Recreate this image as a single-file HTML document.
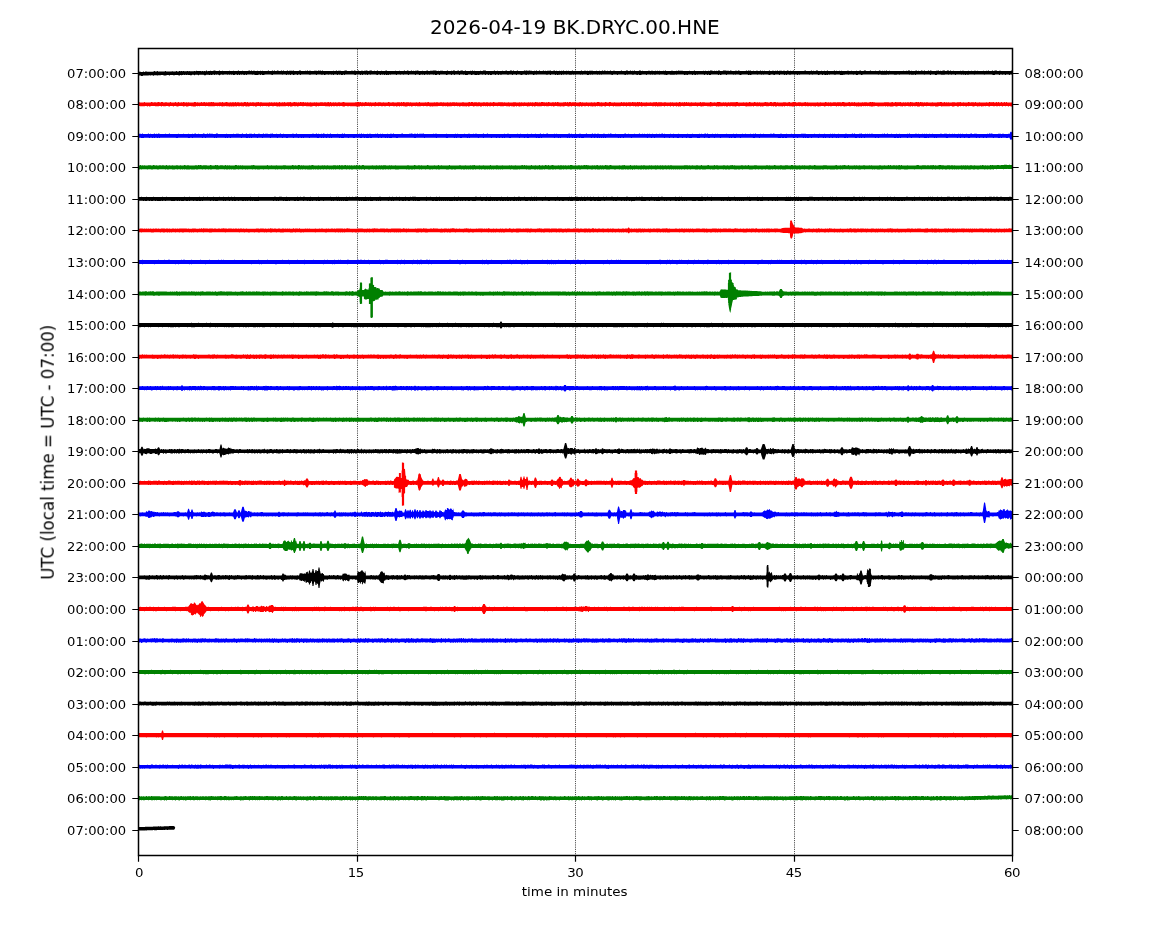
<!DOCTYPE html>
<html lang="en"><head><meta charset="utf-8"><title>2026-04-19 BK.DRYC.00.HNE</title>
<style>
html,body{margin:0;padding:0;background:#fff;}
svg{display:block;}
text{font-family:'DejaVu Sans','Liberation Sans',sans-serif;fill:#000;}
.g{will-change:transform;}
.t{font-size:13.33px;}
</style></head><body>
<svg width="1150" height="950" viewBox="0 0 1150 950">
<rect width="1150" height="950" fill="#fff"/>
<g stroke="#000" stroke-width="0.95" stroke-dasharray="0.7 1.14" fill="none">
<path d="M357.5 855.5V48.5"/>
<path d="M575.5 855.5V48.5"/>
<path d="M794.5 855.5V48.5"/>
</g>
<path fill="#000000" d="M138 72h.8l.2-.3h.5l.3-.1l.2 .2h.8l.2 .2h1.8l.2-.4h.8l.2 .4l.8-.1l.2-.3h1.8l.2 .2h3.8l.4-.1h1.8l.5-.1h.3l.2-.5h.8l.2 .3h.8l.2 .2l.5-.1h.3l.2-.4h.8l.2 .6l.5-.1h1.3l.4-.1h.6l.4 .1h1.6l.4-.1h1.6l.2-.4h.8l.2 .3h2.8l.4 .1h2.3l.7-.3h.6l.2 .2h2.8l.2-.3h.8l.2 .3h1.8l.2-.4h.8l.2 .3h.8l.2-.3h.8l.2 .2h.8l.4-.1h.6l.2 .2h.8l.4-.1h1.6l.2-.3h.8l.2 .4h.8l1-.2l.2 .2h.8l.4-.1h2.6l.2-.3h.8l.2 .3h.8l.2-.5h.8l.2 .4h2.8l.4-.1h.6l.2 .2h.8l.4-.1h.6l.4 .1h.6l.4-.1h.6l.4 .1h.6l.2-.6h.8l.2 .6h.8l.2-.2h.8l.4 .1h.6l.2-.3l.8-.1l.2 .3h.8l.4 .1h.6l.2-.3h.8l.2-.2h.8l.4 .1h.6l.2 .3h.8l.4 .1h1.6l.2-.5h.8l.2 .4h.8l.4 .1h.6l.2-.4h.8l.2 .2h.8l.4 .1h.6l.4 .1h1.3l.3-.1l.4 .1h1.6l.2-.4h.8l.2 .3h1.8l.4 .1h.6l.2-.3h.8l.2 .3h.8l.4-.1h.6l.4 .1h1.6l.2-.6h.8l.2 .4h.8l.4 .1h1.6l.2-.3h.8l.2 .3h.8l.4-.1h1.6l.4 .1h1.6l.2-.2h.8l.2-.2h.8l.2 .4h.8l.2-.4h.5l.3-.1l.2 .5h.8l.2-.2h.8l.4-.1h.6l.2 .3h1.8l.2-.3h.8l.2 .3h.8l.4-.1h.6l.2-.2h.8l.2 .2h.8l.4-.1h.6l.2 .2h4.8l.2-.5h.8l.2 .4h.8l.4 .1h1.6l.2-.5h.8l.2 .5h.8l.2-.6h.8l.2 .5h1.8l.2-.3h.8l.2 .2h.8l.4 .1h.6l.4 .1h.6l.2-.4h.8l.2 .4h.8l.2-.5h.8l.2 .5h1.8l.4-.1h.6l.2-.4h.8l.2 .5h.8l.2-.3h.8l.4 .1h1.6l.4 .1l.6-.1l.2-.4h.8l.2 .6h4.8l.2-.5h.8l.4 .1h.6l.2 .4h.8l.4-.1h2.6l.4-.1h.6l.2 .2h.8l.2-.5h.8l.2 .4h.8l.4-.1h1.6l.2 .2h1.8l.4-.1h.6l.2-.2h1.8l.4 .1h.6l.2 .2h.8l.2-.5h.8l.2 .2h.8l.4-.1h.6l.2 .3h.8l.2-.4h.8l.2 .5h5.8l.4-.1h.6l.4 .1h.6l.4-.1h.6l.4 .1h.6l.2-.2h.8l.2 .2h1.8l.2-.5h.8l.2 .4h.8l.2-.2h.8l.4 .1h1.6l.2 .2h.8l.4-.1h.6l.4 .1h.6l.2-.3h.8l.2-.2h.8l.4 .1h.6l.2 .4h3.8l.2-.2h.8l.4-.1h.6l.2 .3h.8l.2-.4h.8l.4 .1h.6l.2 .3h.8l.2-.3h.8l.4-.1h.6l.2 .4h.8l.4-.1h.6l.4-.1h1.6l.2 .2h.8l.2-.2h1.8l.2-.2h.8l.4 .1h.6l.2 .3h.8l.2-.2h.8l.2-.2h1.8l.2 .4h1.8l.2-.2h.8l.2 .2h.8l.4-.1h.6l.2-.4h.8l.2 .4h.8l.4 .1h.6l.4-.1h.6l.4-.1h.6l.2 .2h.8l.4-.1h.6l.4 .1h.6l.2-.2h.8l.2-.2h.8l.2 .3h.8l.4 .1h.6l.4-.1h.6l.4 .1h2.6l.4-.1h.6l.4 .1h.6l.2-.3h.8l.2 .2h.8l.4 .1h1.6l.2-.3h.8l.2 .3h3.8l.2-.5h.8l.2 .5h1.8l.2-.4h.8l.2 .2h.8l.2 .2h.8l.4-.1h.6l.2-.3h.8l.2 .3h.8l.4-.1h.6l.2 .2h.8l.2-.3h1.8l.4-.1h.6l.2 .2h.8l.2 .2h1.8l.4-.1h.6l.2-.2h.8l.2 .3h1.8l.4-.1h.6l.2-.2h.8l.2-.2h.8l.2 .5h1.8l.2-.3h.8l.4 .1h1.6l.2-.4h.8l.4 .1h.6l.4 .1h.6l.4 .1h.6l.2 .2h.8l.4-.1h.6l.2 .2h.8l.2-.3h1.8l.4 .1h.6l.4 .1h2.6l.4 .1h.6l.2-.4h.8l.2 .3h2.8l.4-.1h.6l.4 .1h.6l.2-.3h.8l.4-.1h.6l.2 .4h.8l.4 .1h.6l.2-.3h.8l.2-.3h.8l.2 .6h.8l.2-.2h.8l.2-.2h.8l.4-.1h.6l.2 .5h1.8l.2-.6h.8l.2 .6h1.8l.4-.1h1.6l.2-.2h.8l.2 .3h.8l.2-.5h.8l.2 .5h.8l.2-.3h.8l.2 .3h.8l.4-.1h.6l.4 .1h2.6l.2-.2h.8l.4 .1h.6l.4 .1h.6l.2-.6h.8l.2 .2h.8l.4-.1h.6l.2 .5h.8l.4-.1h.6l.4 .1h2.6l.4-.1h.6l.4 .1h1.6l.2-.4h.8l.2 .3h.8l.4 .1h.6l.2-.2h.8l.2 .2h.8l.4-.1h.6l.4 .1h.6l.4-.1h.6l.4-.1h.6l.4 .1h1.6l.2-.2h.8l.4-.1h.6l.2 .4h2.8l.2-.6h.8l.4 .1h.6l.2 .5h.8l.2-.6h.8l.2 .6h.8l.4-.1h1.6l.2-.4h.8l.2 .5h1.8l.4-.1h.6l.4 .1h1.6l.4-.1h.6l.2-.3h.8l.4 .1h.6l.4-.1h.6l.4 .1h.6l.4 .1h.6l.2-.2h.8l.2 .2h.8l.4-.1h.6l.2 .3h1.8l.2-.3h.8l.2 .3h.8l.2-.5h.8l.2 .4h.8l.4 .1h.6l.2-.5h.8l.2 .5h.8l.4-.1h.6l.4 .1h.6l.2-.6h.8l.2 .5h.8l.2-.2h.8l.2 .3h.8l.2-.3h.8l.4 .1h1.6l.2-.3h.8l.2 .4h1.8l.4-.1h.6l.2-.2h.8l.2 .4h.8l.2-.2h.8l.2 .2h.8l.4-.1h.6l.2-.2h.8l.2 .3h.8l.2-.3h.8l.2 .3h.8l.2-.5h.8l.2 .4h1.8l.4-.1h.6l.4 .1h.6l.2-.2h.8l.2 .3h.8l.4-.1h1.6l.2-.4h.8l.2 .5h.8l.4-.1h.6l.4-.1h.6l.4 .1h.6l.4 .1h.6l.4-.1h.6l.4 .1h1.6l.2-.4h.8l.2 .4h.8l.4-.1h.6l.2-.2h.8l.4 .1h.6l.4 .1h.6l.2-.2h.8l.2 .2h.8l.4-.1h.6l.4-.1h.6l.4 .1h1.6l.4 .1h2.6l.2-.2h.8l.2 .2h1.8l.2-.2h.8l.2 .2h.8l.4 .1h.6l.2-.4h.8l.2 .3h.8l.2-.3h.8l.4 .1h.6l.2 .2h.8l.4-.1h.6l.2 .2h.8l.4-.1h.6l.2-.3h.8l.2 .3h1.8l.4-.1h1.6l.4 .1h1.6l.4 .1h2.6l.4-.1h.6l.2-.5h.8l.2 .6h.8l.4-.1h2.6l.2-.4h.8l.4 .1h.6l.2 .3h.8l.4 .1h.6l.2-.4h.8l.2 .3h.8l.4-.1h.6l.2 .2h.8l.2-.4h.8l.2 .4h.8l.4-.1h.6l.4 .1h.6l.4-.1h.6l.2-.3h1.8l.2 .3h.8l.2-.2h.8l.2 .2h2.8l.4 .1h1.6l.2-.2h.8l.4-.1h.6l.2 .3h.8l.2-.3h1.8l.2 .2h.8l.4 .1h.6l.2-.2h.8l.2 .2h.8l.2-.2h.8l.4 .1h.6l.4-.1h.6l.2 .2h.8l.4-.1h1.6l.4-.1h.6l.2 .2h.8l.2-.6h.8l.2 .6h3.8l.4-.1h.6l.2-.2h.8l.4 .1h.6l.2 .2h2.8l.2-.3h.8l.2 .2h.8l.2-.4h.8l.2 .3h1.8l.4-.1h1.6l.2 .3h1.8l.4-.1h1.6l.4 .1h.6l.4-.1h.6l.4-.1h.6l.2 .2h3.8l.2-.6h.8l.2 .6h2.8l.4-.1h.6l.4 .1h.6l.4-.1h.6l.4 .1h1.6l.2-.3h.8l.2 .3h.8l.2-.2h.8l.4 .1h1.6l.2-.2h.8l.2 .3h.8l.2-.5h.8l.4 .1h.6l.2 .2h.8l.2 .2h.8l.2-.2h.8l.4 .1h.6l.2-.2h.8l.2 .3h.8l.2-.5h.8l.4 .1h.6l.2 .4h2.8l.2-.4h.8l.4-.1h.6l.4-.1h.6l.2 .4h2.8l.4 .1h.6l.2-.4h.8l.2 .3h.8l.2 .2h.8l.4-.1h.6l.4 .1h.6l.2-.2h1.8l.4 .1h.6l.2-.3h.8l.4 .1h.6l.2 .3h4.8l.4-.1h.6l.2-.4h.8l.2 .5h.8l.2-.5h.8l.2 .3h.8l.2-.2h.8l.2 .3h.8l.4 .1h.6l.2-.3h.8l.2 .3h1.8l.2-.3h.8l.4 .1h.6l.2 .2h1.8l.2-.5h.8l.2 .5h.8l.2-.2h.8l.2 .2h.8l.2-.3h.8l.2 .3h.8l.4-.1h.6l.4 .1h.6l.4-.1h.6l.2-.3h.8l.2 .4h1.8l.2-.3h.8l.4 .1h.6l.2 .2h.8l.2-.2h.8l.4 .1h.6l.2-.3h.8l.2 .4h.8l.2-.3h.8l.4 .1h.6l.4-.1h.6l.2 .2h.8l.4-.1h1.6l.4 .1h.6l.4 .1h.6l.2-.6h.8l.2 .4h.8l.2 .2h.8l.2-.3h.8l.2 .3h.8l.4-.1h.6l.2-.3h.8l.2 .3h.8l.4 .1h6.6l.4-.1h.6l.4 .1h.6l.2-.3h.8l.2-.2h.8l.2 .5h.8l.4-.1h1.6l.4 .1h1.6l.2-.4h.8l.2 .3h.8l.2-.2h.8l.2 .3h.8l.4-.1h.6l.2-.3h1.8l.2 .4h.8l.4-.1h1.6l.2-.2h.8l.2 .3h1.8l.2-.3h.8l.2 .2h1.8l.2-.5h.8l.2 .6h1.8l.4-.1h.6l.4 .1h1.6l.4-.1h.6l.2-.4h.8l.2 .4h.8l.4-.1h.6l.2 .2h.8l.4-.1h.6l.2-.2h.8l.2 .2h.8l.2-.2h.8l.2 .2h.8l.4 .1h.6l.4-.1h1.6l.4 .1h.6l.2-.2h.8l.4-.1h.6l.2 .3h.8l.4-.1h.6l.2-.2h.8l.2 .2h.8l.4 .1h.6l.4-.1h1.6l.4-.1h.6l.4 .1h.6l.4 .1h.6l.2-.3h.8l.2-.2h.8l.2 .5h2.8l.2-.4h.8l.4-.1h.6l.2 .5h2.8l.4-.1h.6l.2-.4h.8l.2 .5h1.8l.4-.1h1.6l.2-.2h.8l.2 .2h.8l.4 .1h1.6l.2-.6h.8l.2 .3h.8l.2 .3h.8l.2-.3h.8l.2 .3h.8l.2-.3h.8l.2 .3h.8l.2-.4h.8l.2 .4h.8l.4-.1h.6l.4-.1h.6l.4 .1h.6l.4 .1h5.6l.4-.1h.6l.4 .1h.6l.4-.1h.6l.4 .1h2.6l.2-.3h.8l.2 .3h.8l.4-.1h.6l.2-.2h.8l.2 .2h.8l.2-.3h.8l.4-.1h.6l.2 .5h.8l.2-.3h.8l.2 .3h1.8l.4-.1h.6l.4-.1h.6l.2-.3h.8l.2 .5h.8l.2-.2h.8l.4 .1h.6l.4 .1h.6l.2-.6h.8l.2 .4h.8l.2 .2h.8l.2-.5h.8l.2 .5h2.8l.2-.5h.8l.2 .5h.8l.2-.5h.8l.2 .3h.8l.2 .2h.8l.4-.1h2.6l.2-.2h.8l.4 .1h.6l.2-.4h.8l.2 .6h.8l.2-.3h.8l.2 .2h.8l.2-.2h.8l.4-.1h.6l.2-.2h.8l.2 .6h.8l.4-.1h.6l.2-.4h1.8l.2 .4h.8l.2-.4h.8l.2 .4h1.8l.2-.2h.8l.2 .2h3.8l.4 .1h1.6l.2-.3h.8l.2 .2h.8l.4-.1h.6l.4-.1h.6l.2 .3h3.8l.2-.3h.8l.2 .2h.8l.4 .1h.6l.2-.2h.8l.2 .2h1.8l.2-.2h.8l.4-.1h.6l.2 .3h.8l.2-.2h.8l.2 .2h.8l.4-.1h1.6l.4 .1h1.6l.2-.2h.8l.4 .1h.6l.4 .1h.6l.2-.2h.8l.2 .2h.8l.2-.6h.8l.2 .6h2.8l.2-.6h.8l.2 .6h.8l.2-.2h.8l.2-.4h.8l.4 .1h.6l.2 .5h.8l.4-.1h.6l.4-.1h1.6l.2 .2h3.8l.4-.1h.6l.4 .1h4.6l.2-.5h.8l.2 .4h.5v4h-.5l-.2-.4h-1.8l-.2 .4h-.8l-.2-.4h-.6l-.4 .1h-.6l-.4-.1h-.8l-.2 .5h-.8l-.2-.5h-.6l-.4 .1h-.6l-.4 .1h-.8l-.2-.2h-1.8l-.2 .5h-.8l-.2-.5h-3.8l-.2 .4h-.6l-.4 .1h-.8l-.2-.3h-.6l-.4-.1h-.6l-.4-.1h-2.6l-.4 .1h-.6l-.4-.1h-1.8l-.2 .3h-.8l-.2-.3h-6.6l-.4 .1h-.6l-.4-.1h-.8l-.2 .3h-.8l-.2-.3h-.6l-.4 .1h-1.6l-.4-.1h-1.8l-.2 .3h-.6l-.4-.1h-.8l-.2-.2h-.8l-.2 .4h-.8l-.2-.4h-.8l-.2 .2h-.8l-.2-.2h-.8l-.2 .3h-.8l-.2-.3h-.6l-.4 .1h-.6l-.4-.1h-2.8l-.2 .6h-.8l-.2-.6h-2.8l-.2 .3h-.8l-.2-.3h-1.8l-.2 .2h-.6l-.4-.1h-.6l-.4-.1h-1.8l-.2 .2h-1.6l-.4 .1h-.6l-.4-.1h-.8l-.2-.2h-3.8l-.2 .5h-.6l-.4-.1h-.8l-.2-.4h-1.6l-.4 .1h-.6l-.4-.1h-.8l-.2 .5h-.8l-.2-.5h-4.8l-.2 .3h-.8l-.2-.3h-2.6l-.4 .1h-1.6l-.4-.1h-1.6l-.4 .1h-.8l-.2 .4h-.8l-.2-.5h-.8l-.2 .2h-2.8l-.2-.2h-.8l-.2 .2h-.6l-.4-.1h-1.6l-.4-.1h-.6l-.4 .1h-.6l-.4-.1h-4.8l-.2 .3h-.8l-.2-.2h-.6l-.4-.1h-.8l-.2 .3h-.6l-.4-.1h-1.8l-.2-.2h-4.8l-.2 .2h-.8l-.2-.2h-.8l-.2 .2h-1.6l-.4 .1h-1.6l-.4-.1h-1.8l-.2-.2h-.6l-.4 .1h-.8l-.2 .2h-.8l-.2-.3h-.6l-.4 .1h-1.6l-.4-.1h-10.6l-.4 .1h-.6l-.4 .1h-.8l-.2 .2h-.8l-.2-.4h-.6l-.4 .1h-1.8l-.2 .3h-1.8l-.2-.4h-1.8l-.2 .2h-.8l-.2-.2h-3.8l-.2 .3h-.8l-.2-.3h-2.8l-.2 .2h-1.8l-.2 .3h-2.8l-.2-.5h-3.8l-.2 .3h-1.8l-.2-.3h-3.8l-.2 .3h-.8l-.2-.2h-.8l-.2 .3h-.6l-.4-.1h-.6l-.4 .1h-.8l-.2-.2h-.8l-.2-.2h-.8l-.2 .4h-.8l-.2-.4h-1.8l-.2 .3h-.6l-.4 .1h-.8l-.2-.4h-.6l-.4 .1h-.6l-.4-.1h-1.6l-.4 .1h-.8l-.2 .2h-.8l-.2-.3h-1.8l-.2 .3h-.8l-.2-.3h-7.6l-.4 .1h-.6l-.4 .1h-.8l-.2-.2h-.8l-.2 .5h-.8l-.2-.5h-1.8l-.2 .2h-.6l-.4-.1h-.6l-.4-.1h-1.8l-.2 .2h-.6l-.4 .1h-.8l-.2-.3h-1.8l-.2 .6h-.8l-.2-.5h-.8l-.2 .3h-.8l-.2-.4h-3.8l-.2 .4h-.8l-.2-.3h-.6l-.4-.1h-1.6l-.4 .1h-.8l-.2 .4h-.8l-.2-.2h-.8l-.2-.3h-1.8l-.2 .2h-.8l-.2 .4h-.8l-.2-.4h-.8l-.2-.2h-3.8l-.2 .2h-.6l-.4-.1h-.6l-.4 .1h-.8l-.2-.2h-2.8l-.2 .3h-.8l-.2-.3h-4.8l-.2 .2h-.8l-.2 .2h-.8l-.2-.2h-.8l-.2 .3h-.8l-.2-.5h-3.6l-.4 .1h-.6l-.4-.1h-.8l-.2 .3h-.8l-.2 .3h-.8l-.2-.4h-.8l-.2-.2h-.6l-.4 .1h-.6l-.4-.1h-.8l-.2 .3h-.8l-.2-.3h-.8l-.2 .2h-.8l-.2-.2h-1.6l-.4 .1h-.6l-.4-.1h-2.8l-.2 .5h-.8l-.2-.5h-1.6l-.4 .1h-.6l-.4-.1h-.8l-.2 .2h-.8l-.2 .4h-.8l-.2-.5h-.8l-.2 .4h-.8l-.2-.5h-5.6l-.4 .1h-.8l-.2 .3h-.6l-.4 .1h-.8l-.2-.5h-.8l-.2 .5h-.8l-.2-.5h-1.8l-.2 .6h-.8l-.2-.6h-2.6l-.4 .1h-.6l-.4-.1h-1.8l-.2 .3h-.8l-.2-.2h-.8l-.2 .3h-.8l-.2-.2h-.8l-.2-.2h-.8l-.2 .5h-.8l-.2-.5h-1.6l-.4 .1h-.6l-.4-.1h-.8l-.2 .6h-.8l-.2-.4h-1.8l-.2 .2h-.8l-.2-.4h-1.6l-.4 .1h-.6l-.4-.1h-2.6l-.4 .1h-.6l-.4 .1h-.8l-.2-.2h-.8l-.2 .3h-.6l-.4-.1h-2.6l-.4 .1h-.8l-.2-.3h-.6l-.4 .1h-.8l-.2 .2h-.8l-.2 .2h-.8l-.2-.2h-1.8l-.2-.3h-3.8l-.2 .2h-.8l-.2-.2h-2.8l-.2 .2h-1.8l-.2-.2h-.8l-.2 .3h-.8l-.2-.3h-.8l-.2 .2h-.8l-.2-.2h-2.8l-.2 .5h-.8l-.2-.4h-.6l-.4-.1h-1.6l-.4 .1h-.6l-.4 .1h-.8l-.2 .4h-.8l-.2-.2h-.8l-.2-.3h-.8l-.2 .5h-.8l-.2-.3h-.8l-.2-.3h-1.8l-.2 .2h-.6l-.4 .1h-.8l-.2-.3h-1.6l-.4 .1h-.6l-.4-.1h-.8l-.2 .3h-.8l-.2-.3h-.8l-.2 .6h-.8l-.2-.4h-.8l-.2-.2h-2.6l-.4 .1h-.6l-.4-.1h-1.8l-.2 .4h-.8l-.2-.4h-.6l-.4 .1h-.6l-.4-.1h-1.8l-.2 .4h-.8l-.2-.2h-.8l-.2-.2h-2.6l-.4 .1h-.6l-.4-.1h-.6l-.4 .1h-.6l-.4-.1h-.6l-.4 .1h-.6l-.4-.1h-.8l-.2 .2h-.8l-.2-.2h-.8l-.2 .2h-.6l-.4-.1h-.6l-.4 .1h-.6l-.4-.1h-.6l-.4-.1h-2.8l-.2 .2h-.8l-.2-.2h-.8l-.2 .3h-.8l-.2-.3h-.8l-.2 .4h-1.8l-.2-.3h-1.6l-.4-.1h-1.8l-.2 .2h-.8l-.2-.2h-.8l-.2 .2h-.8l-.2-.2h-1.6l-.4 .1h-1.6l-.4 .1h-.8l-.2-.2h-.8l-.2 .2h-.8l-.2-.2h-.8l-.2 .2h-.6l-.4 .1h-1.8l-.2-.3h-1.8l-.2 .2h-.6l-.4-.1h-.6l-.4-.1h-.8l-.2 .2h-.8l-.2-.2h-.8l-.2 .4h-.8l-.2-.3h-.8l-.2 .2h-.6l-.4-.1h-.8l-.2 .3h-.8l-.2-.5h-.8l-.2 .5h-.8l-.2-.4h-.6l-.4-.1h-.6l-.4 .1h-.6l-.4-.1h-.8l-.2 .4h-.8l-.2-.3h-.6l-.4-.1h-.8l-.2 .3h-1.8l-.2-.3h-4.6l-.4 .1h-.6l-.4-.1h-2.8l-.2 .2h-.8l-.2-.2h-.8l-.2 .2h-.8l-.2 .4h-.8l-.2-.5h-1.6l-.4-.1h-1.8l-.2 .3h-.8l-.2-.3h-.8l-.2 .5h-.8l-.2-.3h-.8l-.2-.2h-1.8l-.2 .2h-.8l-.2 .3h-.8l-.2-.3h-.6l-.4-.1h-.6l-.4-.1h-1.8l-.2 .5h-.8l-.2-.5h-.6l-.4 .1h-.6l-.4-.1h-.8l-.2 .4h-.8l-.2-.4h-1.6l-.4 .1h-.6l-.4 .1h-1.6l-.4-.1h-.6l-.4-.1h-.6l-.4 .1h-.6l-.4-.1h-1.8l-.2 .2h-1.6l-.4-.1h-.8l-.2 .3h-.8l-.2-.4h-1.8l-.2 .4h-.8l-.2-.4h-2.8l-.2 .4h-.8l-.2 .2h-.8l-.2-.6h-.8l-.2 .5h-.8l-.2-.4h-1.8l-.2 .5h-.8l-.2-.6h-1.8l-.2 .2h-.8l-.2-.2h-1.8l-.2 .3h-.6l-.4 .1h-.8l-.2-.2h-.8l-.2 .3h-.6l-.4-.1h-.8l-.2-.2h-.8l-.2-.2h-.8l-.2 .2h-.8l-.2 .3h-.8l-.2-.5h-2.8l-.2 .5h-.6l-.4-.1h-1.8l-.2-.4h-.8l-.2 .2h-.8l-.2-.2h-2.8l-.2 .5h-.8l-.2-.5h-.6l-.4 .1h-.6l-.4-.1h-1.8l-.2 .4h-.8l-.2-.3h-.6l-.4-.1h-.8l-.2 .6h-.8l-.2-.5h-.6l-.4-.1h-1.8l-.2 .3h-.6l-.4 .1h-.8l-.2-.3h-.6l-.4-.1h-1.6l-.4 .1h-.6l-.4-.1h-1.8l-.2 .4h-.8l-.2-.4h-1.8l-.2 .4h-.6l-.4 .1h-.8l-.2-.5h-.8l-.2 .3h-.8l-.2-.3h-.6l-.4 .1h-1.8l-.2 .2h-.8l-.2-.3h-.8l-.2 .3h-.8l-.2-.3h-1.8l-.2 .5h-.8l-.2-.5h-.8l-.2 .3h-.8l-.2-.3h-.8l-.2 .2h-.8l-.2 .2h-.8l-.2-.3h-.6l-.4-.1h-1.8l-.2 .5h-.8l-.2-.4h-1.6l-.4-.1h-2.6l-.4 .1h-.8l-.2 .3h-.8l-.2-.4h-2.6l-.4 .1h-.6l-.4 .1h-.6l-.4-.1h-1.8l-.2 .2h-.8l-.2-.3h-2.8l-.2 .5h-.8l-.2-.4h-1.6l-.4-.1h-2.8l-.2 .2h-.8l-.2-.2h-.8l-.2 .4h-.6l-.4-.1h-.6l-.4 .1h-.8l-.2-.3h-.8l-.2 .3h-.8l-.2-.4h-.8l-.2 .3h-.8l-.2-.3h-.8l-.2 .6h-.8l-.2-.5h-.6l-.4-.1h-.8l-.2 .4h-.8l-.2-.2h-.6l-.4-.1h-.6l-.4-.1h-.6l-.4 .1h-.6l-.4-.1h-1.8l-.2 .2h-.8l-.2-.2h-1.8l-.2 .4h-.8l-.2-.4h-.8l-.2 .3h-.8l-.2-.3h-.6l-.4 .1h-.8l-.2 .3h-.8l-.2-.4h-.8l-.2 .5h-.8l-.2-.5h-1.6l-.4 .1h-.6l-.4-.1h-.8l-.2 .5h-.8l-.2-.2h-.8l-.2-.2h-.6l-.4-.1h-2.6l-.4 .1h-.6l-.4-.1h-.6l-.4 .1h-.6l-.4-.1h-.6l-.4 .1h-.8l-.2 .5h-.8l-.2-.6h-.8l-.2 .5h-1.8l-.2-.5h-.8l-.2 .2h-.8l-.2-.2h-.8l-.2 .5h-.8l-.2-.5h-2.8l-.2 .4h-.8l-.2-.3h-.6l-.4 .1h-.6l-.4-.1h-.6l-.4-.1h-.8l-.2 .3h-.8l-.2-.3h-1.8l-.2 .2h-.8l-.2 .4h-.8l-.2-.6h-.8l-.2 .2h-.6l-.4 .1h-.8l-.2-.2h-.6l-.4-.1h-.6l-.4 .1h-.6l-.4-.1h-.8l-.2 .4h-.8l-.2-.4h-.6l-.4 .1h-1.6l-.4-.1h-.6l-.4 .1h-.8l-.2 .2h-1.8l-.2-.3h-1.6l-.4 .1h-1.6l-.4-.1h-3.8l-.2 .5h-.8l-.2-.5h-1.8l-.2 .6h-.8l-.2-.6h-1.8l-.2 .2h-.8l-.2 .2h-.8l-.2-.3h-.6l-.4-.1h-.8l-.2 .4h-.8l-.2-.4h-.8l-.2 .2h-.8l-.2-.2h-.8l-.2 .4h-.8l-.2-.3h-.6l-.4-.1h-1.8l-.2 .2h-.8l-.2-.2h-.6l-.4 .1h-2.6l-.4-.1h-4.8l-.2 .5h-.8l-.2-.2h-.8l-.2-.3h-2.6l-.4 .1h-.6l-.4-.1h-.6l-.4 .1h-.6l-.4 .1h-.8l-.2 .2h-1.8l-.2-.4h-.8l-.2 .6h-.8l-.2-.6h-.8l-.2 .3h-.8l-.2 .2h-.6l-.4 .1h-1.8l-.2-.4h-.8l-.2-.2h-.8l-.2 .2h-.8l-.2-.2h-1.6l-.4 .1h-2.8l-.2 .3h-.8l-.2-.4h-.8l-.2 .5h-.8l-.2-.3h-.6l-.4-.1h-.8l-.2 .2h-.8l-.2-.2h-.8l-.2 .3h-.8l-.2-.3h-.8l-.2 .3h-.8l-.2-.3h-1.8l-.2 .5h-.6l-.4-.1h-.8l-.2-.4h-.6l-.4 .1h-.6l-.4-.1h-.6l-.4 .1h-.6l-.4-.1h-.6l-.4 .1h-.6l-.4-.1h-2.8l-.2 .2h-.6l-.4-.1h-.6l-.4-.1h-.6l-.4 .1h-.8l-.2 .5h-.8l-.2-.5h-.6l-.4-.1h-.8l-.2 .2h-.8l-.2-.2h-.8l-.2 .4h-.8l-.2-.4h-.8l-.2 .2h-.6l-.4 .1h-.6l-.4-.1h-.8l-.2 .2h-.8l-.2-.3h-2.8l-.2 .5h-1.8l-.2-.5h-.6l-.4 .1h-1.6l-.4-.1h-.6l-.4 .1h-.8l-.2 .5h-.8l-.2-.6h-1.6l-.4 .1h-.8l-.2 .4h-.8l-.2-.4h-1.8l-.2 .4h-1.8l-.2-.3h-.6l-.4 .1h-.8l-.2-.2h-.6l-.4 .1h-.6l-.4-.1h-.6l-.4 .1h-.6l-.4-.1h-.6l-.4 .1h-.8l-.2 .3h-.8l-.2-.3h-.8l-.2 .5h-.8l-.2-.2h-.3l-.5 .1l-.2-.4h-1.6l-.4 .1h-.8l-.2 .2h-.6l-.4 .1h-.8l-.2-.2h-.6l-.4-.1h-1.8l-.2 .4h-.8l-.2-.4h-.6l-.4 .1h-.6l-.4 .1h-.8l-.2 .2h-.8l-.2 .2h-.8l-.2-.4h-.6l-.4-.1h-1.8l-.2 .2h-.6l-.4-.1h-.6l-.4 .1h-.8l-.2 .2h-.8l-.2-.3h-1.8l-1 .1l-.2 .4h-.8l-.2-.4h-1.8l-.2 .2h-.8l-.2-.2h-.8l-.5 .1h-3l-.5 .1l-.2-.1l-1 .2h-.8l-.2 .3h-.8l-.2 .2h-.8l-.2-.5h-1.8l-.2 .2h-.8z"/>
<path fill="#ff0000" d="M138 102.1h.8l.4 .1h.6l.2 .2h3.8l.2-.3h.8l.2 .3h5.8l.2-.3h.8l.2 .2h.8l.4 .1h.6l.2-.2h1.8l.2 .2h.8l.2-.2h.8l.4-.1h.6l.2 .2h.8l.4 .1h.6l.2-.3h1.8l.2 .3h1.8l.2-.2h.8l.4 .1h.6l.4 .1h2.6l.2-.3h.8l.2 .3h3.8l.2-.4h.8l.2 .4h1.8l.2-.3h.8l.2 .3h1.8l.2-.2h.8l.2 .2h.8l.2-.3h.8l.4 .1h.6l.2 .2h.8l.4-.1h.6l.4 .1h.6l.4-.1h.6l.4 .1h4.6l.2-.3h1.8l.2 .3h.8l.4-.1h.6l.4 .1h2.6l.2-.3h.8l.2 .3h.8l.4-.1h.6l.2-.2h.8l.2 .3h.8l.2-.2h.8l.2 .2h.8l.4-.1h.6l.4-.1h1.6l.4-.1h.6l.2 .2h.8l.2-.3h.8l.2 .4h4.8l.4-.1h.6l.4-.1h.6l.2 .2h.8l.2-.3h.8l.2 .3h1.8l.2-.2h.8l.4-.1h.6l.2 .2h.8l.4 .1h1.6l.2-.2h.8l.2 .2h.8l.2-.2h1.8l.2 .2h.8l.2-.3h.8l.2 .3h.8l.4-.1h1.6l.4 .1h1.6l.4-.1h.6l.4 .1h1.6l.2-.4h.8l.4 .1h.6l.2 .3h.8l.2-.3h.8l.2 .3h1.8l.2-.2h.8l.2 .2h.8l.4-.1h.6l.4-.1h.6l.2 .2h1.8l.2-.2h.8l.4 .1h.6l.2-.2h.8l.2 .3h.8l.2-.2h1.8l.2 .2h6.8l.2-.2h.8l.2 .2h.8l.4-.1h.6l.4 .1h1.6l.4-.1h.6l.4 .1h.6l.4-.1h.6l.4 .1h1.6l.2-.3h.8l.2 .3h1.8l.4-.1h.6l.4 .1h.6l.2-.3h.8l.2 .3h1.8l.2-.2h1.8l.4 .1h.6l.2-.2h.8l.2 .3h1.8l.4-.1h.6l.2-.2h.8l.2 .2h1.8l.4 .1h.6l.4-.1h.6l.4 .1h.6l.2-.3h.8l.4 .1h.6l.4 .1h.6l.2-.2h.8l.2 .3h.8l.2-.2h.8l.2 .2h.8l.4-.1h.6l.4 .1h1.6l.2-.2h.8l.2 .2h2.8l.2-.2h.8l.2 .2h.8l.2-.2h.8l.2 .2h2.8l.4-.1h.6l.4-.1h1.6l.2 .2h.8l.4-.1h1.6l.4 .1h.6l.2-.2h.8l.4-.1h.6l.2 .3h.8l.2-.3h.8l.2 .3h1.8l.2-.2h.8l.2 .2h.8l.4-.1h.6l.4 .1h1.6l.4-.1h1.6l.4 .1h1.6l.2-.2h.8l.4-.1h.6l.4 .1h.6l.2 .2h9.8l.4-.1h1.6l.2-.2h1.8l.2 .2h.8l.2-.2h.8l.2 .3h.8l.2-.2h.8l.2 .2h1.8l.2-.4h.8l.2 .3h.8l.4 .1h.6l.2-.2h.8l.2 .2h.8l.2-.2h.8l.2 .2h3.8l.2-.3h.8l.2 .3h1.8l.4-.1h1.6l.4-.1h.6l.2 .2h1.8l.2-.2h.8l.2 .2h3.8l.2-.3h.8l.2 .2h.8l.4 .1h1.6l.4-.1h1.6l.4 .1h2.6l.2-.2h.8l.4 .1h.6l.4-.1h.6l.2 .2h.8l.2-.3h.8l.2 .3h.8l.2-.3h.8l.2 .2h.8l.4 .1h.6l.2-.2h.8l.4 .1h1.6l.4 .1h.6l.4-.1h.6l.4 .1h4.6l.2-.2h.8l.2 .2h1.8l.2-.4h.8l.2 .4h4.8l.2-.2h.8l.2 .2h.8l.2-.2h.8l.2-.2h.8l.2 .4h4.8l.2-.2h.8l.2 .2h.8l.2-.2h.8l.4 .1h.6l.4 .1h1.6l.4-.1h1.6l.4 .1h.6l.2-.2h.8l.2 .2h2.8l.4-.1h.6l.4 .1h1.6l.2-.2h.8l.2 .2h.8l.4-.1h2.6l.4 .1h.6l.4-.1h.6l.4 .1h4.6l.4-.1h1.6l.4 .1h3.6l.4-.1h.6l.2-.2h.8l.2 .3h.8l.2-.3h.8l.4-.1h.6l.2 .4h.8l.4-.1h.6l.4-.1h.6l.4 .1h.6l.4 .1h.6l.4-.1h.6l.4-.1h.6l.2 .2h2.8l.2-.2h1.8l.2 .2h.8l.4-.1h1.6l.4 .1h1.6l.4-.1h.6l.4 .1h1.6l.2-.3h.8l.2 .2h.8l.4 .1h2.6l.2-.2h.8l.4 .1h.6l.4-.1h.6l.4 .1h1.6l.4 .1h.6l.4-.1h.6l.4 .1h2.6l.4-.1h.6l.4 .1h3.6l.2-.2h.8l.4 .1h1.6l.4 .1h2.6l.2-.2h.8l.2 .2h.8l.4-.1h.6l.4 .1h1.6l.4-.1h.6l.4 .1h2.6l.4-.1h.6l.4 .1h.6l.4-.1h.6l.4 .1h.6l.4-.1h.6l.4 .1h1.6l.2-.3h.8l.2 .2h1.8l.4 .1h.6l.2-.2h.8l.2 .2h.8l.2-.4h.8l.4 .1h.6l.2 .2h.8l.4-.1h.6l.2 .2h.8l.4-.1h.6l.4 .1h.6l.2-.4h.8l.2 .2h.8l.2 .2h1.8l.4-.1h.6l.4-.1h.6l.2 .2h.8l.2-.3h.8l.2 .3h.8l.2-.4h.8l.2 .3h.8l.4 .1h3.6l.4-.1h.6l.4-.1h.6l.4-.1h.6l.2 .3h.8l.2-.3h.8l.2 .3h.8l.2-.3h1.8l.2 .3h.8l.2-.2h.8l.4 .1h1.6l.4-.1h.6l.2 .2h2.8l.2-.2h.8l.4-.1h.6l.2 .3h.8l.2-.2h.8l.2 .2h2.8l.4-.1h.6l.4 .1h3.6l.2-.2h.8l.2 .2h1.8l.4-.1h.6l.4 .1h1.6l.2-.3h.8l.4-.1h.6l.2 .2h.8l.2 .2h.8l.2-.2h.8l.2 .2h2.8l.2-.3h.8l.4 .1h.6l.2 .2h1.8l.2-.3h.8l.4-.1h.6l.2 .4h2.8l.4-.1h.6l.4 .1h5.6l.2-.3h.8l.2 .3h.8l.4-.1h.6l.4-.1h.6l.2 .2h.8l.4-.1h.6l.4 .1h.6l.4-.1h2.6l.4 .1h.6l.2-.3h.8l.4 .1h.6l.4 .1h1.6l.4 .1h.6l.2-.3h.8l.2 .2h.8l.2-.2h.8l.2 .3h.8l.2-.4h.8l.2 .4h3.8l.2-.2h.8l.2 .2h2.8l.2-.2h.8l.2 .2h1.8l.2-.2h.8l.4 .1h1.6l.2-.3h.8l.2 .4h.8l.4-.1h3.6l.4 .1h1.6l.2-.2h.8l.4 .1h.6l.4 .1h3.6l.4-.1h.6l.4 .1h.6l.2-.2h.8l.2 .2h2.8l.2-.2h.8l.2 .2h1.8l.2-.3h.8l.2 .2h.8l.4 .1h.6l.2-.2h.8l.2 .2h.8l.2-.3h.8l.2 .3h.8l.2-.4h.8l.2 .4h.8l.4-.1h.6l.4 .1h1.6l.4-.1h.6l.4 .1h2.6l.4-.1h.6l.4 .1h3.6l.2-.3h.8l.2 .3h.8l.4-.1h1.6l.4-.1h.6l.2 .2h4.8l.2-.3h.8l.2 .2h.8l.4 .1h1.6l.2-.2h.8l.2 .2h1.8l.2-.4h.8l.4 .1h1.6l.4 .1h.6l.2 .2h1.8l.4-.1h.6l.4 .1h.6l.4-.1h.6l.4 .1h1.6l.4-.1h.6l.4 .1h.6l.4-.1h.6l.4-.1h1.6l.4 .1h.6l.4-.1h.6l.4 .1h.6l.2-.2h1.8l.2 .3h4.8l.2-.2h.8l.2 .2h1.8l.2-.2h.8l.2 .2h1.8l.2-.3h.8l.4 .1h.6l.2 .2h2.8l.2-.4h.8l.2 .2h.8l.2 .2h.8l.4-.1h.6l.4 .1h.6l.4-.1h.6l.4 .1h3.6l.2-.2h.8l.4-.1h.6l.2 .2h1.8l.4 .1h1.6l.2-.3h.8l.4-.1h.6l.2 .4h.8l.2-.2h.8l.4-.1h.6l.4-.1h.6l.2 .4h.8l.4-.1h.6l.4 .1h4.6l.2-.2h.8l.4 .1h.6l.4-.1h.6l.2 .2h1.8l.4-.1h.6l.2-.2h.8l.2 .3h1.8l.4-.1h.6l.2-.2h.8l.4 .1h.6l.4-.1h.6l.2 .3h1.8l.2-.2h2.8l.2 .2h2.8l.2-.2h.8l.4-.1h.6l.2 .3h.8l.2-.2h.8l.2 .2h8.8l.2-.2h.8l.2 .2h1.8l.4-.1h.6l.4 .1h3.6l.2-.3h.8l.4 .1h.6l.2 .2h.8l.2-.2h.8l.2 .2h.8l.4-.1h.6l.4 .1h1.6l.4-.1h.6l.4-.1h1.6l.2 .2h.8l.2-.2h.8l.4 .1h1.6l.4-.1h.6l.2 .2h.8l.2-.3h1.8l.4 .1h.6l.2 .2h2.8l.2-.2h.8l.4-.1h.6l.2 .3h.8l.4-.1h1.6l.4 .1h.6l.2-.3h.8l.2 .3h2.8l.2-.2h.8l.2 .2h2.8l.4-.1h.6l.4 .1h.6l.2-.2h.8l.4 .1h1.6l.4 .1h1.6l.2-.2h.8l.4-.1h.6l.2 .2h.8l.2-.2h.8l.2 .2h1.8l.4 .1h8.6l.4-.1h.6l.4-.1h.6l.4 .1h2.6l.4 .1h1.6l.2-.2h.8l.4-.1h.6l.2 .3h1.8l.2-.3h.8l.4 .1h.6l.4 .1h.6l.4-.1h.6l.4 .1h.6l.2-.2h.8l.2 .3h1.8l.4-.1h.6l.4 .1h.6l.4-.1h.6l.4 .1h.6l.4-.1h.6l.4-.1h.6l.2 .2h.8l.2-.4h.8l.2 .3h.8l.4-.1h.6l.2 .2h1.8l.4-.1h.6l.2-.2h.8l.2 .2h.8l.2-.2h.8l.2 .3h.8l.2-.3h.8l.4 .1h.6l.4 .1h.6l.4 .1h.6l.4-.1h.6l.4 .1h.6l.4-.1h1.6l.4 .1h3.6l.2-.2h.8l.2 .2h3.8l.4-.1h.6l.4-.1h1.6l.4-.1h1.6l.2 .3h1.8l.2-.3h.8l.2 .3h.8l.4-.1h.6l.4 .1h.6l.2-.2h.8l.2 .2h2.8l.2-.2h.8l.4 .1h1.6l.4 .1h1.6l.2-.2h1.8l.4 .1h.6l.2-.3h.8l.2 .4h1.8l.4-.1h.6l.4 .1h3.6l.2-.3h.8l.4 .1h.6l.2 .2h.8l.2-.2h2.8l.2 .2h.8l.2-.3h.8l.2 .3h2.8l.4-.1h.6l.4 .1h5.6l.4-.1h.6l.4 .1h1.6l.2-.3h.8l.2 .2h.8l.4-.1h1.6l.4-.1h.6l.2 .3h1.8l.2-.3h.8l.2 .3h.8l.2-.3h.8l.2 .3h1.8l.2-.3h.8l.2 .3h1.8l.2-.3h.8l.2 .3h.8l.2-.3h.8l.2 .3h4.8l.2-.3h.5v4.4h-.3l-.4-.1h-.8l-.2-.2h-.6l-.4-.1h-.8l-.2 .3h-.8l-.2-.3h-1.6l-.4 .1h-.6l-.4-.1h-1.8l-.2 .4h-.8l-.2-.4h-1.6l-.4 .1h-.6l-.4-.1h-.6l-.4 .1h-1.6l-.4-.1h-.8l-.2 .2h-.6l-.4-.1h-.6l-.4-.1h-2.8l-.2 .3h-.8l-.2-.2h-.6l-.4-.1h-1.8l-.2 .2h-.8l-.2-.2h-.6l-.4 .1h-1.8l-.2 .2h-.8l-.2-.3h-.6l-.4 .1h-1.8l-.2 .3h-.8l-.2-.4h-1.8l-.2 .2h-.6l-.4 .1h-.8l-.2-.2h-.6l-.4-.1h-2.8l-.2 .2h-.8l-.2-.2h-.8l-.2 .3h-.6l-.4-.1h-.8l-.2-.2h-.8l-.2 .2h-.8l-.2-.2h-1.6l-.4 .1h-.6l-.4-.1h-.8l-.2 .4h-.6l-.4-.1h-.8l-.2-.3h-1.8l-.2 .2h-.6l-.4 .1h-1.8l-.2-.3h-1.8l-.2 .2h-.6l-.4-.1h-1.6l-.4 .1h-2.6l-.4-.1h-1.8l-.2 .2h-.8l-.2-.3h-1.8l-.2 .2h-.6l-.4 .1h-2.8l-.2-.3h-.8l-.2 .2h-1.6l-.4-.1h-1.6l-.4-.1h-2.8l-.2 .2h-.8l-.2-.2h-1.8l-.2 .3h-.8l-.2-.2h-1.6l-.4-.1h-.8l-.2 .4h-2.8l-.2-.4h-.8l-.2 .2h-.6l-.4-.1h-.6l-.4-.1h-.8l-.2 .3h-.8l-.2-.3h-.8l-.2 .3h-.8l-.2-.2h-1.6l-.4-.1h-1.6l-.4 .1h-1.6l-.4-.1h-.8l-.2 .3h-.6l-.4-.1h-.6l-.4-.1h-.6l-.4-.1h-1.6l-.4 .1h-.8l-.2 .3h-.8l-.2-.2h-.8l-.2-.2h-.6l-.4 .1h-.8l-.2 .3h-1.6l-.4-.1h-.6l-.4-.1h-1.6l-.4 .1h-.8l-.2-.3h-.8l-.2 .3h-.8l-.2-.3h-.6l-.4 .1h-.6l-.4 .1h-.6l-.4-.1h-1.6l-.4 .1h-.6l-.4 .1h-.6l-.4-.1h-.8l-.2-.2h-1.8l-.2 .2h-.6l-.4-.1h-.8l-.2 .2h-1.8l-.2-.2h-1.6l-.4-.1h-.8l-.2 .2h-.8l-.2-.2h-.8l-.2 .2h-.8l-.2-.2h-.6l-.4 .1h-.6l-.4-.1h-.8l-.2 .4h-.8l-.2-.2h-.6l-.4-.1h-.8l-.2 .2h-.6l-.4-.1h-.8l-.2 .2h-.8l-.2-.4h-.6l-.4 .1h-.6l-.4-.1h-2.8l-.2 .2h-1.8l-.2-.2h-1.6l-.4 .1h-1.8l-.2 .3h-.8l-.2-.2h-.8l-.2-.2h-.8l-.2 .2h-1.8l-.2-.2h-.8l-.2 .2h-.8l-.2-.2h-.8l-.2 .3h-.8l-.2-.3h-3.8l-.2 .2h-.6l-.4-.1h-.6l-.4-.1h-.6l-.4 .1h-.6l-.4-.1h-1.6l-.4 .1h-.8l-.2 .2h-.8l-.2-.3h-2.8l-.2 .2h-.6l-.4-.1h-.8l-.2 .3h-.8l-.2-.3h-.6l-.4-.1h-.8l-.2 .4h-.8l-.2-.3h-1.6l-.4-.1h-.6l-.4 .1h-.6l-.4 .1h-.8l-.2-.2h-.6l-.4 .1h-.6l-.4 .1h-.8l-.2-.2h-.6l-.4 .1h-.6l-.4-.1h-1.8l-.2 .2h-1.8l-.2-.2h-.8l-.2 .2h-.8l-.2-.2h-1.6l-.4 .1h-.6l-.4-.1h-1.8l-.2 .3h-1.8l-.2-.2h-2.6l-.4-.1h-.6l-.4 .1h-.6l-.4-.1h-1.8l-.2 .3h-.8l-.2-.3h-.8l-.2 .3h-.6l-.4-.1h-.6l-.4-.1h-1.6l-.4 .1h-.8l-.2-.2h-.8l-.2 .3h-.6l-.4 .1h-.8l-.2-.4h-.8l-.2 .3h-.8l-.2-.3h-.6l-.4 .1h-.6l-.4-.1h-1.6l-.4 .1h-2.6l-.4-.1h-1.6l-.4 .1h-.8l-.2 .2h-.8l-.2-.2h-.8l-.2 .3h-.8l-.2-.4h-.8l-.2 .2h-.6l-.4-.1h-1.6l-.4-.1h-1.8l-.2 .3h-.8l-.2-.3h-.6l-.4 .1h-1.6l-.4 .1h-.6l-.4-.1h-1.8l-.2 .3h-.8l-.2-.3h-.6l-.4-.1h-4.6l-.4 .1h-1.6l-.4-.1h-.8l-.2 .2h-.6l-.4 .1h-.8l-.2-.2h-2.6l-.4-.1h-.8l-.2 .2h-1.8l-.2-.2h-.8l-.2 .3h-.6l-.4 .1h-.8l-.2-.4h-.6l-.4 .1h-.6l-.4-.1h-.8l-.2 .2h-.6l-.4-.1h-.6l-.4 .1h-1.6l-.4 .1h-.6l-.4-.1h-.6l-.4 .1h-.8l-.2-.3h-2.8l-.2 .2h-.6l-.4-.1h-.8l-.2 .2h-.8l-.2-.2h-.6l-.4 .1h-1.8l-.2-.2h-2.6l-.4 .1h-.6l-.4 .1h-.8l-.2 .2h-.8l-.2-.3h-.6l-.4-.1h-1.8l-.2 .4h-.8l-.2-.4h-4.6l-.4 .1h-2.6l-.4-.1h-3.8l-.2 .2h-1.8l-.2-.2h-1.8l-.2 .3h-.6l-.4-.1h-.8l-.2 .2h-.8l-.2-.4h-.8l-.2 .3h-.8l-.2-.3h-1.8l-.2 .3h-.8l-.2-.3h-1.8l-.2 .3h-.8l-.2-.3h-1.8l-.2 .2h-.8l-.2-.2h-1.8l-.2 .3h-.8l-.2-.3h-1.6l-.4 .1h-3.8l-.2 .2h-.8l-.2-.3h-.8l-.2 .3h-.8l-.2-.3h-.6l-.4 .1h-1.6l-.4-.1h-4.6l-.4 .1h-.6l-.4 .1h-.6l-.4-.1h-.6l-.4-.1h-.6l-.4 .1h-.8l-.2 .2h-.8l-.2-.3h-1.8l-.2 .3h-.8l-.2-.2h-.6l-.4 .1h-.8l-.2 .2h-.8l-.2-.4h-.6l-.4 .1h-.6l-.4-.1h-1.6l-.4 .1h-1.6l-.4-.1h-1.8l-.2 .3h-.8l-.2-.3h-1.6l-.4 .1h-.6l-.4-.1h-1.6l-.4 .1h-1.6l-.4 .1h-.6l-.4-.1h-.6l-.4 .1h-1.8l-.2-.2h-.8l-.2 .3h-.8l-.2-.3h-2.8l-.2 .3h-.8l-.2-.3h-2.8l-.2 .3h-.8l-.2-.2h-.6l-.4-.1h-.6l-.4 .1h-.8l-.2 .2h-.6l-.4-.1h-1.8l-.2-.2h-.8l-.2 .2h-.8l-.2-.2h-.8l-.2 .4h-.8l-.2-.3h-1.8l-.2 .2h-.8l-.2-.2h-1.6l-.4-.1h-.8l-.2 .3h-.8l-.2-.3h-1.6l-.4 .1h-1.6l-.4-.1h-.8l-.2 .2h-.6l-.4 .1h-.8l-.2-.3h-.8l-.2 .4h-.8l-.2-.2h-1.8l-.2-.2h-1.6l-.4 .1h-.6l-.4-.1h-1.8l-.2 .4h-.8l-.2-.4h-.6l-.4 .1h-.8l-.2 .3h-.8l-.2-.3h-.6l-.4-.1h-1.6l-.4 .1h-.8l-.2 .2h-.8l-.2-.2h-1.8l-.2 .3h-.8l-.2-.3h-1.6l-.4 .1h-.8l-.2-.2h-1.8l-.2 .2h-.6l-.4 .1h-.8l-.2-.3h-.8l-.2 .2h-.8l-.2-.2h-1.8l-.2 .2h-.6l-.4-.1h-1.6l-.4-.1h-.6l-.4 .1h-.6l-.4-.1h-1.8l-.2 .2h-.6l-.4-.1h-3.6l-.4-.1h-.6l-.4 .1h-.8l-.2 .3h-.8l-.2-.4h-.8l-.2 .3h-.8l-.2-.3h-1.8l-.2 .2h-.6l-.4-.1h-.8l-.2 .3h-.8l-.2-.4h-2.6l-.4 .1h-.6l-.4-.1h-.6l-.4 .1h-1.8l-.2 .3h-.8l-.2-.3h-.6l-.4-.1h-.8l-.2 .3h-.8l-.2-.3h-.8l-.2 .3h-1.6l-.4-.1h-1.8l-.2-.2h-.8l-.2 .4h-.8l-.2-.3h-2.6l-.4-.1h-1.6l-.4 .1h-.6l-.4 .1h-1.6l-.4-.1h-.6l-.4-.1h-1.6l-.4 .1h-.6l-.4-.1h-2.8l-.2 .3h-.8l-.2-.3h-1.6l-.4 .1h-1.6l-.4-.1h-.8l-.2 .3h-.8l-.2-.3h-.6l-.4 .1h-.6l-.4-.1h-.6l-.4 .1h-.6l-.4-.1h-.8l-.2 .3h-1.8l-.2-.3h-.8l-.2 .2h-.6l-.4-.1h-.6l-.4 .1h-.8l-.2-.2h-.6l-.4 .1h-.8l-.2 .2h-.8l-.2-.3h-2.6l-.4 .1h-.8l-.2 .3h-.8l-.2-.4h-.8l-.2 .4h-.8l-.2-.2h-1.6l-.4-.1h-.6l-.4 .1h-.8l-.2-.2h-.6l-.4 .1h-.8l-.2 .3h-.8l-.2-.4h-.6l-.4 .1h-.6l-.4-.1h-1.6l-.4 .1h-.6l-.4-.1h-1.8l-.2 .2h-.6l-.4-.1h-2.8l-.2 .2h-.8l-.2-.3h-.8l-.2 .2h-.8l-.2-.2h-.6l-.4 .1h-.6l-.4 .1h-.8l-.2-.2h-3.6l-.4 .1h-4.8l-.2 .2h-.6l-.4-.1h-.8l-.2 .2h-.8l-.2-.3h-.6l-.4-.1h-.8l-.2 .2h-.6l-.4-.1h-.6l-.4-.1h-1.6l-.4 .1h-.6l-.4-.1h-1.8l-.2 .2h-.6l-.4-.1h-1.6l-.4 .1h-.8l-.2-.2h-.8l-.2 .2h-.8l-.2-.2h-1.6l-.4 .1h-.8l-.2 .3h-.8l-.2-.4h-.6l-.4 .1h-.6l-.4-.1h-.6l-.4 .1h-.8l-.2 .2h-1.8l-.2-.2h-1.6l-.4-.1h-.8l-.2 .2h-.8l-.2-.2h-.8l-.2 .3h-.8l-.2-.3h-.8l-.2 .2h-.6l-.4 .1h-.8l-.2-.3h-.8l-.2 .2h-1.8l-.2-.2h-2.8l-.2 .3h-.8l-.2-.3h-2.6l-.4 .1h-1.6l-.4-.1h-.6l-.4 .1h-1.6l-.4-.1h-1.6l-.4 .1h-.6l-.4-.1h-1.6l-.4 .1h-.6l-.4 .1h-.8l-.2-.2h-1.8l-.2 .3h-.8l-.2-.3h-.6l-.4 .1h-.6l-.4-.1h-3.6l-.4 .1h-.6l-.4-.1h-.8l-.2 .2h-.6l-.4-.1h-.6l-.4-.1h-.8l-.2 .3h-.6l-.4 .1h-1.6l-.4-.1h-.8l-.2-.2h-3.6l-.4 .1h-1.8l-.2-.2h-.6l-.4 .1h-1.6l-.4-.1h-1.8l-.2 .4h-1.8l-.2-.3h-.6l-.4-.1h-1.6l-.4 .1h-.6l-.4-.1h-.6l-.4 .1h-1.6l-.4-.1h-.8l-.2 .2h-.6l-.4-.1h-.6l-.4-.1h-.8l-.2 .3h-.8l-.2-.3h-.8l-.2 .4h-.8l-.2-.3h-.6l-.4 .1h-.6l-.4-.1h-1.6l-.4-.1h-5.6l-.4 .1h-.6l-.4-.1h-.8l-.2 .4h-.8l-.2-.3h-.6l-.4-.1h-1.8l-.2 .2h-.8l-.2 .2h-.6l-.4-.1h-.6l-.4-.1h-.6l-.4-.1h-2.6l-.4-.1h-1.8l-.2 .2h-.6l-.4-.1h-.6l-.4-.1h-2.6l-.4 .1h-.8l-.2 .2h-.8l-.2-.3h-.6l-.4 .1h-.6l-.4 .1h-.8l-.2-.2h-.6l-.4 .1h-.8l-.2 .3h-.6l-.4-.1h-.8l-.2-.3h-.8l-.2 .3h-.8l-.2-.3h-1.8l-.2 .2h-.6l-.4-.1h-4.8l-.2 .2h-.8l-.2-.2h-.8l-.2 .2h-.8l-.2-.2h-.6l-.4-.1h-1.6l-.4 .1h-1.6l-.4-.1h-1.6l-.4 .1h-.8l-.2 .2h-.8l-.2-.3h-.8l-.2 .2h-.8l-.2-.2h-2.6l-.4 .1h-.6l-.4-.1h-.8l-.2 .3h-.8l-.2-.3h-2.8l-.2 .4h-.6l-.4-.1h-.8l-.2-.3h-.6l-.4 .1h-.6l-.4-.1h-2.6l-.4 .1h-.8l-.2 .2h-.8l-.2-.2h-.8l-.2 .2h-.8l-.2-.2h-.6l-.4-.1h-.8l-.2 .4h-.8l-.2-.2h-1.8l-.2-.2h-.6l-.4 .1h-1.6l-.4-.1h-.8l-.2 .3h-.6l-.4-.1h-.6l-.4-.1h-.8l-.2 .2h-.8l-.2-.2h-.8l-.2 .3h-.8l-.2-.2h-.6l-.4 .1h-.8l-.2-.2h-1.6l-.4 .1h-.8l-.2-.2h-.6l-.4 .1h-1.8l-.2 .2h-.8l-.2-.2h-.6l-.4-.1h-.6l-.4 .1h-.6l-.4-.1h-.8l-.2 .2h-.8l-.2-.2h-1.8l-.2 .2h-.6l-.4-.1h-1.6l-.4 .1h-1.6l-.4-.1h-1.6l-.4-.1h-1.8l-.2 .2h-.8l-.2-.2h-4.6l-.4 .1h-.6l-.4-.1h-.6l-.4 .1h-.6l-.4-.1h-.8l-.2 .3h-.6l-.4 .1h-.6l-.4-.1h-.8l-.2-.2h-1.6l-.4-.1h-1.8l-.2 .2h-.8l-.2 .2h-.6l-.4-.1h-.8l-.2-.3h-.6l-.4 .1h-.8l-.2 .3h-.8l-.2-.4h-3.6l-.4 .1h-.8l-.2 .2h-.8l-.2-.2h-.6l-.4-.1h-1.8l-.2 .3h-.8l-.2-.3h-2.8l-.2 .3h-.8l-.2-.2h-.6l-.4-.1h-1.8l-.2 .2h-.6l-.4-.1h-.6l-.4 .1h-.8l-.2-.2h-.8l-.2 .4h-.8l-.2-.4h-1.6l-.4 .1h-3.6l-.4-.1h-3.6l-.4 .1h-.8l-.2 .3h-.8l-.2-.4h-.8l-.2 .4h-.8l-.2-.4h-1.6l-.4 .1h-2.6l-.4 .1h-.6l-.4-.1h-.6l-.4-.1h-1.8z"/>
<path fill="#0000ff" d="M138 133.9h.8l.4-.1h.6l.4-.1h.6l.2 .3h.8l.2-.4h.8l.2 .4h.8l.4-.1h.6l.4 .1h2.6l.2-.4h.8l.2 .4h.8l.2-.3h.8l.2 .3h2.8l.2-.4h.8l.2 .4h.8l.2-.3h.8l.2 .3h.8l.2-.4h.8l.2 .2h.8l.2 .2h.8l.4-.1h.6l.4 .1h.6l.4-.1h.6l.4 .1h.6l.2-.2h.8l.4 .1h.6l.4 .1h1.6l.2-.4h.8l.2 .4h2.8l.4-.1h2.6l.4 .1h1.6l.2-.2h.8l.2 .2h1.8l.4-.1h.6l.4 .1h.6l.2-.2h.8l.2 .2h1.8l.4-.1h.6l.4 .1h.6l.2-.3h.8l.2 .2h2.8l.2-.2h.8l.2 .3h.8l.2-.3h.8l.4-.1h.6l.2 .4h1.8l.2-.2h.8l.2 .2h2.8l.4-.1h.6l.2-.3h.8l.4 .1h.6l.2 .2h1.8l.2-.3h.8l.2 .3h.8l.2-.3h.8l.2 .2h2.8l.2 .2h2.8l.2-.4h1.8l.2 .3h.8l.4 .1h1.6l.4-.1h1.6l.4 .1h1.6l.4-.1h.6l.4-.1h.6l.2 .2h2.8l.4-.1h2.6l.2-.2h.8l.2 .2h.8l.4 .1h.6l.2-.2h.8l.4-.1h1.6l.2 .3h1.8l.4-.1h.6l.2-.3h.8l.2 .3h1.8l.4 .1h.6l.2-.4h.8l.2 .4h.8l.4-.1h.6l.4-.1h2.6l.4 .1h.6l.4 .1h.6l.2-.4h.8l.2 .3h.8l.4 .1h1.6l.2-.2h.8l.4-.1h.6l.2 .2h2.8l.2-.3h.8l.2 .3h.8l.4-.1h.6l.4-.1h.6l.4 .1h.6l.4 .1h.6l.4 .1h.6l.2-.2h.8l.4-.1h.6l.4-.1h.6l.2 .4h1.8l.4-.1h.6l.2-.2h.8l.2 .3h.8l.4-.1h.6l.4 .1h.6l.2-.4h.8l.2 .3h.8l.4 .1h.6l.2-.2h.8l.2 .2h.8l.4-.1h.6l.4 .1h3.6l.4-.1h.6l.4 .1h.6l.2-.2h.8l.4-.1h.6l.2 .2h.8l.4 .1h.6l.2-.4h.8l.2 .4h.8l.4-.1h6.6l.4 .1h.6l.4-.1h1.6l.4 .1h.6l.4-.1h2.6l.4-.1h1.6l.4 .1h.6l.4 .1h.6l.2-.4h.8l.2 .4h.8l.2-.2h.8l.4 .1h1.6l.2-.2h.8l.2 .2h.8l.2-.3h.8l.4 .1h.6l.2 .3h.8l.4-.1h.6l.4-.1h.6l.2 .2h.8l.4-.1h.6l.2-.3h.8l.2 .4h2.8l.4-.1h.6l.4 .1h.6l.4-.1h.6l.2-.2h.8l.2 .2h1.8l.4 .1h1.6l.2-.4h.8l.2 .3h.8l.2-.3h.8l.2 .4h.8l.4-.1h1.6l.4 .1h1.6l.4-.1h.6l.4 .1h3.6l.4-.1h.6l.4 .1h1.6l.4-.1h.6l.4-.1h.6l.2 .2h.8l.2-.4h.8l.2 .3h.8l.2-.2h.8l.2 .3h2.8l.2-.3h.8l.2 .2h.8l.2-.2h.8l.4 .1h.6l.2 .2h.8l.4-.1h.6l.4 .1h.6l.4-.1h.6l.4-.1h.6l.2 .2h.8l.2-.4h.8l.2 .3h1.8l.4-.1h.6l.2 .2h.8l.2-.2h.8l.4 .1h1.6l.4 .1h1.6l.2-.3h.8l.2 .2h1.8l.4-.1h.6l.4-.1h.6l.2 .3h.8l.2-.4h.8l.2 .4h.8l.4-.1h.6l.4 .1h1.6l.4-.1h2.6l.4-.1h.6l.2-.2h.8l.2 .4h1.8l.4-.1h1.6l.4 .1h.6l.4-.1h.6l.4-.1h.6l.4-.1h.6l.4-.1h.6l.4 .1h.6l.2 .2h.8l.2-.2h.8l.4 .1h.6l.2 .2h.8l.2-.4h.8l.2 .4h.8l.2-.2h1.8l.4-.1h.6l.4 .1h.6l.2-.2h.8l.2 .4h2.8l.4-.1h1.6l.4 .1h1.6l.4-.1h1.6l.4-.1h.6l.4 .1h.6l.2-.2h.8l.4 .1h.6l.4 .1h1.6l.4 .1h1.6l.4-.1h1.6l.4 .1h.6l.4-.1h.6l.4 .1h.6l.2-.3h.8l.2 .2h.8l.4 .1h3.6l.4-.1h.6l.4 .1h1.6l.2-.2h.8l.4 .1h.6l.4-.1h.6l.4 .1h1.6l.4 .1h.6l.4-.1h2.6l.2-.2h.8l.2 .3h1.8l.4-.1h.6l.4-.1h.6l.4-.1h.6l.2 .2h2.8l.2-.2h.8l.2 .3h.8l.2-.2h1.8l.4 .1h.6l.4 .1h.6l.4-.1h.6l.4 .1h.6l.4-.1h1.6l.2-.3h.8l.2 .4h1.8l.4-.1h.6l.2-.3h.8l.2 .4h.8l.4-.1h.6l.4 .1h.6l.4-.1h.6l.4 .1h.6l.4-.1h2.6l.4 .1h5.6l.4-.1h1.6l.2-.2h.8l.2 .2h1.8l.4-.1h.6l.4-.1h.6l.2 .2h.8l.4 .1h.6l.4-.1h.6l.4 .1h.6l.4-.1h.6l.4 .1h.6l.4-.1h.6l.4 .1h.6l.2-.3h.8l.2 .3h.8l.4-.1h.6l.4-.1h.6l.2 .2h.8l.4-.1h.6l.4 .1h3.6l.2-.2h.8l.2 .2h2.8l.2-.2h.8l.4 .1h2.6l.4-.1h.6l.4 .1h1.6l.4 .1h.6l.4-.1h.6l.2-.3h.8l.2 .3h1.8l.2-.2h.8l.2 .3h1.8l.2-.2h.8l.2-.2h.8l.2 .4h2.8l.4-.1h.6l.4 .1h.6l.4-.1h.6l.4-.1h.6l.2 .2h.8l.2-.3h.8l.2 .3h.8l.4-.1h3.6l.4 .1h.6l.4-.1h.6l.4 .1h.6l.4-.1h.6l.4 .1h1.6l.2-.2h.8l.2-.2h.8l.2 .4h.8l.2-.3h.8l.2 .2h.8l.4 .1h1.6l.2-.3h.8l.2 .3h1.8l.4-.1h.6l.4-.1h.6l.4-.1h.6l.2 .2h.8l.4 .1h2.6l.4-.1h.6l.2-.3h.8l.2 .4h.8l.4-.1h1.6l.4 .1h.6l.4-.1h.6l.2-.3h.8l.2 .4h.8l.2-.2h.8l.4-.1h.6l.2 .3h.8l.2-.3h.8l.4 .1h.6l.4 .1h.6l.4 .1h2.6l.2-.3h.8l.4 .1h.6l.2 .2h.8l.4-.1h.6l.4 .1h.6l.2-.2h.8l.4 .1h.6l.2-.3h.8l.2 .2h.8l.2 .2h.8l.4-.1h1.6l.2-.2h.8l.2 .2h.8l.4 .1h3.6l.4-.1h.6l.4 .1h.6l.4-.1h.6l.2-.2h.8l.4-.1h.6l.2 .4h.8l.4-.1h.6l.4-.1h.6l.2 .2h.8l.4-.1h.6l.4 .1h.6l.4-.1h.6l.4 .1h.6l.2-.3h.8l.2 .3h.8l.4-.1h1.6l.4 .1h.6l.2-.4h.8l.2 .4h1.8l.2-.2h.8l.4 .1h.6l.4-.1h.6l.2 .2h1.8l.2-.2h.8l.4 .1h.6l.2-.2h.8l.2 .3h1.8l.2-.3h.8l.2 .2h.8l.4 .1h1.6l.2-.2h.8l.2 .2h.8l.4-.1h.6l.2-.2h.8l.2 .2h.8l.4-.1h.6l.2-.2h.8l.2 .4h.8l.2-.3h.8l.2 .2h.8l.4 .1h3.6l.2-.2h.8l.4 .1h.6l.4 .1h.6l.2-.3h.8l.2 .2h1.8l.4 .1h.6l.4-.1h.6l.2-.2h.8l.2 .2h4.8l.4 .1h2.6l.2-.3h.8l.2 .3h1.8l.4-.1h1.6l.2-.2h.8l.2 .3h2.8l.4-.1h.6l.4 .1h.6l.4-.1h.6l.4-.1h.6l.2 .2h.8l.2-.2h.8l.2 .2h.8l.4-.1h.6l.2-.2h.8l.4-.1h.6l.2 .3h.8l.2-.3h.8l.2 .4h1.8l.4-.1h1.6l.2-.2h.8l.2 .2h.8l.4 .1h.6l.2-.2h.8l.2 .2h.8l.2-.3h.8l.2 .3h3.8l.4-.1h.6l.4 .1h1.6l.4-.1h.6l.4-.1h.6l.2 .2h.8l.4-.1h.6l.4 .1h1.6l.4-.1h.6l.4 .1h.6l.2-.3h.8l.2 .3h.8l.4-.1h.6l.4-.1h.6l.4 .1h1.6l.4 .1h2.6l.2-.3h.8l.2 .3h1.8l.2-.2h.8l.4 .1h1.6l.4 .1h1.6l.2-.2h.8l.2 .2h1.8l.2-.2h.8l.2 .2h.8l.2-.4h.8l.2 .4h.8l.4-.1h2.6l.4-.1h.6l.2 .2h.8l.4-.1h.6l.4-.1h.6l.2 .2h.8l.4-.1h4.6l.4-.1h.6l.4-.1h.6l.2 .2h.8l.2-.3h.8l.2 .2h.8l.2 .2h4.8l.2-.2h1.8l.4 .1h2.6l.4 .1h.6l.2-.3h.8l.2 .3h1.8l.4-.1h.6l.4 .1h.6l.2-.3h.8l.2 .2h1.8l.4 .1h1.6l.4-.1h.6l.4 .1h1.6l.4-.1h.6l.4 .1h.6l.2-.3h.8l.4 .1h1.6l.4-.1h.6l.4 .1h.6l.2 .2h.8l.4-.1h.6l.4 .1h5.6l.2-.2h.8l.2 .2h1.8l.4-.1h.6l.4 .1h.6l.2-.2h.8l.2 .2h.8l.4-.1h.6l.4 .1h.6l.4-.1h.6l.2-.2h.8l.2 .3h.8l.4-.1h1.6l.4 .1h1.6l.2-.3h.8l.2 .3h.8l.2-.2h.8l.4 .1h.6l.2-.2h.8l.2 .3h.8l.4-.1h1.6l.4-.1h.6l.2 .2h.8l.4-.1h2.6l.4 .1h.6l.4-.1h.6l.4-.1h1.6l.2 .2h.8l.4-.1h.6l.4 .1h.6l.4-.1h1.6l.2-.3h.8l.2 .4h.8l.2-.4h.8l.2 .4h3.8l.2-.3h1.8l.4-.1h.6l.2 .3h.8l.4 .1h.6l.4-.1h.6l.2-.2h.8l.2 .3h.8l.2-.3h.8l.2 .3h.8l.2-.2h.8l.4 .1h.6l.2-.2h1.8l.2 .3h.8l.4-.1h.6l.4 .1h.6l.4-.1h.6l.4 .1h.6l.4-.1h1.6l.4 .1h.6l.4-.1h.6l.2-.2h.8l.2 .3h.8l.2-.4h.8l.2 .3h.8l.4 .1h.6l.2-.4h.8l.2 .3h2.8l.2-.2h.8l.2 .3h3.8l.2-.3h.8l.2 .2h1.8l.2-.2h.8l.2 .2h.8l.4 .1h.6l.4-.1h1.6l.4 .1h1.6l.4-.1h.6l.4-.1h.6l.2 .2h.8l.2-.4h.8l.2 .4h2.8l.4-.1h1.6l.4-.1h.6l.4-.1h.6l.2 .3h.8l.2-.2h.8l.2 .2h.8l.4-.1h.6l.4 .1h.6l.2-.3h.8l.2 .2h.8l.4-.1h.6l.2 .2h.8l.2-.2h.8l.2 .2h.8l.4-.1h.6l.4-.1h.6l.2 .2h.8l.4-.1h.6l.2-.2h.8l.2 .3h.8l.4-.1h.6l.4 .1h1.6l.4-.1h2.6l.2-.2h.8l.4 .1h.6l.2 .2h.8l.4-.1h.6l.4-.1h.6l.4-.1h.6l.4 .1h.6l.4 .1h.6l.4 .1h.6l.2-.3h.8l.2 .3h.8l.4-.1h.6l.2-.2h.8l.2 .3h.8l.2-.3h.8l.2 .3h1.8l.4-.1h.6l.4-.1h.6l.4 .1h.6l.2-.2h.8l.2 .2h.8l.2-.2h.8l.2 .3h2.8l.2-.2h.8l.4 .1h1.6l.4 .1h.6l.2-.2h.8l.2-.2h.8l.2 .4h1.8l.2-.3h2.8l.2 .3h.8l.4-.1h.6l.4 .1h.6l.4-.1h1.6l.4 .1h.6l.4-.1h1.6l.4 .1h1.6l.2-.2h.8l.2 .2h.8l.2-.4h.8l.4 .1h.6l.4-.1h.6l.2 .2h.8l.2 .2h4.8l.2-.3h1.8l.4 .1h.6l.2 .2h.8l.2-.3h1.8l.2 .3h2.8l.4-.1h.6l.2-.2h.8l.2 .3l.5-.1l.7-1.7l.3-.4h1l.3 .4l.4 1.1l.3 .4v4.4l-.3 .2l-.2 .6l-.5 .9h-1l-.5-.9l-.5-1.2h-1.5l-.2 .3h-1.8l-.2-.2h-.6l-.4-.1h-1.6l-.4 .1h-.6l-.4 .1h-.8l-.2-.2h-.8l-.2 .3h-1.8l-.2-.3h-2.6l-.4 .1h-.8l-.2 .2h-.8l-.2-.3h-.6l-.4 .1h-.6l-.4-.1h-3.8l-.2 .2h-.6l-.4-.1h-.6l-.4-.1h-.8l-.2 .3h-.8l-.2-.3h-2.8l-.2 .4h-.8l-.2-.4h-1.8l-.2 .2h-.8l-.2-.2h-.6l-.4 .1h-.6l-.4-.1h-1.6l-.4 .1h-1.6l-.4 .1h-1.6l-.4-.1h-.6l-.4-.1h-1.8l-.2 .3h-.8l-.2-.3h-1.6l-.4 .1h-.8l-.2 .2h-.8l-.2-.2h-.6l-.4-.1h-.8l-.2 .2h-.8l-.2-.2h-4.6l-.4 .1h-1.6l-.4-.1h-.6l-.4 .1h-.6l-.4 .1h-.6l-.4 .1h-.8l-.2-.3h-8.8l-.2 .2h-.8l-.2-.2h-.8l-.2 .3h-.8l-.2-.3h-1.6l-.4 .1h-.6l-.4-.1h-1.8l-.2 .2h-.8l-.2-.2h-.8l-.2 .3h-2.8l-.2-.3h-3.8l-.2 .2h-.8l-.2-.2h-.6l-.4 .1h-.6l-.4-.1h-2.6l-.4 .1h-.6l-.4-.1h-.8l-.2 .2h-.8l-.2-.2h-2.8l-.2 .2h-.8l-.2-.2h-.6l-.4 .1h-1.6l-.4-.1h-.6l-.4 .1h-.6l-.4-.1h-.8l-.2 .2h-.6l-.4-.1h-.6l-.4 .1h-1.8l-.2-.2h-.8l-.2 .2h-1.6l-.4-.1h-.6l-.4-.1h-4.6l-.4 .1h-.6l-.4-.1h-7.8l-.2 .2h-.8l-.2-.2h-1.8l-.2 .2h-.8l-.2-.2h-1.6l-.4 .1h-.6l-.4-.1h-6.8l-.2 .2h-.8l-.2-.2h-1.8l-.2 .4h-.8l-.2-.4h-.8l-.2 .2h-.6l-.4-.1h-1.8l-.2 .2h-.6l-.4-.1h-.8l-.2-.2h-1.6l-.4 .1h-.6l-.4-.1h-3.8l-.2 .2h-.8l-.2-.2h-.8l-.2 .3h-.6l-.4-.1h-.6l-.4-.1h-.6l-.4-.1h-1.6l-.4 .1h-.6l-.4-.1h-.8l-.2 .2h-.8l-.2-.2h-.8l-.2 .3h-.8l-.2-.3h-2.8l-.2 .2h-.8l-.2-.2h-.6l-.4 .1h-.6l-.4 .1h-.8l-.2-.2h-.6l-.4 .1h-.6l-.4-.1h-.8l-.2 .2h-.6l-.4-.1h-.8l-.2 .2h-.8l-.2-.2h-.6l-.4-.1h-2.8l-.2 .3h-.8l-.2-.3h-3.6l-.4 .1h-.6l-.4-.1h-.8l-.2 .2h-.6l-.4-.1h-.6l-.4-.1h-.8l-.2 .2h-.6l-.4 .1h-.8l-.2-.3h-.8l-.2 .2h-.8l-.2-.2h-.8l-.2 .4h-.8l-.2-.4h-1.6l-.4 .1h-.6l-.4-.1h-.6l-.4 .1h-.6l-.4 .1h-.8l-.2-.2h-1.8l-.2 .2h-1.8l-.2-.2h-.6l-.4 .1h-.6l-.4-.1h-3.8l-.2 .2h-.6l-.4 .1h-.8l-.2-.3h-.8l-.2 .2h-1.8l-.2-.2h-.8l-.2 .3h-.6l-.4-.1h-.6l-.4 .1h-.8l-.2-.3h-1.6l-.4 .1h-2.6l-.4-.1h-.6l-.4 .1h-.6l-.4-.1h-1.6l-.4 .1h-.6l-.4-.1h-4.6l-.4 .1h-.6l-.4-.1h-.6l-.4 .1h-.8l-.2 .2h-.8l-.2-.3h-3.8l-.2 .3h-.6l-.4-.1h-.8l-.2-.2h-.6l-.4 .1h-.6l-.4-.1h-2.6l-.4 .1h-.6l-.4-.1h-.6l-.4 .1h-1.6l-.4-.1h-1.6l-.4 .1h-.6l-.4 .1h-.8l-.2-.2h-.6l-.4 .1h-1.6l-.4-.1h-.8l-.2 .3h-1.8l-.2-.3h-1.8l-.2 .4h-.8l-.2-.4h-.8l-.2 .4h-.8l-.2-.3h-.6l-.4-.1h-1.6l-.4 .1h-.6l-.4-.1h-2.6l-.4 .1h-.6l-.4 .1h-.8l-.2-.2h-4.8l-.2 .3h-.8l-.2-.3h-2.6l-.4 .1h-.8l-.2 .2h-.6l-.4-.1h-.8l-.2-.2h-1.6l-.4 .1h-.8l-.2 .2h-.8l-.2-.3h-3.8l-.2 .3h-.6l-.4-.1h-1.6l-.4-.1h-.6l-.4-.1h-3.8l-.2 .2h-.6l-.4 .1h-1.8l-.2-.2h-.6l-.4-.1h-.8l-.2 .2h-.8l-.2-.2h-1.6l-.4 .1h-.8l-.2 .2h-.8l-.2-.3h-2.8l-.2 .2h-.8l-.2 .2h-.8l-.2-.3h-.6l-.4-.1h-1.8l-.2 .3h-.8l-.2-.3h-2.8l-.2 .3h-.8l-.2-.2h-.6l-.4-.1h-2.8l-.2 .3h-.8l-.2-.2h-.6l-.4-.1h-1.6l-.4 .1h-.6l-.4-.1h-.6l-.4 .1h-.6l-.4-.1h-.6l-.4 .1h-.6l-.4-.1h-.8l-.2 .2h-.6l-.4-.1h-1.6l-.4 .1h-.8l-.2-.2h-2.8l-.2 .3h-.8l-.2-.3h-3.6l-.4 .1h-.6l-.4-.1h-.6l-.4 .1h-.6l-.4-.1h-7.8l-.2 .3h-.8l-.2-.3h-.6l-.4 .1h-.6l-.4-.1h-2.6l-.4 .1h-.6l-.4-.1h-.8l-.2 .3h-.8l-.2-.2h-.6l-.4-.1h-.8l-.2 .3h-.8l-.2-.3h-.8l-.2 .3h-.8l-.2-.3h-1.6l-.4 .1h-1.6l-.4-.1h-1.6l-.4 .1h-1.6l-.4-.1h-.6l-.4 .1h-.6l-.4-.1h-1.8l-.2 .3h-.8l-.2-.3h-.8l-.2 .3h-.8l-.2-.3h-.8l-.2 .2h-.8l-.2-.2h-.8l-.2 .3h-.8l-.2-.3h-.8l-.2 .2h-.8l-.2-.2h-1.8l-.2 .2h-.8l-.2-.2h-1.8l-.2 .3h-.8l-.2-.3h-.6l-.4 .1h-.6l-.4-.1h-2.6l-.4 .1h-.6l-.4-.1h-.8l-.2 .2h-2.8l-.2-.2h-.8l-.2 .3h-.8l-.2-.2h-1.6l-.4 .1h-.6l-.4 .1h-1.8l-.2-.3h-.8l-.2 .3h-.8l-.2-.3h-1.8l-.2 .2h-.8l-.2-.2h-.8l-.2 .3h-.8l-.2-.3h-.6l-.4 .1h-.6l-.4-.1h-.6l-.4 .1h-.6l-.4-.1h-.6l-.4 .1h-.8l-.2 .2h-.8l-.2-.3h-.8l-.2 .3h-.8l-.2-.3h-2.8l-.2 .3h-.8l-.2-.2h-.6l-.4-.1h-1.6l-.4 .1h-2.6l-.4-.1h-3.6l-.4 .1h-1.6l-.4 .1h-.8l-.2-.2h-.8l-.2 .2h-1.8l-.2-.2h-.8l-.2 .3h-.8l-.2-.3h-.6l-.4 .1h-.6l-.4-.1h-.6l-.4 .1h-.6l-.4-.1h-1.6l-.4 .1h-.6l-.4 .1h-.6l-.4 .1h-.8l-.2-.2h-.6l-.4-.1h-.8l-.2 .3h-.8l-.2-.3h-3.8l-.2 .2h-.6l-.4-.1h-2.6l-.4-.1h-2.6l-.4 .1h-.6l-.4-.1h-.8l-.2 .3h-1.8l-.2-.3h-3.8l-.2 .2h-.8l-.2-.2h-.8l-.2 .3h-.8l-.2-.3h-1.8l-.2 .2h-.8l-.2-.2h-1.8l-.2 .2h-.8l-.2-.2h-3.8l-.2 .3h-.8l-.2-.3h-6.8l-.2 .3h-.8l-.2-.2h-.6l-.4-.1h-2.8l-.2 .3h-.8l-.2-.3h-1.6l-.4 .1h-.6l-.4-.1h-2.6l-.4 .1h-.6l-.4-.1h-.8l-.2 .2h-.8l-.2-.2h-.8l-.2 .3h-.8l-.2-.3h-.6l-.4 .1h-.6l-.4-.1h-2.8l-.2 .2h-.6l-.4 .1h-.8l-.2-.3h-2.8l-.2 .4h-.8l-.2-.4h-.8l-.2 .2h-.8l-.2-.2h-5.8l-.2 .2h-.8l-.2 .2h-.8l-.2-.4h-1.6l-.4 .1h-.6l-.4-.1h-3.6l-.4 .1h-.6l-.4-.1h-.8l-.2 .3h-.8l-.2-.3h-5.6l-.4 .1h-.6l-.4-.1h-3.8l-.2 .2h-.6l-.4-.1h-1.6l-.4-.1h-1.6l-.4 .1h-.6l-.4-.1h-2.8l-.2 .2h-1.8l-.2-.2h-11.6l-.4 .1h-1.6l-.4-.1h-1.8l-.2 .2h-1.8l-.2-.2h-.6l-.4 .1h-.6l-.4-.1h-1.8l-.2 .2h-2.6l-.4-.1h-.6l-.4 .1h-.8l-.2-.2h-.8l-.2 .2h-.8l-.2-.2h-2.8l-.2 .2h-.8l-.2-.2h-1.8l-.2 .2h-.6l-.4-.1h-2.6l-.4-.1h-.6l-.4 .1h-.6l-.4-.1h-.8l-.2 .3h-1.8l-.2-.3h-.8l-.2 .2h-2.8l-.2-.2h-.8l-.2 .3h-.8l-.2-.2h-.6l-.4-.1h-.8l-.2 .2h-.6l-.4 .1h-.8l-.2-.3h-4.8l-.2 .2h-.6l-.4 .1h-.8l-.2-.2h-.6l-.4-.1h-.6l-.4 .1h-.6l-.4-.1h-.8l-.2 .2h-.8l-.2-.2h-.6l-.4 .1h-.6l-.4-.1h-1.8l-.2 .2h-1.6l-.4 .1h-.8l-.2-.3h-.8l-.2 .2h-.6l-.4-.1h-.6l-.4-.1h-.6l-.4 .1h-.6l-.4-.1h-.6l-.4 .1h-.6l-.4-.1h-1.8l-.2 .3h-.8l-.2-.3h-.8l-.2 .2h-.6l-.4-.1h-.6l-.4-.1h-.8l-.2 .2h-.8l-.2-.2h-.6l-.4 .1h-.8l-.2 .2h-.8l-.2-.3h-.8l-.2 .2h-.8l-.2-.2h-1.8l-.2 .3h-.6l-.4-.1h-.8l-.2-.2h-1.6l-.4 .1h-.6l-.4-.1h-1.6l-.4 .1h-.6l-.4-.1h-.8l-.2 .2h-.8l-.2-.2h-.6l-.4 .1h-.6l-.4-.1h-2.8l-.2 .3h-.8l-.2-.3h-.8l-.2 .3h-.8l-.2-.2h-.6l-.4-.1h-.8l-.2 .3h-.8l-.2-.3h-2.6l-.4 .1h-.6l-.4 .1h-.8l-.2-.2h-.6l-.4 .1h-.6l-.4-.1h-2.8l-.2 .2h-1.6l-.4-.1h-.6l-.4-.1h-1.8l-.2 .2h-.8l-.2-.2h-.6l-.4 .1h-.6l-.4-.1h-1.8l-.2 .3h-.8l-.2-.3h-.6l-.4 .1h-.6l-.4-.1h-3.8l-.2 .3h-.8l-.2-.3h-5.6l-.4 .1h-.6l-.4 .1h-.8l-.2-.2h-.6l-.4 .1h-.6l-.4-.1h-.6l-.4 .1h-.8l-.2 .2h-.8l-.2-.3h-4.8l-.2 .3h-.8l-.2-.3h-.8l-.2 .2h-.8l-.2-.2h-.8l-.2 .3h-.6l-.4-.1h-.8l-.2-.2h-3.8l-.2 .2h-.8l-.2-.2h-2.6l-.4 .1h-1.6l-.4-.1h-4.8l-.2 .3h-.8l-.2-.3h-1.8l-.2 .2h-.8l-.2-.2h-.8l-.2 .2h-.8l-.2-.2h-7.8l-.2 .3h-.8l-.2-.2h-.6l-.4 .1h-.8l-.2-.2h-3.6l-.4 .1h-.6l-.4-.1h-2.8l-.2 .3h-.8l-.2-.3h-1.8l-.2 .3h-.8l-.2-.3h-1.6l-.4 .1h-.6l-.4-.1h-5.8l-.2 .3h-.8l-.2-.2h-.6l-.4-.1h-.8l-.2 .2h-1.8l-.2-.2h-.6l-.4 .1h-.6l-.4-.1h-7.8l-.2 .3h-1.8l-.2-.3h-8.6l-.4 .1h-.6l-.4-.1h-1.6l-.4 .1h-1.6l-.4-.1h-1.8l-.2 .2h-.8l-.2-.2h-.8l-.2 .2h-.8l-.2-.2h-1.8l-.2 .3h-.8l-.2-.2h-.6l-.4 .1h-.8l-.2-.2h-1.8l-.2 .2h-.8l-.2-.2h-4.8l-.2 .2h-2.6l-.4-.1h-.6l-.4-.1h-.6l-.4 .1h-.8z"/>
<path fill="#008000" d="M138 165.2h.8l.2 .3h.8l.2-.4h.8l.2 .3h.8l.2-.2h.8l.2 .2h.8l.4-.1h.6l.2 .2h1.8l.4-.1h.6l.2-.2h1.8l.4 .1h.6l.4 .1h.6l.4 .1h.6l.2-.4h.8l.2 .2h.8l.4 .1h.6l.2-.2h.8l.2 .3h.8l.4-.1h.6l.4-.1h1.6l.2 .2h.8l.2-.2h.8l.4-.1h.6l.2 .2h.8l.4 .1h.6l.2-.4h.8l.2 .4h1.8l.2-.3h.8l.2 .2h1.8l.4-.1h.6l.4 .1h.6l.4 .1h1.6l.2-.3h1.8l.2 .3h.8l.4-.1h.6l.4-.1h.6l.4 .1h.6l.4 .1h.6l.4-.1h.6l.2-.3h.8l.2 .2h.8l.2 .2h.8l.2-.3h.8l.4 .1h.6l.4 .1h.6l.4 .1h1.6l.4-.1h2.6l.2-.2h.8l.4 .1h.6l.4 .1h.6l.2-.3h.8l.2 .2h.8l.2-.2h.8l.4 .1h.6l.2 .2h.8l.4-.1h2.6l.4-.1h.6l.2 .2h1.8l.4 .1h.6l.2-.4h.8l.4 .1h.6l.2 .2h1.8l.4 .1h.6l.2-.4h.8l.2 .2h.8l.2-.2h.8l.2 .3h1.8l.4-.1h.6l.4-.1h1.6l.2 .2h1.8l.2-.3h.8l.2 .3h.8l.4-.1h.6l.4 .1h.6l.2-.2h.8l.2 .3h2.8l.4-.1h1.6l.2-.3h1.8l.2 .4h.8l.2-.3h.8l.2 .2h.8l.2-.2h.8l.2 .2h.8l.4-.1h.6l.2 .2h.8l.4-.1h1.6l.4 .1h.6l.4-.1h3.6l.4-.1h.6l.4-.1h.6l.4-.1h.6l.2 .2h.8l.2 .2h.8l.4-.1h1.6l.4 .1h.6l.4-.1h.6l.4 .1h.6l.4-.1h.6l.4 .1h.6l.4-.1h1.6l.4 .1h1.6l.2-.4h.8l.2 .3h.8l.4 .1h.6l.4-.1h.6l.4-.1h.6l.2 .2h.8l.4-.1h.6l.4 .1h.6l.4-.1h.6l.2-.2h.8l.2 .3h2.8l.4-.1h.6l.4 .1h.6l.4-.1h.6l.2-.2h.8l.4 .1h1.6l.2 .2h.8l.4-.1h.6l.4 .1h.6l.4-.1h.6l.4 .1h1.6l.2-.4h.8l.4 .1h.6l.2 .3h.8l.2-.3h.8l.2 .3h.8l.4-.1h.6l.2-.3h1.8l.2 .3h.8l.4-.1h.6l.4 .1h.6l.2-.2h.8l.2 .2h.8l.4 .1h1.6l.4-.1h1.6l.2-.2h.8l.2 .3h.8l.2-.2h.8l.2-.2h.8l.2 .2h.8l.2 .2h2.8l.4-.1h.6l.4-.1h.6l.2 .2h.8l.4-.1h.6l.4 .1h.6l.2-.2h.8l.2 .2h.8l.2-.2h.8l.4 .1h.6l.4 .1h.6l.2-.2h.8l.4 .1h2.6l.4 .1h.6l.4-.1h.6l.4-.1h.6l.4-.1h1.6l.2 .2h.8l.2-.2h.8l.2 .3h.8l.2-.4h.8l.2 .4h.8l.2-.3h.8l.4 .1h.6l.4 .1h.6l.4-.1h.6l.2-.2h.8l.2 .4h.8l.2-.2h.8l.2 .2h.8l.2-.2h.8l.2 .2h.8l.2-.2h.8l.2 .2h.8l.4-.1h.6l.2-.2h.8l.2 .2h.8l.2-.3h.8l.2 .3h.8l.4 .1h.6l.2-.4h.8l.2 .4h.8l.4-.1h.6l.2-.3h1.8l.2 .3h.8l.4 .1h.6l.4-.1h3.6l.4 .1h1.6l.2-.2h.8l.2 .2h.8l.4-.1h1.6l.4-.1h.6l.4 .1h1.6l.4-.1h.6l.4 .1h.6l.2-.2h.8l.2 .2h.8l.2-.2h1.8l.4 .1h.6l.4 .1h1.6l.4 .1h.6l.2-.2h.8l.4 .1h.6l.2-.2h.8l.2 .3h1.8l.4-.1h.6l.4-.1h.6l.2 .2h1.8l.4-.1h1.6l.4 .1h5.6l.4-.1h.6l.4-.1h1.6l.4 .1h1.6l.4 .1h2.6l.2-.4h.8l.4 .1h.6l.2 .2h1.8l.4-.1h.6l.4-.1h.6l.2 .3h.8l.2-.2h.8l.4 .1h.6l.4 .1h.6l.4-.1h.6l.4 .1h.6l.4-.1h.6l.2-.3h.8l.2 .2h.8l.2 .2h4.8l.2-.2h.8l.4 .1h2.6l.2-.3h.8l.2 .3h.8l.4 .1h.6l.2-.2h.8l.4 .1h5.6l.4 .1h.6l.2-.4h.8l.2 .4h.8l.4-.1h1.6l.4 .1h1.6l.4-.1h3.6l.4-.1h1.6l.2 .2h1.8l.4-.1h1.6l.2-.2h.8l.2 .3h.8l.4-.1h1.6l.4 .1h.6l.2-.3h.8l.2 .3h.8l.2-.2h.8l.4-.1h.6l.4-.1h.6l.2 .4h2.8l.4-.1h.6l.2-.2h.8l.2 .2h.8l.4 .1h1.6l.2-.2h.8l.4 .1h.6l.4 .1h.6l.4-.1h.6l.4 .1h.6l.4-.1h.6l.4 .1h.6l.2-.4h.8l.2 .3h1.8l.4 .1h.6l.4-.1h1.6l.4-.1h.6l.4-.1h.6l.2 .3h1.8l.4-.1h1.6l.2-.2h.8l.2 .2h4.8l.4 .1h.6l.2-.2h.8l.2 .2h.8l.2-.3h.8l.2 .3h1.8l.4-.1h.6l.2-.2h.8l.2 .2h2.8l.4 .1h.6l.4-.1h.6l.2-.2h.8l.4-.1h.6l.2 .4h.8l.2-.4h.8l.2 .4h.8l.2-.2h.8l.2 .2h.8l.4-.1h2.6l.2-.3h.8l.2 .3h.8l.4 .1h1.6l.2-.2h.8l.2 .2h2.8l.2-.4h.8l.2 .3h.8l.4 .1h.6l.2-.2h.8l.4 .1h1.6l.2-.3h.8l.2 .2h.8l.4 .1h.6l.2-.3h.8l.2 .3h1.8l.2-.2h.8l.4-.1h.6l.2 .2h.8l.4 .1h1.6l.4 .1h1.6l.2-.2h.8l.4 .1h.6l.2-.2h.8l.4 .1h.6l.4 .1h.6l.2-.2h.8l.2 .2h.8l.4-.1h.6l.4 .1h1.6l.4-.1h.6l.2 .2h.8l.2-.4h1.8l.4 .1h.6l.2 .2h3.8l.4 .1h.6l.2-.2h.8l.4-.1h.6l.2 .2h.8l.2-.2h.8l.2 .2h.8l.2-.2h.8l.4-.1h.6l.2 .2h.8l.2-.2h.8l.2 .2h1.8l.4 .1h.6l.4 .1h1.6l.2-.3h.8l.2 .3h.8l.2-.2h.8l.2 .2h.8l.2-.2h.8l.2-.2h.8l.2 .3h.8l.4 .1h.6l.2-.2h.8l.4 .1h.6l.2-.2h.8l.2 .3h1.8l.2-.4h.8l.4 .1h1.6l.2 .2h.8l.4-.1h.6l.2-.2h.8l.2 .2h.8l.2 .2h4.8l.4-.1h1.6l.2-.2h.8l.2 .2h.8l.4 .1h.6l.2-.3h1.8l.4-.1h.6l.2 .4h.8l.4-.1h2.6l.4 .1h.6l.2-.4h.8l.2 .3h.8l.4 .1h.6l.4-.1h.6l.4-.1h.6l.2 .2h.8l.2-.2h.8l.2 .2h.8l.4-.1h1.6l.4 .1h.6l.2-.3h.8l.2 .2h.8l.4-.1h.6l.4-.1h.6l.2 .2h.8l.4 .1h.6l.4-.1h.6l.4 .1h.6l.2-.3h.8l.2 .3h.8l.2-.2h.8l.2 .2h2.8l.2-.3h.8l.2 .2h.8l.4-.1h.6l.2 .2h.8l.4-.1h.6l.2-.2h.8l.2 .2h.8l.4-.1h.6l.4 .1h.6l.4 .1h.6l.2-.3h.8l.2 .3h1.8l.2-.2h.8l.2 .2h.8l.2-.2h1.8l.4 .1h2.6l.4 .1h1.6l.4-.1h.6l.4 .1h1.6l.4-.1h2.6l.4 .1h.6l.2-.2h3.8l.2 .2h.8l.2-.3h.8l.2 .2h.8l.4 .1h.6l.2-.2h.8l.4 .1h2.6l.4-.1h1.6l.4 .1h.6l.4 .1h1.6l.2-.4h.8l.2 .3h1.8l.4 .1h.6l.4-.1h1.6l.4-.1h.6l.2-.2h.8l.2 .3h1.8l.4 .1h.6l.4-.1h1.6l.2-.3h.8l.2 .3h.8l.4-.1h1.6l.2 .2h1.8l.4-.1h.6l.4 .1h1.6l.2-.2h1.8l.2 .2h1.8l.2-.3h.8l.2 .2h1.8l.4-.1h1.6l.2-.2h.8l.2 .4h.8l.2-.2h.8l.4 .1h.6l.4 .1h.6l.4-.1h.6l.4 .1h2.6l.2-.2h1.8l.2 .2h.8l.4-.1h.6l.4-.1h.6l.4 .1h1.6l.2-.3h.8l.2 .3h2.8l.4 .1h.6l.4-.1h.6l.4-.1h1.6l.4-.1h.6l.2 .2h1.8l.4 .1h4.6l.4-.1h1.6l.4-.1h1.6l.4 .1h.6l.4-.1h.6l.4 .1h3.6l.2-.3h.8l.4 .1h.6l.2 .3h.8l.4-.1h.6l.4 .1h.6l.4-.1h.6l.2-.2h.8l.4 .1h.6l.2 .2h.8l.4-.1h.6l.4 .1h.6l.2-.2h2.8l.4 .1h1.6l.4 .1h.6l.2-.4h1.8l.2 .4h.8l.4-.1h.6l.4-.1h.6l.2 .2h2.8l.2-.2h.8l.2 .2h.8l.4-.1h.6l.4-.1h.6l.2 .2h.8l.2-.2h.8l.4 .1h3.6l.2-.2h.8l.4 .1h.6l.4 .1h.6l.4 .1h.6l.4-.1h.6l.2-.3h.8l.4 .1h.6l.2 .3h.8l.4-.1h2.6l.4 .1h1.6l.4-.1h.6l.4-.1h3.6l.2 .2h1.8l.4-.1h.6l.4 .1h.6l.4-.1h2.6l.4 .1h.6l.2-.3h.8l.4-.1h.6l.2 .3h.8l.4 .1h.6l.4-.1h.6l.2-.2h.8l.2 .2h.8l.4-.1h1.6l.2-.2h.8l.2 .2h.8l.2 .2h.8l.4-.1h.6l.2-.3h.8l.2 .4h4.8l.2-.2h.8l.4 .1h.6l.4-.1h.6l.4 .1h1.6l.4-.1h.6l.2 .2h.8l.4-.1h1.6l.4-.1h1.6l.4 .1h1.6l.4 .1h.6l.4-.1h.6l.2-.2h.8l.2 .2h.8l.4-.1h.6l.4 .1h2.6l.4 .1h2.6l.4-.1h.6l.4-.1h1.6l.2 .2h.8l.4-.1h.6l.4 .1h.6l.2-.2h.8l.4 .1h.6l.4 .1h1.6l.2-.4h.8l.2 .3h.8l.2-.3h.8l.2 .3h.8l.4 .1h.6l.2-.2h.8l.4-.1h.6l.2 .3h.8l.2-.3h.8l.2 .2h.8l.2-.2h.8l.4-.1h.6l.2 .3h.8l.2-.3h.8l.2 .4h.8l.4-.1h1.6l.4 .1h.6l.4-.1h.6l.4-.1h.6l.2 .2h.8l.4-.1h1.6l.4 .1h.6l.4-.1h.6l.4 .1h.6l.4-.1h1.6l.4-.1h.6l.2-.2h1.8l.2 .3h.8l.4 .1h1.6l.2-.2h2.8l.4-.1h.6l.2 .2h.8l.2-.2h.8l.4 .1h.6l.4 .1h.6l.2-.2h.8l.4 .1h1.6l.2-.2h.8l.2 .3h.8l.4-.1h.6l.4 .1h1.6l.2-.2h.8l.4-.1h1.6l.2 .2h.8l.4-.1h1.6l.2 .2h.8l.4 .1h1.6l.2-.2h2.8l.4 .1h.6l.4-.1h1.6l.4 .1h.6l.4-.1h.6l.2 .2h.8l.4-.1h2.6l.4 .1h1.6l.2-.2h.8l.2 .2h.8l.2-.2h.8l.2 .2h.8l.2-.2h.8l.4 .1h.6l.2-.2h.8l.2 .3h1.8l.2-.2h1.8l.4 .1h1.6l.4-.1h.6l.4 .1h3.6l.4 .1h.6l.2-.3h.8l.2 .3h.8l.2-.4h.8l.4 .1h.6l.2 .2h.8l.2-.2h.8l.2 .2h1l.5-.1l1 .1h1.3l.2-.3h.8l.2 .2h.8l.2-.2h.8l.2 .2h.8l.4-.1h.6l.4 .1h.6l.4-.1h.6l.2-.3h.8l.4 .1h.6l.2 .2h1.8l.4-.1h.6l.4-.1h.6l.4 .1h.6l.2-.3h1.8l.4-.1h.6l.2 .3h1.8l.2-.2h.8l.4 .1h.6l.4 .1h1.3v3.9h-.3l-.4 .1h-.6l-.4-.1h-1l-.6 .1l-.4-.1h-.6l-.4-.1l-.3 .1h-3.5l-.2 .3h-.8l-.2-.2h-2.6l-.4 .1h-.6l-.4-.1h-.6l-.4 .1h-.8l-.2 .2h-.8l-.2-.2h-1.8l-.2 .3h-.8l-.2-.2h-.6l-.4 .1h-.6l-.4 .1h-.8l-.2-.2h-1.8l-.2 .3h-.8l-.2-.3h-1l-1 .2h-.6l-.4-.1h-4.6l-.4 .1h-.8l-.2 .2h-.8l-.2-.3h-1.6l-.4 .1h-.6l-.4 .1h-.8l-.2-.2h-1.8l-.2 .3h-.8l-.2-.2h-.8l-.2 .2h-.8l-.2-.3h-.8l-.2 .3h-.8l-.2-.2h-.8l-.2 .2h-.8l-.2-.3h-.8l-.2 .2h-.6l-.4-.1h-.6l-.4-.1h-1.8l-.2 .2h-.8l-.2-.2h-.8l-.2 .2h-.8l-.2-.2h-.6l-.4 .1h-.6l-.4-.1h-.8l-.2 .3h-.8l-.2-.3h-1.6l-.4 .1h-.6l-.4-.1h-1.8l-.2 .2h-.6l-.4-.1h-.6l-.4-.1h-1.6l-.4 .1h-.6l-.4-.1h-1.6l-.4 .1h-.6l-.4-.1h-2.8l-.2 .3h-.8l-.2-.3h-1.8l-.2 .2h-.8l-.2-.2h-9.8l-.2 .3h-.8l-.2-.3h-5.8l-.2 .3h-.8l-.2-.3h-5.8l-.2 .2h-.6l-.4-.1h-.8l-.2 .2h-1.8l-.2-.3h-2.6l-.4 .1h-.8l-.2 .2h-.6l-.4-.1h-.8l-.2-.2h-.6l-.4 .1h-.6l-.4-.1h-12.6l-.4 .1h-.8l-.2 .2h-.8l-.2-.3h-.8l-.2 .2h-.6l-.4-.1h-.8l-.2 .2h-.8l-.2-.3h-1.8l-.2 .2h-.8l-.2-.2h-.6l-.4 .1h-.6l-.4-.1h-6.6l-.4 .1h-.6l-.4-.1h-2.8l-.2 .3h-.8l-.2-.2h-1.6l-.4-.1h-1.8l-.2 .2h-.8l-.2-.2h-1.6l-.4 .1h-.6l-.4-.1h-1.8l-.2 .3h-.8l-.2-.3h-5.8l-.2 .3h-.8l-.2-.3h-.6l-.4 .1h-.6l-.4-.1h-1.6l-.4 .1h-1.6l-.4-.1h-.6l-.4 .1h-.6l-.4 .1h-1.6l-.4 .1h-.6l-.4-.1h-.8l-.2-.2h-1.6l-.4 .1h-.6l-.4-.1h-2.6l-.4 .1h-1.6l-.4-.1h-.6l-.4 .1h-.8l-.2 .2h-.8l-.2-.2h-.8l-.2 .2h-.8l-.2-.2h-.6l-.4 .1h-1.8l-.2-.2h-.6l-.4 .1h-.6l-.4-.1h-1.8l-.2 .3h-1.8l-.2-.3h-2.8l-.2 .3h-.8l-.2-.3h-2.6l-.4 .1h-.6l-.4 .1h-.8l-.2-.2h-.6l-.4 .1h-1.6l-.4-.1h-.6l-.4 .1h-.6l-.4-.1h-.8l-.2 .3h-.8l-.2-.3h-.6l-.4 .1h-.6l-.4-.1h-3.6l-.4 .1h-.6l-.4 .1h-1.6l-.4-.1h-.6l-.4-.1h-.6l-.4 .1h-.6l-.4-.1h-.8l-.2 .2h-.8l-.2-.2h-1.8l-.2 .2h-.8l-.2-.2h-1.6l-.4 .1h-.6l-.4-.1h-.8l-.2 .2h-.6l-.4-.1h-1.6l-.4-.1h-1.6l-.4 .1h-.6l-.4-.1h-1.8l-.2 .2h-.6l-.4-.1h-.6l-.4-.1h-1.6l-.4 .1h-.6l-.4-.1h-1.8l-.2 .2h-.8l-.2-.2h-1.8l-.2 .2h-.6l-.4-.1h-.6l-.4 .1h-1.8l-.2-.2h-5.6l-.4 .1h-.6l-.4-.1h-1.6l-.4 .1h-1.6l-.4-.1h-.6l-.4 .1h-.6l-.4 .1h-.6l-.4 .1h-.8l-.2-.3h-3.6l-.4 .1h-1.6l-.4-.1h-.6l-.4 .1h-.8l-.2 .2h-.8l-.2-.3h-.8l-.2 .3h-.8l-.2-.3h-3.6l-.4 .1h-.6l-.4 .1h-.8l-.2-.2h-1.6l-.4 .1h-.6l-.4 .1h-.6l-.4-.1h-.6l-.4-.1h-.6l-.4 .1h-.6l-.4-.1h-3.8l-.2 .3h-.8l-.2-.2h-.8l-.2 .2h-.8l-.2-.2h-.6l-.4-.1h-.8l-.2 .2h-1.8l-.2-.2h-.6l-.4 .1h-1.8l-.2 .2h-.8l-.2-.3h-3.8l-.2 .2h-.8l-.2-.2h-1.8l-.2 .3h-.8l-.2-.3h-1.6l-.4 .1h-.6l-.4-.1h-1.6l-.4 .1h-.6l-.4-.1h-.8l-.2 .2h-.8l-.2-.2h-.8l-.2 .3h-.8l-.2-.3h-.8l-.2 .2h-.8l-.2-.2h-.6l-.4 .1h-.6l-.4-.1h-.6l-.4 .1h-.6l-.4-.1h-.8l-.2 .2h-.8l-.2-.2h-1.8l-.2 .3h-.8l-.2-.3h-1.8l-.2 .3h-.6l-.4-.1h-.8l-.2-.2h-.8l-.2 .2h-.8l-.2-.2h-2.8l-.2 .3h-1.8l-.2-.3h-2.8l-.2 .3h-.8l-.2-.3h-1.8l-.2 .2h-.8l-.2-.2h-.8l-.2 .2h-.6l-.4-.1h-.6l-.4-.1h-.6l-.4 .1h-.6l-.4-.1h-.8l-.2 .3h-.8l-.2-.2h-.6l-.4-.1h-.8l-.2 .2h-.8l-.2-.2h-2.6l-.4 .1h-.6l-.4-.1h-.8l-.2 .4h-.8l-.2-.4h-.8l-.2 .2h-.8l-.2-.2h-.6l-.4 .1h-.8l-.2 .2h-.8l-.2-.3h-.8l-.2 .3h-.8l-.2-.3h-.8l-.2 .3h-1.8l-.2-.2h-.6l-.4-.1h-.8l-.2 .2h-.8l-.2-.2h-2.8l-.2 .2h-.6l-.4-.1h-.6l-.4-.1h-3.6l-.4 .1h-.8l-.2 .2h-.8l-.2-.2h-1.6l-.4-.1h-1.8l-.2 .3h-.8l-.2-.3h-.6l-.4 .1h-.6l-.4-.1h-.6l-.4 .1h-2.6l-.4-.1h-.8l-.2 .3h-.8l-.2-.3h-1.8l-.2 .2h-.6l-.4 .1h-.8l-.2-.3h-2.6l-.4 .1h-.6l-.4-.1h-5.6l-.4 .1h-1.6l-.4-.1h-.8l-.2 .3h-.8l-.2-.3h-.8l-.2 .3h-.8l-.2-.3h-2.8l-.2 .2h-.6l-.4-.1h-.6l-.4-.1h-2.8l-.2 .2h-.8l-.2-.2h-1.6l-.4 .1h-.6l-.4-.1h-.8l-.2 .3h-1.8l-.2-.2h-.6l-.4-.1h-2.8l-.2 .3h-.8l-.2-.3h-.8l-.2 .3h-1.8l-.2-.3h-.8l-.2 .2h-.6l-.4-.1h-.6l-.4 .1h-.8l-.2-.2h-2.8l-.2 .3h-.8l-.2-.3h-.8l-.2 .2h-.6l-.4 .1h-1.6l-.4-.1h-.8l-.2-.2h-.6l-.4 .1h-.6l-.4-.1h-.6l-.4 .1h-1.6l-.4-.1h-2.6l-.4 .1h-2.6l-.4-.1h-.6l-.4 .1h-.6l-.4-.1h-5.8l-.2 .3h-.8l-.2-.3h-.8l-.2 .2h-.6l-.4 .1h-.8l-.2-.2h-2.6l-.4-.1h-1.6l-.4 .1h-.6l-.4-.1h-6.6l-.4 .1h-.6l-.4-.1h-.8l-.2 .3h-.8l-.2-.3h-.8l-.2 .3h-.8l-.2-.3h-.6l-.4 .1h-.6l-.4-.1h-1.8l-.2 .2h-.8l-.2-.2h-.6l-.4 .1h-.6l-.4-.1h-.6l-.4 .1h-.6l-.4-.1h-.8l-.2 .3h-.8l-.2-.3h-.8l-.2 .3h-.8l-.2-.2h-.6l-.4-.1h-1.6l-.4 .1h-.6l-.4-.1h-.6l-.4 .1h-.6l-.4-.1h-2.6l-.4 .1h-.6l-.4-.1h-.6l-.4 .1h-.6l-.4 .1h-.8l-.2-.2h-.8l-.2 .3h-.8l-.2-.3h-.6l-.4 .1h-.6l-.4-.1h-.6l-.4 .1h-.6l-.4-.1h-.6l-.4 .1h-1.6l-.4-.1h-.8l-.2 .2h-.8l-.2-.2h-4.6l-.4 .1h-.8l-.2 .2h-.8l-.2-.3h-.8l-.2 .3h-.6l-.4-.1h-.8l-.2-.2h-1.8l-.2 .3h-1.8l-.2-.2h-.6l-.4-.1h-5.8l-.2 .3h-.8l-.2-.2h-.6l-.4-.1h-.8l-.2 .2h-.8l-.2-.2h-2.8l-.2 .3h-.8l-.2-.3h-.6l-.4 .1h-1.6l-.4-.1h-2.6l-.4 .1h-.6l-.4-.1h-2.6l-.4 .1h-.6l-.4-.1h-.6l-.4 .1h-.6l-.4-.1h-3.8l-.2 .3h-.8l-.2-.3h-.6l-.4 .1h-.8l-.2 .2h-.8l-.2-.3h-.8l-.2 .3h-.6l-.4-.1h-.8l-.2-.2h-.6l-.4 .1h-.6l-.4-.1h-6.8l-.2 .2h-.6l-.4-.1h-.6l-.4 .1h-.6l-.4-.1h-.6l-.4-.1h-3.6l-.4 .1h-.6l-.4-.1h-.8l-.2 .3h-.8l-.2-.3h-1.8l-.2 .2h-.8l-.2-.2h-.6l-.4 .1h-1.6l-.4-.1h-.6l-.4 .1h-.6l-.4-.1h-.8l-.2 .3h-.8l-.2-.3h-.8l-.2 .3h-.8l-.2-.2h-.6l-.4-.1h-.8l-.2 .2h-.8l-.2-.2h-2.6l-.4 .1h-1.6l-.4-.1h-2.8l-.2 .4h-.8l-.2-.4h-1.8l-.2 .2h-.8l-.2-.2h-.8l-.2 .3h-.8l-.2-.3h-1.8l-.2 .3h-.8l-.2-.3h-2.6l-.4 .1h-1.6l-.4-.1h-.6l-.4 .1h-.6l-.4-.1h-1.6l-.4 .1h-.6l-.4-.1h-2.8l-.2 .2h-.6l-.4 .1h-.8l-.2-.3h-.6l-.4 .1h-.6l-.4-.1h-2.6l-.4 .1h-.6l-.4-.1h-.8l-.2 .2h-.8l-.2-.2h-.8l-.2 .2h-.8l-.2-.2h-.8l-.2 .2h-.8l-.2-.2h-1.8l-.2 .3h-.8l-.2-.3h-1.8l-.2 .2h-.8l-.2-.2h-1.6l-.4 .1h-.6l-.4-.1h-.6l-.4 .1h-1.6l-.4-.1h-.8l-.2 .2h-.8l-.2-.2h-.8l-.2 .2h-.8l-.2-.2h-.6l-.4 .1h-.6l-.4 .1h-1.6l-.4-.1h-1.6l-.4-.1h-.8l-.2 .2h-.8l-.2-.2h-1.8l-.2 .3h-.8l-.2-.3h-.6l-.4 .1h-.6l-.4-.1h-.8l-.2 .4h-.8l-.2-.4h-3.6l-.4 .1h-.6l-.4-.1h-1.8l-.2 .3h-.8l-.2-.3h-.8l-.2 .2h-.8l-.2-.2h-2.8l-.2 .2h-.8l-.2-.2h-1.8l-.2 .3h-.8l-.2-.3h-2.6l-.4 .1h-.6l-.4-.1h-.6l-.4 .1h-.6l-.4-.1h-5.6l-.4 .1h-.6l-.4-.1h-3.6l-.4 .1h-.6l-.4-.1h-2.8l-.2 .3h-1.8l-.2-.2h-.6l-.4-.1h-.8l-.2 .3h-.8l-.2-.3h-1.8l-.2 .3h-.8l-.2-.3h-3.8l-.2 .3h-.8l-.2-.3h-.6l-.4 .1h-.6l-.4-.1h-1.8l-.2 .3h-.8l-.2-.3h-2.6l-.4 .1h-.6l-.4-.1h-1.8l-.2 .2h-.6l-.4 .1h-.8l-.2-.2h-.6l-.4-.1h-.8l-.2 .3h-.8l-.2-.3h-.8l-.2 .2h-.8l-.2-.2h-.6l-.4 .1h-1.6l-.4-.1h-.8l-.2 .2h-.8l-.2-.2h-4.6l-.4 .1h-1.8l-.2 .2h-.8l-.2-.3h-3.8l-.2 .2h-.6l-.4-.1h-.6l-.4-.1h-.6l-.4 .1h-.6l-.4-.1h-1.8l-.2 .2h-.8l-.2-.2h-1.8l-.2 .3h-.8l-.2-.3h-3.6l-.4 .1h-.6l-.4 .1h-.8l-.2-.2h-.6l-.4 .1h-2.8l-.2 .2h-.8l-.2-.3h-.6l-.4 .1h-.8l-.2 .2h-2.8l-.2-.3h-.6l-.4 .1h-.6l-.4-.1h-.6l-.4 .1h-.6l-.4-.1h-.6l-.4 .1h-.6l-.4-.1h-1.8l-.2 .2h-.8l-.2-.2h-1.6l-.4 .1h-2.6l-.4-.1h-2.8l-.2 .2h-.6l-.4-.1h-.6l-.4-.1h-.6l-.4 .1h-.6l-.4-.1h-5.8l-.2 .3h-1.8l-.2-.3h-3.6l-.4 .1h-.8l-.2 .2h-.8l-.2-.3h-2.8l-.2 .2h-.8l-.2-.2h-4.8l-.2 .3h-.8l-.2-.3h-.6l-.4 .1h-1.8z"/>
<path fill="#000000" d="M138 197h.8l.4-.1h1.6l.2-.2h.8l.2 .3h.8l.4-.1h.6l.2 .2h.8l.4-.1h.6l.2-.3h.8l.2 .3h3.8l.4 .1h.6l.4-.1h.6l.2-.3h.8l.2 .2h1.8l.4 .1h1.6l.4-.1h.6l.4 .1h2.6l.2-.3h.8l.2 .2h1.8l.2 .2h.8l.2-.3h.8l.2 .2h2.8l.4-.1h.6l.2 .2h1.8l.4-.1h1.6l.4-.1h.6l.2 .2h1.8l.4-.1h.6l.4 .1h.6l.2-.2h.8l.4 .1h2.6l.2-.3h.8l.2 .3h2.8l.4-.1h.6l.2-.2h.8l.2 .4h1.8l.4-.1h1.6l.4-.1h2.6l.4 .1h1.6l.2-.3h.8l.2 .4h2.8l.2-.3h.8l.2 .2h.8l.4-.1h1.6l.4-.1h.6l.2 .2h1.8l.4 .1h.6l.4-.1h1.6l.2-.3h.8l.2 .2h.8l.4 .1h3.6l.2-.3h.8l.2 .3h2.8l.2-.3h.8l.2 .3h.8l.4-.1h.6l.2 .2h.8l.4-.1h.6l.2-.3h.8l.2 .2h.8l.2 .2h.8l.2-.4h.8l.2 .3h1.8l.2-.3h.8l.2 .3h2.8l.4-.1h.6l.4 .1h.6l.4 .1h.6l.4-.1h.6l.4 .1h2.6l.4-.1h2.6l.4-.1h.6l.4 .1h.6l.2-.2h.8l.2 .3h.8l.4-.1h5.6l.2-.3h.8l.2 .3h1.8l.4-.1h.6l.2 .2h.8l.2-.2h.8l.4 .1h1.6l.4-.1h.6l.2 .2h1.8l.4-.1h4.6l.2-.3h1.8l.2 .2h.8l.4 .1h1.6l.2-.2h1.8l.4-.1h.6l.2 .3h2.8l.4-.1h.6l.2-.2h.8l.2 .3h1.8l.4-.1h.6l.4 .1h2.6l.4 .1h.6l.4-.1h1.6l.4 .1h.6l.2-.4h.8l.2 .2h.8l.4 .1h.6l.2-.3h.8l.2 .4h.8l.4-.1h.6l.2-.2h.8l.4-.1h.6l.2 .2h.8l.4 .1h1.6l.4 .1h1.6l.2-.3h.8l.2 .3h2.8l.2-.2h.8l.4 .1h2.6l.2-.3h.8l.2 .3h.8l.4 .1h.6l.2-.2h.8l.2 .2h.8l.4-.1h1.6l.4 .1h.6l.2-.2h1.8l.4 .1h.6l.4 .1h.6l.2-.4h.8l.2 .3h4.8l.2-.3h.8l.2 .4h.8l.2-.3h.8l.2 .2h.8l.4 .1h1.6l.2-.2h.8l.4 .1h2.6l.2-.3h.8l.2 .2h1.8l.2-.2h.8l.2 .3h1.8l.2-.2h.8l.2 .2h1.8l.2-.2h.8l.4-.1h.6l.4 .1h.6l.4 .1h.6l.4 .1h.6l.4-.1h.6l.4 .1h2.6l.4-.1h.6l.2-.2h.8l.2 .2h.8l.4 .1h.6l.4-.1h.6l.4 .1h.6l.2-.2h.8l.2 .2h2.8l.4 .1h.6l.4-.1h2.6l.4-.1h.6l.2-.2h.8l.4 .1h.6l.2 .2h1.8l.4 .1h.6l.4-.1h.6l.4 .1h1.6l.2-.2h.8l.2 .2h.8l.2-.3h.8l.4 .1h.6l.4 .1h.6l.2-.3h.8l.2 .4h.8l.4-.1h1.6l.2-.3h.8l.2 .4h.8l.4-.1h.6l.2-.3h.8l.2 .4h.8l.2-.2h1.8l.4 .1h1.6l.2-.3h.8l.2 .3h2.8l.4 .1h.6l.2-.3h.8l.2 .3h.8l.2-.4h1.8l.4 .1h1.6l.2 .2h2.8l.4-.1h.6l.2 .2h.8l.2-.2h.8l.4 .1h3.6l.2-.2h.8l.4 .1h.6l.2 .2h.8l.2-.2h.8l.2-.2h.8l.2 .2h1.8l.4 .1h.6l.4-.1h.6l.4 .1h.6l.2-.3h.8l.2 .2h.8l.4 .1h.6l.2-.2h.8l.4 .1h.6l.4 .1h1.6l.4 .1h.6l.2-.2h.8l.2 .2h.8l.4-.1h.6l.4-.1h.6l.4 .1h1.6l.4 .1h1.6l.4-.1h.6l.4 .1h.6l.2-.4h.8l.2 .4h.8l.4-.1h1.6l.2-.2h.8l.4 .1h.6l.2 .2h2.8l.2-.2h1.8l.4 .1h3.6l.4 .1h.6l.2-.2h2.8l.4 .1h1.6l.2-.3h1.8l.2 .2h1.8l.4 .1h.6l.2-.2h.8l.4 .1h.6l.4 .1h.6l.4-.1h.6l.2 .2h.8l.4-.1h.6l.2-.2h.8l.2 .2h2.8l.2-.3h.8l.2 .3h.8l.4-.1h.6l.4 .1h1.6l.4 .1h.6l.4-.1h4.6l.2-.2h.8l.2 .3h.8l.4-.1h1.6l.4 .1h.6l.4-.1h.6l.2-.2h.8l.2 .2h.8l.4-.1h.6l.4 .1h2.6l.4 .1h.6l.2-.3h.8l.2 .2h2.8l.2-.3h1.8l.2 .3h1.8l.4-.1h.6l.2 .2h.8l.2-.3h.8l.2 .3h1.8l.4-.1h1.6l.4 .1h.6l.4-.1h.6l.2-.3h.8l.2 .2h.8l.2 .2h.8l.2-.3h.8l.2 .2h.8l.2-.3h.8l.2 .3h1.8l.4-.1h.6l.4 .1h2.6l.4-.1h.6l.4 .1h.6l.2-.2h.8l.4 .1h2.6l.4 .1h.6l.4-.1h.6l.4 .1h.6l.4 .1h.6l.4-.1h1.6l.4 .1h.6l.4-.1h.6l.2-.3h.8l.2 .4h.8l.4-.1h.6l.4 .1h.6l.4-.1h2.6l.4 .1h.6l.2-.2h.8l.4 .1h1.6l.4-.1h.6l.4-.1h.6l.2 .2h.8l.2-.3h.8l.2 .3h3.8l.2-.2h.8l.4-.1h.6l.2 .3h2.8l.2-.2h.8l.2 .2h1.8l.2-.2h.8l.2 .2h1.8l.2-.2h.8l.4 .1h.6l.2 .2h.8l.2-.4h.8l.2 .3h1.8l.2-.2h.8l.2 .2h.8l.4-.1h1.6l.4 .1h.6l.2-.3h.8l.2 .3h.8l.4 .1h.6l.4-.1h.6l.4 .1h.6l.2-.4h.8l.2 .2h.8l.4 .1h.6l.2-.2h.8l.4 .1h1.6l.4 .1h.6l.4 .1h.6l.2-.3h1.8l.2 .2h3.8l.2-.3h.8l.2 .3h.8l.4-.1h.6l.4 .1h.6l.4 .1h2.6l.4-.1h1.6l.2-.3h.8l.4 .1h.6l.4 .1h.6l.4 .1h1.6l.4-.1h.6l.4 .1h.6l.4-.1h1.6l.2 .2h.8l.2-.3h.8l.2 .3h.8l.4-.1h.6l.2-.3h.8l.2 .2h.8l.4-.1h.6l.4-.1h.6l.2 .3h.8l.4-.1h.6l.4 .1h.6l.4 .1h2.6l.4-.1h.6l.4-.1h.6l.4-.1h.6l.2 .2h.8l.4-.1h.6l.4 .1h1.6l.4-.1h.6l.4 .1h.6l.2-.3h.8l.2 .3h1.8l.2-.2h1.8l.2 .3h.8l.4-.1h1.6l.4 .1h.6l.4-.1h.6l.4-.1h1.6l.2 .2h.8l.4-.1h1.6l.4-.1h.6l.2 .2h.8l.2-.4h.8l.2 .4h.8l.4-.1h.6l.4-.1h.6l.2-.2h.8l.2 .3h.8l.2-.2h.8l.2 .2h4.8l.4-.1h.6l.4 .1h3.6l.4 .1h.6l.4-.1h1.6l.4-.1h.6l.4 .1h.6l.4-.1h.6l.4 .1h2.6l.2-.2h.8l.4-.1h.6l.2 .2h.8l.4 .1h.6l.4-.1h.6l.4 .1h.6l.2-.3h.8l.2 .4h.8l.2-.2h.8l.4 .1h.6l.2-.2h.8l.2 .2h.8l.4 .1h.6l.2-.2h.8l.4 .1h1.6l.4 .1h.6l.4-.1h2.6l.4 .1h1.6l.2-.2h.8l.4 .1h.6l.4-.1h.6l.4 .1h1.6l.2-.2h.8l.2 .2h.8l.4 .1h.6l.4-.1h2.6l.2-.3h.8l.2 .3h.8l.4 .1h.6l.2-.2h.8l.2 .2h.8l.4-.1h2.6l.4-.1h.6l.2 .2h.8l.2-.2h.8l.2 .2h.8l.4-.1h.6l.2-.3h.8l.2 .2h.8l.2-.2h.8l.2 .3h.8l.4 .1h.6l.4-.1h.6l.4-.1h.6l.2 .2h.8l.2-.2h.8l.4 .1h.6l.2-.3h.8l.2 .3h3.8l.2-.3h.8l.2 .3h.8l.4-.1h.6l.4 .1h.6l.4 .1h.6l.4-.1h5.6l.4 .1h1.6l.4-.1h1.6l.2-.3h.8l.2 .2h.8l.4 .1h.6l.4-.1h.6l.4 .1h.6l.4 .1h.6l.2-.2h2.8l.4-.1h.6l.4 .1h.6l.4-.1h.6l.2 .3h.8l.2-.4h.8l.2 .3h4.8l.2-.2h.8l.2 .2h.8l.2-.3h.8l.2 .3h2.8l.4 .1h.6l.4-.1h4.6l.4-.1h.6l.4-.1h1.6l.4-.1h1.6l.2 .2h.8l.4 .1h1.6l.4 .1h.6l.4-.1h2.6l.4-.1h.6l.2 .2h.8l.2-.3h.8l.2 .3h.8l.4-.1h1.6l.4 .1h.6l.4-.1h1.6l.4 .1h.6l.2-.3h.8l.2 .2h.8l.2-.3h.8l.2 .3h1.8l.4 .1h.6l.2-.3h.8l.2 .3h.8l.2-.2h.8l.4 .1h1.6l.4 .1h.6l.4-.1h.6l.4 .1h.6l.2-.2h1.8l.2 .2h.8l.4-.1h1.6l.4-.1h.6l.4 .1h2.6l.2-.3h.8l.4 .1h.6l.2 .2h.8l.4-.1h.6l.4 .1h1.6l.2-.2h.8l.2 .3h.8l.2-.2h.8l.2-.2h.8l.2 .4h.8l.2-.3h.8l.4 .1h.6l.2 .2h.8l.4-.1h4.6l.4 .1h.6l.4-.1h1.6l.4-.1h3.6l.4-.1h.6l.2 .2h1.8l.4 .1h.6l.2-.2h.8l.4 .1h.6l.4 .1h.6l.4-.1h.6l.2-.3h.8l.2 .3h1.8l.2-.2h.8l.2 .2h.8l.4 .1h1.6l.2-.4h.8l.2 .4h.8l.2-.2h.8l.2 .2h.8l.4-.1h2.6l.4 .1h.6l.4-.1h.6l.4-.1h.6l.4 .1h.6l.4 .1h.6l.2-.3h1.8l.2 .2h1.8l.4 .1h1.6l.4-.1h.6l.4 .1h.6l.2-.4h.8l.2 .2h.8l.4 .1h1.6l.4 .1h.6l.2-.4h.8l.2 .3h.8l.4-.1h.6l.4 .1h1.6l.4-.1h.6l.4 .1h.6l.4 .1h.6l.4-.1h.6l.2-.2h.8l.2 .2h.8l.2-.3h.8l.2 .3h.8l.2-.2h.8l.2 .3h.8l.4-.1h2.6l.2-.2h.8l.2 .3h.8l.4-.1h1.6l.2-.3h.8l.2 .2h.8l.4 .1h.6l.4 .1h1.6l.4-.1h.6l.2-.3h.8l.4 .1h1.6l.2 .2h2.8l.2-.2h.8l.2 .3h.8l.4-.1h1.6l.4 .1h.6l.2-.4h.8l.2 .4h.8l.2-.4h.8l.2 .3h2.8l.4-.1h.6l.2-.2h.8l.2 .3h.8l.2-.2h1.8l.4-.1h.6l.2 .3h1.8l.4 .1h.6l.4-.1h1.6l.4 .1h.6l.2-.3h.8l.2 .2h.8l.4 .1h2.6l.2-.2h.8l.4 .1h2.6l.2-.3h.8l.2 .3h1.8l.4-.1h.6l.2-.2h.8l.4 .1h1.6l.2 .2h.8l.2-.3h.8l.4 .1h.6l.2 .2h.8l.2-.2h.8l.4-.1h.6l.2 .2h1.8l.4-.1h1.6l.4 .1h.6l.2 .2h.8l.4-.1h.6l.4 .1h.6l.4-.1h.6l.4 .1h.6l.4-.1h.6l.2-.3h1.8l.2 .4h.8l.2-.2h.5v3.9h-3.3l-.4 .1h-.6l-.4-.1h-2.6l-.4 .1h-.6l-.4-.1h-4.6l-.4 .1h-1.6l-.4-.1h-5.8l-.2 .3h-.8l-.2-.3h-3.6l-.4 .1h-.6l-.4-.1h-.6l-.4 .1h-.6l-.4-.1h-6.8l-.2 .2h-.8l-.2-.2h-.6l-.4 .1h-.6l-.4-.1h-.8l-.2 .3h-.8l-.2-.3h-2.8l-.2 .2h-.8l-.2-.2h-4.8l-.2 .3h-.8l-.2-.2h-.6l-.4 .1h-.6l-.4-.1h-.6l-.4-.1h-1.6l-.4 .1h-.6l-.4-.1h-2.8l-.2 .2h-.8l-.2-.2h-2.6l-.4 .1h-.6l-.4-.1h-.6l-.4 .1h-1.6l-.4 .1h-.8l-.2-.2h-.6l-.4 .1h-.6l-.4-.1h-1.8l-.2 .2h-.6l-.4-.1h-.6l-.4 .1h-.8l-.2-.2h-.6l-.4 .1h-.6l-.4-.1h-.8l-.2 .2h-.6l-.4-.1h-.6l-.4-.1h-2.6l-.4 .1h-.6l-.4-.1h-1.8l-.2 .3h-.8l-.2-.3h-.6l-.4 .1h-.6l-.4-.1h-6.6l-.4 .1h-.6l-.4-.1h-.8l-.2 .2h-.8l-.2-.2h-6.8l-.2 .3h-.8l-.2-.3h-.8l-.2 .2h-.6l-.4 .1h-.8l-.2-.3h-.6l-.4 .1h-.8l-.2 .2h-.6l-.4-.1h-.8l-.2-.2h-.8l-.2 .3h-.8l-.2-.3h-.8l-.2 .2h-.8l-.2-.2h-.8l-.2 .2h-.8l-.2-.2h-2.8l-.2 .3h-.8l-.2-.3h-.6l-.4 .1h-.6l-.4-.1h-1.8l-.2 .2h-.8l-.2-.2h-1.8l-.2 .2h-.8l-.2-.2h-4.8l-.2 .2h-.8l-.2-.2h-1.8l-.2 .2h-1.8l-.2-.2h-4.8l-.2 .3h-.8l-.2-.3h-.8l-.2 .2h-.6l-.4-.1h-.8l-.2 .2h-.8l-.2-.3h-1.6l-.4 .1h-1.6l-.4-.1h-1.8l-.2 .3h-.8l-.2-.2h-.8l-.2 .2h-.8l-.2-.3h-1.8l-.2 .3h-.8l-.2-.3h-.8l-.2 .3h-.8l-.2-.3h-6.8l-.2 .2h-.8l-.2-.2h-.6l-.4 .1h-.6l-.4-.1h-1.6l-.4 .1h-.6l-.4-.1h-3.8l-.2 .2h-.8l-.2-.2h-7.8l-.2 .3h-.8l-.2-.3h-2.8l-.2 .2h-.8l-.2-.2h-4.8l-.2 .3h-.8l-.2-.2h-.6l-.4-.1h-4.8l-.2 .3h-.8l-.2-.2h-.6l-.4-.1h-.8l-.2 .3h-1.8l-.2-.3h-.6l-.4 .1h-.6l-.4-.1h-1.8l-.2 .2h-.8l-.2-.2h-.8l-.2 .3h-.6l-.4-.1h-.6l-.4-.1h-1.6l-.4 .1h-1.8l-.2-.2h-6.8l-.2 .2h-.8l-.2-.2h-.6l-.4 .1h-.6l-.4-.1h-1.8l-.2 .2h-.8l-.2-.2h-2.8l-.2 .2h-.8l-.2-.2h-4.6l-.4 .1h-.6l-.4 .1h-.6l-.4-.1h-.6l-.4-.1h-.8l-.2 .2h-1.8l-.2-.2h-5.8l-.2 .3h-1.8l-.2-.3h-4.8l-.2 .3h-.8l-.2-.3h-.8l-.2 .3h-.8l-.2-.3h-.6l-.4 .1h-.6l-.4-.1h-.8l-.2 .3h-.8l-.2-.3h-.6l-.4 .1h-.6l-.4-.1h-3.6l-.4 .1h-.6l-.4 .1h-.8l-.2-.2h-.8l-.2 .2h-.8l-.2-.2h-2.8l-.2 .3h-.8l-.2-.3h-.6l-.4 .1h-.6l-.4-.1h-8.8l-.2 .2h-.8l-.2-.2h-4.8l-.2 .3h-.8l-.2-.3h-1.8l-.2 .2h-.6l-.4-.1h-2.8l-.2 .2h-.8l-.2-.3h-1.6l-.4 .1h-.8l-.2 .2h-.6l-.4-.1h-1.8l-.2-.2h-4.8l-.2 .3h-.8l-.2-.3h-.8l-.2 .3h-.8l-.2-.3h-.8l-.2 .2h-.8l-.2-.2h-1.6l-.4 .1h-.6l-.4 .1h-.8l-.2-.2h-.8l-.2 .3h-.6l-.4-.1h-.8l-.2-.2h-3.6l-.4 .1h-.6l-.4-.1h-2.6l-.4 .1h-.6l-.4-.1h-.8l-.2 .3h-.8l-.2-.3h-3.8l-.2 .3h-.8l-.2-.2h-.8l-.2 .2h-.6l-.4-.1h-.8l-.2-.2h-.8l-.2 .2h-.8l-.2-.2h-3.8l-.2 .2h-.8l-.2-.2h-2.8l-.2 .2h-.6l-.4-.1h-.8l-.2 .2h-.8l-.2-.2h-1.6l-.4-.1h-5.8l-.2 .2h-1.6l-.4 .1h-.6l-.4 .1h-.8l-.2-.4h-.6l-.4 .1h-.6l-.4-.1h-1.8l-.2 .2h-.8l-.2-.2h-.6l-.4 .1h-.6l-.4-.1h-1.6l-.4 .1h-.6l-.4-.1h-3.6l-.4 .1h-1.6l-.4-.1h-.8l-.2 .2h-.8l-.2-.2h-7.6l-.4 .1h-.6l-.4-.1h-2.6l-.4 .1h-3.6l-.4-.1h-.8l-.2 .3h-1.8l-.2-.3h-1.8l-.2 .3h-.6l-.4-.1h-.8l-.2-.2h-3.6l-.4 .1h-.6l-.4 .1h-.8l-.2-.2h-.6l-.4 .1h-.6l-.4-.1h-.6l-.4 .1h-.6l-.4-.1h-.8l-.2 .2h-1.6l-.4-.1h-.6l-.4-.1h-2.8l-.2 .2h-.6l-.4 .1h-1.8l-.2-.3h-.8l-.2 .2h-.8l-.2-.2h-3.6l-.4 .1h-.8l-.2 .2h-.8l-.2-.3h-1.8l-.2 .3h-.8l-.2-.3h-2.8l-.2 .3h-.8l-.2-.3h-4.8l-.2 .2h-.6l-.4 .1h-.8l-.2-.3h-4.6l-.4 .1h-.6l-.4-.1h-4.8l-.2 .2h-.8l-.2-.2h-.8l-.2 .3h-.8l-.2-.3h-.6l-.4 .1h-.6l-.4-.1h-.8l-.2 .3h-.8l-.2-.3h-1.8l-.2 .2h-1.6l-.4-.1h-.6l-.4-.1h-3.8l-.2 .2h-.8l-.2-.2h-.6l-.4 .1h-.6l-.4-.1h-.8l-.2 .3h-.8l-.2-.3h-.8l-.2 .2h-.6l-.4 .1h-.8l-.2-.3h-1.8l-.2 .3h-.8l-.2-.3h-.8l-.2 .3h-.8l-.2-.2h-.6l-.4-.1h-.6l-.4 .1h-.6l-.4-.1h-.6l-.4 .1h-.8l-.2 .2h-.8l-.2-.3h-.6l-.4 .1h-.6l-.4-.1h-1.8l-.2 .2h-1.8l-.2-.2h-.8l-.2 .2h-.8l-.2-.2h-.6l-.4 .1h-.6l-.4-.1h-.6l-.4 .1h-2.6l-.4-.1h-.6l-.4 .1h-1.6l-.4-.1h-1.8l-.2 .3h-.8l-.2-.2h-.6l-.4-.1h-4.8l-.2 .2h-1.6l-.4-.1h-.6l-.4 .1h-.8l-.2-.2h-1.6l-.4 .1h-.6l-.4 .1h-.8l-.2-.2h-1.6l-.4 .1h-.6l-.4-.1h-1.8l-.2 .3h-.8l-.2-.3h-.8l-.2 .3h-.8l-.2-.3h-1.6l-.4 .1h-1.6l-.4-.1h-.8l-.2 .3h-.8l-.2-.3h-.8l-.2 .3h-.8l-.2-.2h-1.6l-.4 .1h-.8l-.2-.2h-.8l-.2 .2h-.8l-.2-.2h-.8l-.2 .2h-.8l-.2-.2h-.8l-.2 .3h-.8l-.2-.3h-.8l-.2 .2h-.8l-.2-.2h-.6l-.4 .1h-.6l-.4-.1h-.8l-.2 .2h-.6l-.4 .1h-1.8l-.2-.3h-.6l-.4 .1h-1.6l-.4-.1h-4.8l-.2 .3h-.8l-.2-.3h-5.6l-.4 .1h-2.6l-.4-.1h-.8l-.2 .2h-.8l-.2-.2h-.8l-.2 .2h-.8l-.2-.2h-2.8l-.2 .3h-.8l-.2-.2h-.6l-.4-.1h-1.8l-.2 .3h-.8l-.2-.3h-.6l-.4 .1h-.8l-.2 .2h-.8l-.2-.3h-1.6l-.4 .1h-.6l-.4-.1h-4.8l-.2 .3h-.8l-.2-.3h-.6l-.4 .1h-.6l-.4-.1h-1.8l-.2 .3h-.8l-.2-.3h-6.8l-.2 .2h-.8l-.2-.2h-.8l-.2 .3h-.8l-.2-.3h-.6l-.4 .1h-.6l-.4-.1h-2.6l-.4 .1h-1.6l-.4 .1h-.8l-.2-.2h-.8l-.2 .3h-.8l-.2-.3h-.6l-.4 .1h-.8l-.2 .2h-.6l-.4-.1h-.6l-.4-.1h-.6l-.4-.1h-.6l-.4 .1h-.6l-.4-.1h-.8l-.2 .3h-.8l-.2-.3h-10.6l-.4 .1h-1.6l-.4 .1h-.8l-.2-.2h-.8l-.2 .2h-.8l-.2-.2h-.8l-.2 .3h-.8l-.2-.3h-.8l-.2 .3h-.8l-.2-.3h-.8l-.2 .2h-.8l-.2-.2h-2.8l-.2 .2h-.8l-.2-.2h-.6l-.4 .1h-.6l-.4-.1h-6.6l-.4 .1h-.6l-.4-.1h-2.8l-.2 .2h-.6l-.4-.1h-.6l-.4-.1h-.6l-.4 .1h-.6l-.4-.1h-2.8l-.2 .3h-.8l-.2-.3h-.6l-.4 .1h-1.6l-.4-.1h-.8l-.2 .3h-.8l-.2-.3h-2.6l-.4 .1h-.6l-.4-.1h-3.6l-.4 .1h-1.6l-.4-.1h-.8l-.2 .3h-.6l-.4-.1h-.8l-.2-.2h-3.8l-.2 .2h-.8l-.2-.2h-.6l-.4 .1h-1.8l-.2 .2h-.8l-.2-.3h-.8l-.2 .3h-.8l-.2-.3h-3.8l-.2 .2h-.8l-.2-.2h-.8l-.2 .2h-.8l-.2-.2h-1.6l-.4 .1h-.6l-.4-.1h-13.6l-.4 .1h-.6l-.4 .1h-1.6l-.4-.1h-1.6l-.4-.1h-.8l-.2 .2h-.8l-.2-.2h-.8l-.2 .3h-.8l-.2-.3h-1.8l-.2 .3h-.8l-.2-.3h-.6l-.4 .1h-.6l-.4-.1h-.6l-.4 .1h-.8l-.2 .2h-.8l-.2-.3h-2.6l-.4 .1h-.6l-.4-.1h-1.8l-.2 .3h-1.8l-.2-.3h-.6l-.4 .1h-.6l-.4-.1h-1.8l-.2 .3h-.8l-.2-.3h-2.8l-.2 .2h-.8l-.2-.2h-.6l-.4 .1h-.6l-.4-.1h-4.6l-.4 .1h-1.8l-.2 .2h-.8l-.2-.3h-.6l-.4 .1h-.6l-.4-.1h-1.8l-.2 .2h-.8l-.2-.2h-6.8l-.2 .2h-.8l-.2-.2h-.8l-.2 .2h-1.8l-.2-.2h-.8l-.2 .2h-.6l-.4 .1h-.8l-.2-.3h-1.6l-.4 .1h-.6l-.4-.1h-2.6l-.4 .1h-.6l-.4-.1h-.8l-.2 .2h-.6l-.4 .1h-.8l-.2-.3h-1.6l-.4 .1h-2.6l-.4-.1h-.6l-.4 .1h-.6l-.4-.1h-.8l-.2 .2h-.8l-.2-.2h-1.8l-.2 .2h-1.6l-.4-.1h-1.6l-.4-.1h-4.6l-.4 .1h-.6l-.4-.1h-1.8l-.2 .2h-.8l-.2-.2h-.8l-.2 .2h-.6l-.4-.1h-.8l-.2 .2h-.6l-.4-.1h-.8l-.2-.2h-.6l-.4 .1h-.6l-.4-.1h-1.6l-.4 .1h-.6l-.4 .1h-.8l-.2-.2h-.8l-.2 .3h-.8l-.2-.3h-1.8l-.2 .3h-.8l-.2-.2h-.6l-.4-.1h-.6l-.4 .1h-.6l-.4-.1h-3.8l-.2 .2h-.8z"/>
<path fill="#ff0000" d="M138 228.6h.8l.4 .1h.6l.2-.3h2.8l.2 .3h.8l.2-.3h.8l.2 .3h.8l.2-.2h.8l.2 .2h.8l.2-.3h.8l.2 .3h.8l.4-.1h.6l.4 .1h1.6l.4-.1h.6l.4 .1h.6l.4-.1h1.6l.4 .1h.6l.4-.1h.6l.4 .1h1.6l.4-.1h.6l.4-.1h.6l.4-.1h1.6l.2 .3h.8l.4-.1h1.6l.4 .1h.6l.2-.2h.8l.2 .2h1.8l.4-.1h1.6l.4 .1h.6l.2-.3h.8l.2 .3h.8l.4-.1h.6l.4 .1h.6l.2-.3h1.8l.4 .1h.6l.4-.1h.6l.4 .1h.6l.4 .1h.6l.4-.1h.6l.4-.1h.6l.2 .3h.8l.2-.2h.8l.2 .2h2.8l.4-.1h1.6l.2-.2h.8l.4 .1h.6l.2 .2h2.8l.4-.1h.6l.4 .1h.6l.2-.4h.8l.2 .4h.8l.2-.4h.8l.2 .2h1.8l.4 .1h.6l.2-.2h.8l.2 .3h.8l.2-.3h1.8l.2 .2h1.8l.4 .1h.6l.4-.1h1.6l.4 .1h1.6l.2-.3h.8l.4 .1h.6l.2 .2h.8l.4-.1h1.6l.2-.3h.8l.2 .3h.8l.4-.1h1.6l.2 .2h.8l.4-.1h.6l.2-.2h.8l.4 .1h.6l.4-.1h.6l.2 .3h.8l.2-.2h.8l.2 .2h.8l.2-.3h.8l.4 .1h.6l.2 .2h.8l.4-.1h.6l.4 .1h.6l.2-.3h.8l.2 .2h.8l.4 .1h.6l.4-.1h.6l.4 .1h1.6l.4-.1h.6l.4 .1h8.6l.2-.2h.8l.4-.1h.6l.4 .1h.6l.2 .2h.8l.2-.2h3.8l.2 .2h.8l.4-.1h.6l.4 .1h1.6l.4-.1h.6l.4 .1h.6l.2-.4h.8l.2 .3h.8l.4-.1h.6l.2 .2h.8l.4-.1h.6l.4-.1h.6l.2 .2h1.8l.4-.1h1.6l.4 .1h1.6l.4-.1h.6l.2-.2h.8l.2 .3h.8l.2-.3h.8l.2 .3h.8l.4-.1h.6l.4 .1h.6l.4-.1h.6l.4 .1h2.6l.2-.4h.8l.2 .4h.8l.2-.3h.8l.2 .2h.8l.2-.2h.8l.2 .3h.8l.2-.4h.8l.2 .4h4.8l.4-.1h.6l.4 .1h.6l.2-.3h.8l.2 .3h.8l.2-.3h.8l.2 .3h4.8l.2-.2h.8l.2 .2h2.8l.2-.2h.8l.2 .2h.8l.4-.1h.6l.2-.2h.8l.2 .3h2.8l.2-.3h.8l.2 .3h.8l.2-.3h.8l.2 .3h1.8l.2-.2h.8l.4 .1h.6l.4 .1h.6l.4-.1h.6l.4 .1h.6l.2-.3h.8l.2 .2h.8l.2-.2h.8l.2 .2h1.8l.2-.2h.8l.2 .2h.8l.4 .1h.6l.4-.1h.6l.4 .1h.6l.4-.1h.6l.2-.3h.8l.2 .3h.8l.4-.1h.6l.2 .2h6.8l.4-.1h.6l.4-.1h2.6l.4-.1h.6l.4 .1h.6l.2 .2h3.8l.2-.3h.8l.2 .3h.8l.2-.3h.8l.2 .3h1.8l.2-.2h1.8l.2-.2h.8l.2 .3h.8l.2-.2h.8l.2 .2h.8l.4 .1h1.6l.4-.1h.6l.2-.2h.8l.4 .1h.6l.4-.1h.6l.2 .2h.8l.4 .1h.6l.4-.1h.6l.2-.2h.8l.2 .3h2.8l.4-.1h.6l.4-.1h.6l.4-.1h.6l.2 .2h.8l.4-.1h2.6l.4 .1h.6l.2-.2h1.8l.2 .3h1.8l.2-.4h.8l.2 .3h.8l.4 .1h.6l.2-.3h.8l.2 .3h.8l.4-.1h.6l.4 .1h5.6l.4-.1h.6l.4 .1h.6l.2-.2h.8l.4-.1h1.6l.4 .1h1.6l.2 .2h.8l.2-.4h.8l.2 .3h2.8l.4 .1h2.6l.2-.3h.8l.2 .2h.8l.4 .1h.6l.2-.4h.8l.2 .3h.8l.4-.1h1.6l.4 .1h.6l.4 .1h2.6l.4-.1h.6l.4 .1h1.6l.2-.3h1.8l.4 .1h.6l.2 .2h.8l.2-.3h.8l.2 .3h.8l.2-.3h.8l.4 .1h.6l.2-.2h1.8l.2 .3h.8l.4 .1h.6l.2-.3h.8l.2 .3h1.8l.4-.1h.6l.4 .1h3.6l.2-.3h1.8l.4-.1h.6l.2 .2h1.8l.2 .2h.8l.2-.3h.8l.2 .3h4.8l.4-.1h.6l.4 .1h.6l.4-.1h3.6l.4-.1h.6l.2 .2h.8l.4-.1h.6l.4 .1h.6l.4-.1h.6l.4 .1h.6l.2-.4h.8l.4 .1h.6l.2 .3h2.8l.4-.1h.6l.4 .1h1.6l.4-.1h.6l.4 .1h2.6l.4-.1h.6l.4 .1h.6l.2-.3h.8l.2 .3h1.8l.4-.1h.6l.2-.2h.8l.2 .3h1.8l.2-.4h.8l.4 .1h.6l.2 .3h1.8l.2-.2h.8l.2 .2h1.8l.4-.1h2.6l.4-.1h.6l.4-.1h.6l.2 .3h1.8l.2-.3h.8l.2 .3h.8l.2-.3h.8l.2 .2h.8l.4-.1h.6l.4 .1h.6l.4 .1h.6l.2-.2h.8l.4 .1h.6l.4 .1h4.6l.2-.2h.8l.4-.1h.6l.4-.1h.6l.2 .3h1.8l.4 .1h1.6l.2-.2h.8l.4 .1h1.6l.4-.1h1.6l.4 .1h.6l.4 .1h.6l.4-.1h.6l.4-.1h1.6l.4-.1h.6l.2 .2h1.8l.4 .1h.6l.4-.1h1.6l.2-.2h1.8l.2 .3h2.8l.2-.2h.8l.2 .2h.8l.2-.2h.8l.4 .1h.6l.2-.2h.8l.2 .3h2.8l.4-.1h.6l.4-.1h.6l.4 .1h1.6l.2-.2h.8l.4 .1h.6l.2 .2h.8l.2-.3h.8l.4 .1h.6l.2 .2h1.8l.4-.1h2.6l.4 .1h.6l.2-.2h.8l.4-.1h.6l.2 .3h1.8l.2-.4h1.8l.2 .4h.8l.4-.1h.6l.4 .1h1.6l.4-.1h1.6l.4 .1h1.6l.2-.3h.8l.2 .2h.8l.4 .1h2.6l.2-.3h.8l.4 .1h.6l.2 .2h.8l.4-.1h.6l.4 .1h.6l.2-.3h1.8l.2 .3h3.8l.4-.1h.6l.4 .1h2.6l.4-.1h1.6l.4 .1h.6l.4-.1h2.3l.3-.1l.4-.9h.8l.2 .1l.3 .5l.5 .5h.8l.2-.3h.8l.2 .3h1.8l.4-.1h.6l.4 .1h.6l.4-.1h.6l.4 .1h.6l.4-.1h2.6l.4 .1h.6l.4-.1h.6l.4 .1h.6l.2-.2h.8l.2 .2h2.8l.4-.1h.6l.4 .1h.6l.4-.1h.6l.4 .1h1.6l.2-.3h1.8l.2 .3h.8l.2-.3h.8l.2 .2h.8l.4-.1h.6l.4-.1h.6l.2 .3h1.8l.2-.3h.8l.2 .2h.8l.2-.2h.8l.4 .1h.6l.2-.2h.8l.2 .3h.8l.4 .1h.6l.2-.3h.8l.2 .3h4.8l.4-.1h.6l.2-.2h.8l.2 .3h1.8l.4-.1h.6l.4 .1h.6l.4-.1h.6l.2-.2h.8l.2 .3h.8l.4-.1h.6l.4 .1h.6l.2-.2h.8l.2 .2h.8l.2-.2h.8l.2 .2h.8l.2-.3h.8l.2 .3h.8l.4-.1h.6l.4 .1h2.6l.2-.3h.8l.2 .2h.8l.4-.1h.6l.4-.1h.6l.2 .3h1.8l.2-.2h1.8l.4 .1h.6l.4 .1h.6l.4-.1h.6l.4 .1h4.6l.2-.2h2.8l.4 .1h.6l.2-.2h.8l.2 .3h.8l.4-.1h.6l.4 .1h.6l.2-.3h.8l.2 .3h1.8l.2-.2h3.8l.2 .2h.8l.4-.1h1.6l.2-.2h.8l.2 .3h2.8l.4-.1h.6l.2-.3h.8l.2 .3h.8l.4-.1h.6l.2 .2h1.8l.2-.3h.8l.2 .3h1.8l.2-.2h.8l.2 .2h1.8l.4-.1h.6l.4-.1h.6l.2 .2h.8l.4-.1h.6l.4 .1h.6l.4-.1h2.6l.4 .1h.6l.4-.1h.6l.2-.3h.8l.2 .4h4.8l.2-.3h.8l.2 .3h.8l.2-.3h.8l.2 .3h.8l.4-.1h2.6l.4-.1h.6l.2 .2h.8l.2-.2h.8l.2 .2h1.8l.2-.2h.8l.4 .1h.6l.2-.2h1.8l.2 .3h2.8l.4-.3l1.3-.5h.7l.6-.1l.2 .1l.5-.1h1.3l.4-.1h.6l.4 .1h.6l.4-.1h1.6h.1v-4.5h.1h.1v-2.5h.1l.6-.1h1l.2 .2h.1v1.1h.1l.3 .9l.5 1.3l1.2 1.9l.8 .9l.5 .5l.5 .1l.8 .1l.4-.1l.6 .1l.2-.1l.5 .1l1 .1h.5l.5 .1h1.3l.4 .2l1 .7h.6l.4-.1h.6l.4 .1h2.6l.4-.1h1.6l.4 .1h2.6l.4-.1h.6l.4 .1h1.6l.4-.1h.6l.4 .1h.6l.2-.4h.8l.2 .3h.8l.4 .1h.6l.4-.1h.6l.4 .1h2.6l.4-.1h.6l.4 .1h.6l.2-.3h.8l.2 .3h.8l.2-.4h.8l.4 .1h.6l.2 .2h.8l.4 .1h1.6l.2-.2h.8l.2 .2h4.8l.2-.3h.8l.2 .3h5.8l.2-.2h.8l.2 .2h.8l.2-.2h.8l.2-.2h.8l.4 .1h.6l.2 .3h.8l.2-.2h.8l.4 .1h.6l.2-.2h.8l.2 .3h.8l.4-.1h1.6l.4 .1h.6l.4-.1h.6l.4-.1h1.6l.4-.1h.6l.2 .3h.8l.2-.2h.8l.2 .2h.8l.2-.2h.8l.2 .2h2.8l.4-.1h1.6l.4-.1h.6l.2 .2h1.8l.2-.2h.8l.2 .2h.8l.2-.2h.8l.2 .2h.8l.4-.1h.6l.4 .1h.6l.2-.3h.8l.2 .3h3.8l.4-.1h1.6l.4-.1h.6l.2-.2h.8l.2 .2h1.8l.2 .2h3.8l.2-.2h.8l.2 .2h8.8l.2-.3h.8l.4 .1h1.6l.2 .2h.8l.2-.3h.8l.4 .1h.6l.2 .2h1.8l.2-.2h.8l.2 .2h.8l.4-.1h.6l.2-.2h2.8l.2 .3h3.8l.4-.1h.6l.4-.1h.6l.2-.2h.8l.2 .4h2.8l.2-.2h.8l.4 .1h.6l.4 .1h.6l.4-.1h1.6l.4-.1h.6l.2 .2h.8l.4-.1h.6l.4 .1h4.6l.4-.1h.6l.4-.1h.6l.4-.1h.6l.2 .3h.8l.2-.4h.8l.2 .4h.8l.2-.2h.8l.2 .2h.8l.2-.2h.8l.4 .1h.6l.4 .1h.6l.2-.3h.8l.2 .3h.8l.4-.1h.6l.4 .1h.6l.4-.1h.6l.4 .1h.6l.4-.1h.6l.4-.1h.6l.4 .1h.6l.4-.1h.6l.2 .2h.8l.4-.1h.6l.4 .1h.6l.2-.3h.8l.2 .3h.8l.2-.3h.8l.2 .3h.8l.2-.3h.8l.2 .3h.8l.4-.1h.6l.4 .1h.6l.2-.2h.8l.2 .2h1.8l.2-.3h.8l.2 .2h.8l.4-.1h1.6l.2 .2h1.8l.2-.2h1.8l.2 .2h.8l.2-.3h.8l.2 .3h.8l.2-.2h.8l.4 .1h.6l.4 .1h3.6l.4-.1h.6l.4 .1h1.6l.4-.1h.6l.4 .1h3.6l.2-.3h.8l.2 .3h.8l.4-.1h.6l.4 .1h.6l.4-.1h.6l.2-.3h.8l.2 .2h1.8l.2 .2h.5v3.5h-1.3l-.4 .1h-.6l-.4-.1h-3.6l-.4 .1h-.8l-.2 .2h-.8l-.2-.2h-.6l-.4-.1h-.8l-.2 .2h-.8l-.2-.2h-1.8l-.2 .3h-.8l-.2-.3h-1.8l-.2 .4h-.6l-.4-.1h-.8l-.2-.2h-1.6l-.4 .1h-.8l-.2-.2h-1.8l-.2 .3h-.8l-.2-.2h-1.6l-.4-.1h-1.8l-.2 .4h-.8l-.2-.4h-9.8l-.2 .2h-1.8l-.2-.2h-.8l-.2 .3h-.8l-.2-.2h-1.6l-.4-.1h-2.8l-.2 .3h-.8l-.2-.3h-2.6l-.4 .1h-.6l-.4-.1h-1.8l-.2 .3h-.8l-.2-.3h-.8l-.2 .2h-.8l-.2 .2h-.8l-.2-.2h-.8l-.2-.2h-2.6l-.4 .1h-.6l-.4 .1h-.8l-.2-.2h-.8l-.2 .2h-.8l-.2-.2h-2.8l-.2 .2h-.8l-.2-.2h-.8l-.2 .4h-.8l-.2-.3h-1.8l-.2 .2h-2.8l-.2-.3h-.8l-.2 .4h-.8l-.2-.3h-1.6l-.4-.1h-1.8l-.2 .2h-.8l-.2 .2h-.8l-.2-.2h-1.8l-.2-.2h-12.8l-.2 .3h-.8l-.2-.3h-1.6l-.4 .1h-.6l-.4-.1h-.8l-.2 .2h-.6l-.4-.1h-.6l-.4-.1h-.6l-.4 .1h-.8l-.2 .2h-.8l-.2-.2h-.8l-.2 .2h-.6l-.4-.1h-.8l-.2-.2h-1.8l-.2 .4h-.8l-.2-.4h-.6l-.4 .1h-.8l-.2 .3h-.8l-.2-.2h-.8l-.2-.2h-1.8l-.2 .2h-.8l-.2-.2h-1.6l-.4 .1h-.6l-.4 .1h-.6l-.4-.1h-.6l-.4-.1h-.6l-.4 .1h-.6l-.4-.1h-.6l-.4 .1h-.6l-.4-.1h-.8l-.2 .2h-.8l-.2-.2h-.8l-.2 .2h-.8l-.2-.2h-2.8l-.2 .3h-.8l-.2-.2h-.6l-.4-.1h-.6l-.4 .1h-1.6l-.4 .1h-.8l-.2-.2h-1.6l-.4 .1h-.6l-.4-.1h-.8l-.2 .2h-.8l-.2-.2h-.6l-.4 .1h-.6l-.4-.1h-1.8l-.2 .3h-.6l-.4-.1h-1.8l-.2-.2h-1.8l-.2 .2h-.8l-.2-.2h-1.8l-.2 .3h-.8l-.2-.3h-3.8l-.2 .2h-1.8l-.2-.2h-1.8l-.2 .3h-.8l-.2-.2h-.8l-.2 .2h-.8l-.2-.3h-.6l-.4 .1h-.6l-.4 .1h-.8l-.2-.2h-3.6l-.4 .1h-.8l-.2 .2h-.8l-.2-.3h-1.8l-.2 .3h-.6l-.4-.1h-.8l-.2-.2h-.6l-.4 .1h-1.6l-.4-.1h-.8l-.2 .3h-.8l-.2-.3h-.8l-.2 .3h-.6l-.4-.1h-.8l-.2-.2h-2.8l-.2 .2h-.8l-.2-.2h-2.6l-.4 .1h-.6l-.4-.1h-.6l-.4 .1h-.6l-.4 .1h-.6l-.4-.1h-.8l-.2 .2h-.6l-.4 .1l-.8 .6l-.5-.1l-1 .1l-.5 .1h-.8l-.4 .1h-.6l-1 .1l-.4-.1h-.8l-.2 .2h-.3l-1-.1l-1 .1l-.3 .2l-.4 2.1l-.8 2.7l-.2-.2h-.6l-.4 .1l-.6-1.3l-.4-4h-.3l-.5-.1l-.2 .1h-.6l-.4-.1h-1.6l-.4-.1h-.6l-.4 .1h-.6l-.4-.1h-.6l-1-.2l-.4-.1l-.8-.3h-1l-.2-.2h-.6l-.4 .1h-.6l-.4-.1h-.6l-.4 .1h-.8l-.2 .2h-.8l-.2-.3h-3.6l-.4 .1h-.8l-.2 .2h-.6l-.4-.1h-.8l-.2-.2h-.8l-.2 .4h-.8l-.2-.4h-.8l-.2 .3h-.8l-.2-.2h-.8l-.2 .3h-.8l-.2-.4h-1.8l-.2 .3h-.6l-.4-.1h-.6l-.4-.1h-1.8l-.2 .2h-.8l-.2-.3h-.6l-.4 .1h-1.6l-.4 .1h-.8l-.2-.2h-1.6l-.4 .1h-.6l-.4-.1h-.8l-.2 .3h-.6l-.4-.1h-1.8l-.2 .2h-.8l-.2-.4h-3.6l-.4 .1h-.6l-.4-.1h-3.8l-.2 .2h-.8l-.2-.2h-6.6l-.4 .1h-2.6l-.4-.1h-1.8l-.2 .2h-.8l-.2-.2h-.6l-.4 .1h-.8l-.2 .3h-.8l-.2-.4h-.8l-.2 .2h-.8l-.2-.2h-2.8l-.2 .3h-.6l-.4-.1h-.6l-.4-.1h-.6l-.4-.1h-.8l-.2 .2h-1.8l-.2-.2h-.8l-.2 .2h-.8l-.2-.2h-2.6l-.4 .1h-.6l-.4-.1h-.6l-.4 .1h-.6l-.4-.1h-1.6l-.4 .1h-.6l-.4-.1h-.8l-.2 .2h-.8l-.2-.2h-.6l-.4 .1h-.6l-.4-.1h-.8l-.2 .2h-.8l-.2-.2h-.6l-.4 .1h-2.6l-.4 .1h-1.8l-.2-.2h-.6l-.4 .1h-.6l-.4-.1h-.8l-.2 .2h-.6l-.4-.1h-2.6l-.4-.1h-.6l-.4 .1h-.6l-.4-.1h-1.6l-.4 .1h-1.6l-.4 .1h-2.8l-.2-.2h-.8l-.2 .3h-.8l-.2-.3h-.8l-.2 .2h-.8l-.2-.2h-1.8l-.2 .2h-.8l-.2-.2h-1.8l-.2 .3h-.8l-.2-.2h-.6l-.4-.1h-2.6l-.4 .1h-.6l-.4-.1h-.8l-.2 .2h-1.8l-.2-.2h-4.8l-.2 .2h-.8l-.2-.2h-.8l-.2 .2h-1.6l-.4-.1h-.8l-.2 .2h-.6l-.4 .1h-1.8l-.2-.4h-.6l-.4 .1h-.6l-.4-.1h-1.8l-.2 .2h-.8l-.2-.2h-1l-.6 1h-1l-.2-.3l-.2-.5l-.3-.2h-.5l-.2 .2h-.6l-.4-.1h-.6l-.4-.1h-.8l-.2 .2h-.8l-.2-.2h-.8l-.2 .2h-.8l-.2-.2h-.8l-.2 .3h-.8l-.2-.3h-1.6l-.4 .1h-.6l-.4 .1h-.8l-.2-.2h-1.8l-.2 .2h-.8l-.2-.2h-2.8l-.2 .2h-.6l-.4-.1h-1.6l-.4-.1h-1.8l-.2 .3h-.8l-.2-.3h-4.8l-.2 .2h-.8l-.2-.2h-2.8l-.2 .4h-.8l-.2-.4h-1.8l-.2 .3h-.6l-.4-.1h-.6l-.4-.1h-.8l-.2 .2h-.8l-.2-.2h-.6l-.4 .1h-1.8l-.2-.2h-1.6l-.4 .1h-1.6l-.4 .1h-1.8l-.2-.2h-1.8l-.2 .2h-.8l-.2-.2h-1.6l-.4 .1h-.6l-.4-.1h-4.8l-.2 .4h-.8l-.2-.4h-.6l-.4 .1h-.6l-.4 .1h-.6l-.4 .1h-.8l-.2-.2h-.6l-.4-.1h-.8l-.2 .2h-.8l-.2-.2h-1.8l-.2 .3h-.8l-.2-.2h-2.6l-.4-.1h-.8l-.2 .3h-.8l-.2-.2h-.6l-.4 .1h-.8l-.2-.2h-.6l-.4 .1h-.6l-.4-.1h-1.8l-.2 .3h-1.8l-.2-.3h-.8l-.2 .2h-.8l-.2-.2h-.6l-.4 .1h-1.6l-.4-.1h-.6l-.4 .1h-.6l-.4 .1h-.8l-.2-.2h-1.6l-.4 .1h-1.6l-.4 .1h-.6l-.4 .1h-.8l-.2-.2h-.8l-.2 .2h-.8l-.2-.2h-.6l-.4-.1h-.6l-.4 .1h-.6l-.4-.1h-4.8l-.2 .3h-.6l-.4-.1h-1.6l-.4-.1h-.6l-.4-.1h-1.8l-.2 .2h-1.6l-.4-.1h-.6l-.4-.1h-4.8l-.2 .2h-.8l-.2 .2h-.8l-.2-.3h-.6l-.4 .1h-.8l-.2-.2h-.8l-.2 .3h-.8l-.2-.3h-2.8l-.2 .3h-.8l-.2-.2h-.8l-.2 .3h-.8l-.2-.4h-.8l-.2 .2h-.8l-.2-.2h-1.8l-.2 .2h-.8l-.2-.2h-.6l-.4 .1h-.6l-.4-.1h-2.6l-.4 .1h-.8l-.2 .2h-.8l-.2-.3h-.6l-.4 .1h-2.6l-.4-.1h-1.6l-.4 .1h-.8l-.2 .3h-.8l-.2-.2h-.6l-.4-.1h-.6l-.4-.1h-.8l-.2 .3h-1.8l-.2-.3h-.6l-.4 .1h-.6l-.4-.1h-1.8l-.2 .2h-.8l-.2-.2h-3.6l-.4 .1h-2.6l-.4 .1h-.8l-.2-.2h-.6l-.4 .1h-.6l-.4-.1h-.6l-.4 .1h-.6l-.4 .1h-1.8l-.2-.2h-.8l-.2 .3h-.8l-.2-.2h-1.6l-.4 .1h-.8l-.2-.2h-.8l-.2 .3h-.6l-.4-.1h-1.8l-.2-.2h-.6l-.4 .1h-1.6l-.4-.1h-5.6l-.4 .1h-.6l-.4-.1h-1.8l-.2 .3h-.6l-.4-.1h-.6l-.4 .1h-.8l-.2-.3h-1.6l-.4 .1h-.6l-.4 .1h-.8l-.2-.2h-1.8l-.2 .3h-2.8l-.2-.3h-7.6l-.4 .1h-.6l-.4 .1h-.8l-.2-.2h-1.6l-.4 .1h-.6l-.4-.1h-1.8l-.2 .2h-.8l-.2-.2h-.8l-.2 .3h-.8l-.2-.3h-.8l-.2 .3h-.8l-.2-.3h-.8l-.2 .2h-.8l-.2-.2h-1.6l-.4 .1h-.8l-.2 .3h-.8l-.2-.3h-.6l-.4 .1h-.8l-.2-.2h-.6l-.4 .1h-.6l-.4-.1h-.8l-.2 .3h-.8l-.2-.3h-3.6l-.4 .1h-.6l-.4-.1h-4.8l-.2 .3h-.8l-.2-.2h-.6l-.4-.1h-1.8l-.2 .3h-.8l-.2-.3h-.6l-.4 .1h-.8l-.2 .2h-.8l-.2-.3h-.8l-.2 .3h-.8l-.2-.2h-.6l-.4-.1h-1.6l-.4 .1h-.6l-.4-.1h-.8l-.2 .3h-.8l-.2-.3h-.8l-.2 .4h-.6l-.4-.1h-.8l-.2-.2h-.6l-.4-.1h-.8l-.2 .4h-.8l-.2-.4h-1.6l-.4 .1h-.6l-.4-.1h-2.6l-.4 .1h-.6l-.4 .1h-.8l-.2-.2h-.8l-.2 .3h-.8l-.2-.3h-.8l-.2 .3h-.8l-.2-.2h-.8l-.2 .2h-.8l-.2-.3h-1.8l-.2 .2h-.8l-.2-.2h-.6l-.4 .1h-.6l-.4-.1h-.6l-.4 .1h-1.6l-.4-.1h-1.6l-.4 .1h-.8l-.2 .2h-.6l-.4 .1h-.8l-.2-.3h-.6l-.4-.1h-1.6l-.4 .1h-.6l-.4-.1h-.6l-.4 .1h-.6l-.4-.1h-2.8l-.2 .4h-.8l-.2-.4h-.6l-.4 .1h-.6l-.4-.1h-.6l-.4 .1h-.6l-.4-.1h-2.6l-.4 .1h-.6l-.4-.1h-.6l-.4 .1h-.6l-.4-.1h-.8l-.2 .3h-.8l-.2-.3h-.8l-.2 .3h-.6l-.4-.1h-.8l-.2-.2h-1.6l-.4 .1h-1.6l-.4 .1h-.8l-.2-.2h-1.8l-.2 .3h-.6l-.4-.1h-.6l-.4 .1h-.8l-.2-.3h-1.6l-.4 .1h-1.6l-.4-.1h-1.8l-.2 .3h-3.8l-.2-.2h-.6l-.4-.1h-1.8l-.2 .2h-.8l-.2-.2h-2.6l-.4 .1h-.6l-.4 .1h-1.6l-.4-.1h-2.6l-.4 .1h-.6l-.4-.1h-.8l-.2 .2h-.8l-.2-.3h-.6l-.4 .1h-2.8l-.2 .2h-1.8l-.2-.3h-2.8l-.2 .4h-.8l-.2-.4h-1.6l-.4 .1h-.6l-.4-.1h-.8l-.2 .3h-.6l-.4 .1h-.8l-.2-.4h-1.6l-.4 .1h-.8l-.2 .2h-.8l-.2-.3h-1.6l-.4 .1h-.6l-.4-.1h-.8l-.2 .3h-.8l-.2-.3h-3.6l-.4 .1h-.6l-.4-.1h-5.6l-.4 .1h-1.6l-.4 .1h-.8l-.2-.2h-2.6l-.4 .1h-.6l-.4-.1h-2.6l-.4 .1h-.6l-.4-.1h-3.6l-.4 .1h-.8l-.2 .2h-1.6l-.4 .1h-.8l-.2-.4h-1.6l-.4 .1h-.6l-.4-.1h-1.8l-.2 .2h-.8l-.2-.2h-4.8l-.2 .4h-.8l-.2-.3h-.6l-.4-.1h-1.8l-.2 .2h-.6l-.4-.1h-.6l-.4 .1h-.8l-.2-.2h-.8l-.2 .4h-.8l-.2-.4h-4.8l-.2 .2h-.6l-.4 .1h-.8l-.2-.3h-1.8l-.2 .2h-.8l-.2-.2h-.6l-.4 .1h-.6l-.4-.1h-.8l-.2 .2h-.6l-.4-.1h-1.6l-.4-.1h-.8l-.2 .3h-.8l-.2-.2h-.6l-.4 .1h-.6l-.4-.1h-.6l-.4 .1h-.8l-.2-.2h-1.8l-.2 .4h-.8l-.2-.2h-.8l-.2-.2h-.6l-.4 .1h-.6l-.4 .1h-.8l-.2-.2h-4.6l-.4 .1h-.8l-.2 .2h-.6l-.4-.1h-.8l-.2 .2h-.8l-.2-.4h-.6l-.4 .1h-.6l-.4-.1h-2.6l-.4 .1h-.6l-.4-.1h-2.8l-.2 .2h-.8l-.2-.2h-1.8l-.2 .3h-.8z"/>
<path fill="#0000ff" d="M138 260h1.8l.4-.1h1.6l.4-.1h.6l.4 .1h2.6l.4 .1h1.6l.4-.1h.6l.4 .1h5.6l.4-.1h.6l.4 .1h1.6l.2-.2h.8l.2 .2h2.8l.4-.1h.6l.4 .1h.6l.2-.2h.8l.2 .2h1.8l.4-.1h.6l.4-.1h1.6l.2 .2h.8l.4-.1h.6l.4 .1h.6l.4-.1h1.6l.4 .1h.6l.4-.1h.6l.4 .1h.6l.4-.1h.6l.4 .1h1.6l.2-.2h.8l.4 .1h.6l.4-.1h1.6l.4 .1h2.6l.4 .1h.6l.4-.1h1.6l.4-.1h.6l.2 .2h2.8l.4-.1h.6l.4 .1h2.6l.4-.1h.6l.4-.1h.6l.4 .1h.6l.4 .1h.6l.4-.1h.6l.4 .1h2.6l.4-.1h.6l.4 .1h.6l.2-.2h.8l.2 .2h.8l.4-.1h.6l.4 .1h4.6l.4-.1h.6l.4-.1h.6l.2 .2h1.8l.2-.2h.8l.4 .1h.6l.4-.1h.6l.2 .2h.8l.4-.1h2.6l.4 .1h5.6l.2-.2h.8l.2 .2h.8l.4-.1h1.6l.4 .1h2.6l.4-.1h.6l.4-.1h.6l.2 .2h.8l.4-.1h.6l.4 .1h10.6l.4-.1h.6l.4 .1h.6l.2-.3h.8l.2 .3h.8l.4-.1h.6l.4 .1h1.6l.4-.1h1.6l.4 .1h1.6l.2-.2h.8l.4 .1h.6l.4 .1h1.6l.4-.1h.6l.4 .1h1.6l.4-.1h1.6l.4 .1h2.6l.4-.1h.6l.4 .1h1.6l.2-.2h.8l.2 .2h.8l.4-.1h.6l.4 .1h.6l.4-.1h.6l.4 .1h.6l.2-.2h.8l.2 .2h.8l.4-.1h1.6l.4 .1h2.6l.4-.1h.6l.4 .1h.6l.2-.2h.8l.2 .2h2.8l.4-.1h.6l.4 .1h1.6l.2-.3h.8l.2 .2h1.8l.4 .1h1.6l.4-.1h.6l.4 .1h2.6l.2-.2h.8l.2 .2h.8l.4-.1h.6l.4 .1h.6l.4-.1h.6l.4 .1h3.6l.4-.1h1.6l.4-.1h.6l.2 .2h1.8l.2-.2h.8l.2 .2h1.8l.4-.1h.6l.4 .1h.6l.4-.1h.6l.4 .1h.6l.2-.2h.8l.2 .2h.8l.4-.1h.6l.4 .1h.6l.2-.2h.8l.2 .2h.8l.2-.2h.8l.4 .1h.6l.4 .1h2.6l.4-.1h.6l.4 .1h.6l.2-.2h1.8l.2 .2h1.8l.4-.1h1.6l.4 .1h.6l.4-.1h2.6l.4-.1h1.6l.2 .2h.8l.2-.2h1.8l.4 .1h.6l.4 .1h.6l.2-.2h.8l.4 .1h.6l.4 .1h1.6l.2-.2h.8l.2 .2h.8l.4-.1h.6l.4 .1h.6l.4-.1h1.6l.4 .1h4.6l.2-.2h.8l.4 .1h1.6l.4 .1h1.6l.4-.1h.6l.4-.1h2.6l.2 .2h.8l.4-.1h.6l.4 .1h.6l.4-.1h1.6l.4 .1h3.6l.2-.2h.8l.2 .2h1.8l.4-.1h.6l.4-.1h.6l.4 .1h.6l.4 .1h.6l.2-.2h.8l.4 .1h1.6l.4 .1h.6l.4-.1h2.6l.4 .1h.6l.4-.1h.6l.4-.1h.6l.2 .2h2.8l.2-.2h.8l.4 .1h.6l.4 .1h.6l.2-.2h1.8l.2 .2h2.8l.4-.1h.6l.4-.1h1.6l.2 .2h.8l.2-.2h.8l.2 .2h5.8l.4-.1h1.6l.4 .1h2.6l.4-.1h.6l.4 .1h1.6l.4-.1h2.6l.4 .1h1.6l.2-.2h1.8l.2 .2h5.8l.2-.2h.8l.2 .2h2.8l.4-.1h.6l.4-.1h.6l.2 .2h.8l.4-.1h.6l.4 .1h1.6l.4-.1h.6l.4 .1h3.6l.4-.1h3.6l.4 .1h.6l.4-.1h3.6l.4 .1h.6l.2-.2h.8l.2 .2h2.8l.2-.2h.8l.4 .1h.6l.4 .1h1.6l.4-.1h.6l.4-.1h.6l.2 .2h3.8l.4-.1h.6l.4 .1h1.6l.4-.1h3.6l.4 .1h.6l.4-.1h1.6l.4 .1h.6l.2-.2h.8l.4 .1h.6l.4-.1h1.6l.2 .2h1.8l.2-.2h.8l.2 .2h.8l.2-.2h1.8l.4 .1h1.6l.4 .1h.6l.2-.2h.8l.4 .1h.6l.4 .1h.6l.4-.1h.6l.4 .1h2.6l.2-.2h.8l.4 .1h.6l.4 .1h.6l.4-.1h1.6l.4 .1h1.6l.4-.1h.6l.4 .1h2.6l.4-.1h.6l.4 .1h1.6l.4-.1h.6l.4-.1h.6l.4 .1h.6l.4 .1h2.6l.2-.2h.8l.2 .2h.8l.4-.1h.6l.4 .1h.6l.2-.2h.8l.2 .2h2.8l.4-.1h.6l.4 .1h.6l.4-.1h.6l.4-.1h.6l.4 .1h.6l.4 .1h1.6l.4-.1h.6l.4 .1h1.6l.2-.2h.8l.4 .1h.6l.4 .1h5.6l.2-.2h.8l.2 .2h1.8l.4-.1h.6l.4-.1h1.6l.4 .1h2.6l.4 .1h.6l.4-.1h.6l.4-.1h.6l.2 .2h4.8l.4-.1h.6l.4 .1h1.6l.4-.1h.6l.4 .1h1.6l.4-.1h1.6l.4 .1h.6l.4-.1h.6l.4 .1h.6l.4-.1h.6l.4 .1h.6l.4-.1h1.6l.4 .1h1.6l.2-.2h.8l.4 .1h.6l.4 .1h1.6l.2-.2h.8l.4 .1h.6l.4 .1h.6l.4-.1h.6l.4 .1h.6l.2-.2h.8l.2 .2h.8l.2-.2h.8l.2 .2h.8l.2-.2h.8l.2 .2h2.8l.4-.1h.6l.4 .1h.6l.4-.1h2.6l.4 .1h5.6l.4-.1h.6l.4 .1h3.6l.4-.1h.6l.4 .1h3.6l.4-.1h3.6l.4 .1h3.6l.4-.1h2.6l.4 .1h1.6l.4-.1h.6l.4-.1h1.6l.2 .2h2.8l.4-.1h1.6l.4 .1h.6l.2-.2h.8l.2 .2h.8l.2-.2h.8l.4 .1h.6l.4 .1h.6l.2-.2h.8l.2 .2h3.8l.4-.1h.6l.4 .1h.6l.2-.2h.8l.2 .2h.8l.2-.2h.8l.4 .1h1.6l.4 .1h3.6l.2-.2h.8l.4 .1h1.6l.4 .1h1.6l.4-.1h.6l.4-.1h.6l.4 .1h.6l.4 .1h.6l.4-.1h.6l.4-.1h.6l.4 .1h3.6l.4 .1h.6l.4-.1h.6l.4 .1h1.6l.2-.2h1.8l.2 .2h.8l.4-.1h1.6l.4 .1h4.6l.4-.1h.6l.4-.1h.6l.2 .2h5.8l.4-.1h.6l.4 .1h.6l.4-.1h.6l.4-.1h.6l.2 .2h2.8l.4-.1h.6l.4 .1h.6l.2-.2h.8l.4 .1h.6l.4 .1h4.6l.4-.1h1.6l.4 .1h3.6l.4-.1h.6l.4 .1h.6l.4-.1h.6l.4 .1h.6l.4-.1h1.6l.4 .1h3.6l.4-.1h.6l.4 .1h2.6l.2-.2h1.8l.4 .1h.6l.4 .1h4.6l.4-.1h1.6l.4-.1h.6l.2 .2h1.8l.4-.1h.6l.4 .1h1.6l.2-.2h.8l.2 .2h.8l.2-.2h.8l.2 .2h.8l.2-.2h.8l.4 .1h.6l.4 .1h1.6l.4-.1h.6l.4 .1h1.6l.4-.1h.6l.4 .1h1.6l.2-.2h.8l.4 .1h1.6l.4 .1h.6l.2-.2h.8l.2 .2h2.8l.4-.1h1.6l.4-.1h.6l.2 .2h1.8l.2-.2h.8l.2 .2h5.8l.2-.2h.8l.2 .2h2.8l.4-.1h1.6l.4-.1h.6l.2 .2h.8l.4-.1h1.6l.4-.1h.6l.2 .2h1.8l.4-.1h.6l.4 .1h.6l.4-.1h3.6l.4 .1h3.6l.2-.2h.8l.2 .2h.8l.4-.1h.6l.4 .1h.6l.4-.1h.6l.4-.1h.6l.2 .2h2.8l.4-.1h2.6l.4 .1h.6l.4-.1h.6l.4-.1h.6l.2 .2h1.8l.4-.1h1.6l.4 .1h.6l.4-.1h1.6l.4-.1h.6l.2 .2h.8l.4-.1h.6l.4 .1h1.6l.4-.1h.6l.4 .1h.6l.4-.1h4.6l.4 .1h.6l.2-.2h.8l.2 .2h2.8l.4-.1h.6l.4 .1h.6l.2-.2h.8l.2 .2h3.8l.4-.1h.6l.4 .1h1.6l.4-.1h1.6l.4 .1h.6l.4-.1h1.6l.4 .1h1.6l.4-.1h2.6l.4-.1h.6l.2 .2h1.8l.4-.1h.6l.4 .1h5.6l.2-.2h1.8l.4 .1h1.6l.4 .1h1.6l.4-.1h1.6l.4 .1h2.6l.4-.1h.6l.4 .1h1.6l.4-.1h1.6l.4-.1h.6l.2 .2h1.8l.2-.2h.8l.2 .2h.8l.4-.1h.6l.4 .1h1.6l.2-.2h.8l.2 .2h2.8l.2-.2h.8l.2 .2h1.8l.2-.2h1.8l.2 .2h1.8l.2-.2h.8l.2 .2h3.8l.2-.2h1.8l.2 .2h.8l.4-.1h.6l.4 .1h1.6l.4-.1h.6l.4 .1h.6l.4-.1h.6l.4 .1h1.6l.4-.1h.6l.4 .1h2.6l.4-.1h.6l.4 .1h.6l.4-.1h.6l.4 .1h.6l.4-.1h.6l.4 .1h2.6l.4-.1h.6l.4 .1h1.6l.2-.2h.8l.2 .2h3.8l.2-.2h.8l.2 .2h2.8l.2-.2h.8l.2 .2h.8l.4-.1h.6l.4 .1h1.6l.4-.1h.6l.4 .1h2.6l.4-.1h.6l.4-.1h.6l.4 .1h.6l.4 .1h1.6l.4-.1h.6l.4 .1h1.6l.2-.2h.8l.2 .2h.8l.4-.1h.6l.4 .1h.6l.2-.2h.8l.2 .2h.8l.2-.2h.8l.4 .1h.6l.4-.1h.6l.4 .1h.6l.4 .1h1.6l.2-.2h.8l.2 .2h4.5v4.1h-1.3l-.4-.1h-.6l-.4 .1h-.6l-.4-.1h-1.6l-.4 .1h-.6l-.4-.1h-.6l-.4 .1h-.6l-.4-.1h-7.6l-.4 .1h-.6l-.4-.1h-4.6l-.4 .1h-.6l-.4-.1h-6.6l-.4 .1h-.6l-.4-.1h-4.8l-.2 .2h-.8l-.2-.2h-1.8l-.2 .2h-.8l-.2-.2h-.6l-.4 .1h-.6l-.4-.1h-.8l-.2 .2h-.6l-.4-.1h-.6l-.4-.1h-1.6l-.4 .1h-.6l-.4-.1h-.6l-.4 .1h-.6l-.4 .1h-.6l-.4-.1h-.6l-.4-.1h-.6l-.4 .1h-.6l-.4-.1h-6.6l-.4 .1h-1.6l-.4-.1h-9.6l-.4 .1h-.6l-.4-.1h-.8l-.2 .2h-.8l-.2-.2h-1.8l-.2 .2h-.8l-.2-.2h-3.6l-.4 .1h-.6l-.4 .1h-.8l-.2-.2h-4.6l-.4 .1h-.6l-.4-.1h-.6l-.4 .1h-.6l-.4-.1h-1.8l-.2 .2h-.6l-.4-.1h-.6l-.4-.1h-2.6l-.4 .1h-.6l-.4-.1h-10.8l-.2 .2h-.6l-.4-.1h-.6l-.4-.1h-.6l-.4 .1h-.6l-.4-.1h-1.8l-.2 .2h-.8l-.2-.2h-7.6l-.4 .1h-.6l-.4 .1h-1.6l-.4-.1h-.6l-.4-.1h-.6l-.4 .1h-.6l-.4-.1h-2.6l-.4 .1h-.6l-.4-.1h-.6l-.4 .1h-1.6l-.4-.1h-2.8l-.2 .2h-.8l-.2-.2h-5.8l-.2 .2h-1.6l-.4-.1h-1.6l-.4 .1h-.8l-.2-.2h-1.8l-.2 .2h-.8l-.2-.2h-1.6l-.4 .1h-.6l-.4 .1h-.8l-.2-.2h-1.6l-.4 .1h-.6l-.4-.1h-.6l-.4 .1h-.6l-.4 .1h-.6l-.4-.1h-1.6l-.4-.1h-3.6l-.4 .1h-.6l-.4-.1h-9.6l-.4 .1h-.6l-.4-.1h-2.8l-.2 .2h-.6l-.4-.1h-1.6l-.4-.1h-1.6l-.4 .1h-.6l-.4 .1h-.8l-.2-.2h-1.8l-.2 .2h-.8l-.2-.2h-4.6l-.4 .1h-.6l-.4 .1h-1.8l-.2-.2h-2.8l-.2 .2h-.8l-.2-.2h-.6l-.4 .1h-.6l-.4-.1h-4.6l-.4 .1h-.6l-.4-.1h-7.6l-.4 .1h-.6l-.4-.1h-1.6l-.4 .1h-.6l-.4-.1h-.6l-.4 .1h-1.6l-.4-.1h-2.6l-.4 .1h-.6l-.4-.1h-2.8l-.2 .2h-.8l-.2-.2h-.8l-.2 .2h-.8l-.2-.2h-2.6l-.4 .1h-1.6l-.4-.1h-3.8l-.2 .2h-1.6l-.4-.1h-.6l-.4-.1h-.6l-.4 .1h-.6l-.4-.1h-2.6l-.4 .1h-.6l-.4-.1h-.6l-.4 .1h-3.6l-.4 .1h-.8l-.2-.2h-10.6l-.4 .1h-1.6l-.4-.1h-.6l-.4 .1h-.6l-.4 .1h-.8l-.2-.2h-2.6l-.4 .1h-.6l-.4-.1h-1.8l-.2 .2h-.8l-.2-.2h-.8l-.2 .2h-.8l-.2-.2h-1.8l-.2 .2h-.8l-.2-.2h-.6l-.4 .1h-.6l-.4-.1h-2.6l-.4 .1h-1.6l-.4-.1h-.8l-.2 .2h-.8l-.2-.2h-2.8l-.2 .2h-.8l-.2-.2h-.6l-.4 .1h-1.6l-.4-.1h-5.8l-.2 .2h-.8l-.2-.2h-3.6l-.4 .1h-.6l-.4 .1h-.8l-.2-.2h-.6l-.4 .1h-.6l-.4-.1h-.6l-.4 .1h-.6l-.4-.1h-.6l-.4 .1h-.6l-.4-.1h-2.8l-.2 .2h-1.8l-.2-.2h-4.8l-.2 .2h-.6l-.4-.1h-2.6l-.4 .1h-.8l-.2-.2h-2.6l-.4 .1h-.6l-.4-.1h-.8l-.2 .2h-.6l-.4-.1h-.6l-.4-.1h-8.6l-.4 .1h-.6l-.4 .1h-.8l-.2-.2h-.8l-.2 .2h-.8l-.2-.2h-5.6l-.4 .1h-.6l-.4-.1h-1.6l-.4 .1h-.6l-.4-.1h-1.6l-.4 .1h-1.6l-.4-.1h-.6l-.4 .1h-.6l-.4-.1h-1.6l-.4 .1h-2.6l-.4-.1h-.6l-.4 .1h-.6l-.4-.1h-1.6l-.4 .1h-.6l-.4-.1h-3.6l-.4 .1h-.6l-.4-.1h-1.6l-.4 .1h-1.6l-.4-.1h-.8l-.2 .2h-.6l-.4-.1h-1.6l-.4-.1h-2.8l-.2 .2h-.8l-.2-.2h-4.6l-.4 .1h-.6l-.4-.1h-7.6l-.4 .1h-.6l-.4-.1h-1.8l-.2 .2h-.8l-.2-.2h-2.6l-.4 .1h-.6l-.4 .1h-.6l-.4-.1h-.6l-.4-.1h-5.6l-.4 .1h-.6l-.4-.1h-.8l-.2 .2h-.6l-.4-.1h-.6l-.4-.1h-10.6l-.4 .1h-.6l-.4-.1h-.8l-.2 .2h-.8l-.2-.2h-.8l-.2 .2h-.6l-.4-.1h-.6l-.4 .1h-.8l-.2-.2h-.8l-.2 .2h-.8l-.2-.2h-.8l-.2 .2h-.8l-.2-.2h-2.6l-.4 .1h-.6l-.4-.1h-.6l-.4 .1h-.6l-.4-.1h-.6l-.4 .1h-.6l-.4-.1h-5.6l-.4 .1h-.6l-.4-.1h-.6l-.4 .1h-.6l-.4-.1h-1.8l-.2 .2h-.8l-.2-.2h-1.8l-.2 .2h-.8l-.2-.2h-.8l-.2 .2h-1.6l-.4-.1h-.6l-.4-.1h-3.6l-.4 .1h-1.6l-.4-.1h-1.8l-.2 .2h-.6l-.4-.1h-2.6l-.4-.1h-.6l-.4 .1h-.6l-.4-.1h-.6l-.4 .1h-.6l-.4-.1h-1.8l-.2 .2h-.6l-.4-.1h-.6l-.4-.1h-.6l-.4 .1h-.6l-.4-.1h-2.6l-.4 .1h-.6l-.4-.1h-1.6l-.4 .1h-.6l-.4-.1h-.6l-.4 .1h-.6l-.4 .1h-1.8l-.2-.2h-1.8l-.2 .2h-.8l-.2-.2h-.8l-.2 .2h-.6l-.4-.1h-.6l-.4-.1h-1.6l-.4 .1h-.6l-.4-.1h-.6l-.4 .1h-.6l-.4-.1h-.6l-.4 .1h-1.6l-.4-.1h-2.6l-.4 .1h-2.6l-.4-.1h-.8l-.2 .2h-.8l-.2-.2h-1.6l-.4 .1h-.6l-.4-.1h-.8l-.2 .2h-1.8l-.2-.2h-8.6l-.4 .1h-.6l-.4-.1h-10.6l-.4 .1h-1.6l-.4-.1h-3.8l-.2 .2h-.6l-.4-.1h-.6l-.4-.1h-.8l-.2 .2h-.8l-.2-.2h-2.6l-.4 .1h-1.6l-.4-.1h-.8l-.2 .2h-.6l-.4-.1h-.6l-.4 .1h-.8l-.2-.2h-.8l-.2 .2h-.8l-.2-.2h-1.6l-.4 .1h-1.6l-.4 .1h-.6l-.4-.1h-.6l-.4-.1h-.6l-.4 .1h-.6l-.4-.1h-1.6l-.4 .1h-1.6l-.4 .1h-.8l-.2-.2h-2.8l-.2 .2h-.8l-.2-.2h-1.8l-.2 .2h-.8l-.2-.2h-1.6l-.4 .1h-.6l-.4-.1h-2.6l-.4 .1h-.6l-.4-.1h-.6l-.4 .1h-.6l-.4-.1h-.6l-.4 .1h-.6l-.4-.1h-1.8l-.2 .2h-.6l-.4-.1h-.6l-.4-.1h-.8l-.2 .2h-.6l-.4-.1h-2.6l-.4-.1h-6.8l-.2 .2h-.8l-.2-.2h-.6l-.4 .1h-.6l-.4-.1h-9.6l-.4 .1h-.6l-.4-.1h-7.8l-.2 .2h-.8l-.2-.2h-1.6l-.4 .1h-.6l-.4-.1h-2.6l-.4 .1h-.6l-.4-.1h-1.6l-.4 .1h-.6l-.4-.1h-1.8l-.2 .2h-.8l-.2-.2h-.8l-.2 .2h-.8l-.2-.2h-.6l-.4 .1h-.6l-.4-.1h-5.8l-.2 .2h-.8l-.2-.2h-1.6l-.4 .1h-2.6l-.4-.1h-1.6l-.4 .1h-1.6l-.4-.1h-1.6l-.4 .1h-.6l-.4-.1h-5.8l-.2 .2h-.8l-.2-.2h-.6l-.4 .1h-.6l-.4-.1h-1.6l-.4 .1h-.6l-.4-.1h-1.6l-.4 .1h-1.6l-.4-.1h-.6l-.4 .1h-.6l-.4-.1h-2.8l-.2 .2h-.8l-.2-.2h-2.6l-.4 .1h-.6l-.4-.1h-2.6l-.4 .1h-.6l-.4-.1h-.6l-.4 .1h-1.6l-.4-.1h-.8l-.2 .2h-1.8l-.2-.2h-.6l-.4 .1h-.6l-.4-.1h-4.6l-.4 .1h-.6l-.4-.1h-.6l-.4 .1h-.6l-.4-.1h-.6l-.4 .1h-.6l-.4-.1h-.8l-.2 .2h-.8l-.2-.2h-.8l-.2 .2h-.8l-.2-.2h-6.8l-.2 .2h-.8l-.2-.2h-.6l-.4 .1h-.6l-.4-.1h-4.6l-.4 .1h-.6l-.4-.1h-1.6l-.4 .1h-.6l-.4-.1h-2.6l-.4 .1h-.6l-.4-.1h-1.6l-.4 .1h-1.6l-.4-.1h-2.6l-.4 .1h-.6l-.4-.1h-1.6l-.4 .1h-1.6l-.4-.1h-.6l-.4 .1h-1.6l-.4-.1h-4.6l-.4 .1h-.6l-.4-.1h-3.6l-.4 .1h-.6l-.4-.1h-3.8l-.2 .2h-.8l-.2-.2h-.6l-.4 .1h-.6l-.4-.1h-6.6l-.4 .1h-.6l-.4-.1h-2.8l-.2 .2h-.8l-.2-.2h-.8l-.2 .2h-.8l-.2-.2h-.6l-.4 .1h-.6l-.4-.1h-1.6l-.4 .1h-.6l-.4-.1h-1.6l-.4 .1h-.6l-.4-.1h-1.8l-.2 .2h-.8l-.2-.2h-1.8l-.2 .2h-.8l-.2-.2h-4.6l-.4 .1h-.6l-.4-.1h-.6l-.4 .1h-.6l-.4-.1h-.6l-.4 .1h-.6l-.4-.1h-3.6l-.4 .1h-1.6l-.4-.1h-3.8l-.2 .2h-.6l-.4-.1h-3.6l-.4-.1h-6.8l-.2 .2h-.6l-.4-.1h-.6l-.4-.1h-2.8z"/>
<path fill="#008000" d="M138 291.7h.8l.4-.1h1.6l.4 .1h.6l.4-.1h.6l.4-.1h1.6l.2-.2h1.8l.2 .4h.8l.2-.3h1.8l.4-.1h.6l.2 .2h.8l.2-.2h1.8l.2 .4h1.8l.4-.1h.6l.2-.2h.8l.2 .2h1.8l.2-.2h.8l.2 .2h.8l.4-.1h.6l.4 .1h2.6l.4-.1h.6l.2 .2h2.8l.4-.1h.6l.4 .1h.6l.2-.3h.8l.2 .3h.8l.2-.3h.8l.2 .3h.8l.2-.4h.8l.4 .1h.6l.2 .3h.8l.4-.1h.6l.4 .1h.6l.4-.1h4.6l.4-.1h.6l.2 .2h.8l.2-.3h.8l.4 .1h.6l.2 .2h.8l.2-.4h.8l.2 .3h2.8l.4 .1h.6l.4-.1h.6l.4 .1h.6l.4-.1h.6l.4 .1h.6l.4-.1h1.6l.2-.3h.8l.2 .2h.8l.2 .2h1.8l.4-.1h2.6l.4-.1h.6l.4-.1h.6l.2 .3h.8l.4-.1h.6l.4 .1h1.6l.2-.4h.8l.2 .4h1.8l.4-.1h.6l.4-.1h.6l.2-.2h1.8l.4 .1h.6l.4 .1h.6l.4 .1h.6l.4 .1h.6l.2-.3h.8l.4 .1h2.6l.4-.1h.6l.2 .2h.8l.4 .1h2.6l.4-.1h.6l.4 .1h3.6l.4-.1h1.6l.2-.3h.8l.2 .2h.8l.2 .2h1.8l.2-.4h.8l.2 .4h.8l.4-.1h.6l.4-.1h.6l.4 .1h.6l.4 .1h.6l.4-.1h2.6l.4 .1h.6l.2-.4h.8l.2 .3h1.8l.4-.1h.6l.2 .2h1.8l.4-.1h.6l.2-.2h2.8l.2 .3h.8l.2-.3h.8l.2 .3h1.8l.2-.2h.8l.2 .2h.8l.2-.2h1.8l.4-.1h1.6l.4 .1h.6l.2 .2h4.8l.2-.4h.8l.4 .1h.6l.2 .3h.8l.4-.1h.6l.4-.1h.6l.2 .2h.8l.4-.1h.6l.2-.2h1.8l.2 .3h.8l.2-.2h.8l.4 .1h.6l.4 .1h1.6l.2-.3h.8l.2 .3h1.8l.2-.4h.8l.2 .3h.8l.2-.2h.8l.2 .3h1.8l.2-.3h.8l.2 .3h.8l.2-.4h.8l.2 .3h.8l.2-.2h.8l.2 .3h.8l.2-.2h1.8l.4 .1h.6l.2-.2h1.8l.2 .2h.8l.2-.3h.8l.2 .2h.8l.4-.1h.6l.2 .3h3.8l.4-.1h.6l.2-.3h.8l.2 .3h.8l.2-.3h.8l.2 .2h.8l.4 .1h.6l.4 .1h1.6l.2-.4h1.8l.4 .1h.6l.2 .3h.8l.2-.2h.8l.4 .1h.6l.4-.1h.6l.4 .1h.6l.4 .1h5.6l.4-.1h.6l.2-.3h.8l.2 .3h.8l.4 .1h.6l.2-.4h.8l.4 .1h1.6l.2-.5h.5l1 .6h.3l.2 .2h.8l.2-.2h.8l.2 .2h.2l.6-.5l1-.8l1.2-.7l.5-.3h.1v-1.7h.2h.1v-5.2h.1h1.8l.2 .2h.1v7.3h.1h1.8l.2-.2l.6-.7l.2-.2l.2-.4l.6 .3l1 .8l.4-.1h1.3h.1v-1.6h.2h.1v-4.5h.1l1.2-.2h.2v-5.5h.1h.3l.2-.5h1.8h.1v7.6h.1l.8 .3h.2h.1v1.9h.1l.6 .1l.2-.1l.5 .1l.5 .1l.2 .1h.2v1.3h.1l.5-.5l.2-.2l.6 .1l.4 .3l1.3 .2l.3 .4l.2 1h.5l.3 .1l.4-.1l1 .2l.6 .1l.4 1.3h.6l.2 .2h.8l.4-.1h.6l.4 .1h2.6l.4-.1h1.6l.4 .1h.6l.4-.1h.6l.4 .1h1.6l.2-.3h.8l.2 .2h.8l.4 .1h.6l.2-.2h.8l.2-.2h.8l.4 .1h.6l.2 .3h.8l.4-.1h.6l.4 .1h.6l.4-.1h.6l.4 .1h1.6l.2-.4h.8l.2 .3h.8l.4 .1h.6l.4-.1h1.6l.4 .1h.6l.2-.2h.8l.4 .1h.6l.4-.1h.6l.4-.1h1.6l.4-.1h.6l.2 .2h.8l.2-.2h1.8l.2 .4h1.8l.4-.1h1.6l.4 .1h1.6l.2-.2h.8l.4 .1h1.6l.4-.1h.6l.4 .1h.6l.4 .1h1.6l.2-.2h.8l.2 .2h.8l.2-.4h1.8l.2 .3h.8l.2-.3h.8l.2 .4h.8l.4-.1h.6l.2-.2h.8l.2 .3h.8l.4-.1h.6l.4 .1h1.6l.4-.1h1.6l.2-.2h.8l.2 .3h1.8l.4-.1h1.6l.4-.1h.6l.4-.1h.6l.4 .1h.6l.2 .2h1.8l.4-.1h.6l.4 .1h.6l.4-.1h2.6l.2-.2h.8l.2 .3h1.8l.2-.3h1.8l.2 .3h.8l.2-.2h.8l.4 .1h.6l.4 .1h1.6l.4-.1h1.6l.4 .1h11.6l.2-.3h.8l.4 .1h.6l.2 .2h1.8l.4-.1h.6l.4 .1h.6l.2-.2h.8l.2 .2h.8l.2-.4h.8l.2 .4h.8l.4-.1h.6l.4 .1h2.6l.2-.4h1.8l.2 .3h1.8l.4-.1h.6l.4 .1h.6l.2-.2h.8l.2 .3h.8l.2-.3h.8l.2 .3h.8l.4-.1h1.6l.4-.1h.6l.2 .2h1.8l.2-.3h.8l.2 .3h1.8l.4-.1h.6l.2-.3h.8l.2 .4h2.8l.2-.4h.8l.2 .4h.8l.2-.2h.8l.2 .2h.8l.4-.1h1.6l.4-.1h.6l.4 .1h.6l.4 .1h2.6l.4-.1h.6l.4 .1h1.6l.2-.3h.8l.2 .3h1.8l.4-.1h.6l.4 .1h.6l.2-.2h.8l.2 .2h.8l.2-.2h.8l.2 .2h1.8l.4-.1h2.6l.2-.2h.8l.4 .1h4.6l.4-.1h.6l.4 .1h.6l.2 .2h.8l.4-.1h.6l.4-.1h.6l.4 .1h1.6l.4 .1h1.6l.2-.3h.8l.2 .3h2.8l.2-.4h.8l.2 .4h.8l.2-.4h.8l.2 .4h1.8l.2-.4h.8l.2 .4h.8l.2-.4h.8l.2 .4h1.8l.2-.4h.8l.2 .4h.8l.2-.2h.8l.4-.1h.6l.2 .3h1.8l.2-.2h.8l.2 .2h2.8l.2-.3h.8l.2 .3h.8l.4-.1h1.6l.4 .1h.6l.4-.1h.6l.4-.1h.6l.2-.2h.8l.2 .3h.8l.4 .1h1.6l.4-.1h.6l.4 .1h1.6l.4-.1h.6l.4-.1h1.6l.4 .1h.6l.4 .1h.6l.4-.1h.6l.4 .1h.6l.2-.3h1.8l.2 .3h.8l.2-.4h.8l.2 .3h.8l.4-.1h1.6l.4 .1h.6l.4 .1h.6l.4-.1h.6l.2-.3h.8l.2 .2h.8l.4 .1h.6l.2-.3h.8l.4 .1h.6l.2 .2h.8l.2-.2h.8l.2 .3h1.8l.4-.1h.6l.4-.1h1.6l.2 .2h.8l.4-.1h.6l.4-.1h1.6l.2-.2h.8l.2 .4h.8l.2-.2h.8l.4 .1h.6l.4 .1h.6l.2-.4h.8l.2 .3h1.8l.2-.3h.8l.2 .3h2.8l.2-.2h.8l.2 .2h.8l.4 .1h1.6l.2-.3h.8l.4 .1h.6l.2 .2h.8l.2-.3h.8l.2 .2h1.8l.4-.1h.6l.4-.1h.6l.2 .3h1.8l.4-.1h.6l.4 .1h.6l.2-.2h.8l.4 .1h1.6l.4-.1h.6l.2 .2h1.8l.4-.1h.6l.4 .1h.6l.4-.1h.6l.4 .1h.6l.2-.4h.8l.4 .1h.6l.4 .1h.6l.4-.1h.6l.2 .3h.8l.4-.1h1.6l.4 .1h1.6l.2-.2h.8l.2 .2h.8l.2-.3h.8l.2 .2h1.8l.4 .1h.6l.2-.3h.8l.2 .3h3.8l.2-.2h.8l.2 .2h.8l.4-.1h.6l.4 .1h.6l.2-.3h.8l.2 .2h1.8l.2-.3h.8l.2 .2h.8l.2-.2h.8l.2 .2h.8l.2 .2h.8l.4-.1h.6l.4-.1h.6l.2 .2h.8l.4-.1h.6l.4 .1h.6l.4-.1h1.6l.4 .1h.6l.4-.1h.6l.4 .1h.6l.4-.1h.6l.4-1.2l.3-.7l.3-.3l.2 .1l1-.2l.5 .1h1l.3 .1l.2-.2l.5 .1h.3l.2 .2h1l.5 .1h.7l.6 .1h.1v-6.7h.1h.1v-3.4h.1h.6h.1v-7h.1h.8l.4-.1h.6l.2-.6h.1v7.6h.1l.6 .2h.1v2.4h.1l.8 .4l.2 .3l.5 .2h.1v1.9h.2h.1v1.6h.1l.8 .2l.2 .3l.8 .3h.1v1.8h.1l1.8 .3l.2 .7h1l.5 .1h1.3l.4 .1h3l.6 .1h.7l.5 .1h.5l.3 .1l.4-.1l1 .1l.6 .1l.4-.1h.6l.4 .1l.6 .1l.4-.1l.6 .1h1l.4 .1l.6 .1l.2-.2l.5 .1l1 .1h1.7l.6 .1h.4l.6 .1h2l.2 .2h1l.2 .2h2.6l.4-.1h.6l.4 .1h.6l.4-.1h.6l.4 .1h.6l.2-.2h.8l.4 .1h.6l.2-.2h.8l.4 .1h.6l.4 .1h.6l.2-.3h.8l.2 .4h.8l.2-.3l.8-.2l.4 .1l.6-.1l.2 .5l.8-.1l.2-.6l.2-.2l.8-1.5l.2-.4h1.6l.4 .9l.6 1l.2 .3l.5 .1l1.3 .2l.2 .2h1.8l.4 .1h2.6l.2-.3h.8l.2 .3h.8l.4-.1h1.6l.4 .1h.6l.2-.2h.8l.4 .1h1.6l.4-.1h.6l.2 .2h2.8l.2-.3h.8l.2 .3h.8l.2-.3h1.8l.2 .3h.8l.4-.1h.6l.4 .1h.6l.4-.1h.6l.4 .1h.6l.2-.3h.8l.2 .2h.8l.2-.2h.8l.2 .3h2.8l.4-.1h.6l.4 .1h1.6l.4-.1h1.6l.4-.1h.6l.4-.1h.6l.2 .3h.8l.4-.1h.6l.2-.2h.8l.2 .3h.8l.4-.1h1.6l.4-.1h1.6l.2 .2h1.8l.4-.1h.6l.2-.2h.8l.2 .3h.8l.4-.1h.6l.4 .1h.6l.2-.3h.8l.2 .3h2.8l.4-.1h1.6l.4 .1h.6l.4-.1h.6l.4 .1h2.6l.2-.3h1.8l.2 .3h2.8l.4-.1h.6l.4 .1h.6l.4-.1h1.6l.4 .1h1.6l.2-.4h.8l.2 .4h1.8l.2-.4h.8l.2 .2h.8l.4 .1h.6l.4 .1h.6l.2-.2h1.8l.4-.1h.6l.4-.1h.6l.2 .3h.8l.4-.1h.6l.4-.1h.6l.2 .3h.8l.4-.1h.6l.2-.2h.8l.4 .1h1.6l.4 .1h.6l.2-.2h.8l.2 .2h.8l.4 .1h.6l.4-.1h.6l.4-.1h.6l.2 .2h7.8l.4-.1h.6l.4-.1h.6l.4 .1h.6l.2-.2h.8l.2 .3h.8l.2-.3h.8l.2 .3h.8l.4-.1h.6l.4 .1h.6l.2-.2h2.8l.2 .2h1.8l.2-.2h.8l.4 .1h3.6l.2-.3h.8l.2 .4h.8l.4-.1h.6l.2-.2h.8l.2 .3h.8l.2-.2h1.8l.2 .2h1.8l.4-.1h.6l.2-.3h.8l.4 .1h1.6l.2 .3h.8l.2-.3h.8l.2 .2h2.8l.4-.1h.6l.2 .2h2.8l.2-.3h.8l.2 .2h.8l.2-.3h.8l.2 .4h.8l.4-.1h.6l.2-.3h.8l.2 .2h.8l.4-.1h1.6l.2 .2h.8l.4 .1h.6l.4-.1h1.6l.4 .1h2.6l.2-.2h.8l.2 .2h.8l.2-.2h.8l.2 .2h.8l.2-.2h.8l.4 .1h.6l.2-.3h.8l.2 .4h.8l.2-.2h.8l.4 .1h.6l.4 .1h2.6l.4-.1h.6l.2-.2h.8l.2 .3h2.8l.4-.1h.6l.4 .1h1.6l.2-.3h.8l.2 .2h.8l.4 .1h.6l.2-.2h.8l.2 .2h.8l.2-.2h1.8l.4 .1h.6l.4 .1h1.6l.2-.3h.8l.4 .1h.6l.2-.2h.8l.2 .4h1.8l.2-.2h.8l.4 .1h1.6l.4 .1h.6l.2-.4h.8l.2 .4h.8l.2-.2h.8l.4 .1h.6l.4-.1h1.6l.4 .1h1.6l.4 .1h.6l.2-.2h.8l.2 .2h9.8l.4-.1h1.3v3.9h-.3l-.4-.1h-.6l-.4 .1h-.6l-.4-.1h-6.6l-.4 .1h-.6l-.4-.1h-4.6l-.4 .1h-.6l-.4-.1h-1.8l-.2 .2h-.8l-.2-.2h-.6l-.4 .1h-1.6l-.4-.1h-1.8l-.2 .3h-.8l-.2-.3h-.6l-.4 .1h-1.8l-.2 .2h-.8l-.2-.3h-.6l-.4 .1h-.6l-.4-.1h-1.8l-.2 .2h-.8l-.2-.2h-2.8l-.2 .3h-.8l-.2-.3h-1.8l-.2 .3h-.8l-.2-.3h-.6l-.4 .1h-.6l-.4-.1h-.8l-.2 .3h-.8l-.2-.2h-.6l-.4-.1h-9.8l-.2 .4h-.8l-.2-.2h-.8l-.2-.2h-2.8l-.2 .2h-.6l-.4-.1h-.6l-.4-.1h-2.6l-.4 .1h-.6l-.4-.1h-.6l-.4 .1h-.8l-.2 .2h-.8l-.2-.3h-.6l-.4 .1h-.6l-.4-.1h-.6l-.4 .1h-.6l-.4-.1h-.8l-.2 .2h-.6l-.4-.1h-.6l-.4-.1h-2.8l-.2 .2h-.8l-.2-.2h-.8l-.2 .2h-.8l-.2-.2h-.6l-.4 .1h-1.6l-.4-.1h-1.8l-.2 .2h-.8l-.2-.2h-.8l-.2 .2h-.8l-.2-.2h-.8l-.2 .2h-.8l-.2-.2h-1.8l-.2 .3h-.8l-.2-.3h-1.6l-.4 .1h-.6l-.4-.1h-2.8l-.2 .2h-.8l-.2-.2h-1.8l-.2 .4h-.8l-.2-.2h-.8l-.2-.2h-1.6l-.4 .1h-.6l-.4-.1h-1.6l-.4 .1h-.6l-.4-.1h-4.6l-.4 .1h-.6l-.4-.1h-.8l-.2 .2h-.8l-.2-.2h-3.6l-.4 .1h-.6l-.4-.1h-.8l-.2 .3h-.8l-.2-.3h-.8l-.2 .2h-.6l-.4 .1h-.8l-.2-.2h-1.8l-.2 .2h-.8l-.2-.3h-1.8l-.2 .2h-.8l-.2-.2h-.6l-.4 .1h-.6l-.4-.1h-.8l-.2 .2h-.8l-.2-.2h-2.8l-.2 .3h-.8l-.2-.2h-.6l-.4 .1h-.8l-.2-.2h-.6l-.4 .1h-.6l-.4-.1h-4.8l-.2 .2h-.8l-.2-.2h-7.8l-.2 .2h-.6l-.4 .1h-.6l-.4-.1h-.6l-.4-.1h-.8l-.2 .2h-.8l-.2-.3h-.6l-.4 .1h-.6l-.4-.1h-3.8l-.2 .2h-.6l-.4-.1h-1.6l-.4-.1h-.6l-.4 .1h-.6l-.4-.1h-1.8l-.2 .2h-2.8l-.2-.2h-1.6l-.4 .1h-1.6l-.4-.1h-1.6l-.4 .1h-.8l-.2 .3h-.8l-.2-.4h-.6l-.4 .1h-.6l-.4-.1h-.8l-.2 .3h-.6l-.4 .1h-1.8l-.2-.4h-.6l-.4 .1h-2.6l-.4-.1h-1.6l-.4 .1h-.6l-.4-.1h-1.6l-.4 .1h-.6l-.4-.1h-4.6l-.4 .1h-.6l-.4-.1h-.6l-.4 .1h-.8l-.2 .3h-.8l-.2-.3h-.6l-.4 .1h-.8l-.2-.2h-.8l-.2 .3h-.6l-.4-.1h-.8l-.2-.2h-.8l-.2 .3h-.8l-.2-.2h-.6l-.4-.1l-.6 .1l-.4-.1h-.8l-.2 .2h-.8l-.5 .3h-.5l-.2 .2l-.6 1l-.4 .8h-1.6l-.4-.8l-.6-1l-.4-.3l-.8-.1l-.5-.3h-.5l-.2 .2h-.8l-.2-.2h-.8l-.2 .4h-.6l-.4-.1h-1.6l-.4-.1h-.8l-.2-.2h-.6l-.4 .1h-.6l-.4-.1h-.8l-.2 .2h-.8l-.2-.2h-1.6l-.4 .1h-.6l-.4 .1h-.8l-.2-.2h-.6l-.4 .3h-.6l-.4-.1l-.3 .1h-1l-1 .2h-2l-.5 .1l-.2-.1l-.6 .1l-.4 .1h-.6l-.4-.1l-1 .1l-.6 .1h-1.7l-.5 .1h-.8l-1 .2l-.4-.1l-.6 .1h-1.7l-.5 .1l-.5-.1l-.5 .1h-.5l-.5 .1h-.5l-1 .1l-1 .2l-1 .1l-1 .1l-1 .2h-.5h-.1v1.9h-.1l-.8 .1l-.2 .2l-.8 .1l-1 .1l-.2 .2l-.8 .1l-.2 .7l-.6 2.5l-.4 2.3l-.6 2.5h-.1v1.4h-.1l-.5 3.1l-.3 .1l-.2-.7l-.2-.3l-.3-.9l-.5-2.6l-.5-3.1h-.1v-2.2h-.2h-.1v-2.7h-.1h-.1v-2.4h-.1h-.6l-.4 .1h-.6l-.4-.1l-.3 .1h-.5l-.5 .1h-1.3l-.4 .1h-.6l-.4-.1l-1-.3l-.3-.3l-.5-1.4l-.2-.4h-.8l-.2-.2h-.6l-.4 .1h-.6l-.4-.1h-1.8l-.2 .3h-.8l-.2-.3h-1.6l-.4 .1h-.6l-.4-.1h-.6l-.4 .1h-.6l-.4-.1h-1.6l-.4 .1h-1.6l-.4-.1h-.8l-.2 .2h-1.8l-.2-.2h-1.6l-.4 .1h-.6l-.4-.1h-.6l-.4 .1h-.6l-.4 .1h-.8l-.2-.2h-4.6l-.4 .1h-.6l-.4 .1h-.8l-.2-.2h-.8l-.2 .2h-.8l-.2-.2h-.6l-.4 .1h-.6l-.4 .1h-.6l-.4-.1h-.6l-.4-.1h-5.6l-.4 .1h-1.8l-.2 .2h-.8l-.2-.3h-1.6l-.4 .1h-2.6l-.4-.1h-1.6l-.4 .1h-.6l-.4 .1h-1.6l-.4-.1h-.6l-.4-.1h-.8l-.2 .3h-.8l-.2-.3h-.8l-.2 .2h-.8l-.2-.2h-2.6l-.4 .1h-.6l-.4-.1h-.8l-.2 .2h-.6l-.4-.1h-.6l-.4 .1h-.8l-.2-.2h-.6l-.4 .1h-.8l-.2 .2h-.8l-.2-.3h-.6l-.4 .1h-.8l-.2 .2h-.8l-.2-.3h-2.8l-.2 .3h-.6l-.4-.1h-.6l-.4-.1h-.6l-.4-.1h-2.8l-.2 .3h-.8l-.2-.2h-.8l-.2 .2h-.8l-.2-.3h-1.6l-.4 .1h-.6l-.4-.1h-.6l-.4 .1h-.6l-.4-.1h-.6l-.4 .1h-.8l-.2 .2h-.8l-.2-.3h-1.8l-.2 .4h-.8l-.2-.4h-.8l-.2 .2h-.8l-.2-.2h-.8l-.2 .2h-.8l-.2-.2h-1.8l-.2 .4h-.8l-.2-.3h-.6l-.4 .1h-.6l-.4 .1h-.8l-.2-.3h-.6l-.4 .1h-.6l-.4-.1h-.6l-.4 .1h-.6l-.4-.1h-.6l-.4 .1h-1.6l-.4 .1h-.8l-.2-.2h-.6l-.4 .1h-.6l-.4-.1h-2.8l-.2 .2h-.8l-.2-.2h-.8l-.2 .3h-.8l-.2-.3h-.6l-.4 .1h-.6l-.4-.1h-1.8l-.2 .2h-.8l-.2-.2h-2.6l-.4 .1h-.6l-.4-.1h-3.6l-.4 .1h-1.6l-.4-.1h-.8l-.2 .2h-.8l-.2-.2h-1.8l-.2 .3h-.8l-.2-.3h-.8l-.2 .2h-.8l-.2-.2h-1.8l-.2 .2h-1.6l-.4 .1h-.8l-.2-.3h-.6l-.4 .1h-.8l-.2 .3h-.8l-.2-.4h-1.6l-.4 .1h-1.6l-.4 .1h-.8l-.2-.2h-1.8l-.2 .3h-.8l-.2-.3h-1.6l-.4 .1h-.6l-.4-.1h-5.8l-.2 .2h-.8l-.2-.2h-.8l-.2 .2h-.8l-.2-.2h-.8l-.2 .2h-.8l-.2-.2h-.6l-.4 .1h-1.6l-.4-.1h-1.6l-.4 .1h-.6l-.4-.1h-1.8l-.2 .3h-.8l-.2-.3h-.8l-.2 .2h-.8l-.2-.2h-1.8l-.2 .3h-.8l-.2-.3h-.8l-.2 .2h-.8l-.2-.2h-2.6l-.4 .1h-.8l-.2 .2h-.8l-.2-.3h-4.6l-.4 .1h-.8l-.2 .2h-.6l-.4-.1h-.8l-.2-.2h-.8l-.2 .3h-.8l-.2-.3h-.6l-.4 .1h-.6l-.4-.1h-.6l-.4 .1h-.6l-.4-.1h-.6l-.4 .1h-.6l-.4-.1h-.6l-.4 .1h-.8l-.2 .2h-.6l-.4-.1h-.6l-.4 .1h-.8l-.2-.3h-3.6l-.4 .1h-2.6l-.4-.1h-.8l-.2 .3h-.8l-.2-.2h-.6l-.4 .1h-.6l-.4-.1h-.6l-.4-.1h-2.6l-.4 .1h-.6l-.4-.1h-1.8l-.2 .3h-1.8l-.2-.3h-.8l-.2 .3h-.8l-.2-.3h-2.8l-.2 .3h-.8l-.2-.3h-3.8l-.2 .2h-1.8l-.2-.2h-1.6l-.4 .1h-.6l-.4-.1h-2.8l-.2 .3h-.8l-.2-.3h-.8l-.2 .2h-.6l-.4 .1h-.8l-.2-.3h-.8l-.2 .3h-.8l-.2-.3h-.6l-.4 .1h-.6l-.4 .1h-.8l-.2-.2h-6.6l-.4 .1h-.6l-.4-.1h-1.8l-.2 .2h-.8l-.2-.2h-.8l-.2 .2h-.8l-.2-.2h-.8l-.2 .2h-.8l-.2-.2h-.8l-.2 .2h-.8l-.2-.2h-2.8l-.2 .2h-.6l-.4-.1h-1.6l-.4-.1h-.8l-.2 .2h-.6l-.4-.1h-.6l-.4-.1h-3.8l-.2 .2h-.8l-.2-.2h-.8l-.2 .2h-.8l-.2-.2h-1.8l-.2 .2h-.8l-.2-.2h-.6l-.4 .1h-1.6l-.4-.1h-.8l-.2 .2h-.6l-.4-.1h-.6l-.4-.1h-1.6l-.4 .1h-.6l-.4 .1h-.8l-.2-.2h-.8l-.2 .3h-.8l-.2-.2h-.6l-.4-.1h-2.6l-.4 .1h-1.6l-.4-.1h-.6l-.4 .1h-3.6l-.4-.1h-.8l-.2 .2h-1.8l-.2-.2h-2.8l-.2 .3h-.8l-.2-.2h-1.6l-.4 .1h-.8l-.2-.2h-1.6l-.4 .1h-.6l-.4 1.1h-.6l-.4 .1h-.6l-1.2 .2l-.2 .7l-.3 .4h-.5l-.2 .2h-.2v1.3h-.1l-.5 .1l-.2-.2h-.8l-.2 .3h-.6l-1 .1h-.1v1.2h-.1l-.2-.2l-.8 .1l-.2 .3l-.8 .1h-.1v16.1h-.1h-.8l-.2 .5h-.8l-.2-.3h-.3h-.1v-13.5h-.2l-.7-.1l-.5-.1h-.1v-4.9h-.1l-.3-.1h-.5l-.2 .2l-.8 .1l-.2 .2h-.3l-.5 .2l-.5-.1l-.5-.1l-1-.6h-.1v-1.9h-.1l-.3-.6l-.5 .1h-.8h-.1v7.5h-.1l-.2-.2h-.8l-.2 .2h-.8h-.1v-1.7h-.1h-.2v-5.2h-.1l-1.3-.5l-.4-.1l-.6-.3l-.4-.3l-.6-.4h-2.4l-.8 .5l-.2-.2l-.3 .1l-.5 .1l-.2-.2h-.3l-.5-.2l-.2 .1l-.3-.1l-.5-.1l-.2 .3h-.8l-.2-.3h-.6l-.4 .1h-.6l-.4-.1h-.8l-.2 .3h-.6l-.4-.1h-.6l-.4-.1h-1.6l-.4 .1h-.8l-.2-.2h-1.8l-.2 .3h-.6l-.4-.1h-.6l-.4-.1h-.6l-.4-.1h-1.8l-.2 .3h-.8l-.2-.3h-2.8l-.2 .2h-.6l-.4-.1h-.6l-.4-.1h-1.8l-.2 .2h-.8l-.2-.2h-.8l-.2 .2h-.8l-.2-.2h-.6l-.4 .1h-.6l-.4-.1h-3.8l-.2 .3h-1.6l-.4-.1h-.6l-.4-.1h-.6l-.4-.1h-.6l-.4 .1h-.6l-.4-.1h-.8l-.2 .2h-.8l-.2-.2h-1.6l-.4 .1h-.6l-.4-.1h-.6l-.4 .1h-.6l-.4-.1h-3.8l-.2 .4h-1.8l-.2-.4h-.8l-.2 .2h-.8l-.2-.2h-1.8l-.2 .3h-.8l-.2-.3h-.8l-.2 .2h-.8l-.2-.2h-2.6l-.4 .1h-2.6l-.4-.1h-1.8l-.2 .4h-.8l-.2-.4h-8.6l-.4 .1h-1.8l-.2 .2h-.8l-.2-.2h-1.6l-.4-.1h-.6l-.4 .1h-.6l-.4-.1h-1.8l-.2 .3h-.8l-.2-.3h-2.8l-.2 .2h-.6l-.4-.1h-.6l-.4-.1h-.8l-.2 .2h-.8l-.2-.2h-.6l-.4 .1h-.6l-.4-.1h-9.6l-.4 .1h-.6l-.4-.1h-4.8l-.2 .3h-.8l-.2-.3h-.6l-.4 .1h-.6l-.4-.1h-.6l-.4 .1h-.6l-.4-.1h-3.6l-.4 .1h-.8l-.2 .2h-.8l-.2-.2h-.6l-.4 .1h-.8l-.2-.2h-2.6l-.4 .1h-.6l-.4 .1h-1.8l-.2-.2h-.8l-.2 .3h-1.8l-.2-.3h-.6l-.4 .1h-.6l-.4-.1h-4.6l-.4 .1h-1.6l-.4-.1h-.6l-.4 .1h-.6l-.4-.1h-.6l-.4 .1h-2.8l-.2 .2h-.6l-.4-.1h-1.8l-.2-.2h-.8l-.2 .2h-.6l-.4 .1h-.8l-.2-.3h-6.6l-.4 .1h-.6l-.4-.1h-1.8l-.2 .2h-.6l-.4-.1h-1.6l-.4-.1h-.8l-.2 .2h-.6l-.4 .1h-.6l-.4-.1h-.8l-.2 .2h-.8l-.2-.4h-3.8l-.2 .2h-.8l-.2-.2h-.6l-.4 .1h-.6l-.4-.1h-.6l-.4 .1h-.6l-.4 .1h-1.6l-.4-.1h-.6l-.4 .1h-.6l-.4-.1h-1.6l-.4-.1h-.6l-.4 .1h-.8l-.2 .3h-1.8l-.2-.4h-.6l-.4 .1h-.6l-.4-.1h-.8l-.2 .3h-.6l-.4 .1h-.8l-.2-.2h-1.6l-.4-.1h-.6l-.4-.1h-1.6l-.4 .1h-1.8l-.2 .2h-.8l-.2-.3h-.6l-.4 .1h-.6l-.4-.1h-2.8l-.2 .2h-.8l-.2-.2h-.8z"/>
<path fill="#000000" d="M138 323h.8l.4-.1h.6l.2 .2h.8l.4-.1h.6l.4 .1h.6l.2-.2h.8l.2 .2h1.8l.4-.1h.6l.4 .1h1.6l.2-.2h.8l.2 .2h1.8l.4-.1h.6l.4-.1h.6l.2 .2h.8l.4-.1h.6l.4 .1h.6l.2-.2h.8l.4 .1h2.6l.4 .1h3.6l.2-.2h.8l.2 .2h.8l.2-.2h.8l.4 .1h2.6l.4 .1h.6l.2-.2h.8l.2 .2h1.8l.2-.2h.8l.4 .1h2.6l.4-.1h.6l.4 .1h1.6l.4 .1h1.6l.2-.2h.8l.4 .1h1.6l.4-.1h.6l.2 .2h1.8l.4-.1h.6l.2-.2h.8l.4 .1h.6l.4 .1h.6l.4 .1h.6l.4-.1h2.6l.2-.2h.8l.2 .2h2.8l.4 .1h.6l.4-.1h1.6l.4 .1h.6l.2-.3h.8l.2 .3h.8l.4-.1h.6l.4 .1h.6l.2-.3h.8l.2 .3h.8l.4-.1h.6l.4-.1h.6l.4 .1h1.6l.4 .1h2.6l.4-.1h1.6l.4 .1h.6l.4-.1h.6l.4 .1h.6l.2-.2h.8l.4 .1h.6l.4 .1h.6l.4-.1h1.6l.4 .1h2.6l.2-.2h2.8l.2 .2h.8l.2-.2h.8l.4 .1h3.6l.4 .1h2.6l.4-.1h.6l.4 .1h1.6l.2-.2h.8l.4 .1h1.6l.4 .1h1.6l.4-.1h.6l.4 .1h.6l.2-.2h.8l.2 .2h.8l.4-.1h.6l.4 .1h4.6l.2-.2h.8l.4 .1h.6l.4 .1h.6l.4-.1h.6l.4-.1h.6l.4 .1h2.6l.4 .1h3.6l.4-.1h1.6l.4 .1h.6l.4-.1h.6l.4 .1h.6l.2-.2h.8l.2 .2h1.8l.4-.1h.6l.4 .1h.6l.2-.2h.8l.2 .2h3.8l.4-.1h.6l.4-.1h.6l.4 .1h.6l.4-.1h.6l.4-.1h.6l.2 .2h.8l.4 .1h.6l.2-.2h.8l.2 .2h.8l.4-.1h.6l.4 .1h.6l.2-.2h.8l.4 .1h1.6l.4-.1h.6l.4 .1h2.6l.4-.1h.6l.2 .2h.8l.4-.1h.6l.4 .1h.6l.4-.1h4.6l.4 .1h1.6l.2-.2h.8l.2 .2h.8l.2-.2h.8l.2 .2h1.8l.4-.1h.6l.4 .1h.6l.4-.1h.6l.4 .1h.6l.2-.2h.8l.2 .2h2.8l.4-.1h.6l.4-.5h.8l.2 .1l.3 .3h.3l.2 .2h1.8l.4-.1h.6l.4 .1h1.6l.2-.2h.8l.4 .1h.6l.4 .1h1.6l.4-.1h.6l.4 .1h1.6l.4-.1h.6l.4 .1h1.6l.4-.1h.6l.4 .1h1.6l.4-.1h.6l.4 .1h.6l.4-.1h.6l.4-.1h2.6l.2 .2h5.8l.2-.2h.8l.4 .1h.6l.4 .1h3.6l.4-.1h1.6l.4 .1h.6l.4-.1h.6l.4 .1h.6l.4-.1h1.6l.4 .1h1.6l.4-.1h.6l.4-.1h.6l.2 .2h1.8l.4-.1h.6l.4 .1h.6l.4-.1h2.6l.4-.1h1.6l.2 .2h.8l.4-.1h1.6l.4 .1h1.6l.4-.1h.6l.4 .1h.6l.4-.1h1.6l.4 .1h.6l.4-.1h.6l.4 .1h1.6l.4-.1h.6l.4-.1h.6l.4 .1h.6l.4-.1h.6l.2 .2h1.8l.4-.1h.6l.4 .1h3.6l.4-.1h.6l.4 .1h.6l.4-.1h.6l.4 .1h.6l.4-.1h1.6l.4 .1h.6l.4-.1h.6l.4 .1h3.6l.2-.2h1.8l.2 .2h.8l.2-.2h.8l.4 .1h3.6l.4 .1h1.6l.2-.2h.8l.2 .2h1.8l.2-.3h.8l.2 .3h2.8l.2-.2h.8l.4 .1h.6l.4-.1h1.6l.4-.1h.6l.2 .3h1.8l.2-.2h1.8l.4 .1h.6l.4 .1h1.6l.2-.3h.8l.2 .2h1.8l.4 .1h2.6l.2-.2h1.8l.2 .2h1.8l.4-.1h1.6l.4-.1h.6l.4 .1h.6l.4 .1h.6l.4-.1h1.6l.4 .1h.6l.2-.2h.8l.2 .2h2.8l.4-.1h1.6l.4 .1h1.6l.4-.1h.6l.4-.1h1.6l.4 .1h.6l.4 .1h.6l.2-.2h1.8l.4 .1h.6l.4-.1h.6l.2 .2h.8l.4-.1h1.6l.2-.2h.8l.4 .1h.6l.4 .1h.6l.4-.1h.6l.4 .1h1.6l.4 .1h.3l.3-.2l.4-1l.3-.3h1l.3 .3l.4 1l.3 .2h3.3l.2-.2h.8l.4 .1h1.6l.4-.1h1.6l.2 .2h.8l.4-.1h.6l.4 .1h1.6l.4-.1h.6l.4 .1h.6l.2-.2h.8l.2 .2h1.8l.2-.2h.8l.2 .2h2.8l.4-.1h.6l.4-.1h.6l.4 .1h.6l.4 .1h.6l.2-.2h.8l.2 .2h2.8l.2-.2h.8l.4 .1h.6l.4 .1h1.6l.2-.2h.8l.4 .1h1.6l.4 .1h2.6l.4-.1h1.6l.4 .1h.6l.2-.2h.8l.4 .1h3.6l.4-.1h.6l.2 .2h.8l.4-.1h1.6l.2-.2h.8l.2 .2h.8l.4 .1h1.6l.2-.2h.8l.2 .2h.8l.4-.1h1.6l.4 .1h.6l.2-.2h.8l.2 .2h1.8l.4-.1h.6l.4 .1h.6l.2-.2h2.8l.4 .1h1.6l.4 .1h.6l.4-.1h1.6l.4 .1h1.6l.2-.2h.8l.4 .1h.6l.4 .1h2.6l.4-.1h.6l.4 .1h.6l.2-.2h.8l.2 .2h1.8l.4-.1h.6l.4 .1h1.6l.2-.2h.8l.2 .2h3.8l.4-.1h1.6l.4 .1h1.6l.2-.2h.8l.4 .1h.6l.4 .1h.6l.4-.1h.6l.4-.1h.6l.2 .2h.8l.4-.1h1.6l.4 .1h.6l.4-.1h.6l.4 .1h.6l.4-.1h1.6l.4 .1h.6l.4-.1h1.6l.4 .1h1.6l.4-.1h1.6l.4 .1h.6l.2-.2h.8l.2 .2h.8l.4-.1h.6l.4-.1h1.6l.4 .1h.6l.4 .1h2.6l.4-.1h.6l.4 .1h1.6l.2-.2h.8l.2 .2h.8l.4-.1h.6l.4-.1h.6l.2 .2h1.8l.2-.2h.8l.2 .2h.8l.2-.2h.8l.4 .1h.6l.4 .1h.6l.2-.2h.8l.2 .2h.8l.2-.2h.8l.4-.1h.6l.2 .2h1.8l.4 .1h5.6l.4-.1h1.6l.4 .1h1.6l.4-.1h.6l.2-.2h.8l.4 .1h.6l.4-.1h.6l.2 .3h.8l.2-.2h.8l.2 .2h4.8l.4-.1h.6l.4-.1h.6l.4 .1h1.6l.4 .1h.6l.4-.1h1.6l.4-.1h.6l.4 .1h.6l.4 .1h1.6l.4-.1h.6l.4 .1h.6l.2-.2h.8l.2 .2h.8l.4-.1h.6l.4 .1h1.6l.4-.1h.6l.4 .1h.6l.4-.1h2.6l.4 .1h.6l.4-.1h1.6l.4 .1h3.6l.4-.1h.6l.4 .1h.6l.4-.1h3.6l.4-.1h.6l.2 .2h.8l.4-.1h.6l.4 .1h.6l.2-.3h.8l.2 .3h1.8l.4-.1h.6l.4 .1h2.6l.4-.1h.6l.4 .1h.6l.4-.1h.6l.4 .1h.6l.2-.3h.8l.2 .3h1.8l.4-.1h.6l.4-.1h1.6l.4 .1h.6l.4-.1h.6l.4 .1h.6l.4 .1h.6l.4-.1h.6l.4 .1h.6l.4-.1h2.6l.4 .1h.6l.4-.1h.6l.4 .1h6.6l.4-.1h.6l.4 .1h1.6l.4-.1h1.6l.4-.1h.6l.4 .1h.6l.4 .1h1.6l.4-.1h.6l.4 .1h1.6l.2-.2h1.8l.2 .2h1.8l.4-.1h.6l.4 .1h.6l.4-.1h1.6l.4 .1h1.6l.4-.1h1.6l.4 .1h2.6l.2-.2h.8l.4 .1h1.6l.4 .1h1.6l.2-.2h1.8l.4 .1h.6l.4 .1h1.6l.4-.1h1.6l.4 .1h.6l.4-.1h.6l.4 .1h1.6l.2-.2h.8l.2 .2h1.8l.2-.3h.8l.2 .3h1.8l.4-.1h1.6l.4 .1h.6l.4-.1h.6l.4 .1h.6l.4-.1h.6l.4-.1h.6l.2 .2h.8l.4-.1h.6l.4-.1h.6l.4 .1h1.6l.4 .1h3.6l.4-.1h.6l.4 .1h3.6l.4-.1h1.6l.4 .1h1.6l.4-.1h1.6l.4 .1h4.6l.4-.1h.6l.4 .1h3.6l.2-.2h.8l.2 .2h2.8l.2-.2h1.8l.2 .2h2.8l.4-.1h.6l.4 .1h2.6l.2-.2h.8l.2 .2h2.8l.2-.3h.8l.2 .2h.8l.4 .1h2.6l.2-.2h.8l.2 .2h.8l.4-.1h.6l.4-.1h.6l.2 .2h2.8l.4-.1h.6l.4 .1h4.6l.2-.2h1.8l.2 .2h2.8l.2-.2h.8l.4 .1h1.6l.4 .1h3.6l.2-.2h2.8l.2 .2h.8l.4-.1h.6l.4 .1h4.6l.2-.2h1.8l.2 .2h2.8l.4-.1h.6l.2-.2h.8l.4 .1h.6l.2 .2h.8l.2-.2h.8l.2 .2h2.8l.4-.1h.6l.4 .1h.6l.4-.1h.6l.4 .1h.6l.4-.1h.6l.4 .1h.6l.2-.2h.8l.4 .1h.6l.4 .1h.6l.2-.3h.8l.2 .3h.8l.4-.1h.6l.4 .1h.6l.4-.1h.6l.4 .1h7.6l.2-.2h.8l.2 .2h.8l.4-.1h2.6l.4-.1h1.6l.2 .2h1.8l.2-.3h.8l.2 .3h.8l.4-.1h.6l.4 .1h.6l.4-.1h2.6l.4 .1h.6l.4-.1h1.6l.4 .1h.6l.4-.1h.6l.4 .1h3.6l.4-.1h5.6l.4-.1h.6l.4 .1h2.6l.4 .1h.6l.2-.2h.8l.4 .1h.6l.4 .1h2.6l.2-.3h.8l.2 .3h1.8l.2-.2h.8l.2 .2h4.8l.2-.2h1.8l.2 .2h1.8l.2-.2h.8l.2 .2h1.8l.2-.2h.8l.4 .1h.6l.4 .1h.6l.4-.1h.6l.4 .1h.6l.4-.1h.6l.4 .1h1.6l.2-.2h.8l.2 .2h1.8l.2-.2h.8l.4 .1h1.6l.4 .1h.6l.4-.1h.6l.4 .1h3.6l.2-.2h.8l.4 .1h1.6l.4-.1h.6l.4 .1h.6l.4 .1h2.6l.2-.2h.8l.2 .2h.8l.2-.2h.8l.2 .2h.5v4h-3.3l-.4 .1h-.6l-.4-.1h-.8l-.2 .2h-.6l-.4-.1h-.6l-.4-.1h-1.6l-.4 .1h-.6l-.4-.1h-.8l-.2 .2h-.8l-.2-.2h-.6l-.4 .1h-.6l-.4-.1h-7.6l-.4 .1h-2.6l-.4-.1h-.6l-.4 .1h-.6l-.4-.1h-14.8l-.2 .2h-.8l-.2-.2h-.6l-.4 .1h-.6l-.4 .1h-.8l-.2-.2h-3.8l-.2 .2h-.8l-.2-.2h-1.8l-.2 .2h-.8l-.2-.2h-1.8l-.2 .2h-.8l-.2-.2h-.8l-.2 .2h-.8l-.2-.2h-3.8l-.2 .2h-.8l-.2-.2h-.8l-.2 .2h-.8l-.2-.2h-2.8l-.2 .2h-.8l-.2-.2h-8.8l-.2 .2h-.8l-.2-.2h-3.6l-.4 .1h-1.6l-.4-.1h-.6l-.4 .1h-.6l-.4-.1h-3.6l-.4 .1h-1.6l-.4 .1h-.6l-.4-.1h-.6l-.4-.1h-5.6l-.4 .1h-.6l-.4-.1h-.6l-.4 .1h-2.6l-.4-.1h-.6l-.4 .1h-1.6l-.4-.1h-1.6l-.4 .1h-.6l-.4 .1h-.6l-.4-.1h-.6l-.4-.1h-.6l-.4 .1h-.6l-.4-.1h-1.6l-.4 .1h-.6l-.4-.1h-1.6l-.4 .1h-1.6l-.4-.1h-2.6l-.4 .1h-.6l-.4 .1h-.8l-.2-.2h-2.8l-.2 .2h-.6l-.4-.1h-.6l-.4 .1h-.8l-.2-.2h-.8l-.2 .2h-.8l-.2-.2h-3.6l-.4 .1h-1.6l-.4-.1h-.8l-.2 .2h-.8l-.2-.2h-.6l-.4 .1h-.6l-.4-.1h-.6l-.4 .1h-.6l-.4 .1h-.8l-.2-.2h-.8l-.2 .2h-.8l-.2-.2h-.6l-.4 .1h-.6l-.4-.1h-3.6l-.4 .1h-.6l-.4-.1h-4.6l-.4 .1h-.6l-.4-.1h-5.6l-.4 .1h-1.6l-.4-.1h-1.8l-.2 .2h-.8l-.2-.2h-.8l-.2 .2h-.6l-.4-.1h-1.6l-.4-.1h-3.8l-.2 .2h-.6l-.4-.1h-.6l-.4-.1h-3.6l-.4 .1h-.6l-.4-.1h-.6l-.4 .1h-.6l-.4-.1h-6.6l-.4 .1h-.6l-.4-.1h-1.8l-.2 .2h-.8l-.2-.2h-1.8l-.2 .2h-.6l-.4-.1h-.6l-.4-.1h-10.6l-.4 .1h-.6l-.4-.1h-.8l-.2 .2h-.8l-.2-.2h-5.6l-.4 .1h-1.6l-.4-.1h-1.6l-.4 .1h-.6l-.4-.1h-2.6l-.4 .1h-.6l-.4-.1h-4.6l-.4 .1h-.6l-.4-.1h-2.6l-.4 .1h-.6l-.4-.1h-2.8l-.2 .2h-.8l-.2-.2h-4.6l-.4 .1h-.6l-.4 .1h-.8l-.2-.2h-.6l-.4 .1h-1.6l-.4-.1h-2.8l-.2 .2h-.8l-.2-.2h-2.6l-.4 .1h-.6l-.4-.1h-.6l-.4 .1h-1.6l-.4-.1h-.6l-.4 .1h-.6l-.4-.1h-2.8l-.2 .2h-.8l-.2-.2h-.6l-.4 .1h-.6l-.4-.1h-.6l-.4 .1h-1.6l-.4-.1h-1.8l-.2 .2h-.8l-.2-.2h-1.6l-.4 .1h-2.6l-.4-.1h-1.8l-.2 .2h-.8l-.2-.2h-4.6l-.4 .1h-.6l-.4-.1h-1.8l-.2 .2h-2.6l-.4-.1h-.6l-.4-.1h-.6l-.4 .1h-.6l-.4-.1h-2.6l-.4 .1h-.6l-.4-.1h-3.6l-.4 .1h-.6l-.4-.1h-1.6l-.4 .1h-1.6l-.4-.1h-2.8l-.2 .2h-.6l-.4-.1h-.6l-.4-.1h-1.6l-.4 .1h-.6l-.4 .1h-.8l-.2-.2h-7.6l-.4 .1h-.6l-.4-.1h-1.6l-.4 .1h-.6l-.4-.1h-1.6l-.4 .1h-.6l-.4-.1h-5.6l-.4 .1h-.6l-.4-.1h-5.8l-.2 .2h-.8l-.2-.2h-4.6l-.4 .1h-.6l-.4 .1h-.8l-.2-.2h-.6l-.4 .1h-.6l-.4-.1h-5.6l-.4 .1h-.6l-.4 .1h-.6l-.4-.1h-1.6l-.4-.1h-.8l-.2 .2h-.8l-.2-.2h-3.6l-.4 .1h-.6l-.4-.1h-2.6l-.4 .1h-2.6l-.4-.1h-.8l-.2 .2h-.8l-.2-.2h-.6l-.4 .1h-.6l-.4 .1h-2.6l-.4-.1h-.6l-.4-.1h-5.6l-.4 .1h-.6l-.4-.1h-2.6l-.4 .1h-.6l-.4-.1h-2.6l-.4 .1h-1.6l-.4-.1h-1.6l-.4 .1h-.6l-.4 .1h-.8l-.2-.2h-.8l-.2 .2h-.8l-.2-.2h-2.8l-.2 .2h-.6l-.4-.1h-.6l-.4-.1h-4.8l-.2 .2h-.8l-.2-.2h-1.8l-.2 .2h-.6l-.4-.1h-.6l-.4-.1h-1.6l-.4 .1h-1.6l-.4-.1h-1.6l-.4 .1h-.6l-.4-.1h-2.6l-.4 .1h-.6l-.4-.1h-1.8l-.2 .2h-.8l-.2-.2h-.6l-.4 .1h-1.6l-.4-.1h-.8l-.2 .2h-.6l-.4-.1h-.6l-.4-.1h-9.6l-.4 .1h-.6l-.4-.1h-.8l-.2 .2h-.8l-.2-.2h-3.8l-.2 .2h-.8l-.2-.2h-3.8l-.2 .2h-.6l-.4-.1h-.6l-.4-.1h-4.6l-.4 .1h-.6l-.4-.1h-10.8l-.2 .2h-.6l-.4-.1h-.6l-.4-.1h-1.6l-.4 .1h-2.6l-.4-.1h-.8l-.2 .2h-.8l-.2-.2h-.6l-.4 .1h-.6l-.4-.1h-1l-.6 .1l-.2 .5l-.5 .9h-1l-.3-.4l-.4-1l-.6-.1l-.4 .1h-2.6l-.4-.1h-2.6l-.4 .1h-.6l-.4-.1h-1.6l-.4 .1h-1.6l-.4-.1h-2.6l-.4 .1h-.6l-.4-.1h-4.8l-.2 .2h-.8l-.2-.2h-4.8l-.2 .2h-.6l-.4-.1h-.6l-.4-.1h-.6l-.4 .1h-1.6l-.4-.1h-.6l-.4 .1h-.6l-.4-.1h-3.6l-.4 .1h-.6l-.4 .1h-.8l-.2-.2h-.6l-.4 .1h-.6l-.4-.1h-4.6l-.4 .1h-.6l-.4-.1h-2.8l-.2 .2h-.8l-.2-.2h-4.8l-.2 .2h-.8l-.2-.2h-2.8l-.2 .2h-.8l-.2-.2h-.6l-.4 .1h-.6l-.4-.1h-2.8l-.2 .2h-.8l-.2-.2h-.6l-.4 .1h-2.6l-.4 .1h-.6l-.4-.1h-1.6l-.4-.1h-.6l-.4 .1h-.6l-.4-.1h-.6l-.4 .1h-.6l-.4-.1h-5.6l-.4 .1h-.6l-.4-.1h-1.6l-.4 .1h-.6l-.4 .1h-.8l-.2-.2h-2.8l-.2 .2h-1.6l-.4-.1h-.6l-.4-.1h-4.8l-.2 .2h-.6l-.4-.1h-.6l-.4-.1h-9.6l-.4 .1h-.6l-.4-.1h-2.6l-.4 .1h-.6l-.4-.1h-1.8l-.2 .2h-.6l-.4-.1h-.6l-.4-.1h-1.6l-.4 .1h-1.6l-.4-.1h-.8l-.2 .2h-.8l-.2-.2h-3.6l-.4 .1h-.6l-.4-.1h-2.6l-.4 .1h-1.6l-.4-.1h-.6l-.4 .1h-.6l-.4-.1h-1.6l-.4 .1h-.6l-.4 .1h-.6l-.4-.1h-.6l-.4 .1h-.6l-.4-.1h-.6l-.4-.1h-.8l-.2 .2h-.8l-.2-.2h-6.6l-.4 .1h-1.6l-.4-.1h-2.6l-.4 .1h-.6l-.4-.1h-3.8l-.2 .2h-.3l-.3 .3l-.2 .1h-.8l-.2-.4h-1l-.2-.2h-9.6l-.4 .1h-.6l-.4 .1h-1.8l-.2-.2h-2.6l-.4 .1h-1.6l-.4-.1h-1.8l-.2 .2h-.8l-.2-.2h-.8l-.2 .2h-.8l-.2-.2h-8.8l-.2 .2h-.8l-.2-.2h-3.8l-.2 .2h-.8l-.2-.2h-.6l-.4 .1h-.6l-.4-.1h-7.8l-.2 .2h-.8l-.2-.2h-1.6l-.4 .1h-.6l-.4-.1h-1.6l-.4 .1h-1.6l-.4-.1h-3.8l-.2 .2h-.8l-.2-.2h-4.6l-.4 .1h-2.6l-.4-.1h-1.6l-.4 .1h-.6l-.4-.1h-.6l-.4 .1h-.6l-.4-.1h-.6l-.4 .1h-2.6l-.4-.1h-3.6l-.4 .1h-.6l-.4-.1h-.6l-.4 .1h-1.6l-.4-.1h-.6l-.4 .1h-.6l-.4-.1h-2.6l-.4 .1h-.6l-.4-.1h-4.6l-.4 .1h-1.6l-.4 .1h-.8l-.2-.2h-.8l-.2 .2h-.6l-.4-.1h-.6l-.4-.1h-.8l-.2 .2h-.8l-.2-.2h-.8l-.2 .2h-.8l-.2-.2h-5.6l-.4 .1h-.6l-.4-.1h-.6l-.4 .1h-.6l-.4-.1h-3.8l-.2 .2h-.6l-.4-.1h-.6l-.4-.1h-5.8l-.2 .2h-.8l-.2-.2h-6.6l-.4 .1h-1.6l-.4 .1h-.6l-.4-.1h-.6l-.4-.1h-2.8l-.2 .2h-.8l-.2-.2h-6.6l-.4 .1h-1.6l-.4-.1h-1.6l-.4 .1h-.6l-.4-.1h-.6l-.4 .1h-3.6l-.4-.1h-.6l-.4 .1h-.6l-.4-.1h-4.6l-.4 .1h-.6l-.4-.1h-2.8l-.2 .2h-.8l-.2-.2h-6.6l-.4 .1h-.6l-.4-.1h-.6l-.4 .1h-.6l-.4-.1h-2.8l-.2 .2h-.8l-.2-.2h-2.8l-.2 .2h-.6l-.4-.1h-.6l-.4-.1h-.8z"/>
<path fill="#ff0000" d="M138 354.7h.8l.4 .1h1.6l.4-.1h.6l.2-.4h.8l.2 .4h.8l.4-.1h.6l.2 .2h.8l.2-.3h.8l.2 .3h4.8l.2-.2h.8l.4 .1h1.6l.4 .1h2.6l.4-.1h.6l.4 .1h1.6l.2-.4h.8l.2 .4h1.8l.2-.5h.8l.2 .2h.8l.2 .3h.8l.2-.4h.8l.2 .3h.8l.4 .1h.6l.2-.2h.8l.2 .2h.8l.2-.4h.8l.4-.1h.6l.2 .5h.8l.2-.3h.8l.2 .3h.8l.2-.4h.8l.2 .4h3.8l.2-.2h1.8l.2 .2h.8l.2-.2h.8l.2 .2h5.8l.4-.1h.6l.2-.4h.8l.4 .1h.6l.2 .2h.8l.4-.1h.6l.2 .3h1.8l.4-.1h.6l.4 .1h7.6l.2-.4h.8l.2 .2h.8l.2 .2h1.8l.2-.3h.8l.4 .1h.6l.2-.3h.8l.2 .5h.8l.4-.1h.6l.2-.2h.8l.2 .3h4.8l.4-.1h.6l.4 .1h.6l.2-.2h.8l.2 .2h4.8l.2-.5h1.8l.2 .2h.8l.2 .3h.8l.4-.1h.6l.2-.2h.8l.2 .3h1.8l.4-.1h1.6l.4 .1h1.6l.2-.5h.8l.2 .5h.8l.2-.3h.8l.2 .2h.8l.2-.4h.8l.2 .4h.8l.4 .1h.6l.2-.5h.8l.2 .4h1.8l.2-.2h.8l.2 .3h.8l.4-.1h.6l.2-.2h.8l.2 .3h1.8l.2-.2h.8l.4-.1h.6l.4 .1h.6l.4 .1h.6l.4 .1h.6l.2-.3h.8l.2-.2h.8l.4 .1h.6l.2 .3h.8l.4 .1h1.6l.2-.4h.8l.2 .2h.8l.2 .2h.8l.2-.5h.8l.2 .4h.8l.4-.1h.6l.2 .2h.8l.4-.1h.6l.2-.2h.8l.2 .3h1.8l.2-.4h.8l.2 .3h.8l.4-.1h1.6l.4 .1h.6l.4 .1h.6l.2-.2h.8l.2 .2h.8l.2-.2h.8l.2 .2h.8l.2-.2h1.8l.4-.1h.6l.2 .2h.8l.2-.2h.8l.2 .3h1.8l.2-.4h.8l.2 .4h6.8l.2-.4h.8l.2 .4h2.8l.4-.1h.6l.4 .1h.6l.4-.1h.6l.4 .1h.6l.2-.2h.8l.2 .2h1.8l.2-.3h.8l.2 .3h.8l.4-.1h.6l.4-.1h.6l.2 .2h.8l.2-.5h1.8l.2 .5h.8l.2-.5h.8l.4 .1h.6l.2 .4h.8l.2-.2h.8l.2 .2h1.8l.4-.1h.6l.4 .1h.6l.2-.3h.8l.2-.2h.8l.2 .5h.8l.2-.5h.8l.4 .1h.6l.2 .4h1.8l.4-.1h.6l.4 .1h1.6l.4-.1h.6l.4 .1h.6l.4-.1h.6l.4 .1h.6l.2-.5h.8l.2 .5h2.8l.4-.1h.6l.4 .1h.6l.2-.2h1.8l.2 .2h4.8l.4-.1h.6l.4 .1h.6l.2-.3h.8l.2 .2h.8l.4 .1h2.6l.4-.1h.6l.2-.3h.8l.2 .3h.8l.2-.3h.8l.2 .2h.8l.4 .1h.6l.2-.2h.8l.4 .1h.6l.2 .2h.8l.4-.1h.6l.4-.1h1.6l.2 .2h10.8l.2-.3h.8l.4-.1h.6l.2 .3h1.8l.4 .1h.6l.2-.5h.8l.4 .1h.6l.2 .3h.8l.4 .1h.6l.2-.3h.8l.2-.2h.8l.2 .4h.8l.4 .1h3.6l.4-.1h2.6l.4 .1h.6l.2-.2h.8l.2 .2h3.8l.4-.1h.6l.2-.2h.8l.2 .2h.8l.4 .1h1.6l.2-.2h.8l.2 .2h1.8l.2-.5h.8l.2 .4h.8l.4 .1h.6l.2-.4h.8l.2 .4h3.8l.4-.1h.6l.2-.3h.8l.2 .4h.8l.2-.4h.8l.2 .4h1.8l.4-.1h.6l.2-.2h.8l.4 .1h.6l.2 .2h2.8l.2-.4h.8l.2 .4h3.8l.2-.5h.8l.2 .5h.8l.2-.4h1.8l.2 .3h.8l.4-.1h.6l.2 .2h4.8l.2-.3h.8l.2 .3h1.8l.2-.3h.8l.2 .3h1.8l.2-.4h.8l.2 .3h.8l.4-.1h.6l.2-.2h.8l.2 .4h1.8l.2-.4h.8l.2 .4h.8l.4-.1h1.6l.4 .1h2.6l.4-.1h1.6l.4 .1h.6l.2-.3h.8l.2 .3h.8l.4-.1h.6l.4 .1h2.6l.4-.1h.6l.4 .1h.6l.2-.4h.8l.2 .4h.8l.4-.1h.6l.2-.4h.8l.2 .5h.8l.2-.4h.8l.4-.1h.6l.2 .5h.8l.4-.1h.6l.4 .1h1.6l.2-.3h1.8l.2 .3h.8l.4-.1h.6l.2-.4h.8l.2 .5h1.8l.4-.1h.6l.4 .1h1.6l.2-.2h.8l.2-.3h.8l.2 .5h2.8l.4-.1h.6l.2-.3h.8l.4-.1h.6l.2 .4h2.8l.4 .1h.6l.4-.1h.6l.4-.1h.6l.2 .2h.8l.4-.1h.6l.4 .1h.6l.2-.4h.8l.2 .4h.8l.4-.1h.6l.4 .1h.6l.2-.2h.8l.2 .2h1.8l.4-.1h.6l.4 .1h2.6l.4-.1h1.6l.2-.2h.8l.2 .2h.8l.2-.3h.8l.4 .1h.6l.2 .3h2.8l.2-.3h.8l.2 .3h1.8l.4-.1h.6l.4 .1h.6l.2-.4h.8l.2 .4h4.8l.4-.1h.6l.4 .1h6.6l.2-.2h.8l.2-.3h.8l.2 .5h.8l.2-.2h.8l.2 .2h4.8l.4-.1h.6l.4-.1h.6l.2-.2h1.8l.2 .4h.8l.2-.3h.8l.2 .2h.8l.4-.1h1.6l.2 .2h.8l.2-.4h.8l.2 .4h2.8l.4-.1h2.6l.2-.4h.8l.2 .4h.8l.4-.1h1.6l.4 .1h1.6l.2-.3h.8l.2 .4h.8l.2-.2h.8l.2 .2h.8l.4-.1h.6l.2-.4h.8l.2 .5h.8l.2-.3h.8l.2 .3h2.8l.2-.4h.8l.4-.1h.6l.2 .3h.8l.2 .2h.8l.2-.4h.8l.2 .4h.8l.4-.1h.6l.2-.3h.8l.2 .4h.8l.2-.2h.8l.2 .2h.8l.2-.3h.8l.2 .3h1.8l.4-.1h1.6l.4 .1h1.6l.2-.5h.8l.2 .5h.8l.2-.2h.8l.2 .2h.8l.2-.5h1.8l.2 .3h.8l.4 .1h.6l.4 .1h1.6l.4-.1h.6l.2-.2h.8l.4 .1h.6l.2 .2h3.8l.4-.1h.6l.4-.1h.6l.2 .2h.8l.2-.3h.8l.2 .3h.8l.4-.1h1.6l.2-.2h.8l.2-.2h.8l.2 .4h.8l.4 .1h.6l.2-.2h1.8l.2 .2h.8l.2-.4h.8l.2 .4h2.8l.4-.1h.6l.2-.4h.8l.2 .5h1.8l.2-.3h.8l.2-.2h.8l.2 .5h.8l.2-.2h.8l.4 .1h1.6l.4 .1h1.6l.2-.3h.8l.2 .3h.8l.2-.2h.8l.2 .2h.8l.4-.1h.6l.2-.4h.8l.2 .3h1.8l.2 .2h.8l.4-.1h.6l.4 .1h1.6l.2-.3h.8l.2 .2h.8l.4-.1h.6l.4 .1h1.6l.4-.1h.6l.2 .2h.8l.2-.3h.8l.2 .2h.8l.4 .1h.6l.2-.2h.8l.4-.1h.6l.2 .3h1.8l.4-.1h.6l.4 .1h.6l.2-.2h.8l.4-.1h.6l.2 .3h2.8l.2-.2h.8l.4 .1h1.6l.4-.1h.6l.2-.3h.8l.2 .4h.8l.4 .1h.6l.2-.2h.8l.2 .2h1.8l.2-.2h.8l.2 .2h.8l.2-.3h.8l.2 .3h4.8l.4-.1h.6l.4 .1h.6l.2-.2h.8l.2 .2h1.8l.2-.3h.8l.2 .3h.8l.2-.5h.8l.2 .4h.8l.4-.1h.6l.2-.3h.8l.2 .5h.8l.2-.2h.8l.2 .2h.8l.2-.2h.8l.2 .2h1.8l.2-.3h.8l.4 .1h.6l.2 .2h2.8l.2-.3h.8l.2 .3h2.8l.4-.1h.6l.4-.1h.6l.2-.2h.8l.4-.1h.6l.2 .5h4.8l.2-.3h.8l.2 .3h.8l.2-.2h.8l.2 .2h2.8l.4-.1h.6l.4 .1h.6l.2-.3h.8l.2 .3h.8l.2-.2h.8l.2 .2h.8l.2-.2h.8l.4 .1h.6l.2-.4h.8l.2 .4h.8l.4 .1h.6l.4-.1h.6l.4 .1h.6l.4-.1h.6l.4 .1h.6l.2-.5h.8l.2 .2h.8l.2 .3h1.8l.4-.1h1.6l.4 .1h.6l.2-.3h.8l.2 .3h.8l.4-.1h.6l.4 .1h.6l.2-.5h.8l.2 .3h.8l.2-.2h.8l.4 .1h.6l.2 .3h3.8l.2-.3h2.8l.2 .3h.8l.2-.5h.8l.2 .2h.8l.2 .3h1.8l.4-.1h.6l.4 .1h1.6l.2-.2h1.8l.2 .2h1.8l.2-.4h.8l.2 .4h1.8l.2-.2h.8l.2-.3h.8l.2 .4h.8l.4 .1h2.6l.2-.5h.8l.2 .5h.8l.2-.3h.8l.4-.1h.6l.2 .4h.8l.2-.2h.8l.4 .1h1.6l.4 .1h.6l.2-.2h1.8l.2 .2h4.8l.4-.1h2.6l.4 .1h.6l.4-.1h.6l.4 .1h3.6l.2-.2h.8l.2 .2h.8l.2-.2h.8l.4-.1h.6l.2 .3h3.8l.2-.4h1.8l.2 .2h.8l.4 .1h.6l.2-.3h.8l.2 .4h1.8l.2-.5h.8l.2 .3h.8l.2-.3h.8l.2 .3h.8l.2 .2h.8l.4-.1h.6l.4 .1h1.6l.2-.2h.8l.4-.1h2.6l.2 .3h1.8l.4-.1h.6l.4 .1h.6l.4-.1h.6l.4 .1h2.6l.4-.1h.6l.4 .1h2.6l.2-.3h.8l.2 .3h.8l.4-.1h1.6l.4 .1h1.6l.2-.3h.8l.4-.1h.6l.2 .4h.8l.2-.4h.8l.2 .4h.8l.4-.1h.6l.4 .1h.6l.4-.1h.6l.4-.1h.6l.2 .2h1.8l.2-.2h.8l.2 .2h1.8l.4-.1l.6-.5l.2-.4l.2-.2h1l.3 .1l.7 1l.6 .1l.2-.4h.8l.2 .4h2.8l.4-.5l.6-.6h1.4l.6 .6l.4 .1h.6l.4 .1h.6l.2-.2h.8l.2 .2h.8l.2 .3h.8l.4-.1h.6l.4 .1h.6l.4-.1h1.6l.4 .1h.6l.4-.1h.8l.8-.5l.2 .3l1-.4l.8-2.4l.2-.9l.5-.1h.5l.2 .3l.8 2.4l.2 .6l.6 .2l.4 .1l.6 .3l.4-.1h.6l.2-.2h.8l.2 .5h.8l.2-.5h.8l.2 .5h.8l.4-.1h.6l.2-.4h.8l.2 .5h2.8l.4-.1h.6l.2-.4h.8l.4 .1h.6l.2 .2h.8l.4 .1h.6l.2-.2h.8l.2 .3h.8l.4-.1h1.6l.4 .1h3.6l.4-.1h.6l.4 .1h2.6l.2-.5h.8l.2 .5h3.8l.2-.2h.8l.2 .2h2.8l.2-.3h.8l.2 .3h.8l.4-.1h.6l.4 .1h.6l.2-.4h.8l.2 .4h.8l.4-.1h.6l.4-.1h.6l.4-.1h.6l.4 .1h.6l.2 .2h.8l.2-.3h.8l.2 .2h.8l.2-.2h.8l.4-.1h.6l.2 .3h.8l.4 .1h.6l.2-.5h.8l.2 .5h.8l.4-.1h.6l.4 .1h1.6l.2-.3h.8l.2-.2h.8l.2 .5h4.8l.2-.4h.8l.2 .4h1.8l.4-.1h.6l.4 .1h.6l.2-.4h.8l.4 .1h.6l.4 .1h.6l.2 .2h.8l.4-.1h1.3v4h-.5l-.2 .2h-.8l-.2-.3h-.6l-.4-.1h-.6l-.4 .1h-.8l-.2-.2h-.8l-.2 .4h-.8l-.2-.2h-.8l-.2-.2h-.8l-.2 .3h-.8l-.2-.3h-2.6l-.4 .1h-.6l-.4-.1h-.8l-.2 .2h-.6l-.4-.1h-.6l-.4 .1h-.8l-.2 .2h-.8l-.2-.4h-.8l-.2 .2h-.6l-.4-.1h-.6l-.4-.1h-.8l-.2 .4h-.8l-.2-.3h-.6l-.4 .1h-.6l-.4-.1h-1.6l-.4-.1h-1.8l-.2 .3h-.8l-.2-.3h-.8l-.2 .3h-.8l-.2-.3h-1.8l-.2 .4h-.8l-.2-.3h-.6l-.4 .1h-.8l-.2 .2h-.8l-.2-.3h-.6l-.4-.1h-.8l-.2 .2h-.8l-.2-.2h-.8l-.2 .2h-1.6l-.4 .1h-.8l-.2-.3h-.8l-.2 .3h-.8l-.2-.2h-.6l-.4-.1h-.6l-.4 .1h-1.6l-.4-.1h-.8l-.2 .3h-.8l-.2 .2h-.8l-.2-.2h-.8l-.2-.2h-.6l-.4 .1h-.6l-.4-.1h-.6l-.4-.1h-.8l-.2 .3h-.8l-.2-.2h-.8l-.2 .3h-.8l-.2-.4h-.6l-.4 .1h-1.6l-.4-.1h-1.8l-.2 .4h-.8l-.2-.2h-.8l-.2-.2h-4.6l-.4 .1h-1.3l-.3 .2l-.4 .2l-.6 .3l-1 3.6l-.2 .3h-.5l-.5-.1l-.5-1.8l-.5-1.7l-.2-.4l-.8-.3l-.2 .1l-.3-.2l-.5-.2h-1l-.2 .5h-.8l-.2-.5h-.8l-.2 .3h-.8l-.2-.4h-1.6l-.4 .1h-.6l-.4 .1h-.8l-.2-.2h-.8l-.2 .4h-.8l-.2-.3h-.3l-.5 .1l-.5 .7l-.3 .2h-1.4l-.3-.2l-.5-.7l-.2 .1h-.8l-.2-.3h-2.8l-.2 .4h-.6l-.2 .2l-.5 .8h-1.3l-.2-.2l-.8-1.1l-.2-.1h-1l-.2 .3h-.8l-.2-.2h-.6l-.4 .1h-.8l-.2-.2h-.8l-.2 .4h-.8l-.2-.4h-.8l-.2 .2h-.8l-.2-.2h-.8l-.2 .2h-.8l-.2-.2h-1.8l-.2 .4h-.8l-.2-.4h-.8l-.2 .2h-.8l-.2-.2h-.8l-.2 .4h-.8l-.2-.4h-.8l-.2 .3h-.8l-.2 .2h-.8l-.2-.4h-.6l-.4-.1h-.8l-.2 .2h-.8l-.2-.2h-.6l-.4 .1h-.6l-.4-.1h-.8l-.2 .6h-.6l-.4-.1h-.8l-.2-.5h-1.6l-.4 .1h-1.6l-.4-.1h-6.8l-.2 .2h-.6l-.4-.1h-1.6l-.4-.1h-1.6l-.4 .1h-1.6l-.4 .1h-.6l-.4-.1h-.8l-.2 .4h-.8l-.2-.4h-.8l-.2 .2h-.8l-.2-.3h-1.8l-.2 .5h-.8l-.2-.5h-1.8l-.2 .4h-.8l-.2-.3h-.8l-.2 .2h-1.6l-.4 .1h-.8l-.2-.4h-1.8l-.2 .3h-.8l-.2 .2h-.8l-.2-.4h-.6l-.4-.1h-1.8l-.2 .3h-.6l-.4 .1h-.8l-.2-.4h-2.8l-.2 .4h-.8l-.2-.3h-.8l-.2 .3h-.6l-.4-.1h-1.8l-.2-.3h-1.8l-.2 .6h-.8l-.2-.2h-1.8l-.2-.4h-.8l-.2 .4h-.8l-.2-.4h-2.6l-.4 .1h-.6l-.4-.1h-.6l-.4 .1h-.8l-.2 .3h-.8l-.2-.4h-.8l-.2 .3h-1.8l-.2-.2h-.6l-.4 .1h-.6l-.4-.1h-.6l-.4-.1h-.6l-.4 .1h-.6l-.4-.1h-2.8l-.2 .4h-.6l-.4-.1h-.6l-.4 .1h-.8l-.2-.4h-.8l-.2 .3h-.8l-.2-.3h-1.6l-.4 .1h-.6l-.4-.1h-.6l-.4 .1h-.6l-.4-.1h-1.8l-.2 .5h-.8l-.2-.5h-1.6l-.4 .1h-.8l-.2 .5h-.8l-.2-.4h-1.8l-.2 .2h-.6l-.4-.1h-.6l-.4 .1h-.8l-.2-.4h-1.8l-.2 .2h-.6l-.4-.1h-.8l-.2 .2h-1.8l-.2 .2h-.8l-.2-.5h-.6l-.4 .1h-.6l-.4-.1h-2.6l-.4 .1h-1.8l-.2 .2h-.8l-.2-.3h-1.8l-.2 .3h-.8l-.2-.3h-.8l-.2 .2h-.6l-.4-.1h-.8l-.2 .4h-.8l-.2-.2h-.8l-.2-.3h-1.6l-.4 .1h-.6l-.4 .1h-1.8l-.2 .3h-.8l-.2-.5h-1.8l-.2 .5h-.8l-.2-.4h-.6l-.4 .1h-.8l-.2-.2h-.6l-.4 .1h-.6l-.4-.1h-.8l-.2 .5h-.8l-.2-.4h-.6l-.4-.1h-.6l-.4 .1h-.6l-.4 .1h-.8l-.2-.2h-.6l-.4 .1h-.6l-.4 .1h-.6l-.4 .1h-.8l-.2-.3h-.6l-.4 .1h-2.6l-.4-.1h-.8l-.2 .3h-1.8l-.2-.3h-.6l-.4 .1h-.6l-.4-.1h-.8l-.2 .4h-.8l-.2-.4h-.8l-.2 .3h-.8l-.2-.3h-1.6l-.4 .1h-1.6l-.4 .1h-.8l-.2 .2h-.6l-.4-.1h-.6l-.4-.1h-.6l-.4 .1h-.8l-.2 .3h-.6l-.4-.1h-.8l-.2-.5h-1.8l-.2 .5h-.8l-.2-.4h-1.8l-.2 .4h-.8l-.2-.3h-.6l-.4 .1h-.8l-.2-.2h-.8l-.2 .2h-.8l-.2-.3h-1.8l-.2 .4h-.8l-.2-.4h-3.8l-.2 .5h-.6l-.4-.1h-.8l-.2-.4h-.6l-.4 .1h-.8l-.2 .4h-.6l-.4-.1h-1.8l-.2-.3h-.6l-.4-.1h-.8l-.2 .2h-.8l-.2 .3h-.8l-.2-.5h-1.8l-.2 .3h-.8l-.2-.2h-.6l-.4 .1h-.6l-.4-.1h-1.8l-.2 .3h-.8l-.2-.3h-.6l-.4-.1h-3.8l-.2 .3h-.6l-.4-.1h-.6l-.4-.1h-.8l-.2 .2h-.6l-.4-.1h-.6l-.4-.1h-1.6l-.4 .1h-.8l-.2 .3h-.8l-.2-.4h-.6l-.4-.1h-2.8l-.2 .2h-.8l-.2-.2h-2.8l-.2 .5h-.6l-.4-.1h-.8l-.2-.2h-.6l-.4-.1h-2.6l-.4-.1h-.8l-.2 .2h-1.8l-.2 .4h-.8l-.2-.6h-.6l-.4 .1h-.6l-.4 .1h-1.8l-.2-.2h-.8l-.2 .2h-.6l-.4 .1h-.6l-.4-.1h-.8l-.2-.2h-1.6l-.4 .1h-.6l-.4 .1h-.8l-.2 .4h-.8l-.2-.2h-.8l-.2 .2h-.8l-.2-.6h-1.8l-.2 .4h-.6l-.4 .1h-.8l-.2-.5h-.8l-.2 .3h-.8l-.2-.3h-1.6l-.4 .1h-.8l-.2 .2h-.8l-.2-.2h-.6l-.4-.1h-.6l-.4 .1h-.6l-.4 .1h-.8l-.2-.2h-1.6l-.4 .1h-.6l-.4-.1h-1.8l-.2 .2h-.8l-.2-.2h-1.8l-.2 .3h-.6l-.4-.1h-.8l-.2 .4h-.8l-.2-.2h-.8l-.2-.3h-.6l-.4 .1h-.8l-.2-.2h-.8l-.2 .4h-.8l-.2-.4h-.8l-.2 .5h-.8l-.2-.5h-.8l-.2 .5h-.8l-.2-.4h-.6l-.4-.1h-1.8l-.2 .2h-.8l-.2 .2h-.8l-.2-.4h-1.8l-.2 .4h-.6l-.4-.1h-.6l-.4 .1h-.8l-.2-.3h-.8l-.2 .4h-.8l-.2-.5h-.8l-.2 .2h-.8l-.2 .2h-.8l-.2-.2h-.8l-.2-.2h-.8l-.2 .2h-.6l-.4 .1h-.6l-.4 .1h-.8l-.2-.4h-.8l-.2 .2h-.6l-.4-.1h-.6l-.4-.1h-.8l-.2 .3h-.8l-.2 .3h-.8l-.2-.5h-.8l-.2 .4h-.8l-.2-.2h-.6l-.4-.1h-2.6l-.4-.1h-.6l-.4-.1h-2.8l-.2 .5h-.8l-.2-.5h-.8l-.2 .2h-1.6l-.4-.1h-1.6l-.4-.1h-1.6l-.4 .1h-.6l-.4 .1h-.8l-.2-.2h-1.8l-.2 .2h-.8l-.2-.2h-.6l-.4 .1h-.8l-.2 .2h-.8l-.2-.3h-3.6l-.4 .1h-.6l-.4 .1h-.8l-.2-.2h-.8l-.2 .2h-.8l-.2 .2h-.8l-.2-.4h-.8l-.2 .3h-.8l-.2-.2h-.6l-.4-.1h-.8l-.2 .5h-.8l-.2-.4h-1.8l-.2 .3h-.8l-.2-.2h-.6l-.4-.1h-.6l-.4-.1h-1.8l-.2 .2h-.8l-.2 .2h-.8l-.2-.4h-.8l-.2 .5h-.8l-.2-.4h-.6l-.4-.1h-.8l-.2 .2h-.8l-.2-.2h-.8l-.2 .3h-1.8l-.2-.2h-.8l-.2 .5h-.8l-.2-.5h-.6l-.4-.1h-.8l-.2 .5h-.6l-.4-.1h-.6l-.4-.1h-.8l-.2-.2h-.6l-.4-.1h-2.8l-.2 .5h-.6l-.4-.1h-.8l-.2-.2h-1.8l-.2-.2h-.8l-.2 .2h-.8l-.2-.2h-1.8l-.2 .4h-.8l-.2-.4h-.8l-.2 .2h-.8l-.2-.2h-.8l-.2 .5h-.8l-.2-.5h-.8l-.2 .5h-1.8l-.2-.5h-2.8l-.2 .2h-.8l-.2 .3h-.8l-.2-.5h-3.6l-.4 .1h-.8l-.2 .3h-.6l-.4-.1h-.6l-.4-.1h-.6l-.4 .1h-.8l-.2-.2h-.8l-.2 .4h-.8l-.2-.5h-.8l-.2 .5h-.8l-.2-.3h-.8l-.2-.2h-.6l-.4 .1h-2.6l-.4-.1h-.8l-.2 .5h-.8l-.2-.3h-.6l-.4 .1h-.8l-.2-.3h-1.8l-.2 .6h-.8l-.2-.5h-.6l-.4-.1h-.6l-.4 .1h-.8l-.2 .3h-.8l-.2-.3h-.6l-.4-.1h-.6l-.4 .1h-.8l-.2 .4h-1.8l-.2-.5h-2.8l-.2 .2h-.8l-.2 .3h-.8l-.2-.5h-.8l-.2 .3h-.8l-.2-.3h-.6l-.4 .1h-.8l-.2 .3h-.8l-.2-.3h-.6l-.4-.1h-.8l-.2 .2h-1.6l-.4-.1h-.6l-.4-.1h-3.6l-.4 .1h-.6l-.4 .1h-.6l-.4 .1h-.6l-.4-.1h-.8l-.2-.2h-1.8l-.2 .4h-.8l-.2-.4h-.8l-.2 .3h-.8l-.2-.2h-.8l-.2 .2h-.8l-.2-.3h-.6l-.4 .1h-.6l-.4-.1h-4.6l-.4 .1h-1.8l-.2 .4h-.8l-.2-.2h-.8l-.2-.3h-.8l-.2 .4h-.8l-.2-.2h-.8l-.2-.2h-.8l-.2 .2h-.6l-.4-.1h-.8l-.2 .3h-.8l-.2-.3h-1.8l-.2 .2h-.8l-.2-.2h-.8l-.2 .2h-.8l-.2 .2h-.8l-.2-.4h-.6l-.4-.1h-.6l-.4 .1h-.8l-.2 .3h-.8l-.2-.4h-1.8l-.2 .4h-1.8l-.2-.4h-.8l-.2 .5h-.8l-.2-.5h-.8l-.2 .2h-.8l-.2 .3h-.8l-.2-.4h-.8l-.2 .4h-.8l-.2-.2h-.8l-.2-.3h-1.8l-.2 .2h-1.8l-.2-.2h-2.6l-.4 .1h-.6l-.4-.1h-.8l-.2 .2h-.6l-.4-.1h-.6l-.4-.1h-1.8l-.2 .5h-.8l-.2-.4h-.6l-.4-.1h-.8l-.2 .3h-.8l-.2-.3h-.8l-.2 .4h-.8l-.2-.4h-.6l-.4 .1h-.6l-.4-.1h-.8l-.2 .4h-1.8l-.2-.4h-.6l-.4 .1h-1.8l-.2 .4h-.8l-.2-.5h-.8l-.2 .2h-1.8l-.2-.2h-1.8l-.2 .5h-.8l-.2-.5h-.8l-.2 .5h-1.8l-.2-.4h-.6l-.4 .1h-.8l-.2-.2h-1.8l-.2 .4h-.6l-.4 .1h-.8l-.2-.5h-.6l-.4 .1h-.6l-.4-.1h-1.8l-.2 .4h-.8l-.2-.3h-.6l-.4-.1h-.8l-.2 .2h-.6l-.4 .1h-.8l-.2-.3h-1.6l-.4 .1h-1.8l-.2 .4h-.6l-.4-.1h-.6l-.4 .1h-.8l-.2-.5h-.8l-.2 .2h-.8l-.2-.2h-.6l-.4 .1h-.6l-.4-.1h-2.6l-.4 .1h-1.8l-.2 .2h-.8l-.2-.3h-.6l-.4 .1h-3.8l-.2 .4h-.8l-.2-.5h-1.8l-.2 .4h-.8l-.2 .2h-.8l-.2-.4h-.8l-.2-.2h-2.8l-.2 .4h-.8l-.2 .2h-.8l-.2-.6h-.6l-.4 .1h-.6l-.4-.1h-.8l-.2 .2h-.6l-.4-.1h-3.6l-.4-.1h-.8l-.2 .4h-.8l-.2-.4h-.8l-.2 .2h-1.6l-.4-.1h-.8l-.2 .2h-.8l-.2-.3h-.6l-.4 .1h-.6l-.4-.1h-.8l-.2 .3h-.8l-.2-.3h-.8l-.2 .5h-1.8l-.2-.5h-.8l-.2 .2h-.8l-.2-.2h-1.8l-.2 .5h-.8l-.2-.2h-.8l-.2-.3h-.8l-.2 .4h-.8l-.2-.4h-1.8l-.2 .5h-.8l-.2-.5h-1.8l-.2 .6h-.8l-.2-.6h-.8l-.2 .5h-.8l-.2-.2h-.8l-.2-.3h-1.8l-.2 .4h-.6l-.4 .1h-.8l-.2-.2h-1.8l-.2 .3h-.8l-.2-.5h-.6l-.4-.1h-2.8l-.2 .4h-.6l-.4-.1h-.8l-.2-.2h-1.8l-.2 .2h-1.6l-.4 .1h-.8l-.2-.3h-1.6l-.4-.1h-1.6l-.4 .1h-.6l-.4-.1h-.8l-.2 .4h-.8l-.2-.3h-.8l-.2 .2h-1.6l-.4-.1h-.6l-.4-.1h-1.6l-.4 .1h-.6l-.4-.1h-.6l-.4-.1h-1.6l-.4 .1h-.8l-.2 .2h-.8l-.2-.2h-.6l-.4-.1h-.8l-.2 .3h-.6l-.4 .1h-.8l-.2-.4h-.8l-.2 .4h-.8l-.2-.3h-2.6l-.4-.1h-.6l-.4 .1h-1.6l-.4-.1h-1.8l-.2 .2h-.6l-.4-.1h-1.8l-.2 .4h-.8l-.2-.3h-.8l-.2-.2h-.8l-.2 .5h-1.8l-.2-.5h-.6l-.4 .1h-1.8l-.2 .3h-.8l-.2-.4h-2.8l-.2 .3h-.8l-.2-.3h-.6l-.4 .1h-.6l-.4-.1h-.8l-.2 .4h-.8l-.2-.4h-1.8l-.2 .5h-.8l-.2-.4h-1.6l-.4-.1h-2.8l-.2 .3h-.6l-.4-.1h-.8l-.2-.2h-.6l-.4 .1h-.8l-.2 .3h-.8l-.2-.4h-.6l-.4 .1h-3.6l-.4-.1h-.6l-.4 .1h-.6l-.4-.1h-.8l-.2 .3h-.8l-.2-.3h-.8l-.2 .3h-.8l-.2 .2h-.8l-.2-.4h-1.8l-.2 .3h-.6l-.4-.1h-1.8l-.2-.3h-1.6l-.4 .1h-.6l-.4-.1h-1.6l-.4 .1h-2.6l-.4-.1h-1.8l-.2 .4h-.8l-.2-.4h-.8l-.2 .5h-.8l-.2-.3h-.8z"/>
<path fill="#0000ff" d="M138 386.2h.8l.4 .1h2.6l.2-.3h.8l.2 .2h1.8l.4 .1h1.6l.2-.2h.8l.2 .2h1.8l.2-.3h.8l.2 .2h.8l.4 .1h2.6l.2-.3h.8l.2 .2h.8l.4-.1h.6l.4 .1h.6l.4 .1h.6l.2-.2h.8l.4 .1h.6l.2-.4h.8l.2 .5h1.8l.4-.1h1.6l.4 .1h.6l.2-.2h.8l.2 .2h.8l.2-.3h.8l.2 .3h5.8l.2-.2h.8l.4 .1h.6l.4 .1h1.6l.2-.1l.5-.9h1l.5 .9l.5 .1h5.3l.2-.3h.8l.4 .1h.6l.4 .1h.6l.2-.2h.8l.4 .1h1.6l.2-.2h.8l.2 .3h1.8l.2-.3h.8l.2 .4h.8l.2-.5h.8l.4 .1h.6l.2 .3h.8l.4-.1h1.6l.2 .2h1.8l.4-.1h.6l.4 .1h3.6l.2-.4h.8l.4 .1h.6l.4 .1h.6l.2 .2h.8l.4-.1h.6l.4 .1h.6l.2-.3h2.8l.2 .3h1.8l.2-.4h.8l.2 .4h.8l.2-.2h.8l.2 .2h1.8l.4-.1h1.6l.2-.2h.8l.4 .1h.6l.4-.1h.6l.4 .1h.6l.2 .2h.8l.2-.3h.8l.2 .2h.8l.4 .1h3.6l.2-.4h.8l.2 .4h.8l.2-.2h.8l.4 .1h.6l.4 .1h1.6l.4-.1h.6l.2-.3h.8l.2 .3h.8l.4-.1h1.6l.2-.2h.8l.2 .4h.8l.2-.3h.8l.2 .3h.8l.4-.5l.6-.2l.2 .6l.5 .1h.3l.2-.3h.8l.2 .2h1.8l.4 .1h1.6l.2-.4h.8l.2 .2h.8l.2 .2l.2-.1l.3-.4h1l.3 .4l.2-.3h.8l.2 .2h.8l.2 .2h.8l.2-.2h1.8l.4 .1h1.6l.4 .1h1.6l.2-.2h.8l.2-.2h.8l.2 .3h1.8l.2-.3h.8l.2 .4h3.8l.4-.1h.6l.4 .1h.6l.2-.3h.8l.2 .3h.8l.2-.4h.8l.2 .4h8.8l.2-.3h.8l.4 .1h.6l.2 .2h1.8l.4-.1h1.6l.4 .1h2.6l.2-.3h.8l.4 .1h.6l.4 .1h.6l.2-.2h.8l.2 .2h.8l.2-.3h.8l.2 .4h1.8l.2-.3h.8l.2 .3h1.8l.2-.3h.8l.2 .3h5.8l.4-.1h.6l.2-.3h.8l.2 .4h4.8l.2-.3h1.8l.2 .3h.8l.2-.5h.8l.2 .3h.8l.4-.1h.6l.2-.2h.8l.4 .1h.6l.2 .4h.8l.4-.1h.6l.2-.3h.8l.2 .3h.8l.4-.1h1.6l.2 .2h.8l.2-.2h.8l.4 .1h.6l.4 .1h.6l.4-.1h.6l.2-.2h.8l.2 .2h.8l.4 .1h4.6l.2-.2h.8l.4 .1h1.6l.4 .1h2.6l.2-.4h.8l.2 .4h1.8l.2-.2h.8l.2 .2h.8l.2-.2h2.8l.2 .2h3.8l.4-.1h.6l.2-.3h.8l.2 .2h.8l.2 .2h.8l.4-.1h.6l.4 .1h.6l.2-.3h.8l.2 .3h1.8l.2-.5h.8l.2 .4h.8l.4 .1h.6l.2-.3h.8l.4 .1h.6l.2 .2h.8l.4-.3l.6-.1h.7l.3-.1l.2 .2h.8l.2-.5l.8 .3l.2 .3h.8l.2 .2h2.8l.2-.2h.8l.2-.2h.8l.2 .4h.8l.2-.2h.8l.4 .1h.6l.4 .1h.6l.2-.4h.8l.2 .2h.8l.2 .2h.8l.2-.3h.8l.2 .3h.8l.2-.2h.8l.2 .2h2l.2-.2l.3-.4h1l.3 .4l.2 .2h1.8l.2-.2h.8l.2 .2h2.8l.4-.1h.6l.4 .1h1.6l.2-.4h.8l.2 .4h2.8l.4-.1h.6l.2-.3h1.8l.2 .4h2.8l.4-.1h.6l.2-.2h.8l.4 .1h1.6l.2 .2h2.8l.4-.1h.6l.4 .1h.6l.2-.4h.8l.2 .4h5.8l.2-.2h.8l.4 .1h.6l.4 .1h4.6l.4-.1h.6l.4 .1h1.6l.2-.2h.8l.2 .2h3.8l.2-.3h.8l.4 .1h.6l.2 .2h.8l.2-.3h.8l.2 .3h.8l.4-.1h.6l.4 .1h1.6l.2-.3h.8l.2 .3h2.8l.4-.1h.6l.4 .1h.6l.4-.1h.6l.4 .1h2.6l.2-.4h.8l.2 .2h.8l.4 .1h.6l.2-.4h.8l.2 .3h.8l.2 .2h1.8l.2-.2h.8l.4-.1h.6l.4 .1h.6l.4-.1h.6l.2 .2h.8l.4 .1h.6l.4-.1h.6l.4-.1h1.6l.2 .2h1.8l.2-.4h.8l.2 .2h.8l.2 .2h1.8l.4-.1h1.6l.4 .1h.6l.2-.5h.8l.2 .5h.8l.4-.1h.6l.4 .1h2.6l.4-.1h.6l.2-.2h.8l.4-.1h.6l.2 .4h3.8l.2-.3h.8l.2 .3h1.8l.4-.1h.6l.4-.1h.6l.2-.2h.8l.2 .4h2.8l.2-.3h.8l.4 .1h.6l.2-.2h.8l.2 .4h.8l.4-.1h1.6l.4 .1h1.6l.4-.1h.6l.4 .1h.6l.2-.2h.8l.2 .2h1.8l.2-.4h1.8l.2 .4h1.8l.4-.1h.6l.2-.2h.8l.2 .3h.8l.2-.2h.8l.4 .1h1.6l.4 .1h.8l.2-.1l.3-.4h1l.3 .4l.4-.1h.6l.4 .1h1.6l.4-.1h.6l.4 .1h.6l.4 .1h1l.3-.1l.7-1.1l.6-.1h.7l.3 .1l.7 1.1l1-.1h.3l.2-.2h.8l.2 .2h.8l.2-.2h1.8l.4 .1h.6l.4-.1h.6l.2 .4h.8l.4-.1h.6l.4-.1h.6l.2-.2h.8l.2 .4h.8l.4-.1h.6l.4 .1h1.6l.4-.1h.6l.4 .1h.6l.4-.1h.6l.4 .1h1.6l.2-.3h.8l.2 .2h.8l.4 .1h2.6l.2-.3h.8l.2 .2h.8l.4 .1h.6l.4-.1h.6l.4 .1h1.6l.4-.1h.6l.2-.2h.8l.4-.1h1.6l.2 .4h1.8l.2-.2h.8l.4 .1h.6l.4 .1h5.6l.2-.3h.8l.4 .1h.6l.2 .2h.8l.2-.4h.8l.2 .4h.8l.2-.2h.8l.2 .2h.8l.2-.4h.8l.2 .2h1.8l.4-.1h.6l.4 .1h.6l.4-.1h.6l.2 .3h.8l.2-.2h.8l.4 .1h1.6l.2-.3h.8l.2 .4h.8l.4-.1h.6l.4 .1h1.6l.4-.1h.6l.4 .1h1.6l.2-.3h.8l.2 .3h.8l.2-.4h.8l.2 .4h.8l.2-.4h.8l.2 .4h1.8l.4-.1h.6l.4-.1h1.6l.2-.3h.8l.2 .5h1.8l.4-.1h.6l.4 .1h1.6l.4-.1h.6l.4-.1h.6l.2-.2h.8l.2 .4h.8l.4-.1h1.6l.4 .1h.6l.4-.1h.6l.4 .1h.6l.4-.1h.6l.4-.1h.6l.2 .2h.8l.2-.4h.8l.2 .4h4.8l.4-.1h1.6l.4-.1h.6l.4-.1l.3-.4h1l.5 .7h3.8l.4-.1h.6l.2-.3h.8l.2 .4h1.8l.4-.1h2.6l.4-.1h.6l.2 .2h5.8l.2-.3h.8l.2 .3h2.8l.4-.1h.6l.4 .1h.6l.4-.1h.6l.4 .1h3.6l.2-.4h.8l.4-.1h.6l.4 .1h.6l.2 .4h.8l.4-.1h.6l.4 .1h.6l.4-.1h.6l.4 .1h1.6l.2-.2h.8l.2 .2h1.8l.4-.1h.6l.4 .1h5.6l.2-.3h1.8l.2 .3h3.8l.2-.2h.8l.2 .2h.8l.4-.1h1.6l.4 .1h1.6l.4-.1h.6l.4 .1h.6l.2-.2h.8l.2 .2h2.8l.4-.1h.6l.4 .1h1.6l.2-.3h.8l.2 .3h3.8l.4-.1h.6l.4 .1h2.6l.4-.1h.6l.4 .1h1.6l.2-.2h.8l.2 .2h1.8l.4-.1h.6l.4-.1h.6l.4 .1h1.6l.4 .1h.6l.4-.1h.6l.4 .1h.6l.2-.4h.8l.2 .3h.8l.4 .1h.6l.2-.3h.8l.2 .3h.8l.4-.1h1.6l.4 .1h.6l.2-.2h1.8l.2-.3h.8l.2 .3h.8l.4 .1h.6l.4 .1h1.6l.2-.2h.8l.2-.2h.8l.4 .1h.6l.2 .3h4.8l.2-.3h.8l.2 .3h1.8l.2-.2h.8l.2-.2h.8l.2 .3h2.8l.2-.3h.8l.2 .3h2.8l.2-.3h.8l.4 .1h1.6l.2 .3h.8l.4-.1h.6l.4 .1h1.6l.2-.4h.8l.2 .2h.8l.2-.2h.8l.2 .4h4.8l.4-.1h.6l.4 .1h.6l.4-.1h.6l.2-.3h.8l.2 .4h3.8l.4-.1h.6l.4 .1h.6l.4-.1h.6l.4 .1h.6l.2-.3h1.8l.4 .1h1.6l.4-.1h.6l.2 .2h.8l.4 .1h.6l.2-.5h.8l.2 .5h3.8l.4-.1h.6l.4-.1h.6l.2 .2h.8l.2-.4h.8l.4 .1h.6l.2 .3h.8l.2-.2h1.8l.2 .2h.8l.2-.5h.8l.2 .5h.8l.4-.1h.6l.4 .1h1.6l.4-.1h1.6l.2-.2h1.8l.2 .3h2.8l.2-.3h.8l.2 .3h2.8l.2-.2h.8l.2 .2h.8l.4-.1h.6l.2-.3h.8l.2 .3h.8l.4 .1h1.6l.2-.2h.8l.2 .2h.8l.2-.4h1.8l.2 .4h.8l.2-.5h.8l.2 .4h.8l.4 .1h.6l.2-.2h1.8l.4 .1h.6l.2-.3h.8l.4 .1h.6l.2 .3h1.8l.4-.1h.6l.4 .1h5.6l.2-.4h.8l.2 .4h.8l.2-.3h.8l.2 .3h.8l.2-.3h.8l.2 .3h.8l.4-.1h1.6l.4-.1h.6l.2 .2h3l.2-.2l.6-.9h.7l.3 .1l.4 .9h1.6l.2-.4h.8l.2 .4h1.8l.2-.2h.8l.2 .3h.8l.2-.4h.8l.2 .3h.8l.4 .1h.6l.2-.5h.8l.4 .1h.6l.2 .4h.8l.4-.1h1.6l.4 .1h1.6l.2-.2h1.8l.2-.2h.8l.2 .3h.8l.4 .1h.6l.4-.1l.6-.7l.2-.5h1l.2 .1l.6 .9l.2 .3h.8l.4-.1h.6l.4 .1h.6l.2-.5h.8l.2 .3h2.8l.2 .2h1.8l.2-.2h.8l.2 .2h.8l.4-.1h2.6l.4 .1h.6l.2-.4h.8l.4-.1h.6l.2 .5h2.8l.4-.1h.6l.4 .1h.6l.2-.3h.8l.2 .3h.8l.2-.4h.8l.2 .3h.8l.4 .1h.6l.4-.1h.6l.4 .1h.6l.2-.4h.8l.2 .3h.8l.2-.2h.8l.2 .3h.8l.4-.1h.6l.4 .1h3.6l.2-.2h1.8l.2 .2h.8l.2-.2h.8l.2 .2h3.8l.4-.1h.6l.4 .1h1.6l.2-.3h.8l.2 .2h.8l.4 .1h.6l.4-.1h.6l.4 .1h1.6l.2-.2h.8l.2 .2h.8l.2-.5h.8l.2 .5h2.8l.2-.2h.8l.2 .2h6.8l.2-.2h.8l.4-.1h.6l.2 .2h.8l.4 .1h1.6l.4-.1h.6l.4 .1h1.6l.2-.2h.8l.2 .2h.5v3.8h-.5l-.2 .4h-.8l-.2-.5h-1.6l-.4 .1h-.6l-.4 .1h-.8l-.2-.2h-1.8l-.2 .3h-.8l-.2-.2h-.6l-.4 .1h-.8l-.2 .3h-.8l-.2-.5h-4.8l-.2 .3h-.8l-.2-.3h-2.6l-.4 .1h-.6l-.4-.1h-.6l-.4 .1h-.6l-.4-.1h-.8l-.2 .2h-.8l-.2 .2h-.8l-.2-.3h-1.6l-.4 .1h-.6l-.4-.1h-2.6l-.4-.1h-2.6l-.4 .1h-.6l-.4-.1h-3.6l-.4 .1h-.8l-.2 .3h-.8l-.2-.3h-1.8l-.2 .2h-.6l-.4 .1h-.8l-.2-.4h-2.8l-.2 .4h-.8l-.2-.4h-.6l-.4 .1h-.6l-.4-.1h-.8l-.2 .5h-.8l-.2-.3h-1.6l-.4-.1h-.6l-.4-.1h-.8l-.2 .2h-.8l-.2-.2h-.8l-.2 .2h-.8l-.2-.2h-1.6l-.4 .1h-.8l-.2 .2h-.8l-.2-.3h-2.8l-.2 .3h-.8l-.2-.2h-.6l-.4-.1h-2.8l-.2 .2h-.6l-.4-.1h-.6l-.4-.1h-1.8l-.2 .3h-1l-.6 .9l-.2 .2h-.5l-.5-.1l-.5-.8h-.5l-.2-.4h-.8l-.2 .3h-.8l-.2-.4h-1.6l-.4 .1h-.8l-.2 .3h-.8l-.2-.4h-1.8l-.2 .4h-.8l-.2-.3h-.6l-.4-.1h-3.8l-.2 .5h-.8l-.2-.5h-1.8l-.2 .4h-.8l-.2-.4h-1.6l-.4 .1h-.8l-.2 .2h-.6l-.2 .3l-.2 .5l-.3 .1h-.7l-.6-.9l-.2-.3l-.2 .1h-.6l-.4-.1h-1.8l-.2 .4h-.6l-.4-.1h-.6l-.4-.1h-.8l-.2-.2h-.8l-.2 .2h-.8l-.2 .3h-.8l-.2-.5h-.6l-.4 .1h-.6l-.4-.1h-2.8l-.2 .2h-.8l-.2 .2h-.8l-.2-.4h-.6l-.4 .1h-.6l-.4-.1h-.8l-.2 .3h-.6l-.4 .1h-.8l-.2-.4h-2.8l-.2 .3h-.8l-.2-.3h-.6l-.4 .1h-.6l-.4-.1h-2.6l-.4 .1h-1.8l-.2 .2h-.6l-.4 .1h-.6l-.4 .1h-.8l-.2-.5h-3.8l-.2 .3h-.6l-.4-.1h-.6l-.4 .1h-.8l-.2-.3h-.8l-.2 .2h-.8l-.2-.2h-2.8l-.2 .2h-.6l-.4 .1h-.8l-.2-.3h-2.8l-.2 .5h-.8l-.2-.5h-1.8l-.2 .4h-.8l-.2-.2h-3.8l-.2 .2h-.8l-.2-.2h-.8l-.2-.2h-.8l-.2 .2h-.8l-.2-.2h-.8l-.2 .3h-1.6l-.4-.1h-.6l-.4-.1h-.6l-.4-.1h-.8l-.2 .5h-.8l-.2-.5h-1.8l-.2 .5h-.8l-.2-.5h-3.8l-.2 .2h-.8l-.2-.2h-1.6l-.4 .1h-.6l-.4-.1h-.6l-.4 .1h-1.6l-.4 .1h-.8l-.2-.2h-1.8l-.2 .4h-.8l-.2-.4h-.6l-.4 .1h-3.8l-.2 .4h-.8l-.2-.3h-.8l-.2-.2h-2.8l-.2 .4h-.8l-.2-.3h-.6l-.4-.1h-.8l-.2 .4h-.8l-.2-.2h-.6l-.4-.1h-.6l-.4-.1h-1.8l-.2 .3h-.8l-.2-.3h-1.6l-.4 .1h-.6l-.4 .1h-.8l-.2-.2h-5.6l-.4 .1h-.8l-.2 .3h-.8l-.2-.3h-.8l-.2 .2h-.8l-.2-.2h-.6l-.4-.1h-.6l-.4 .1h-.6l-.4-.1h-1.6l-.4 .1h-.6l-.4-.1h-.6l-.4 .1h-.8l-.2 .4h-.8l-.2-.5h-.8l-.2 .3h-.8l-.2-.2h-.6l-.4-.1h-.8l-.2 .2h-.6l-.4-.1h-.6l-.4-.1h-4.6l-.4 .1h-.8l-.2 .4h-.8l-.2-.5h-1.8l-.2 .4h-.8l-.2-.3h-.6l-.4-.1h-.6l-.4 .1h-.6l-.4-.1h-4.6l-.4 .1h-.6l-.4-.1h-.8l-.2 .5h-.8l-.2-.4h-.6l-.4-.1h-.6l-.4 .1h-1.8l-.2 .2h-.8l-.2-.2h-.6l-.4-.1h-2.8l-.2 .2h-1.6l-.4-.1h-.8l-.2 .3h-.8l-.2-.4h-.6l-.4 .1h-.8l-.2 .3h-.8l-.2-.4h-1.8l-.2 .3h-.6l-.4-.1h-.8l-.2-.2h-.6l-.4 .1h-.8l-.2 .3h-.6l-.4 .1h-.8l-.2-.3h-.8l-.2-.2h-.8l-.2 .3h-.6l-.4-.1h-.8l-.2-.2h-3.8l-.2 .4h-.6l-.4 .1h-.8l-.2-.4h-.6l-.4-.1h-.6l-.4 .1h-.6l-.4 .1h-.8l-.2-.2h-2.6l-.4 .1h-.6l-.4-.1h-.8l-.2 .4h-.8l-.2-.3h-.8l-.2 .2h-.8l-.2-.2h-.6l-.4-.1h-.8l-.2 .2h-.8l-.2-.2h-1.8l-.2 .2h-.8l-.2-.2h-.8l-.2 .5h-.8l-.2-.5h-2.6l-.4 .1h-.6l-.4-.1h-2.6l-.4 .1h-.6l-.4-.1h-.6l-.4 .1h-1.8l-.2 .2h-.8l-.2-.3h-.6l-.4 .1h-.6l-.4-.1h-.8l-.2 .5h-.8l-.2-.3h-.8l-.2-.2h-.8l-.2 .2h-.6l-.4 .1l-.3 .5h-1l-.3-.5l-.2-.3l-.2 .1h-.6l-.4-.1h-1.8l-.2 .4h-.8l-.2-.4h-3.8l-.2 .3h-.8l-.2-.2h-1.6l-.4-.1h-1.6l-.4 .1h-1.6l-.4 .1h-.8l-.2-.2h-.8l-.2 .4h-.8l-.2-.4h-1.6l-.4 .1h-.8l-.2 .2h-.8l-.2-.3h-2.8l-.2 .4h-.8l-.2-.4h-.8l-.2 .4h-.6l-.4-.1h-.8l-.2-.3h-.6l-.4 .1h-.8l-.2 .3h-.8l-.2-.3h-.8l-.2 .3h-.8l-.2-.2h-.6l-.4 .1h-.6l-.4-.1h-1.8l-.2-.2h-.8l-.2 .4h-.8l-.2-.4h-.8l-.2 .2h-1.6l-.4-.1h-2.8l-.2 .2h-.6l-.4-.1h-.6l-.4-.1h-.6l-.4-.1h-2.6l-.4 .1h-.6l-.4-.1h-1.8l-.2 .5h-.8l-.2-.5h-.6l-.4 .1h-.8l-.2 .2h-.8l-.2-.3h-.8l-.2 .3h-.8l-.2-.3h-.6l-.4 .1h-3.8l-.2 .3h-.8l-.2-.2h-.6l-.4 .1h-.6l-.4 .1h-.8l-.2-.3h-.6l-.4-.1h-.8l-.2 .4h-.8l-.2-.4h-.8l-.2 .2h-.6l-.4-.1h-.6l-.4 .1h-.6l-.4-.1h-.6l-.4-.1h-2.6l-.4 .1h-.8l-.2 .2h-.6l-.4-.1h-1.6l-.4-.1h-2.6l-.4-.1h-1.8l-.2 .2h-.8l-.2-.2h-.6l-.4 .1h-.6l-.4-.1h-.8l-.2 .3h-.8l-.2-.3h-3.6l-.4 .1h-.6l-.4-.1h-.8l-.2 .3h-.8l-.2-.2h-.8l-.2 .4h-1.8l-.2-.5h-1.3l-1 .1l-.5 .8l-.5 .5h-1l-.3-.2l-.4-.7l-.3-.2h-1.3l-.4 .1h-.8l-.2-.3h-.6l-.4-.1h-.8l-.2 .2h-.8l-.2-.2h-.8l-.2 .2l-.3 .4h-1l-.3-.4l-.2-.2h-1l-.2 .3h-.8l-.2-.2h-2.6l-.4 .1h-.8l-.2-.2h-.6l-.4 .1h-.6l-.4-.1h-.8l-.2 .5h-.8l-.2-.2h-.8l-.2-.3h-.8l-.2 .2h-.8l-.2-.2h-1.8l-.2 .2h-.8l-.2-.2h-.8l-.2 .2h-2.8l-.2-.2h-.8l-.2 .2h-1.8l-.2 .2h-.8l-.2-.4h-2.8l-.2 .2h-.8l-.2-.2h-.8l-.2 .2h-.8l-.2 .2h-.8l-.2-.4h-1.6l-.4 .1h-.8l-.2 .3h-.8l-.2-.2h-.8l-.2-.2h-2.8l-.2 .3h-.6l-.4-.1h-.8l-.2 .3h-.6l-.4-.1h-.8l-.2-.2h-.8l-.2-.2h-2.8l-.2 .3h-.6l-.4-.1h-.8l-.2-.2h-4.8l-.2 .2h-.8l-.2-.2h-.8l-.2 .3h-.8l-.2-.3h-1.6l-.4 .1h-1.6l-.4-.1h-.6l-.4 .1h-.8l-.2 .3h-.8l-.2-.4h-1.6l-.4 .1h-.6l-.4-.1h-.8l-.2 .2h-.8l-.2-.2h-1.8l-.2 .5h-.8l-.2-.4h-2.6l-.4-.1h-.8l-.2 .2h-1.6l-.4 .1h-1.8l-.2 .2h-.8l-.2-.3h-.8l-.2-.2h-.6l-.4 .1h-.8l-.2 .3h-.8l-.2-.4h-.8l-.2 .4h-.8l-.2-.2h-.6l-.4-.1h-.6l-.4-.1h-.6l-.4 .1h-.8l-.2 .3h-.8l-.2-.2h-1.8l-.2-.2h-.6l-.4 .1h-.6l-.4-.1h-.6l-.4 .1h-.8l-.2 .2h-.8l-.2-.3h-1.8l-.2 .2h-.6l-.4 .1h-.8l-.2-.3h-2.6l-.4 .1h-.8l-.2 .2h-.8l-.2-.2h-.6l-.4-.1h-.6l-.4 .1h-.6l-.4-.1h-1.8l-.2 .2h-.6l-.4-.1h-2.8l-.2 .3h-.8l-.2-.3h-.6l-.4-.1h-1.8l-.2 .5h-.8l-.2-.5h-1.6l-.4 .1h-.6l-.4 .1h-1.6l-.4 .1h-.6l-.4 .1h-.8l-.2-.3h-.6l-.4-.1h-1.8l-.2 .2h-.8l-.2 .2h-.8l-.2-.3h-.6l-.4-.1h-.8l-.2 .3h-.6l-.4 .1h-.8l-.2-.3h-.6l-.4 .1l-.3 .5h-1l-.3-.5l-.2-.2h-.8l-.4 .1h-.8l-.2 .3h-.8l-.2-.3h-.6l-.4-.1h-.8l-.2 .2h-.8l-.2-.2h-.8l-.2 .4h-.8l-.2-.3h-1.6l-.4-.1h-.6l-.4 .1h-.8l-.2 .2h-.8l-.2-.2h-2.6l-.4 .1h-.8l-.2-.2l-.3 .2l-.5 .2l-.5-.1l-1 .3h-.5l-.2-.2h-.8l-.2 .3l-1.8-.7h-1.8l-.4 .1h-.6l-.4-.1h-.8l-.2 .4h-.8l-.2-.3h-.6l-.4-.1h-.8l-.2 .2h-.8l-.2-.2h-.8l-.2 .3h-.8l-.2-.2h-1.8l-.2 .2h-1.8l-.2-.3h-1.8l-.2 .5h-.6l-.4-.1h-.8l-.2-.4h-.6l-.4 .1h-.6l-.4-.1h-1.6l-.4 .1h-1.6l-.4-.1h-.8l-.2 .4h-.8l-.2-.3h-.8l-.2 .2h-1.8l-.2-.2h-.8l-.2 .2h-1.8l-.2-.2h-.6l-.4 .1h-.6l-.4-.1h-.8l-.2 .2h-.8l-.2-.3h-1.8l-.2 .3h-.8l-.2-.3h-.8l-.2 .4h-.8l-.2-.4h-1.6l-.4 .1h-3.6l-.4-.1h-.8l-.2 .2h-.8l-.2-.2h-.6l-.4 .1h-.8l-.2 .2h-.8l-.2-.3h-.8l-.2 .3h-.6l-.4-.1h-.8l-.2-.2h-.6l-.4 .1h-1.8l-.2 .2h-.8l-.2-.3h-3.8l-.2 .4h-.8l-.2-.4h-2.8l-.2 .4h-.6l-.4-.1h-.6l-.4 .1h-.8l-.2-.3h-.6l-.4-.1h-.8l-.2 .2h-.6l-.4-.1h-.6l-.4-.1h-.8l-.2 .3h-.8l-.2-.3h-2.8l-.2 .4h-.8l-.2-.4h-2.8l-.2 .3h-.8l-.2-.3h-1.8l-.2 .2h-.6l-.4-.1h-.6l-.4 .1h-.6l-.4-.1h-.6l-.4-.1h-.8l-.2 .2h-.6l-.4 .1h-.6l-.4-.1h-.8l-.2-.2h-1.8l-.2 .4h-1.8l-.2-.4h-.6l-.4 .1h-.6l-.4-.1h-.8l-.2 .3h-1.8l-.2-.3h-.6l-.4 .1h-.6l-.4-.1h-1.8l-.2 .4h-.8l-.2-.4h-2.6l-.4 .1h-.8l-.2 .4h-.8l-.2-.2h-.8l-.2-.3h-.6l-.4 .1h-.6l-.4 .1h-.6l-.4-.1h-.6l-.4-.1h-1.8l-.2 .2h-.8l-.2-.2h-1.8l-.2 .4h-.8l-.2-.2l-.3 .4h-1l-.3-.3l-.4 .1h-.8l-.2-.4h-.8l-.2 .2h-.6l-.4-.1h-1.6l-.4-.1h-1.8l-.2 .5h-.3l-1 .1l-.7-.5h-.6l-.4 .1h-1.6l-.4-.1h-.6l-.4-.1h-.8l-.2 .4h-.6l-.4-.1h-.6l-.4 .1h-.6l-.4-.1h-.8l-.2-.2h-2.6l-.4 .1h-.8l-.2-.2h-4.6l-.4 .1h-.6l-.4-.1h-2.6l-.4 .1h-.6l-.4-.1h-1.8l-.2 .5h-.8l-.2-.5h-.8l-.2 .2h-.8l-.2-.2h-.8l-.2 .3h-.8l-.2-.2h-.8l-.2 .3h-.8l-.2-.2h-.6l-.4-.1h-.6l-.4 .1h-.8l-.2-.2h-.8l-.2 .4h-1.8l-.2-.4h-1.8l-.2 .3h-.6l-.4-.1h-1.6l-.4-.1h-.6l-.4 .1h-.6l-.4-.1h-.6l-.4-.1h-.6l-.4 .1h-.8l-.2 .3h-.8l-.2-.4h-2.8l-.2 .2h-.6l-.4-.1h-.6l-.4 .1h-.6l-.4-.1h-.6l-.4 .1h-.8l-.2-.2h-.8l-.2 .3h-.8l-.2-.3h-.8l-.2 .4h-.8l-.2-.4h-2.8l-.2 .4h-.8l-.2-.4h-.8l-.2 .4h-.8l-.2-.4h-.8l-.2 .3h-.8l-.2-.3h-.6l-.4 .1h-.8l-.2 .3h-.8l-.2-.3h-.8l-.5 1h-1l-.5-1l-.2-.1h-.6l-.4 .1h-.6l-.4-.1h-.8l-.2 .2h-1.8l-.2-.2h-1.8l-.2 .4h-.8l-.2-.3h-.6l-.4-.1h-.6l-.4 .1h-.6l-.4-.1h-.8l-.2 .2h-.6l-.4-.1h-.6l-.4 .1h-.8l-.2-.2h-2.6l-.4 .1h-.6l-.4-.1h-.8l-.2 .2h-.8l-.2-.2h-2.8l-.2 .2h-.8l-.2-.2h-1.6l-.4 .1h-.6l-.4 .1h-.8l-.2 .3h-.8l-.2-.5h-1.6l-.4 .1h-.6l-.4-.1h-.8l-.2 .2h-.8l-.2-.2h-.8l-.2 .3h-.8l-.2-.2h-.6l-.4-.1h-1.6l-.4 .1h-.6l-.4-.1h-.6l-.4 .1h-.8z"/>
<path fill="#008000" d="M138 417.7h.8l.2-.2h.8l.2 .3h2.8l.2-.4h.8l.2 .4h2.8l.2-.4h.8l.2 .4h.8l.2-.2h.8l.4 .1h.6l.4 .1h2.6l.4-.1h.6l.4-.1h.6l.4 .1h.6l.4 .1h.6l.2-.2h.8l.4 .1h.6l.4 .1h2.6l.2-.4h.8l.2 .3h.8l.4 .1h3.6l.4-.1h1.6l.4 .1h4.6l.4-.1h.6l.4 .1h5.6l.2-.2h.8l.2 .2h2.8l.4-.1h.6l.4-.1h.6l.2 .2h.8l.4-.1h.6l.2-.2h.8l.4-.1h.6l.2 .3h.8l.2-.3h1.8l.2 .3h1.8l.2-.3h.8l.2 .3h.8l.4 .1h2.6l.4-.1h.6l.4 .1h1.6l.2-.2h.8l.2 .2h.8l.4-.1h.6l.4-.1h.6l.4 .1h.6l.4-.1h.6l.2 .2h.8l.4-.1h1.6l.4 .1h.6l.4-.1h.6l.4 .1h3.6l.4-.1h.6l.2-.2h.8l.2 .2h.8l.4 .1h.6l.2-.3h.8l.2 .2h.8l.4 .1h.6l.4-.1h.6l.4-.1h.6l.2 .2h.8l.2-.2h.8l.2 .2h.8l.2-.2h.8l.4-.1h.6l.2 .3h.8l.2-.2h.8l.2 .2h1.8l.2-.3h.8l.2 .3h.8l.2-.2h.8l.2 .2h.8l.4-.1h.6l.4-.1h.6l.4-.1h.6l.4-.1h.6l.2 .4h.8l.2-.2h.8l.2 .2h1.8l.2-.2h.8l.2 .2h.8l.2-.2h.8l.4-.1h.6l.2 .3h.8l.4-.1h.6l.4 .1h9.6l.2-.2h.8l.4 .1h.6l.4 .1h.6l.4-.1h.6l.4 .1h.6l.4-.1h.6l.2-.2h.8l.2 .3h.8l.2-.2h.8l.4 .1h1.6l.4 .1h2.6l.2-.3h.8l.2 .2h.8l.4-.1h.6l.4 .1h.6l.4-.1h.6l.2 .2h.8l.2-.2h.8l.2 .2h3.8l.2-.4h.8l.2 .2h.8l.4 .1h.6l.4 .1h5.6l.2-.4h.8l.4 .1h.6l.2 .3h1.8l.4-.1h.6l.4 .1h.6l.4-.1h1.6l.2-.2h1.8l.2 .3h1.8l.2-.2h.8l.4 .1h.6l.4 .1h1.6l.2-.2h.8l.2 .2h.8l.2-.3h.8l.2 .3h1.8l.4-.1h.6l.4-.1h.6l.4 .1h.6l.4 .1h.6l.2-.3h.8l.2 .2h.8l.4 .1h1.6l.2-.3h.8l.2 .2h.8l.4 .1h.6l.4-.1h.6l.4 .1h.6l.2-.3h.8l.2 .2h.8l.4 .1h1.6l.2-.4h.8l.2 .4h2.8l.2-.4h.8l.2 .4h1.8l.2-.2h.8l.2 .2h.8l.4-.1h.6l.2-.2h.8l.2 .3h.8l.2-.3h.8l.2 .3h.8l.4-.1h1.6l.4 .1h2.6l.2-.3h.8l.2 .3h.8l.4-.1h.6l.4 .1h8.6l.2-.3h.8l.4 .1h.6l.2 .2h.8l.4-.1h.6l.4 .1h.6l.2-.3h.8l.2 .2h1.8l.2-.2h.8l.4 .1h.6l.4 .1h.6l.4-.1h.6l.4 .1h.6l.2-.2h1.8l.2 .3h.8l.2-.2h1.8l.2 .2h1.8l.2-.2h.8l.4 .1h.6l.4 .1h1.6l.2-.3h.8l.4 .1h.6l.2 .2h.8l.2-.2h.8l.2-.2h1.8l.2 .4h3.8l.2-.3h.8l.2 .3h.8l.2-.2h.8l.2 .2h.8l.2-.3h.8l.2 .2h.8l.4 .1h2.6l.2-.2h1.8l.2 .2h.8l.4-.1h.6l.4-.1h.6l.2 .2h.8l.2-.3h.8l.2 .2h1.8l.2-.2h.8l.2 .3h.8l.2-.2h.8l.2 .2h.8l.4-.1h1.6l.4 .1h2.6l.2-.2h.8l.4 .1h.6l.4 .1h.6l.2-.4h2.8l.2 .4h.8l.2-.2h.8l.2 .2h1.8l.4-.1h.6l.4-.1h.6l.2 .2h.8l.4-.1h.6l.4 .1h1.6l.4-.1h.6l.2-.3h.8l.2 .3h.8l.4 .1h1.6l.4-.1h1.6l.4 .1h1.6l.2-.2h.8l.4 .1h1.6l.2-.2h.8l.4 .1h.6l.4 .1h.6l.4 .1h4.6l.2-.2h.8l.2 .2h.8l.4-.1h.6l.4 .1h.6l.2-.4h.8l.2 .4h1.8l.4-.1h.6l.2-.2h.8l.4-.1h.6l.2 .2h.8l.2 .2h1.8l.4-.1h.6l.4 .1h.6l.4-.1h1.6l.4 .1h.6l.2-.4h.8l.2 .3h.8l.4 .1h3.6l.2-.2h.8l.4 .1h.6l.4 .1h1.6l.4-.1h.6l.2-.2h1.8l.2 .3h.8l.4-.1h1.6l.2-.2h.8l.2 .3h2.8l.2-.4h.8l.2 .2h1.8l.4 .1h.6l.4 .1h3.6l.2-.2h.8l.2 .2l.5-.1l.5-.2l.5-.3l.3-.1l.2 .1l.5-.3l.3-.1l.2 .5l.8-.2l.2-.9l.8-.2l.2 .2h.8l.2 .5l.5 .1h.7l.6 .1l.2-.3l.2 .1l.3-.2l.5-1.9l.2-.9l.3-.7h1l.3 .7l.4 1.8l.6 1.9l.2 .3h.8l.4 .1h3.6l.4-.1h.6l.4 .1h2.6l.2-.4h.8l.2 .3h.8l.4-.1h.6l.2 .2h.8l.2-.2h1.8l.2-.2h.8l.2 .4h4.8l.2-.2h.8l.2 .2h.8l.2-.2h.8l.2 .2h1.8l.2-.2h.8l.2 .2h.8l.2-.2l1-.1l.8-.2l.4 .1l.6-1l.4-1.1l.3-.2h1l.3 .2l1 2.1l.2-.6h.8l.2 .5h1.8l.2-.4l.5 .1h.3l.2 .2h.8l.2 .3h.8l.4-.1l.6 .1l.2-.2l.8 .1l.2 .4h.8l.4-.1l.6 .1h.4l.6-.8l.4-1l.6-.1h.7l.3 .1l.4 1l.6 .8h1l.2-.2h.8l.4-.1h.6l.4 .1h.6l.2 .2h.8l.2-.2h.8l.4 .1h.6l.4 .1h2.6l.2-.4h.8l.2 .4h2.8l.2-.3h1.8l.2 .3h.8l.4-.1h.6l.2-.2h.8l.2 .3h2.8l.4-.1h.6l.4-.1h.6l.2 .2h1.8l.2-.3h.8l.2 .2h2.8l.4-.1h.6l.4 .1h.6l.4 .1h1.6l.4-.1h.6l.4 .1h.6l.4-.1h.6l.4-.1h.6l.4 .1h.6l.4-.1h.6l.2 .2h.8l.2-.1l.5-.7h1l.5 .7h.8l.4 .1h.6l.2-.2h1.8l.4 .1h.6l.4-.1h.6l.2 .2h1.8l.4-.1h.6l.4 .1h1.6l.2-.4h.8l.2 .3h.8l.4 .1h.6l.2-.2h.8l.2 .2h.8l.2-.3h.8l.2 .3h3.8l.2-.2h.8l.4 .1h.6l.4 .1h1.6l.2-.2h1.8l.2 .2h2.8l.4-.1h.6l.2-.2h.8l.2 .3h1.8l.2-.3h.8l.4 .1h1.6l.2 .2h1.8l.2-.3h.8l.2 .3h.8l.4-.1h.6l.4 .1h2.6l.4-.1l.6-.1l.2 .2h.8l.2-.4h.8l.4-.1h.6l.2-.2h.8l.2 .7h.8l.2-.2h.8l.2-.3h.8l.2 .4h.8l.4 .1h.6l.4-.1h.6l.4 .1h4.6l.4-.1h.6l.4 .1h1.6l.2-.2h.8l.4 .1h.6l.2-.3h.8l.2 .4h2.8l.2-.3h.8l.2 .3h1.8l.2-.3h.8l.2 .3h.8l.4-.1h.6l.2-.2h1.8l.2 .2h.8l.4 .1h.6l.2-.2h.8l.4 .1h.6l.4 .1h1.6l.2-.2h.8l.4 .1h.6l.4 .1h1.6l.2-.2h.8l.2 .2h.8l.4-.1h1.6l.4 .1h1.6l.4-.1h.6l.4 .1h3.6l.4-.1h1.6l.2-.2h.8l.4-.1h.6l.4 .1h.6l.2 .2h.8l.2-.2h.8l.2 .3h2.8l.2-.3h.8l.4 .1h.6l.4 .1h1.6l.4 .1h2.6l.2-.2h1.8l.2 .2h1.8l.2-.2h1.8l.2 .2h.8l.2-.2h.8l.4-.1h.6l.2 .3h2.8l.2-.3h.8l.2 .3h.8l.2-.2h.8l.7-.4h1l.3 .1l.4 .5h1.6l.2-.2h.8l.4-.1h.6l.2 .3h1.8l.2-.3h.8l.2 .2h.8l.4-.1h.6l.2 .2h.8l.2-.4h.8l.2 .3h1.8l.4 .1h8.6l.2-.3h.8l.2 .3l.5-.5h1l.3 .3l.4 .1h.6l.4 .1h3.6l.2-.2h.8l.4-.1h.6l.2 .2h.8l.4 .1h1.6l.4-.1h1.6l.4 .1h.6l.2-.2h.8l.2 .2h.8l.2-.4h.8l.2 .4h1.8l.2-.4h.8l.2 .3h.8l.4-.1h.6l.2 .2h.8l.4-.1h.6l.4 .1h.6l.2-.4h.8l.2 .2h.8l.2 .2h.8l.4-.1h.6l.4-.1h.6l.2 .2h.8l.2-.2h.8l.2 .2h1.8l.2-.4h.8l.2 .3h.8l.4-.1h.6l.2 .2h.8l.2-.2h.8l.2 .2h2.8l.2-.2h.8l.2 .2h.8l.2-.2h.8l.2 .2h.8l.4-.1h.6l.4 .1h.6l.2-.4h.8l.2 .4h.8l.4-.1h.6l.4 .1h.6l.4-.1h.6l.4 .1h.6l.4-.1h1.6l.4 .1h1.6l.4-.1h.6l.4 .1h.6l.4-.1h1.6l.4 .1h.6l.4-.1h.6l.4-.1h1.6l.2 .2h.8l.2-.3h.8l.2 .3h2.8l.4-.1h.6l.4 .1h.6l.2-.3h.8l.2 .2h.8l.2-.2h.8l.2 .3h1.8l.4-.1h2.6l.4 .1h1.6l.4-.1h1.6l.2-.2h.8l.2 .3h.8l.2-.3h1.8l.2 .2h.8l.4 .1h.6l.2-.3h.8l.2 .3h1.8l.2-.2h.8l.2 .2h1.8l.2-.4h.8l.2 .4h2.8l.4-.1h1.6l.4 .1h3.6l.2-.2h.8l.2 .2h2.8l.4-.1h.6l.4 .1h2.6l.2-.3h.8l.2 .3h1.8l.4-.1h.6l.2-.2h.8l.4 .1h.6l.2 .2h.8l.4-.1h.6l.4 .1h.6l.4-.1h.6l.4 .1h.6l.2-.2h.8l.2 .2h3.8l.4-.1h.6l.4-.1l.6-.1l.4-.7l.6-.1h.7l.3 .1l.4 .7l.3 .3h2.3l.2-.2h1.8l.2 .2h.8l.2-.2h1.8l.2 .2h.8l.2-.3h.8l.2 .1l.5-.4l.5-.1l.5-.3l.3-.1l.2-.6l.8-.2l.2 .6h.5l.3 .1l.2 .3l.8 .3h.2l.8 .5l.4-.1h.6l.4-.1h.6l.2 .2h.8l.2-.3h.8l.4 .1h.6l.2-.2h.8l.2 .4h.8l.2-.4h.8l.4 .1h.6l.2 .3h.8l.2-.5h.8l.2 .3l.5 .1h.3l.2-.4h.8l.2 .3h.8l.2 .2h.8l.2-.3h.8l.4-.1h.6l.2 .5h.8l.4-.1h.6l.4 .1h.6l.4-.1h.8l.2-.2l.8-1.9l.2-.3h1l1 2.4l.6 .1l.4-.1h.6l.4 .1h.6l.2-.2h1.8l.4 .1h.6l.2-.3h.5l.3-.2l.4-.9l.6-.1h.7l.3 .1l.4 .9l.3 .4l.3 .2h5l.2-.3h.8l.2 .2h4.8l.4 .1h.6l.4-.1h.6l.4 .1h3.6l.4-.1h1.6l.4 .1h.6l.4-.1h1.6l.4 .1h1.6l.4-.1h2.6l.4 .1h1.6l.4-.1h.6l.4-.1h2.6l.4 .1h1.6l.2-.3h.8l.2 .3h1.8l.4 .1h.6l.2-.2h.8l.2 .2h1.8l.2-.3h.8l.2 .3h.8l.2-.2h.8l.2 .2h1.8l.2-.4h.8l.2 .3h.8l.4 .1h1.6l.2-.3h.8l.2 .3h.8l.2-.2h.5v4.4h-.5l-.2-.4h-.6l-.4 .1h-.6l-.4 .1h-.6l-.4-.1h-.6l-.4-.1h-1.6l-.4 .1h-.6l-.4 .1h-.8l-.2 .2h-.8l-.2-.4h-3.6l-.4 .1h-.6l-.4-.1h-4.6l-.4 .1h-.6l-.4-.1h-3.8l-.2 .4h-.8l-.2-.4h-1.6l-.4 .1h-.6l-.4 .1h-.8l-.2-.2h-1.8l-.2 .3h-.8l-.2-.3h-.6l-.4 .1h-.6l-.4-.1h-3.6l-.4 .1h-.6l-.4-.1h-.6l-.4 .1h-2.6l-.4-.1h-.8l-.2 .4h-.8l-.2-.4h-2.8l-.2 .3h-1.8l-.2-.3h-.6l-.4 .1h-1.3l-1 .1l-.7 1.3l-.3 .1h-.7l-.6-.1l-.7-1.3l-.3-.2l-.4 .1h-.8l-.2 .2h-.8l-.2-.3h-.8l-.2 .2h-.6l-.4-.1h-.8l-.2 .3h-.6l-.2 .4l-.2 .7l-.6 1.2h-1l-.2-.3l-.2-.7l-.6-1.2l-.4-.5h-.8l-.2 .2h-.6l-.4-.1h-.6l-.4 .1l-.6 .1l-.4 .1h-.6l-.4-.1h-.8l-.2 .3l-.8 .1l-.2-.3h-3.8l-.2 .2h-.8l-.2-.4h-.6l-.4-.1h-.8l-.2 .3h-.6l-.4 .1h-.6l-.4-.1h-.8l-.2-.2h-.6l-.4-.1h-.6l-.4 .1h-.6l-.4 .1h-.6l-.4 .1l-1 .1l-.8 .3l-.2 .4l-.8 .1l-.2-.2l-.8-.1l-.2 .3l-.6-.2l-.4-.5l-.3-.1l-.5-.4l-.2 .2h-.8l-.2-.2h-.8l-.2 .2h-.8l-.2-.2h-1.6l-.4-.1h-2.8l-.2 .2h-.8l-.2-.2h-.3l-.3 .3l-.4 .7l-.3 .1h-.7l-.6-.1l-.2-.4l-.5-.6h-.3l-.4 .1h-.6l-.4-.1h-.8l-.2 .4h-.8l-.2-.3h-1.6l-.4-.1h-1.6l-.4 .1h-.6l-.4-.1h-.6l-.4 .1h-.6l-.4 .1h-.6l-.4-.1h-.6l-.4-.1h-2.8l-.2 .3h-.8l-.2-.3h-2.8l-.2 .2h-.8l-.2-.2h-1.8l-.2 .2h-.8l-.2-.2h-1.6l-.4 .1h-1.8l-.2 .2h-.6l-.4 .1h-.8l-.2-.4h-.8l-.2 .2h-.6l-.4-.1h-.6l-.4-.1h-.8l-.2 .2h-.8l-.2-.2h-1.6l-.4 .1h-.6l-.4-.1h-1.6l-.4 .1h-.6l-.4-.1h-2.8l-.2 .4h-.8l-.2-.4h-.8l-.2 .3h-.6l-.4-.1h-.8l-.2-.2h-.6l-.4 .1h-1.6l-.4-.1h-.6l-.4 .1h-.6l-.4-.1h-.6l-.4 .1h-1.6l-.4-.1h-.6l-.4 .1h-.6l-.4-.1h-.8l-.2 .2h-.8l-.2-.2h-1.8l-.2 .2h-1.8l-.2-.2h-7.8l-.2 .2h-.6l-.4-.1h-.6l-.4-.1h-3.8l-.2 .3h-.8l-.2-.3h-.6l-.4 .1h-.6l-.4-.1h-5.8l-.2 .3h-.8l-.2-.2h-.6l-.4-.1h-.6l-.4 .1h-.6l-.4 .1h-.8l-.2 .2h-.8l-.2-.4h-.6l-.4 .1h-.6l-.4-.1h-1.6l-.4 .1h-.8l-.2 .3h-.8l-.2-.4h-1.6l-.4 .1h-.6l-.4-.1h-1.8l-.2 .4h-.8l-.2-.4h-.8l-.2 .3h-.8l-.2-.3h-1.8l-.2 .2h-.8l-.2-.2h-.8l-.2 .2h-.6l-.4 .1h-.6l-.4-.1h-.8l-.2-.2h-.8l-.2 .2h-.8l-.2-.2h-.8l-.2 .2h-.8l-.2-.2h-2.8l-.2 .2h-.6l-.4 .1h-.8l-.2-.3h-.8l-.2 .4h-.8l-.2-.4h-1.8l-.2 .3h-.8l-.2-.3h-3.8l-.5 .5h-1l-.5-.4l-.2 .2h-.8l-.2-.3h-3.6l-.4 .1h-.6l-.4-.1h-2.6l-.4 .1h-1.8l-.2 .2h-.6l-.4-.1h-1.6l-.4 .1h-1.8l-.2-.3h-.8l-.2 .4h-.8l-.2-.3h-.8l-.2 .2h-.8l-.2-.3h-.8l-.2 .3h-.6l-.4-.1h-.8l-.2 .3l-.3 .1h-.7l-.6-.1l-.2-.3l-.2-.1h-.6l-.4-.1h-5.6l-.4 .1h-1.6l-.4-.1h-.8l-.2 .2h-.8l-.2-.2h-1.8l-.2 .4h-.8l-.2-.3h-2.6l-.4-.1h-3.6l-.4 .1h-.6l-.4 .1h-.8l-.2-.2h-1.8l-.2 .3h-.6l-.4 .1h-.8l-.2-.3h-.6l-.4-.1h-.8l-.2 .3h-.6l-.4-.1h-.6l-.4-.1h-2.6l-.4-.1h-.8l-.2 .2h-.8l-.2-.2h-.8l-.2 .2h-.6l-.4-.1h-.6l-.4 .1h-.8l-.2-.2h-4.8l-.2 .2h-.8l-.2 .2h-.6l-.4-.1h-.8l-.2-.3h-.8l-.2 .2h-.6l-.4 .1h-.8l-.2-.3h-.6l-.4 .1h-.6l-.4 .1h-.6l-.4 .1h-.8l-.2-.3h-.6l-.4 .1h-1.6l-.4-.1h-.6l-.4 .1h-2.8l-.2 .3h-.8l-.2-.4h-1.8l-.2 .2h-1.8l-.2-.2h-.8l-.2 .3h-.8l-.2-.3h-.6l-.4 .1h-.6l-.4-.1h-3.6l-.4 .1h-1.6l-.4-.1h-.6l-.4 .2h-.6l-.4-.1h-.8l-.2 .4h-.8l-.2-.2h-1.8l-.2 .3h-.8l-.2-.4h-.6l-.4-.1h-.6l-.4-.1h-2.8l-.2 .3h-.6l-.4-.1h-.6l-.4-.1h-.6l-.4-.1h-.6l-.4 .1h-.6l-.4-.1h-.8l-.2 .3h-.6l-.4-.1h-.8l-.2-.2h-.6l-.4 .1h-.6l-.4-.1h-.8l-.2 .2h-.6l-.4-.1h-.6l-.4 .1h-.8l-.2-.2h-1.6l-.4 .1h-1.6l-.4-.1h-5.6l-.4 .1h-.8l-.2 .2h-.8l-.2-.3h-2.6l-.4 .1h-.6l-.4-.1h-.6l-.4 .1h-.6l-.4-.1h-2.6l-.4 .1h-.6l-.4-.1h-.8l-.2 .3h-.8l-.2-.2h-.6l-.4-.1h-.8l-.2 .2h-.8l-.2-.2h-.6l-.2 .2l-.5 .6h-1l-.3-.3l-.4-.5h-.8l-.2 .4h-.8l-.2-.4h-.6l-.4 .1h-.6l-.4-.1h-.6l-.4 .1h-.6l-.4-.1h-.6l-.4 .1h-.6l-.4-.1h-1.8l-.2 .3h-.8l-.2-.2h-.6l-.4-.1h-.8l-.2 .4h-.8l-.2-.3h-2.6l-.4-.1h-2.6l-.4 .1h-1.6l-.4-.1h-1.8l-.2 .2h-.8l-.2-.2h-.6l-.4 .1h-.6l-.4-.1h-1.8l-.2 .2h-.8l-.2 .2h-.8l-.2-.4h-1.6l-.4 .1h-.8l-.2 .2h-.8l-.2-.3h-1.8l-.2 .2h-.6l-.4-.1h-.6l-.4-.1h-1.8l-.5 .4l-.3 .4l-.4 1l-.3 .1h-.7l-.6-.1l-.4-1l-.6-.8l-1 .2h-1l-1.2 .2l-.5 .2h-.5l-.2-.3l-.8 .1l-.2 .3h-.3l-.5 .1l-.2-.5h-.8l-.2 .7l-.8 .1l-.2-.2h-.8l-.2-.4h-.6l-.4 .1l-.3 .3l-.7 1.6l-.3 .2h-1l-.3-.2l-.7-1.6l-.3-.3l-.2-.1l-.2-.4h-.8l-.2 .2l-.6-.1l-.4-.1h-.6l-.4-.1h-.6l-.4 .1h-.6l-.4-.1h-1.6l-.4 .1h-.6l-.4-.1h-.6l-.4 .1h-.8l-.2 .3h-.8l-.2-.4h-1.8l-.2 .2h-.8l-.2-.2h-.8l-.2 .2h-.8l-.2-.2h-2.8l-.2 .2h-.6l-.4-.1h-.6l-.4 .1h-.8l-.2-.2h-1.8l-.2 .3h-.8l-.2-.2h-.6l-.4-.1h-2.8l-.2 .4h-1l-.6 1.9l-.4 1.8l-.3 .7h-1l-.3-.7l-.2-.9l-.5-1.9l-.5-.1l-.2 .5h-.3l-.5 .2l-.2-.7h-.8l-.2 .7l-.3-.1h-.5l-.2-.4l-.6-.1l-.4-.3l-.8-.3l-.2 .5l-.6-.2l-.4-.3l-1-.5h-.8l-.2-.2h-.8l-.2 .3h-.8l-.2-.3h-.8l-.2 .3h-.8l-.2-.2h-.6l-.4-.1h-.6l-.4 .1h-.8l-.2 .2h-.8l-.2-.2h-.6l-.4-.1h-.6l-.4 .1h-.6l-.4-.1h-1.6l-.4 .1h-.6l-.4 .1h-.6l-.4 .1h-.8l-.2-.3h-2.8l-.2 .3h-.8l-.2-.3h-6.8l-.2 .3h-.8l-.2-.2h-1.6l-.4-.1h-1.8l-.2 .4h-.8l-.2-.4h-.6l-.4 .1h-.6l-.4-.1h-.6l-.4 .1h-.8l-.2 .2h-.8l-.2-.3h-1.8l-.2 .2h-.6l-.4 .1h-.8l-.2-.3h-.6l-.4 .1h-.6l-.4-.1h-1.8l-.2 .2h-.6l-.4-.1h-.8l-.2 .2h-.6l-.4 .1h-.8l-.2-.4h-.6l-.4 .1h-.6l-.4-.1h-1.6l-.4 .1h-.6l-.4 .1h-1.8l-.2-.2h-.8l-.2 .2h-1.6l-.4 .1h-.8l-.2-.3h-1.6l-.4 .1h-.6l-.4 .1h-.8l-.2-.2h-1.6l-.4 .1h-.6l-.4 .1h-.6l-.4 .1h-.8l-.2-.3h-2.8l-.2 .4h-.8l-.2-.4h-.6l-.4 .1h-2.6l-.4 .1h-.6l-.4-.1h-1.6l-.4-.1h-1.8l-.2 .2h-.8l-.2-.2h-1.6l-.4 .1h-1.6l-.4-.1h-.6l-.4 .1h-2.6l-.4-.1h-.6l-.4 .1h-.6l-.4-.1h-.8l-.2 .2h-.8l-.2-.2h-.8l-.2 .2h-.8l-.2-.2h-.8l-.2 .2h-1.8l-.2-.2h-2.8l-.2 .3h-.6l-.4-.1h-.8l-.2-.2h-.6l-.4 .1h-.6l-.4-.1h-.8l-.2 .4h-.8l-.2-.4h-1.6l-.4 .1h-1.8l-.2 .2h-.8l-.2-.2h-2.8l-.2 .3h-.8l-.2-.4h-.6l-.4 .1h-1.6l-.4-.1h-.8l-.2 .4h-.8l-.2-.4h-.8l-.2 .3h-.8l-.2-.3h-.8l-.2 .3h-.8l-.2-.3h-3.6l-.4 .1h-.6l-.4-.1h-1.6l-.4 .1h-.8l-.2 .3h-.6l-.4-.1h-.6l-.4-.1h-.6l-.4 .1h-.8l-.2-.3h-1.6l-.4 .1h-.6l-.4-.1h-.6l-.4 .1h-2.6l-.4 .1h-.8l-.2-.2h-1.8l-.2 .3h-.8l-.2-.2h-.6l-.4-.1h-.6l-.4 .1h-.6l-.4 .1h-.6l-.4-.1h-1.6l-.4 .1h-1.8l-.2-.2h-.8l-.2 .3h-.8l-.2-.3h-.8l-.2 .2h-.6l-.4-.1h-.8l-.2 .2h-.8l-.2-.3h-1.6l-.4 .1h-.6l-.4-.1h-.6l-.4 .1h-1.8l-.2 .3h-.8l-.2-.4h-2.6l-.4 .1h-.6l-.4-.1h-.8l-.2 .2h-.8l-.2 .2h-.8l-.2-.4h-.8l-.2 .3h-.6l-.4-.1h-.6l-.4-.1h-.6l-.4-.1h-11.6l-.4 .1h-.6l-.4-.1h-1.6l-.4 .1h-1.8l-.2 .2h-.6l-.4 .1h-.8l-.2-.2h-.8l-.2-.2h-1.6l-.4 .1h-.6l-.4-.1h-.8l-.2 .2h-2.8l-.2-.2h-1.8l-.2 .4h-.8l-.2-.4h-1.8l-.2 .2h-.6l-.4-.1h-.6l-.4-.1h-.6l-.4 .1h-.8l-.2 .2h-.8l-.2-.2h-.6l-.4-.1h-.8l-.2 .3h-.8l-.2-.2h-.6l-.4-.1h-1.8l-.2 .2h-.8l-.2-.2h-1.8l-.2 .2h-2.6l-.4 .1h-1.8l-.2-.3h-1.6l-.4 .1h-.6l-.4 .1h-1.8l-.2-.2h-.8l-.2 .2h-.8l-.2-.2h-3.6l-.4 .1h-.8l-.2 .2h-.8l-.2-.2h-.6l-.4-.1h-.6l-.4 .1h-.8l-.2 .3h-.8l-.2-.3h-1.6l-.4-.1h-3.6l-.4 .1h-.6l-.4-.1h-.8l-.2 .2h-.8l-.2-.2h-.8l-.2 .3h-.8l-.2-.2h-.6l-.4-.1h-.8l-.2 .3h-.8l-.2-.3h-.6l-.4 .1h-.8l-.2 .3h-.8l-.2-.3h-.6l-.4-.1h-1.8l-.2 .2h-.8l-.2-.2h-4.8l-.2 .2h-.6l-.4-.1h-.6l-.4-.1h-1.8l-.2 .3h-.6l-.4-.1h-.6l-.4-.1h-.6l-.4-.1h-.8l-.2 .4h-.8l-.2-.3h-.6l-.4 .1h-.6l-.4-.1h-.6l-.4 .1h-.8l-.2-.2h-.6l-.4 .1h-.6l-.4-.1h-.8l-.2 .2h-.6l-.4 .1h-.8l-.2-.3h-.8l-.2 .2h-.8l-.2-.2h-.6l-.4 .1h-.6l-.4-.1h-.8l-.2 .3h-.6l-.4 .1h-.8l-.2-.3h-1.8l-.2 .2h-.8l-.2-.3h-3.8l-.2 .3h-.8l-.2-.3h-.8l-.2 .3h-.8l-.2-.3h-.8l-.2 .2h-1.8l-.2-.2h-.6l-.4 .1h-.6l-.4-.1h-.6l-.4 .1h-.6l-.4-.1h-1.8l-.2 .4h-.8l-.2-.3h-.6l-.4-.1h-.8l-.2 .3h-.8l-.2-.3h-1.8l-.2 .3h-.6l-.4-.1h-.8l-.2-.2h-3.6l-.4 .1h-.8l-.2 .2h-.8l-.2-.3h-.8l-.2 .3h-.8l-.2-.3h-.6l-.4 .1h-.6l-.4-.1h-1.8l-.2 .2h-.8l-.2-.2h-2.8l-.2 .2h-1.6l-.4 .1h-2.8l-.2-.3h-.6l-.4 .1h-.6l-.4-.1h-.6l-.4 .1h-.8l-.2 .2h-.8l-.2-.3h-.6l-.4 .1h-.6l-.4-.1h-.6l-.4 .1h-1.6l-.4-.1h-2.8l-.2 .2h-.6l-.4 .1h-.8l-.2-.3h-.8l-.2 .3h-.8l-.2-.2h-.6l-.4-.1h-2.8l-.2 .3h-.6l-.4-.1h-1.6l-.4-.1h-1.8z"/>
<path fill="#000000" d="M138 449.3h.8l.2-.3h.8l.2 .2l.5-.1l.7-1.9l.3-.5h1l.5 1.1l.5 1.3l.3 .3l.2-.5h.5l.3-.5l.2 .7h.8l.2-.7h.8l.4-.1h1.6l.4 .1h.6l.2 .7h1.8l.2-.2h.8l.4 .1h.6l.4 .1h.6l.2-.5h.8l.2 .5h.8l.2-.5h.2l.3-.2l.5-1.1l.5-.1h.5l.2 .2l.8 1.7l.2 .3h.6l.2-.5h.8l.2 .5h.8l.2-.5h.8l.2 .5h.8l.2-.2h.8l.2 .2h2.8l.2-.3h.8l.4 .1h.6l.2-.2h.8l.2 .3h.8l.4 .1h.6l.2-.5h.8l.2 .4h.8l.4 .1h.6l.2-.3h.8l.4 .1h.6l.2-.4h.8l.2 .5h.8l.2-.4h.8l.2 .2h.8l.2 .2h.8l.4 .1h.6l.4-.1h.6l.4 .1h.6l.2-.5h.8l.4 .1h.6l.2 .4h4.8l.4-.1h.6l.4 .1h2.6l.2-.3h.8l.2 .3h1.8l.4-.1h.6l.4 .1h.6l.4-.1h.6l.4 .1h1.6l.4-.1h.6l.4 .1h.6l.2-.5h.8l.2 .2h.8l.4 .1h.6l.2 .2h3.8l.2-.3h.8l.2-.2h.8l.2 .4h.8l.4-.1h.6l.2 .2h.2l.3-.4l.5-2.3l.5-2.3h1l.5 2.3h.1v1.1h.1l.3 .7h.3l.2-.7h.8l.2 .4h.8l.2 .3h.8l.2 .2h.8l.2-.3h.8l.2-.9h.8l.2 .5h.8l.2-.4l.2 .1l.6 1.3l.2-1l.5 .7l.3 .3h1l.4 .1h.6l.2 .2h.8l.4 .1h.6l.2-.2h.8l.4 .1h.6l.4 .1h.6l.2-.3h.8l.2-.2h.8l.2 .5h5.8l.2-.3h.8l.2 .3h.8l.2-.4h.8l.2 .4h.8l.2-.2h.8l.2-.3h.8l.2 .5h.8l.2-.2h.8l.2 .2h.8l.4-.1h.6l.4 .1h.6l.4-.1h1.6l.4 .1h1.6l.4-.1h1.6l.2-.5h.8l.2 .6h1.8l.4-.1h.6l.4 .1h.6l.2-.2h.8l.2-.3h.8l.2 .2h.8l.2 .3h1.8l.4-.1h.6l.4 .1h.6l.2-.3h.8l.2 .2h.8l.4 .1h.6l.4-.1h.6l.4-.1h.6l.2 .2h.8l.2-.4h.8l.2 .4h2.8l.2-.2h.8l.2-.3h.8l.2 .3h.8l.2 .2h.8l.2-.4h.8l.2 .4h1.8l.4-.1h.6l.2-.3h.8l.2 .3h1.8l.4-.1h.6l.2 .2h1.8l.2-.2h.8l.2 .2h1.8l.2-.4h.8l.2 .3h.8l.4 .1h.6l.2-.2h.8l.2 .2h.8l.2-.4h.8l.2 .4h.8l.2-.2h1.8l.2 .2h1.8l.2-.3h.8l.2 .3h1.8l.4-.1h1.6l.2-.5h.8l.2 .4h.8l.2 .2h.8l.2-.2h.8l.2-.2h.8l.2 .4h8.8l.2-.2h1.8l.4 .1h.6l.2-.4h.8l.2 .2h.8l.2 .3h.8l.4-.1h.6l.2-.5h.8l.2 .4h.8l.4 .1h1.6l.4 .1h2.6l.2-.4h.8l.2 .2h.8l.4 .1h1.6l.2-.3h.8l.2 .2h.8l.2 .2h.8l.2-.3h.8l.2 .3h1.8l.2-.3h.8l.4-.1h.6l.2 .4h1.8l.2-.6h.8l.2 .6h1.8l.4-.1h.6l.4 .1h3.6l.2-.2h.8l.2 .2h2.8l.4-.1h.6l.4 .1h.6l.2-.4h.8l.2 .3h2.8l.4 .1h.6l.4-.1h2.6l.4 .1h.6l.2-.3h.8l.2 .2h.8l.2-.3h.8l.2 .4h.8l.4-.1h.6l.2-.2h.8l.2 .2h1.8l.4 .1h.6l.2-.3h.8l.4 .1h1.6l.4 .1h.6l.2-.3h.8l.2 .4h.8l.2-.4h.8l.2 .3h.8l.4-.1h1.6l.2 .2h.8l.4-.1h.6l.4-.1h.6l.2 .2h.8l.2-.5h.8l.2 .5h.8l.4-.1h1.6l.4 .1h.6l.2-.3h.8l.4 .1h.6l.4-.1h.6l.4-.4l.6-.3l.2 .1l1.5-.6h.5l.5 .1h.3l.2 .7l.8 .2l.2-.6l.8 .4l.2 .5h.8l.4 .1h.6l.4 .1h.6l.2-.3h.8l.2 .3h6.8l.2-.6h.8l.4 .1h.6l.4-.1h.6l.2 .4h.8l.2 .2h.8l.2-.4h.8l.2 .4h.8l.2-.4h.8l.2 .3h.8l.4 .1h4.6l.4-.1h.6l.2-.2h.8l.2 .3h1.8l.4-.1h.6l.4 .1h.6l.2-.2h.8l.2-.3h.8l.2 .5h.8l.4-.1h.6l.4 .1h2.6l.2-.2h.8l.2 .2h.8l.2-.2h.8l.4 .1h.6l.2-.3h.8l.4 .1h.6l.2 .2h.8l.4-.1h.6l.4 .1h.6l.4-.1h.6l.2 .2h1.8l.4-.1h1.6l.2-.2h.8l.4 .1h.6l.2 .2h.8l.2-.2h.8l.2 .2h2.8l.2-.2h.8l.4 .1h.6l.4 .1h.6l.4-.1h2.6l.4 .1h.6l.2-.2h.8l.2 .2h.8l.2-.5h.8l.7-.7h1l.5 .5l.5 .1h.3l.2 .3h.8l.2 .3h2.8l.2-.4h.8l.2 .4h1.8l.2-.5h.8l.4-.1h.6l.2 .3h.8l.2 .2h.8l.4 .1h.6l.4-.1h2.6l.2-.3h.8l.2 .3h.8l.4 .1h1.6l.2-.2h.8l.2 .2h.8l.2-.2h1.8l.2-.3h.8l.2 .5h.8l.2-.4h.8l.2 .4h1.8l.2-.3h.8l.2 .3h.8l.4-.1h1.6l.4 .1h.6l.2-.3h.8l.4-.1h.6l.4 .1h.6l.4 .1h.6l.2 .2h2.8l.2-.3h.8l.2 .2h.8l.4 .1h.6l.2-.3h.8l.2 .2h.8l.4-.7l.6-.1h.7l.3 .1l.4 .7l.6 .1l.2-.5h.8l.2 .5h.8l.4-.1h1.6l.2-.3h.8l.4 .1h.6l.2 .3h1.8l.2-.3h.8l.2-.2h.8l.2 .4h.8l.4 .1h3.6l.4-.1h.6l.2-.2h.8l.4-.1h.6l.2 .4h.8l.4-.1h.6l.2-.3h.8l.2 .3h.8l.4-.1l.3-.5l1.3-5l.2-.7h1.2l.6 1.9l.7 3l.3 .3l.4-.1h.6l.2 .5h.8l.2-.6h.8l.4 .1h.6l.2-.2h.8h.1v1.1h.1h.8h.1v-1.2h.1h.8l.2 .7l.2 .1l.3 .6l.3 .2l.4-.1h.6l.4-.1h.6l.2-.2h.8l.2 .4h4.8l.2-.6h.8l.2 .6h1.8l.2-.2h.8l.2 .2h.8l.2-.3h.8l.2 .2h.8l.4 .1h.6l.2-.4h.8l.4-.1h.6l.2 .3h.8l.2-.2l.5-.8h1l.5 .8l.2 .2h.6l.4-.1h.6l.2 .3h.8l.2-.2h.8l.2 .2h.2l.6-.7l.2-.4l.5-.1h.5l.2 .2l.6 .8l.4-.1h.6l.4 .1h.6l.4 .1h.6l.4-.1h1.6l.4-.1h.6l.2 .3h3.8l.2-.2h.8l.2-.2h.8l.2 .4h.8l.2-.5h1l.2-.4l.6-.1h.7l.3 .1l.4 .7l.3 .2h.3l.2-.6h.8l.2 .3h.8l.2 .2h.8l.4 .1h1.6l.4-.1h.6l.2-.2h.8l.2 .2h1.8l.4-.1h.6l.2-.2h.8l.2 .2h.8l.4-.1h.6l.2-.3h.8l.2 .5h.8l.4-.1h.6l.2-.4h.8l.2 .6h.8l.2-.6h.8l.2 .6h.8l.4-.1h.6l.4 .1h.6l.2-.2h.8l.2 .2h.8l.2-.5h.8l.2 .4h.8l.2-.3h.8l.2 .4h.5l.3-.4l.4-.1h.6l.4-.1h.6l.2 .2h.8l.2-.4h.8l.4 .1h1.6l.2 .5h.8l.2-.5h.8l.4 .1h.6l.2 .6h.8l.2-.8l.2 .1l.3 .5l.3 .2h2l.4-.1h.6l.2-.3h.8l.2-.2h.8l.2 .6h.8l.2-.3h.8l.2 .3h1.5l.5-.5l.2-.4l.6-.1h.7l.3 .1l.2 .4l.2 .2h.6l.4 .1h1.6l.4 .1h.6l.2-.3h.8l.4 .1h.6l.2 .2h.8l.4 .1h.6l.4-.1h1.6l.4 .1h.6l.2-.4h.8l.2 .3h.8l.4 .1h2.6l.4-.1h1.6l.4-.1h.6l.4-.1h1.6l.2 .3h.8l.4-.1h.6l.2-.4h.8l.2 .3h.8l.2 .2h.2l.3-.4l.3-.6l.2-.8h.8l.2 .3h.8l.2 .6h.8l.2-.5h.8l.2-.2h.8l.4-.1h.6l.2 1h1.8l.2-.9h.8l.2 .6h.2l.3 .6l.3 .3l.2-.2h1.8l.2 .3h1.8l.2-.2h.8l.4 .1h.6l.2-.2h.8l.2 .2h.8l.4-.1h1.6l.4 .1h1.6l.4 .1h.6l.2-.5h.8l.2 .4h1.8l.4 .1h.6l.2-.4h.8l.4 .1h.6l.2-.2h.8l.2 .5h.8l.2-.3h.8l.2 .3h3.8l.2-.4h.8l.2 .4h2.8l.4-.1h.6l.4 .1h.6l.2-.3h.8l.2 .2h1.8l.4 .1h.6l.2-.5h.8l.2 .5h.8l1.2-2.2h1.2l.6 1l.4 .9l.3 .3h.3l.2-.4h1.8l.2 .4h2.8l.4-.1h.6l.4-.1h.3l.7-1l.3-.2h1l.5 .5l.5 .8l.5 .1h1.8l1.7-4.9l.3-.6h1.7l.5 1.4l.5 1.5l.7 2.1h.6l.4 .1h.6l.2-.3h.8l.2 .5h.8h.1v-1.1h.1h.8l.2 .9h.8l.2-.4h.8l.2-.3h.8l.2 .8h.8l.2-.2h.8l.2 .4h1.8l.2-.2h.8l.2 .3h2.8l.2-.3h.8l.2 .3h.8l.2-.2h.8l.4 .1h.6l.4 .1h1.6l.2-.3h.8l.2 .3h1.8l.4-1.6l.6-1.8l.4-1.7l.3-.3h1l.3 .3l1 3.5l.2 .6l.5 .5l.5 .3h.8l.2-.2h1.8l.2 .2h.8l.4 .1h1.6l.4 .1h.6l.4-.1h.6l.4-.1h.6l.2-.4h.8l.4 .1h.6l.2 .3h.8l.2 .2h1.8l.2-.4h.8l.2 .3h.8l.2-.3h.8l.2 .3h.8l.4 .1h2.6l.4-.1h.6l.4 .1h.6l.2-.3h.8l.2 .3h1.8l.4-.1h.6l.4-.1h.6l.2-.4h.8l.2 .2h.8l.2 .3h.8l.4-.1h.6l.2 .2h.8l.2-.3h.8l.2 .2h.8l.2-.3h.8l.2 .4h1.8l.2-.4h.8l.2 .4h1.8l.4-.1h.6l.4 .1h1.8l.2-.1l1-1.9l.3-.2h1l.3 .2l.4 1l.6 .9h2l.4-.1h.6l.2 .2h1.8l.2-.5h.8l.2 .3h.8l.4-.1l.6-1.6l.2-.2h.8l.2 .4h.8l.2 .3h.8l.2-.4h1.8l.4 .1h.6l.2 .6h.8l.2-.3l.2 .1l.3 .7l.3 .5h1l.4 .1h.6l.2-.3h.8l.2 .3h2.8l.2-.4h.8l.4 .1h.6l.2-.2h.8l.2 .3h.8l.4-.1h.6l.2 .3h1.8l.2-.6h.8l.4 .1h.6l.2 .4h.8l.2-.3h.8l.2 .4h.8l.2-.3h.8l.4 .1h.6l.2 .2h.8l.4-.1h.6l.4 .1h1.6l.2-.2h.8l.2 .2h.8l.4-.1h1.6l.4 .1h.3l.3-.3l.2-.8h.8l.2 .8h.8l.2-.9h.8l.2 .9h.8l.2-.9h.8l.2 .9h.2l.3 .3l1-.1h1.3l.4-.1h.6l.2 .2h6.8l.4-.1h.6l.4 .1h1.3l.5-1.1l.8-1.9l.2-.5h1.2l1 2.5l.3 .3h.3l.2 .5h.8l.2-.5h.8l.4 .3l.3 .4h.3l.2-.2h.8l.2-.3h.8l.2 .3h.8l.4-.1h.6l.2-.3h.8l.2 .4h1.8l.4 .1h.6l.4 .1h.6l.2-.5h.8l.2 .5h1.8l.2-.4h.8l.2 .3h.8l.4 .1h1.6l.2-.3h.8l.2 .3h1.8l.2-.4h.8l.4-.1h.6l.2 .5h2.8l.2-.5h.8l.2 .5h.8l.2-.4h.8l.4-.1h.6l.2 .5h.8l.2-.3h.8l.2 .2h.8l.4-.1h.6l.2 .2h.8l.2-.3h.8l.2 .3h.8l.2-.2h.8l.2-.4h.8l.2 .6h.8l.4-.1h.6l.4 .1h.6l.2-.2h.8l.2-.2h.8l.2 .4h.8l.2-.2h.8l.2 .2h3.8l.2-.3h.8l.2 .3h1.2l.3-.2l.3-.5l.4-.1h.6l.2 .7h.8l.2-.7h.8l.2 .3h.8l.2-.1l.2-.5l.8-2.1l.2-.2h.8l.2 .3l.8 2.1l.2 .8h.6l.2-.4h.8l.2 .5h.5l.3-.2l.7-2.1h1l.5 1.4l.2 .6h.6l.4-.1l.3 .5h1.3l.2-.5h.8l.4-.1h.6l.2 .6h3.8l.2-.4h.8l.2 .3h.8l.4 .1h.6l.4-.1h.6l.4 .1h1.6l.4-.1h.6l.4 .1h.6l.2-.3h.8l.2 .3h.8l.4-.1h.6l.2-.2h.8l.2 .3h.8l.4-.1h.6l.4 .1h.6l.4-.1h.6l.4 .1h.6l.4-.1h.6l.4 .1h.6l.4-.1h.6l.4 .1h.6l.2-.2h.8l.4 .1h.6l.4 .1h1.6l.2-.5h.5v4.2h-1.5l-.2 .2h-1.8l-.2-.2h-1.8l-.2 .2h-.6l-.4 .1h-.8l-.2-.3h-3.8l-.2 .5h-.8l-.2-.3h-1.8l-.2-.2h-.8l-.2 .4h-.8l-.2-.2h-.8l-.2-.2h-.8l-.2 .2h-.8l-.2-.2h-5.8l-.2 .3h-.8l-.2-.3h-1.8l-.2 .2h-.8l-.2-.2h-.8l-.2 .2h-1.8l-.2-.2l-.3 .4l-.3 .6l-.2 .1l-.2-.6h-.6l-.2 .4l-.5 1.4h-1l-.5-1.4h-1l-.2-.5h-.8l-.2 .2h-.6l-.2 .3l-.2 .8l-.6 1.4l-.2 .2h-.5l-.5-.1l-1-2.8l-.2-.1h-1.8l-.2 .3h-.8l-.2 .3h-.6l-.4-.1l-.3-.5l-.3-.2l-.4-.1h-2.6l-.4 .1h-.8l-.2 .2h-.8l-.2-.3h-.6l-.4 .1h-.6l-.4-.1h-.8l-.2 .2h-.8l-.2 .4h-.8l-.2-.2h-.8l-.2-.3h-.8l-.2 .3h-.8l-.2-.4h-.6l-.4 .1h-.6l-.4 .1h-.6l-.4-.1h-.8l-.2 .4h-.8l-.2-.5h-.8l-.2 .3h-.8l-.2-.2h-1.8l-.2 .2h-.6l-.4-.1h-.8l-.2-.2h-.6l-.4 .1h-.8l-.2 .2h-.8l-.2-.3h-.6l-.4 .1h-.6l-.4-.1h-.6l-.4 .1h-.6l-.4-.1h-1.8l-.2 .2h-.6l-.4 .1h-.8l-.2-.3h-1.6l-.4 .1h-.6l-.4-.1h-1.6l-.4 .1h-.6l-.4-.1h-.8l-.2 .5h-.8l-.2-.4h-1.8l-.2 .3h-.8l-.2-.4h-2.8l-.2 .2h-.8l-.2 .3h-.3l-.3 .5l-.2 .1l-.2-.1h-.8l-.2-.4h-.8l-.2-.2h-.3l-.5 1.2l-.5 1.3l-.3 .5h-1.2l-.2-.4l-1-2.6l-.3-.3h-.5l-.2 .2h-1.6l-.4 .1h-.8l-.2-.4h-.8l-.2 .2h-1.6l-.4-.1h-.8l-.2 .5h-.8l-.2-.2h-.8l-.2-.4h-1.8l-.2 .5h-.8l-.2-.5l-.3 .2l-.3 .5l-.2 .1l-.2-.6h-.8h-.1v1.1h-.1h-1.8l-.2-.6h-.8l-.2 .3h-.8l-.2-.3l-.3-.6l-.3-.1l-.4 .1h-.8l-.2 .2h-.8l-.2-.3h-.8l-.2 .2h-.8l-.2 .2h-.8l-.2-.4h-4.8l-.2 .2h-.8l-.2 .2h-.8l-.2-.4h-.8l-.2 .2h-.8l-.2 .2h-.8l-.2-.3h-1.6l-.4-.1h-1.6l-.4 .1h-1.8l-.2 .2h-1.8l-.2-.3h-1.6l-.4 .1h-.6l-.4-.1h-.6l-.4 .1h-.8l-.2 .5l-.6 1.8l-.2 .1l-.2-1h-.6l-.4-.1h-.8h-.1v1.2h-.1h-.6l-.4-.1h-.8l-.2-1h-.8l-.2 .4h-.8l-.2-.3h-.8l-.2 .4l-.6-1.7l-.2-.3h-2.8l-.4 .1h-.8l-.2 .3h-.8l-.2-.4h-.8l-.2 .3h-.6l-.4-.1l-.6 .8l-.4 1l-.3 .1h-.7l-.6-.1l-1-1.9l-.2-.1l-.2 .5h-.6l-.4-.1h-.8l-.2-.4h-1.6l-.4 .1h-.8l-.2 .2h-.8l-.2-.3h-1.8l-.2 .2h-.8l-.2 .3h-.8l-.2-.4h-.6l-.4-.1h-4.8l-.2 .3h-.8l-.2-.2h-1.8l-.2 .3h-.8l-.2-.4h-3.6l-.4 .1h-.6l-.4-.1h-.6l-.4 .1h-.8l-.2 .4h-.8l-.2-.5h-.6l-.4 .1h-.6l-.4-.1h-.8l-.2 .3h-.8l-.2-.3h-1.8l-.2 .5h-.8l-.2-.3h-.8l-.2-.2h-.8l-.2 .2h-.8l-.2-.2h-1.6l-.4 .1h-.6l-.4 .1h-.8l-.2-.2h-.8l-.2 .6h-.8l-.2-.6h-.3l-.5 .3l-.2 .9l-.3 .4l-.7 2.1l-.3 .2h-1l-.3-.2l-1.2-3.5l-.2-.2h-.6l-.4 .1h-.8l-.2 .3h-1.8l-.2-.4h-.6l-.4 .1h-.8l-.2 .5h-.8l-.2-.6h-.8l-.2 .2h-.6l-.4-.1h-.6l-.4-.1h-2.8l-.2 .2h-1.6l-.4-.1h-.6l-.4-.1l-.3 .3l-.3 .6l-.4 .2h-.8l-.2-.7h-.8l-.2 .8h-.8l-.2-.2h-.8l-.2-.3h-.8l-.2-.4h-.8l-.2 .8h-.6l-.4 .1l-.3-.7l-.3 .3l-1.2 4l-.5 1.5h-1.7l-.3-.6l-.5-1.6l-.5-1.5l-.7-2.4l-.3-.2h-.5l-.2 .2h-.8l-.2-.2l-.3 .1l-.7 1.1l-.3 .1h-.7l-.6-.1l-.7-1.1l-.3-.1h-1.2l-.2 .3h-.8l-.2-.3h-4.3l-.3 .3l-.4 .9l-.6 .9h-1.2l-.2-.3l-.3-.5l-.5-.9l-.2-.1h-.8l-.2-.3h-.8l-.2 .5h-1.8l-.2-.5h-1.8l-.2 .4h-.6l-.4-.1h-.6l-.4 .1h-.8l-.2-.4h-1.8l-.2 .5h-.8l-.2-.2h-.6l-.4-.1h-.8l-.2-.2h-.8l-.2 .2h-.8l-.2-.2h-.8l-.2 .3h-.8l-.2-.3h-4.8l-.2 .5h-.6l-.4-.1h-.8l-.2-.2h-.6l-.4-.1h-.6l-.4-.1h-1.6l-.4 .1h-.6l-.4-.1h-1.6l-.4 .1h-.8l-.2 .2h-.8l-.2-.3h-1.6l-.4 .1h-.6l-.4 .1h-.8l-.2-.2l-.3 .5l-.3 .7h-.2l-.2 .6h-.8l-.2-.4h-.8l-.2 .3h-.8l-.2-.4h-.6l-.4 .1h-.6l-.4 .1h-.8l-.2 .3h-.8h-.1v-1.1h-.1h-.8l-.2 .2h-.8l-.2 .3l-.3-.7h-.5l-.2-.2h-.8l-.2-.3h-.8l-.2 .2h-.8l-.2-.2h-.8l-.2 .2h-.6l-.4-.1h-.8l-.2 .2h-.8l-.2-.2h-.6l-.4-.1h-5.8l-.2 .3h-.6l-.4 .1h-.8l-.2-.4h-1.6l-.4 .1h-.8l-.2 .2h-.8l-.2-.2h-.6l-.4-.1h-1.6l-.4 .1h-.6l-.4 .1h-.6l-.4 .6l-.3 .1h-.7l-.6-.1l-.4-.6l-.3-.1h-1.5l-.2 .4h-.8l-.2-.5h-1.8l-.2 .3h-.8l-.2 .2h-.8l-.2-.5h-2.3l-.3 .6h-.2l-.2-.3h-1.8l-.2 .3h-1.8l-.2 .5h-.8l-.2-.7h-.8l-.2 .7h-.8l-.2-.2h-.8l-.2-.9h-.8l-.2 .2h-.8l-.2-.2h-.6l-.4 .1h-.6l-.4 .1h-.8l-.2-.2h-.8l-.2 .2h-.8l-.2-.2h-1.8l-.2 .5h-.8l-.2-.2h-1.8l-.2-.3h-1.8l-.2 .2h-.6l-.4-.1h-4.6l-.4 .1h-1.8l-.2 .2h-.8l-.2-.4h-.6l-.4 .1h-.8l-.2 .2h-.8l-.2-.3h-.6l-.4 .1h-.6l-.4-.1h-2.3l-.3 .2l-.4 .6l-.3 .1h-.7l-.6-.1l-.2-.3l-.2-.1h-.8l-.2-.4h-3.8l-.2 .6h-.8l-.2-.4h-1.8l-.2-.2h-1.6l-.4 .1h-1.6l-.4-.1h-1.8l-.2 .2l-.6 .8l-.2 .1h-1l-.5-.8l-.5-.1l-.2-.2h-.8l-.2 .2h-.6l-.4-.1h-.8l-.2 .5h-.8l-.5 .5h-1l-.3-.3l-.4-.8h-.8l-.2 .5h-.8l-.2-.4h-1.6l-.4-.1h-1.8l-.2 .4h-.8l-.2-.2h-.8l-.2-.2h-.8l-.2 .5h-.8l-.2-.4h-.6l-.4-.1h-2.8l-.2 .2h-.8l-.2 .4h-.8l-.2-.6h-1.8l-.2 .2h-.8l-.2-.2l-.6 1.4l-.2 .1l-.2-.2h-.8l-.2-.7h-.6l-.4 .1h-.8l-.2 .9h-.8l-.2-.5h-.8l-.2-.5h-.8l-.2 .4h-.8l-.2-.6l-.3 .7l-.5 1.7l-.5 1.8l-.3 .7h-1.2l-.2-.6l-.3-.8l-1-3.5l-.3-.4h-.2l-.2 .4h-.8l-.2-.4h-.8l-.2 .2h-.8l-.2-.2h-2.8l-.2 .2h-.6l-.4-.1h-.6l-.4-.1h-.8l-.2 .3h-.8l-.2-.3h-1.8l-.2 .3h-.8l-.2-.3h-1.6l-.4 .1h-1.6l-.4-.1h-1.8l-.2 .2h-.8l-.2 .4h-1.8l-.2-.6l-.6 .1l-.4 .6l-.3 .1h-1l-.5-.3l-.2-.4l-.3-.1h-1.5l-.2 .6h-.8l-.2-.4h-.8l-.2-.2h-.6l-.4 .1h-1.6l-.4-.1h-1.8l-.2 .5h-.8l-.2-.5h-1.6l-.4 .1h-.6l-.4 .1h-.8l-.2-.2h-.6l-.4 .1h-.6l-.4-.1h-.8l-.2 .2h-1.8l-.2 .3h-.8l-.2-.5h-.8l-.2 .5h-1.6l-.4-.1h-.8l-.2-.4h-3.8l-.2 .5h-.8l-.2-.3h-.8l-.2 .2h-.8l-.2-.4h-2.6l-.4 .1h-.6l-.4 .1h-.6l-.4 .1h-1.8l-.2-.2h-.6l-.4-.1h-.8l-.2 .4h-.6l-.4-.1h-.6l-.4-.1h-.8l-.2-.2h-.8l-.2 .5h-.8l-.2-.2h-.6l-.4 .7l-.3 .1h-.7l-.6-.1l-.4-.7h-.8l-.2-.2h-.6l-.4-.1h-2.8l-.2 .2h-.6l-.4 .1h-.6l-.4 .1h-.8l-.2-.3h-.6l-.4-.1h-1.8l-.2 .4h-.8l-.2-.4h-.8l-.2 .2h-.8l-.2-.2h-1.8l-.2 .2h-.8l-.2 .3h-.8l-.2-.4h-1.8l-.2 .2h-.8l-.2-.3h-.8l-.2 .3h-.8l-.2 .2h-.8l-.2-.5h-1.8l-.2 .4h-.6l-.4-.1h-.8l-.2-.2h-.6l-.4-.1h-.8l-.2 .3h-.6l-.4 .1h-.8l-.2-.4h-.8l-.2 .4h-.8l-.2-.3h-.6l-.4-.1h-.6l-.4 .1h-.8l-.2 .3h-1.8l-.2-.4h-1.6l-.4 .1h-1.6l-.4-.1h-.8l-.2 .4h-.8l-.2-.4h-.8l-.2 .3h-.8l-.2-.3h-.8l-.2 .2h-.8l-.2 .3h-1.8l-.2-.5h-.8l-.2 .5h-.8l-.2-.2h-.8l-.2-.3h-1.6l-.4 .1h-.8l-.2 .4h-.8l-.2-.4h-.6l-.4-.1h-2.8l-.2 .2h-.6l-.4 .1h-.8l-.2 .2h-.8l-.2-.5h-1.3l-1 .1l-1-.1l-.5 .2l-.2 .5l-.3 .1l-.5 .3l-.2-.5l-.8 .2l-.2 .6l-.3 .1h-.5l-.2-.3h-.3l-.5-.1l-.2 .1l-.8-.3l-.5-.5l-1-.4h-2.5l-.2 .5h-.8l-.2-.2h-.8l-.2-.3h-1.8l-.2 .2h-.8l-.2 .2h-.8l-.2-.4h-3.6l-.4 .1h-.8l-.2 .2h-.6l-.4 .1h-1.8l-.2 .2h-.6l-.4-.1h-1.8l-.2-.5h-.8l-.2 .4h-.8l-.2-.3h-.6l-.4-.1h-2.8l-.2 .4h-.8l-.2-.4h-.8l-.2 .2h-.6l-.4-.1h-.6l-.4-.1h-1.8l-.2 .3h-.8l-.2-.3h-.6l-.4 .1h-.8l-.2 .4h-.8l-.2-.4h-.6l-.4 .1h-.8l-.2-.2h-2.6l-.4 .1h-.6l-.4-.1h-.8l-.2 .5h-.8l-.2-.5h-.8l-.2 .2h-.6l-.4-.1h-.6l-.4-.1h-.8l-.2 .4h-.8l-.2-.3h-.6l-.4-.1h-.8l-.2 .5h-.8l-.2-.5h-.8l-.2 .4h-.8l-.2-.4h-.6l-.4 .1h-.6l-.4-.1h-1.8l-.2 .4h-1.8l-.2-.4h-.8l-.2 .4h-.8l-.2-.4h-.8l-.2 .6h-.8l-.2-.6h-.8l-.2 .6h-.8l-.2-.5h-.6l-.4 .1h-.8l-.2-.2h-.6l-.4 .1h-.6l-.4 .1h-.8l-.2-.2h-1.6l-.4 .1h-.6l-.4-.1h-.8l-.2 .2h-.8l-.2-.2h-1.8l-.2 .2h-.8l-.2 .3h-.8l-.2-.5h-.8l-.2 .6h-.8l-.2-.6h-2.8l-.2 .2h-1.8l-.2-.2h-5.6l-.4 .1h-.6l-.4-.1h-.8l-.2 .5h-.8l-.2-.5h-.8l-.2 .2h-.8l-.2-.2h-1.8l-.2 .3h-1.8l-.2-.2h-.6l-.4 .1h-.6l-.4 .1h-.8l-.2-.2h-1.6l-.4-.1h-.8l-.2 .4h-.8l-.2-.2h-.8l-.2 .3h-.8l-.2-.5h-1.8l-.2 .3h-.8l-.2-.3h-2.6l-.4 .1h-.8l-.2 .2h-.8l-.2-.2h-.6l-.4-.1h-.8l-.2 .2h-.8l-.2-.2h-1.8l-.2 .2h-.6l-.4-.1h-.6l-.4-.1h-5.8l-.2 .5h-.8l-.2-.5h-.6l-.4 .1h-.8l-.2 .4h-1.8l-.2-.4h-.6l-.4 .1h-.8l-.2-.2h-1.8l-.2 .3h-.8l-.2 .2h-.8l-.2-.5h-1.6l-.4 .1h-.6l-.4 .1h-.8l-.2 .4h-.8l-.2-.4h-.8l-.2-.2h-.6l-.4 .1h-1.6l-.4-.1h-.6l-.4 .1h-.8l-.2 .4h-.8l-.2-.3h-.8l-.2-.2h-.8l-.2 .4h-.8l-.2-.4h-.8l-.2 .2h-.8l-.2 .2h-.8l-.2-.4h-.6l-.4 .1h-1.6l-.4-.1h-1.6l-.4 .1h-.6l-.4 .1h-.8l-.2-.2h-1.6l-.4 .1h-.6l-.4-.1h-4.8l-.2 .4h-.8l-.2-.4h-3.8l-.2 .4h-1.8l-.2-.4l-.3 .2l-.5 .6l-.2-.8l-.6 1.1l-.2 .1l-.2-.5h-.8l-.2 .7h-.8l-.2-.6h-.8l-.2 .3h-.8l-.2 .5h-.8l-.2 .3h-.8l-.2 .2h-.8l-.2-.4l-.6-.1l-.2 .8l-.5 2.1h-1l-.5-2.1l-.5-2.1l-.3-.2l-.4-.1h-.8l-.2 .4h-.8l-.2-.4h-2.8l-.2 .4h-.6l-.4-.1h-.8l-.2-.3h-1.6l-.4 .1h-.6l-.4-.1h-1.8l-.2 .4h-.8l-.2-.4h-2.8l-.2 .5h-.8l-.2-.5h-.6l-.4 .1h-.6l-.4-.1h-2.6l-.4 .1h-.6l-.4-.1h-.6l-.4 .1h-2.6l-.4-.1h-.8l-.2 .4h-.8l-.2-.4h-.6l-.4 .1h-.6l-.4-.1h-1.8l-.2 .2h-.6l-.4-.1h-.6l-.4-.1h-1.8l-.2 .3h-.8l-.2-.3h-.8l-.2 .5h-1.8l-.2-.5h-.8l-.2 .5h-.8l-.2-.5h-.8l-.2 .5h-.8l-.2-.5h-.8l-.2 .3h-.8l-.2 .2h-.8l-.2-.4h-.6l-.4-.1h-2.8l-.2 .3h-.8l-.2 .2h-.8l-.2-.5h-.8l-.2 .6h-.8l-.2-.6h-2.6l-.2 .3l-.2 .5l-.6 1.2l-.2 .1h-1l-.8-1.7l-.2-.1l-.2 .6h-1.8l-.2-.8h-1.8l-.2 .4h-.8l-.2 .5h-1.8l-.2-.6h-.8l-.2-.2h-.8l-.2 .2h-.8l-.2 .7h-.8l-.2-.3h-.6l-.4 .1l-.3-.6l-.3-.2l-.4-.1l-.3 .3l-.7 1.9l-.3 .4h-1l-.3-.4l-.7-1.9l-.3-.3h-.2l-.2 .2h-.8l-.2-.2h-.8z"/>
<path fill="#ff0000" d="M138 480.9h1.8l.4-.1h.6l.4 .1h2.6l.2-.2h.8l.2 .2h2.8l.2-.3h.8l.2 .2h.8l.4-.1h.6l.2 .2h1.8l.4-.1h3.6l.4 .1h.6l.2-.4h.8l.4 .1h.6l.2 .3h3.8l.4-.1h.6l.4 .1h2.6l.2-.3h1.8l.2 .2h.8l.4 .1h1.6l.4-.1h.6l.4 .1h.6l.4-.1h.6l.4 .1h.6l.2-.2h.8l.4 .1h.6l.4-.1h.6l.2 .2h.8l.4-.1h.6l.4 .1h1.6l.4-.1h.6l.4 .1h.6l.4-.1h.6l.4 .1h1.6l.2-.4h.8l.2 .4h.8l.2-.3h.8l.2 .2h.8l.4-.1h.6l.4-.1h.6l.2 .3h1.8l.2-.3h.8l.2 .2h.8l.2-.2h.8l.2 .3h.8l.2-.2h.8l.4-.1h.6l.2 .2h1.8l.4 .1h2.6l.2-.2h.8l.2 .2h.8l.4-.1h.6l.4 .1h.6l.4-.1h2.6l.4-.1h.6l.4-.1h.6l.2 .3h1.8l.4-.1h.6l.4-.1h2.6l.2-.2h.8l.2 .3h.8l.4-.1h.6l.4 .1h1.6l.4 .1h1.6l.2-.2h.8l.2 .2h6.8l.2-.2h.8l.4-.5l.6-.1h.7l.3 .1l.4 .5h.6l.4 .1h.6l.4 .1h.6l.4-.1h.6l.2-.3h.8l.2 .2h1.8l.4 .1h1.6l.4 .1h.6l.4-.1h.6l.4 .1h.6l.2-.3h.8l.2 .3h.8l.4-.1h.6l.4 .1h.6l.4-.1h1.6l.2-.2h.8l.4-.1h.6l.4 .1h.6l.2 .3h1.8l.2-.2h.8l.2 .2h.8l.2-.2h1.8l.4 .1h.6l.4-.1h1.6l.2 .2h1.8l.2-.2h.8l.2 .2h3.8l.2-.2h.8l.4-.1h.6l.2 .3h1.8l.4-.1h.6l.4 .1h.3l.5-1l.2-.2h.8l.2 .3l.6 .9l.4-.1h1.6l.4-.1h.6l.2 .2h.8l.2-.3h.8l.4 .1h.6l.2 .2h2.8l.2-.3h.8l.2 .3h.8l.4-.1h.6l.4 .1h.6l.2-.2h.8l.2 .2h.8l.2-.3h.8l.2 .3h.5l.3-.1l.4 .1l.6-.2l.2-.3l.5-.2h.3l.2 .3h.2l.6-.9l.4-1.1l.6-.1h.7l.3 .1l.4 1.1l.6 1.1l.2 .2h6.8l.2-.2h.8l.2 .2h.8l.4-.1h.6l.4 .1h1.6l.4-.1h1.6l.2-.2h.8l.2 .3h.8l.2-.2h.8l.4-.1h.6l.2 .3h3.8l.4-.1h.6l.4 .1h5.6l.4-.1h.6l.4 .1h.6l.2-.2h.8l.2 .2h.8l.2-.2h.8l.2 .2h.8l.2-.2h1.8l.2 .2h3.8l.2-.2h.8l.2 .2h1.8l.2-.2h.8l.4 .1h1.6l.4 .1h3.6l.2-.2h.8l.2 .2h.5l.3-.2l.2-.4l.5-.3l.3-.2l.2 .4l.8-.4l.2-.6l.8-.3l.2 .4h.8l.2-.2l.8 .2l.2-.1l.5 .2l.3 .2l.2 .8l.8 .4l.2-.4l.5 .4l.5 .1h1.8l.4-.1h.6l.2-.2h.8l.2 .3h1.8l.2-.4h.8l.2 .3h1.8l.4 .1h5.6l.4-.1h.6l.4 .1h.6l.2-.2h.8l.4 .1h.6l.4 .1h.6l.2-.3h.8l.4 .1h.6l.2 .2h1.5l.3-.2l.2-.8l.2-.6l.6-.5l.2-.4l.5-.5l.5-.6l.5-.5l.5-.1h.8l.2 .2h.8h.1v-3.8h.1h1.8h.1v4.9h.1h.5h.1v-7.4h.2h.1v-8h.1h.8l.4 .1h.6l.2 .1h.1v6h.1l.6 .2h.2l.5 6.5l.5 .5h.1v2.5h.1l.3 .9l1.5 .3l.5 .1l.3 .2l.2 .8l.5 .1h2.3l.4-.1h.6l.2-.2h.8l.2 .3h1.8l.2-.3h.8l.2 .1l.2-.1l.8-3.3h.1v-2.1h.1h.2v-1.3h.1l1-.6l.3 .1l.4 .5l.3 .1l.3 .8l.4 2.3l.6 1.1l.4 .8l.8 1.4l.2 .3h.6l.2 .2h2.8l.2-.2h1.8l.2 .2h1.8l.2-.2h.8l.2-.7l.2-.9l.3-.5h.7l.3 .3l.5 1.8l.5 .1l1-.1h1.3l.2-.5l.8-2.6l.2-.5h.8l.2 .3l.5 1.8l.3 .8l.2 .6h.8l.2 .2h.8l.4-.9l.3-.3h1l.3 .3l.4 .9h.6l.4 .1h1.6l.4-.1h.6l.4 .1h1.6l.2-.3h.8l.2 .2h.8l.4 .1h.6l.4-.1h.6l.4 .1h1.6l.2-.4h.8l.4 .1h.3l.3-.4l1-4.1l.4-2l.6-.1h.7l.3 .1l1 4h.1v1.1h.1l.2 .4h.6l.2 .6h.8l.2-.6h.8l.2-.8h.8l.2 .2h.8l.2 .4l.2 .1l.6 1.3l.4 .1h2.6l.4-.1h1.6l.4-.1h.6l.4-.1h.6l.2 .3h.8l.2-.4h.8l.2 .4h.8l.4-.1h1.6l.4 .1h3.6l.4-.1h.6l.4 .1h.6l.2-.2h.8l.4 .1h.6l.4 .1h.6l.2-.3h.8l.2 .3h1.8l.2-.2h.8l.2-.2h.8l.2 .2h.8l.4 .1h.6l.4 .1h.6l.2-.4h.8l.2 .4h.8l.4-.1h1.6l.4 .1h1.6l.2-.2h.8l.2 .2h.8l.4-.1h.6l.4 .1h1.6l.2-.2l.5-1.1h1l.5 1h.8l.4 .1h.6l.2 .2h1.8l.4-.1h.6l.4-.1h.6l.2 .2h1.8l.4-.1h.6l.4-.1h.3l.3-.2l.7-3.7h1l.5 2.5l.2 .4h.6h.1v-1.3h.1l.2-.5h.2v-1.3h.1h1h.1v1.3h.2l.2 1h.8l.2 .4l.5-2.5h1l.5 2.5h.1v1.1h.1l.3 .4h.3l.2-.2h.8l.2 .3h1.8l.2-.2h.8l.2 .2h.5l.3-.2l.7-2.1l.3-.8l.2-.2h.8l.2 .1l.8 2.1l.2 .8l.2 .3h1.6l.4-.1h.6l.4-.1h.6l.4 .1h.6l.4 .1h1.6l.4-.1h1.6l.4 .1h4.3l.7-1.2l.6-.1h.7l.3 .1l.4 .8l.3 .3l1-.1h.3l.2 .2h.8l.4-.1h.3l.3-.2l.2-.7l.8-1.2l.2 .3l.8-.9l.2-.8l.2-.3l.8-.3l.8 .3h.1v1.4h.1l.5 .4l.3 .3l.2-.4l.8 1.2l.2 .8l.2 .2h.6l.2-.2h.8l.2 .2h1.8l.4-.1h.6l.2-.2h.5l1-1.1l.3-.3l.2-1l.5-.5l.3-.2l.2 .2h.8h.1v1.2h.1l.8 .5l.2-.7l.8 1l.2 .7l.5 .5h.3l.2-.3h.8l.2 .3l.2-.1l.6-.6h.1v-1.1h.1l.5-.5l.3-.2l.2 .3l.5 .1l.3 .2l.2 .7l.8 .9l.2 .2h.8l.4 .1h2.6l.7-.2l.7-1.3l.6-.1h.7l.3 .1l.4 .9l.3 .2h.3l.2 .2h.8l.2 .2h1.8l.4-.1h.6l.4 .1h1.6l.4-.1h.6l.4 .1h.6l.4-.1h1.6l.4-.1h1.6l.4 .1h1.6l.4 .1h.6l.4-.1h1.6l.4 .1h.6l.4-.1h.6l.4 .1h1.6l.4-.1h.6l.4-.1h.3l.3-.4l.7-2.5h1l.7 2.5l.3 .3h.3l.2 .3h.8l.4-.1h.6l.4 .1h.6l.4-.1h3.6l.4-.1h.6l.2 .2h1.8l.4-.1h.6l.4-.1h.6l.2 .2h2.8l.2-.2h1l.8-.6l.2 .5l.5-.4l.3-.1l.2-.4l.5-.3l.3-.2l.2-.6l.8-.6l.2 .2l.5-.3h.1v-5h.2h.1v-2.5h.1h2h.1v2.5h.1h.2v4.1h.1l.3 .1l.4-.1l.6 .2h.1v1.1h.1l.8 .3l.2-.8l.5 .4l.3 .1l.2 .9l.5 .3l.3 .2l.2-.2l.8 .6l.2 .4l.5 .3l1-.1l1 .1l1 .1h2.3l.4-.1h.6l.4 .1h3.6l.2-.2h.8l.2 .2h1.8l.2-.3h.8l.4-.1h.6l.4 .1h.6l.2 .2h.8l.4 .1h1.6l.2-.3h.8l.2 .2h.8l.4 .1h.6l.2-.2h.8l.2 .2h.8l.4-.1h.6l.4 .1h.6l.2-.3h.8l.4 .1h.6l.2 .2h.8l.2-.2h.8l.4 .1h.6l.2-.3h.8l.2 .4h.8l.2-.2h.8l.4 .1h1.6l.4 .1h.6l.2-.2h.8l.4 .1h.6l.4-.7l.6-.1h.7l.3 .1l.2 .3l.5 .1h.3l.2 .2h.8l.4 .1h.6l.4-.1h.6l.2 .2h.8l.2-.2h.8l.2 .2h5.8l.2-.3h.8l.2 .3h.8l.2-.3h.8l.2 .3h.8l.2-.4h.8l.2 .3h.8l.4 .1h4.6l.4-.1h.6l.4 .1h.6l.4-.1h.6l.2-.3h.8l.2 .4h1.5l.5-1l.5-1.1l.3-.5h1.2l.5 .9l.5 1.1l.2 .5h.6l.4 .1h.6l.2-.3h.8l.2 .2h.8l.4-.1h.6l.4 .1h6l.3-.3l.5-2.1l.8-3.1l.2-.3h.8l.2 .1l.5 2l.7 3.2l.3 .5h1.3l.4-.1h.6l.4 .1h.6l.4 .1h1.6l.2-.3h.8l.4 .1h.6l.4 .1h.6l.4 .1h.6l.2-.3h.8l.4-.1h.6l.4 .1h.6l.4 .1h.6l.2 .2h.8l.4-.1h.6l.4 .1h.6l.2-.2h.8l.4 .1h.6l.4 .1h.6l.4-.1h3.6l.4 .1h3.6l.2-.4h.8l.2 .4h1.8l.2-.2h.8l.2 .2h.8l.4-.1h.6l.4 .1h.6l.4-.1h.6l.4 .1h.6l.4-.1h.6l.4-.1h1.6l.2 .2h.8l.4-.1h.6l.4 .1h.6l.4-.1h.6l.4-.1h.6l.2 .2h.8l.2-.2h.8l.2 .2h1.8l.4-.1h.6l.4 .1h.6l.4-.1h.6l.4 .1h1.6l.2-.2h.8l.2 .2h.8l.2-.3h.8l.4 .1h.6l.4 .1h.6l.4 .1h.6l.4-.1h.6l.2-.2h.8l.2 .1l1.2-3.5l.3-.2h1l.3 .2l.7 2.1l.5-.9h.8l.4 .1h.6l.2 .8h.8l.4-.8l.3-.2h1l.3 .2h1l.2 .3l.2 .1l.6 1.7l.4 .1h.6l.2 .2h.8l.4-.1h.6l.4-.1h.6l.4-.1h.6l.4 .1h.6l.2 .2h1.8l.4-.1h.6l.4 .1h.6l.4-.1h.6l.4 .1h.6l.2-.3h.8l.2 .3h.8l.4-.1h.6l.4 .1h.6l.2-.4h.8l.2 .4h.8l.2-.2h.8l.2 .2h.8l.2-.2h.8l.2-.1l.8-1.5l.2-.3h1.2l.6 .9l.4 1l1 .2h.6l.2-.2h.8l.4 .1l.6-.4l.2-.9l.5-.5l.5-.4l.8-.3l.2 .9h.5l.3 .1l.2-.6l.8 .6l.2 .6l.8 .7l1 .1l.2 .2h2.8l.2-.3h1.8l.2 .2h2.8l.4-.1h.6l.2 .2h.5l.3-.4l.4-1.2l.8-2l.2-.5h1.6l.2 .5l1 2.6l.2 .6l.3 .4h.3l.2-.2h1.8l.2 .2h.8l.2-.4h1.8l.2 .4h1.8l.4-.1h.6l.4-.1h.6l.2 .2h1.8l.2-.2h.8l.4-.1h.6l.2 .3h3.8l.4-.1h.6l.4 .1h.6l.2-.3h.8l.2 .2h.8l.2-.3h.8l.2 .2h.8l.2 .2h1.8l.2-.2h1.8l.2 .2h1.8l.4-.1h.6l.4-.1h.6l.2 .2h2.8l.2-.3h.8l.4 .1h.6l.2 .2h.8l.2-.3h.8l.2 .2h.8l.4-.1h.6l.4-.1l.6-.1l.4-.8l.6-.1h.7l.3 .1l.4 .8l.3 .3h1.3l.2-.2h.8l.4 .1h1.6l.2 .2h.8l.2-.4h.8l.2 .3h.8l.4 .1h.6l.4-.1h.6l.4 .1h.6l.2-.4h.8l.2 .4h5.8l.4-.1h.6l.2-.3h.8l.4 .1h1.6l.2 .3h3.8l.4-.1h.6l.4 .1h.6l.7-.9h1l.5 .7l.2 .2h.6l.2-.3h.8l.2 .3h.8l.2-.2h1.8l.4 .1h.6l.2-.2h.8l.2 .3h.8l.2-.3h.8l.2 .3h.8l.4-.1h1.6l.2-.3h.8l.2 .4h.8l.2-.3h.5l.3-.1l.4-.8l.6-.1h.7l.3 .1l.4 .8l.3 .2h.3l.2 .2h.8l.4-.1h.6l.4 .1h1.6l.4-.1h.6l.2-.2h.8l.2 .3h1l1-1.3h1.2l.6 .7l.2 .4h.8l.2 .2h1.8l.4-.1h1.6l.2-.2h.8l.4 .1h.6l.2 .2h.8l.4-.1h.6l.4-.1h.6l.2 .2h.8l.2-.2h.8l.4-.1h.6l.2 .2h.2l.6-.8l.2-.2h1.2l.8 1h.8l.4 .1h.6l.2-.3h.8l.4 .1h.6l.2 .2h2.8l.2-.2h.8l.2 .2h2.8l.2-.2h.8l.2 .2h.8l.2-.3h.8l.4 .1h1.6l.2 .2h.8l.2-.4h.8l.2 .3h.8l.4 .1h1.6l.2-.4h.8l.2 .3h.8l.4-.1h.6l.4 .1h.6l.4 .1h.6l.4-.1h1.6l.4-.1h.6l.2 .2h.2l1-3l.3-.6h1l.5 1.3l.5 1.5l.3-.2l.2-.8h.8l.2-.3h.8l.2 .7h.8l.4-.1h.6l.2-.2h.8l.2-.2h.8l.4 .1h.6l.2-.2h.5l.3 .1l.4 1.6l.3 .1v4.3h-.3l-.2 .4l-.5 .3h-.5l-.2-.4h-.8l-.2 .9h-.8l-.2-.3h-.8l-.2 .3h-.8l-.2 .3h-.8l-.2-.6h-.8l-.2 .8h-.8l-.2-.5l-.3-.7l-.5 1.5l-.5 1.3h-1l-.5-1.3l-.5-1.6l-.3-.4h-.2l-.2-.2h-.6l-.4-.1h-.6l-.4 .1h-.6l-.4 .1h-1.6l-.4-.1h-.6l-.4 .1h-.6l-.4-.1h-.8l-.2 .2h-.8l-.2-.2h-.6l-.4-.1h-.6l-.4 .1h-.6l-.4-.1h-.8l-.2 .3h-.6l-.4-.1h-.8l-.2-.2h-2.6l-.4 .1h-.8l-.2 .2h-.8l-.2-.3h-1.6l-.4 .1h-.8l-.2 .2h-.8l-.2-.3h-1.6l-.4 .1h-2.8l-.8 1h-1.2l-.2-.3l-.6-.7l-.4-.1h-5.6l-.4 .1h-.8l-.2 .2h-.8l-.2-.2h-.6l-.4-.1h-2.3l-1 .1l-.5 .1l-.8 1.1h-1.2l-.2-.3l-.6-.8l-.2-.2h-.8l-.4 .1h-.6l-.4-.1h-1.8l-.2 .3h-.8l-.2-.3h-2.3l-.7 1.2l-.3 .1h-.7l-.6-.1l-.7-1.2h-.5l-.2 .2h-.8l-.2-.2h-1.8l-.2 .3h-2.8l-.2-.3h-1.8l-.2 .2h-.6l-.4-.1h-1.6l-.4 .1h-.6l-.4-.1h-.6l-.4-.1h-.6l-.2 .2l-.5 .7h-1l-.5-.7l-.2-.2h-1.8l-.2 .2h-.8l-.2-.2h-1.6l-.4 .1h-.8l-.2 .2h-1.8l-.2-.3h-.6l-.4 .1h-.8l-.2 .2h-.8l-.2-.2h-.6l-.4-.1h-2.8l-.2 .2h-.8l-.2-.2h-.8l-.2 .3h-.8l-.2-.3h-1.8l-.2 .2h-1.8l-.2-.2h-1.8l-.2 .3h-.8l-.2-.3h-.6l-.4 .1h-1.3l-.3 .3l-.4 .8l-.3 .1h-.7l-.6-.1l-.7-1.2h-2.3l-.4 .1h-.6l-.4-.1h-.8l-.2 .4h-.6l-.4-.1h-.8l-.2-.3h-.6l-.4 .1h-.6l-.4-.1h-2.8l-.2 .2h-.8l-.2-.2h-.6l-.4 .1h-2.8l-.2 .2h-.8l-.2-.3h-.8l-.2 .2h-.8l-.2-.2h-1.8l-.2 .2h-.8l-.2-.2h-.6l-.4 .1h-.6l-.4-.1h-.8l-.2 .2h-.8l-.2-.2h-.6l-.4 .1h-.6l-.4 .1h-.8l-.2 .2h-.8l-.2-.3h-.6l-.4 .1h-.8l-.2 .2h-.6l-.4-.1h-.8l-.2-.2h-.6l-.4 .1h-.8l-.2-.2h-.8l-.2 .2h-.8l-.2-.2h-1.3l-1 .1l-.3 .2l-.7 2l-.7 1.8h-1.6l-.4-1.2l-1-2.6l-.3-.3h-1.3l-.4 .1h-.6l-.4 .1h-.6l-.4-.1h-.6l-.4-.1h-1.8l-.2 .3h-1.8l-.2-.3h-1.8l-.2 .3l-.6 .5l-.4 .7l-.8 .6l-.2 .6l-.8 .2h-.1v-1.3h-.1l-.8-.3l-.2 .7l-.3-.2l-.5-.5l-.2-.5l-.6-.5l-.4-.3h-2.3l-.3 .2l-.4 1l-.6 .9h-1.2l-.2-.3l-.8-1.5l-.2-.3h-.8l-.2 .2h-.8l-.2-.2h-.8l-.2 .4h-.8l-.2-.2h-.8l-.2-.2h-2.8l-.2 .3h-.8l-.2-.3h-.6l-.4 .1h-.6l-.4-.1h-.6l-.4 .1h-.6l-.4-.1h-.8l-.2 .2h-1.6l-.4-.1h-1.6l-.4-.1h-1.6l-.4 .1h-.6l-.4-.1l-.3 .4l-.3 .6l-.2 .1h-.5l-.3 .2l-.4 1.1l-.3 .2h-1l-.3-.2l-.4-.9h-.6l-.4-.1h-.8l-.2 .6h-.8l-.2 .5l-.3-.3l-.7 2.4l-.3 .3h-1l-.3-.3l-.7-2.4l-.5-1.7l-.2-.4h-.6l-.4-.1h-.8l-.2 .3h-.8l-.2-.2h-.6l-.4-.1h-.8l-.2 .2h-1.8l-.2-.2h-.8l-.2 .2h-.8l-.2-.2h-1.8l-.2 .2h-.8l-.2-.2h-5.8l-.2 .2h-1.8l-.2-.2h-.6l-.4 .1h-.6l-.4-.1h-2.8l-.2 .2h-.8l-.2-.2h-1.8l-.2 .2h-.8l-.2-.2h-.6l-.4 .1h-.6l-.4-.1h-1.8l-.2 .2h-.6l-.4-.1h-.6l-.4-.1h-.8l-.2 .2h-.8l-.2-.2h-.6l-.4 .1h-.6l-.4-.1h-.8l-.2 .3h-.8l-.2-.2h-1.6l-.4-.1h-1.6l-.4 .1h-.8l-.2 .3h-.8l-.2-.4h-5.8l-.2 .3h-.8l-.2-.3h-.8l-.2 .2h-.6l-.4-.1h-.6l-.4 .1h-.8l-.2 .2h-.8l-.2-.3h-.6l-.4-.1h-1.3l-.3 1h-.1v1.3h-.1l-1 4.9l-.2 .1h-.8l-.2-.3h-.2v-1.3h-.1l-1-4.9l-.3-.8h-2.2l-.2 .2h-.8l-.2-.2h-.8l-.2 .2h-1.6l-.4-.1h-.6l-.4-.1h-1.6l-.4 .1h-.6l-.4-.1h-.6l-.7 1.7l-.5 .9h-1.2l-1-2.1l-.3-.3h-1.5l-.2-.2h-5.8l-.2 .3h-.8l-.2-.3h-1.8l-.2 .2h-.6l-.4-.1h-1.6l-.4-.1h-2.6l-.4 .1h-.6l-.4 .1h-.8l-.2-.2h-.8l-.2 .2h-.6l-.4-.1h-.6l-.4-.1h-4.6l-.4 .1h-.6l-.4-.1l-.6 .1l-.4 .7l-.3 .1h-.7l-.6-.1l-.4-.7l-.3-.1h-.5l-.2 .3h-.8l-.2-.3h-.6l-.4 .1h-.6l-.4 .1h-.6l-.4-.1h-.6l-.4-.1h-1.8l-.2 .2h-.8l-.2-.2h-2.6l-.4 .1h-.6l-.4-.1h-2.8l-.2 .2h-.8l-.2-.2h-.8l-.2 .3h-.8l-.2-.2h-1.6l-.4-.1h-.6l-.4 .1h-.6l-.4-.1h-2.8l-.2 .2h-.8l-.2-.2h-3.8l-.2 .4h-.8l-.2-.3h-1.6l-.4-.1h-.8l-.2 .3h-.8l-.2-.3h-.8l-.2 .2h-.8l-.2-.2h-.3l-.5 .1l-.2-.1h-.6l-.2 .2l-.2 .8l-.8 .6l-.2-.2l-.6 .3l-.4 .5l-.8 .6l-.5 .2l-.5 .3l-.2-.6l-.3 .1l-.5 .1l-.5 .3h-.1v3.8h-.2h-.1v2.3h-.1h-2h-.1v-2.3h-.1h-.2v-3.4h-.1l-.5-.4l-.2-.4l-.8-.6l-.2-1l-.8-.4l-.2 .1l-.3-.1l-.5-.4l-.2 .1l-.3-.2l-.5-.3l-.2 .2h-.6l-.4-.1h-.6l-.4-.1h-.8l-.2 .2h-.8l-.2-.2h-2.6l-.4 .1h-.6l-.4-.1h-1.8l-.2 .2h-.6l-.4 .1h-.8l-.2-.2h-.6l-.4 .1h-.8l-.2-.2h-1.3l-1 .1l-.3 .5l-.7 2.5h-1l-.7-2.5l-.3-.6h-3.3l-.4 .1h-.6l-.4 .1h-.8l-.2-.2h-.6l-.4 .1h-.6l-.4-.1h-.6l-.4 .1h-1.6l-.4-.1h-3.6l-.4 .1h-.6l-.4-.1h-2.8l-.2 .2h-.8l-.2-.2h-1.8l-.2 .3h-1.3l-.3 .3l-.4 .9l-.3 .1h-.7l-.6-.1l-.2-.5l-.5-.8l-.3-.2h-.2l-.2 .2h-.6l-.4 .1h-.8l-.2-.3h-.6l-.4 .1h-.6l-.2 .2l-.5 .7l-.5 .7l-.2-.1l-.3 .2l-.7 .2l-.6-.3l-1.2-1.7h-.8l-.4 .1h-.6l-.2 .2l-.2 .8l-.8 1l-.2-.6l-.3 .2l-.5 .3l-.2 .5h-.8l-.2 .2l-.3-.1l-.5-.5l-.2 .2l-.8-1.1l-.2-.9l-.3-.3h-5.3l-.2 .2l-.5 .8l-.5 .6h-.1v1.2h-.1l-.3 .4l-.5 .6l-.2-.9l-.8 .3h-.1v1.2h-.1l-.3-.1l-.5-.4l-.2-1l-.8-.9h-.2l-.3-.4l-1-1.5l-.5-.1l-.2 .2h-.8l-.2-.2h-.3l-1 .1l-.3 .3l-.4 .8l-.3 .1h-.7l-.6-.1l-.7-1.2h-1.3l-.4 .1h-.6l-.4 .1h-.8l-.2-.2h-4.8l-.2 .2h-.8l-.2-.2h-.8l-.2 .2h-.8l-.2-.2h-.8l-.2 .3h-.8l-1 2.9l-.2 .1h-.8l-.2-.3l-1-2.8l-.3-.2h-1.5l-.2 .3h-.8l-.2-.2h-1.3l-1 .1l-.3 .6l-.7 4.6h-1l-.7-4.6h-.6l-.2 .8l-.5 2.5h-1h-.1v-1.3h-.2l-.2-.5l-.2 .1h-.8l-.2 .4h-.2v1.3h-.1h-1l-.7-3.8l-.3-.1h-1.3l-.4-.1h-.6l-.4 .1h-.8l-.2-.2h-2.6l-.4 .1h-.6l-.4-.1h-1.6l-.2 .2l-.5 1.1h-1l-.5-1.1l-.2-.1h-.6l-.4-.1h-.8l-.2 .2h-.6l-.4-.1h-.6l-.4-.1h-.8l-.2 .2h-1.8l-.2 .2h-.8l-.2-.4h-1.8l-.2 .3h-.8l-.2-.3h-1.6l-.4 .1h-.8l-.2 .2h-.6l-.4-.1h-.8l-.2-.2h-1.6l-.4 .1h-.6l-.4-.1h-3.8l-.2 .3h-.8l-.2-.3h-.8l-.2 .2h-.8l-.2-.2h-.6l-.4 .1h-.6l-.4-.1h-.8l-.2 .2h-.6l-.4-.1h-1.6l-.4-.1h-1.8l-.2 .3h-1.8l-.2-.3h-1.8l-.2 .3h-.8l-.2-.3h-1l-.3 .4l-.3 .6l-.2 .1l-.2 .4h-.8l-.2 .4h-.6l-.4 .1h-.8h-.1v-1.3h-.1h-.8l-.2 1h-.8l-.2 .5l-1 3.6l-.3 .1h-.7l-.6-.1l-1.4-5.4l-.3-.4h-1.5l-.2 .2h-.6l-.4 .1h-.8l-.2-.3h-.8l-.2 .2h-.8l-.2-.2h-.8l-.2 .3h-.6l-.4 .1h-.8l-.2-.4h-1.6l-.4 .1h-.6l-.4-.1h-1l-.6 .1l-.4 .9l-.3 .3h-1l-.3-.3l-.4-.9h-.6l-.4-.1h-.8l-.2 .4l-.8 2.1l-.2 .3h-.8l-.2-.4l-.3-.8l-.5-1.4l-.2-.2h-1.6l-.4 .1h-.6l-.4 .1l-.3 .6l-.3 .3h-.7l-.5-.9l-.2-.1h-.6l-.4-.1h-.6l-.4 .1h-1.6l-.4-.1h-2.6l-.4 .1h-1.8l-1.8 2.5l-.7 2.2l-.3 .5l-.2 .2l-.2 .4l-.3 .2l-.7-.6l-.3-.6h-.1v-1.1h-.2l-.4-2.3l-.3-1l-.3-.5h-.2l-.2 .4h-.8l-.2-.4h-1.8l-.2 .2h-.8l-.2-.2h-.8l-.2 .2h-1.6l-.4-.1h-1l-.6 .1l-.2 .4l-.5 .9l-.5 .8l-.2-.1l-.3 .1l-1.3 .3h-.1v5.8h-.1l-.2 .3l-.6 .2h-.1v12h-.1l-.2-.2h-.8l-.2 .3h-.8h-.1v-8.6h-.1h-.2v-8.2h-.1h-.5h-.1v3.7h-.1h-1.8l-.2 .4h-.2v-4.2h-.1h-.3l-.4-.3h-.3l-.5-.1l-.2 .2l-.8-.1l-.5-.3l-.5-.3l-.2 .1l-.8-.6h-.1v-2.3h-.1l-.3-.4h-.5l-.2 .4h-.8l-.2-.3h-.6l-.4-.1h-.8l-.2 .2h-.8l-.2-.2h-1.8l-.2 .2h-.8l-.2 .2h-.8l-.2-.3h-2.6l-.4-.1h-.8l-.2 .2h-.8l-.2-.2h-.8l-.2 .2h-.6l-.4-.1h-.6l-.4-.1h-.8l-.2 .2h-1.8l-.2-.2h-1.6l-.4 .1h-1.6l-.4-.1h-.8l-.8 .4l-.4 .5l-.8 .3l-.2-.1l-.8 .2l-.2 .9h-.8l-.2-.5l-.8-.3l-.2-.3l-.6-.3l-.4-.2l-1-.6h-.6l-.4 .1h-.6l-.4 .1h-.8l-.2-.2h-3.6l-.4 .1h-.6l-.4-.1h-1.8l-.2 .2h-1.8l-.2-.2h-2.8l-.2 .2h-1.8l-.2-.2h-1.6l-.4 .1h-.6l-.4-.1h-1.8l-.2 .3h-.8l-.2-.3h-1.6l-.4 .1h-.6l-.4-.1h-.8l-.2 .3h-.6l-.4-.1h-.8l-.2-.2h-1.6l-.4 .1h-.6l-.4 .1h-1.6l-.4-.1h-.6l-.4-.1h-.6l-.4 .1h-.6l-.4-.1h-.8l-.2 .3h-.6l-.4-.1h-.6l-.4-.1h-.6l-.4-.1h-.8l-.2 .2h-.8l-.2-.2h-.6l-.4 .1h-.6l-.4-.1h-.6l-.4 .1h-.6l-.4 .1h-.6l-.4-.1h-.6l-.4 .1h-.6l-.4 .1h-.8l-.2-.3h-1.8l-.2 .3l-1 2.2l-.3 .2h-1l-.3-.2l-.7-1.6h-.5l-.2-.5l-.8-.1l-.2 .4l-.8-.3l-.2-.3l-.3-.1h-2.5l-.2 .2h-.8l-.2 .2h-.6l-.4-.1h-.8l-.2-.2h-1.6l-.4-.1h-.8l-.2 .3h-.8l-.2-.3h-5.8l-.2 .4h-.8l-.2-.2l-.3 .2l-.3 .5l-.2 .3h-.8l-.2-.2l-.5-1h-2.5l-.2 .3h-.8l-.2-.3h-5.8l-.2 .4h-.8l-.2-.4h-2.8l-.2 .3h-.8l-.2-.3h-1.8l-.2 .2h-.8l-.2-.2h-.8l-.2 .2h-.8l-.2-.2h-4.6l-.4 .1h-.6l-.4-.1h-.8l-.2 .4h-.8l-.2-.3h-.6l-.4-.1h-.8l-.2 .3h-2.8l-.2-.2h-.6l-.4-.1h-1.8l-.2 .4h-.8l-.2-.4h-1.8l-.2 .2h-.8l-.2-.2h-.8l-.2 .4h-.8l-.2-.4h-.6l-.4 .7l-.3 .1h-.7l-.6-.1l-.4-.5h-.8l-.2-.2h-1.8l-.2 .3h-.8l-.2-.3h-1.8l-.2 .2h-1.6l-.4-.1h-1.6l-.4 .1h-.8l-.2-.2h-5.6l-.4 .1h-.6l-.4-.1h-.6l-.4 .1h-.6l-.4-.1h-2.8l-.2 .3h-.8l-.2-.2h-1.6l-.4-.1h-3.8l-.2 .2h-1.8l-.2-.2h-.6l-.4 .1h-.8l-.2 .2h-.8l-.2-.3h-2.6l-.4 .1h-.8l-.2 .2h-.8l-.2-.3h-1.8l-.2 .2h-1.8l-.2-.2h-.6l-.4 .1h-.6l-.4 .1h-1.8l-.2-.2h-1.6l-.4 .1h-.6l-.4-.1h-1.6l-.4 .1h-.6l-.4-.1h-.8l-.2 .3h-.8l-.2-.3h-.8l-.2 .2h-.8l-.2-.2h-5.6l-.4 .1h-.8l-.2 .2h-.6l-.4-.1h-.8l-.2-.2h-.6l-.4 .1h-.6l-.4-.1h-.6l-.4 .1h-.6l-.4-.1h-.8l-.2 .3h-.8l-.2-.2h-.6l-.4-.1h-.8l-.2 .2h-.6l-.4-.1h-.6l-.4-.1h-3.8l-.2 .2h-.8l-.2-.2h-.6l-.4 .1h-.6l-.4-.1h-.6l-.4 .1h-.6l-.4-.1h-1.8l-.2 .2h-.8l-.2-.2h-.8l-.2 .2h-.6l-.4-.1h-1.6l-.4-.1h-.6l-.4 .1h-.6l-.4-.1h-3.8l-.2 .4h-1.8z"/>
<path fill="#0000ff" d="M138 512.5h1.8l.4-.1h.6l.4 .1h.6l.2-.2h.8l.2 .2h2.5l.3-.2l.2-1h.8l.2 .4h.8l.2-.3l.5-.9h1l.5 .7h.8l.2-.3h.8l.2 .5h.8l.2 .4h.8l.2-.4l.2 .1l.3 .6l.3 .2l.2-.2h.8l.2 .2h.8l.2-.2h.8l.2 .4h.8l.4-.1h1.6l.4-.1h.6l.2 .2h.8l.2-.4h.8l.2 .3h.8l.2-.2h.8l.2 .2h.8l.2-.2h.8l.2 .3h1.8l.4-.1h1.6l.4 .1h.6l.2-.3h.8l.4-.1h1.6l.2 .4l.5-.5l.5-.6l.5-.1h1.3l.2 .1l.8 .9l.2 .2h.8l.4-.1h.6l.4 .1h2.6l.2-.3h.8l.2 .3h.8l.2-.1l.2-.5l.8-2.7l.2-.4h.8l.2 .6l.8 2.7h.5l.3-.2l.7-2.4h1l.7 2.4l.3 .4l1 .1l1 .1h1.3l.2-.3h.8l.2 .2h.8l.4-.1h.6l.2 .2h.5l.3-.3l.2-.7h.8l.2 .6h.8l.2-.4h1.8l.2 .6h.8l.4 .1h1.6l.2-.3h.8l.2-.2h.8l.2 .5h.8l.2-.3h.8l.2-.7h.8l.2 .3h.8l.2 .2h.8l.2 .5l.5 .1h.3l.2-.2h.8l.4-.1h.6l.2 .2h1.8l.2-.2h.8l.2 .3h1.8l.2-.3h.8l.4 .1h.6l.2 .2h.8l.4-.1h.6l.4 .1h.6l.4-.1h.6l.4-.1h.6l.2 .2h.8l.4-.1h.6l.4 .1h.8l1.2-3l.3-.2h1l.3 .2l1 2.4l.2 .5h.5l.7-1.7l.3-.4h1l.3 .4l.7 1.7l.3 .1l.7-2.7l.5-1.9l.2-.9l.3-.3h1l.3 .3l.4 1.8l.6 1.9l.4 .1h.6l.4 .1h.6l.2 .9h.8l.2-.7h.8l.2 .2h.8l.2 .5h.8l.2-.5l.2 .1l.3 .6l.3 .4h2l.4-.1h.6l.2 .2h.8l.4-.1h.6l.2-.2h.8l.2 .3h1.8l.2-.2h.8l.2-.2h1.8l.2 .4h.8l.4-.1h.6l.4 .1h.6l.4-.1h2.6l.4 .1h1.6l.4-.1h3.6l.4 .1h2.6l.2-.1l.5-.7h1l.5 .7l.5 .1l1-.1l1-.1l1.3-.1h1l.2 .3h.8l.4-.1h.6l.4 .1h.6l.2-.2h.8l.4 .1h.6l.4 .1h1.6l.4-.1h.6l.4 .1h3.6l.2-.2h1.8l.2 .2h.8l.4-.1h.6l.4 .1h1.6l.2-.3h.8l.2 .3h.8l.2-.3h.8l.2 .3h.8l.2-.3h.8l.2 .2h1.8l.4 .1h2.6l.4-.1h.6l.4 .1h.6l.2-.2h.8l.4 .1h.6l.4 .1h1.6l.2-.3h.8l.4 .1h.6l.4 .1h.6l.4-.1h.6l.4 .1h2.6l.4-.1h.6l.2-.2h.8l.2 .4h2.8l.2-.2h.8l.2 .2h.8l.2-.2h.8l.2-.4l.5-1.3h1l.7 1.9h.6l.4-.1h1.6l.2-.2h.8l.2 .3h.8l.2-.3h.8l.2 .3h.8l.2-.3h.8l.2 .2h.8l.2-.2h.8l.2 .2h.8l.4 .1h.6l.4-.1h1.6l.4-.1h.6l.2 .2h.8l.2-.2h1.8l.4-.5l.6-.1h.7l.3 .1l.4 .7h.6l.2-.2h.8l.2 .2h1.8l.4-.1h.6l.2-.8h.8l.2 .8h.8l.2-.2h.8l.4-.1h1.6l.2-.3h.8l.2 .4h.8l.2-.3h.8l.4 .1h.6l.2 .5h.8l.2-.4h1.8l.2-.2h.8l.2 .6h.8l.2-.7h.8l.2 .4h.8l.2-.2h.8l.4 .1h.6l.4 .1h.6l.2-.6h.8l.2 .6h.8l.2-.2h.8l.2 .4h.8l.2-.2h.8l.2-.4h.8l.2 .2h.8l.4-.1h.6l.2-.4h.8l.2 .6h1.8l.4 .1h.6l.2-.5h.8l.2 .5h.8l.2 .3l.2-.3l.6-1.8l.4-1.7l.3-.7h1l.3 .7l.7 2.6l.3-.4l.2 .4h.8l.2-.7h.8l.2 .2h1.8l.2 .3l.2 .1l.6 1.3h1.4l.3-.7l.5-2.1l.2-.4h.8l.2 .7l.3 1l.3 .3l.2 .5l.2-.5l.3-1h1l.3 1l.4-.1l.6-1.5h.7l.3 .2l.4 1.9l.3 .2l.3-.3l.2-1l.2-.4h.8l.2 .6l.3 1h.3l.4-1.6l.3-1h1l.5 1.9l.2 .2h.3l.5-1.3h.8l.2 .4l.2 1l.3 .5h.3l.2-.6l.2-.4l.3-.9h1l.3 .9l.2 .7h.8l.2 .4l.2-.7l.3-.9h1l.5 1.1h.8l.2 .3l.5-1.8h1l.3 .9h2l.2 .5l.2-.3l.3-.9h1l.3 .9l.4 .1h.6l.2 .8l.2-.7l.3-.9h1l.3 .9l.2 .5h.8l.4-.6l.3-.8h1l.3 .8l.2 .5h.8l.2 .4h.8l.2-.2l.5-1.7h1l.3 .9l.4-.1h.6l.2 .8h.8l.2-.2l.2 .1l.3 .5l.5 .2l.2-.4l.6-1.6l.2-1h.8l.2 .6h.8h.1v-2h.1h.8l.2 .4h.8l.2 .9h.8l.2-1h.8l.2 .4h.8h.1v1.2h.1h.8h.1v-1.4h.1l.2 .2l.6 2.4l.2 .9h.8l.4 .1h.6l.4 .1h.6l.2 .2h.8l.2-.2h.8l.2 .2h.8l.4-.1h.8l.5-.7l.7-1.2h1.6l1 1.6l.4 .1h1.6l.2 .2h.8l.4 .1h1.6l.4-.1h.6l.4-.1h.6l.2 .2h1.8l.4-.1h.6l.4 .1h2.6l.4-.1h.6l.2-.2h.8l.4 .1h.6l.2 .2h.8l.2-.2h.8l.2-.2h1.8l.2 .4h.8l.4-.1h.6l.4 .1h.6l.2-.3h.8l.2 .3h.8l.2-.3h.8l.2 .3h.8l.4-.1h.6l.4-.1h1.6l.4-.1h.6l.2 .3h.8l.4-.1h1.6l.4-.1h.6l.4 .1h.6l.4-.1h.6l.2 .2h2.8l.4-.1h.6l.4 .1h.6l.4-.1h.6l.2-.2h.8l.2 .3h1.8l.2-.2h1.8l.2 .2h.8l.2-.2h.8l.4 .1h.6l.4 .1h.6l.4-.1h.6l.4-.1h.6l.4 .1h.6l.4 .1h.6l.2-.3h.8l.2 .3h.8l.2-.3h.8l.2 .2h.8l.4 .1h.6l.4-.1h.6l.4-.1h.6l.2 .2h1.8l.4-.1h.6l.2-.2h.8l.2 .2h.8l.4 .1h4.6l.2-.2h.8l.2 .2h2.8l.2-.3h.8l.2 .3h2.8l.2-.2h1.8l.2 .2h.8l.2-.3h.8l.2 .3h.8l.4-.1h1.6l.4 .1h.6l.2-.2h.8l.2-.2h.8l.2 .4h.8l.4-.1h.6l.4 .1h.6l.4-.1h.6l.4 .1h.6l.4-.1h.6l.4-.1h.6l.2 .2h.8l.2-.2h.8l.2 .2h1.8l.2-.2h.8l.4 .1h2.6l.4 .1h.6l.4-.1h.6l.4 .1h1.6l.4-.1h.6l.4-.1h.6l.2 .2h.8l.2-.4h.8l.2 .3l.5-.5l.5-.6l.2-.2h1.6l.4 .5l.8 .9h1.8l.4-.1h.6l.4 .1h.6l.4-.1h.6l.2-.2h.8l.2 .2h.8l.4 .1h.6l.4-.1h.6l.4-.1h.6l.4 .1h.6l.4 .1h.6l.4-.1h.6l.4-.1h.6l.2 .2h.8l.4-.1h.6l.4 .1h.6l.4-.1h2.6l.4 .1h2.6l.4-.1h.6l.4 .1h.3l.5-1.1l.8-1.6h1.2l.2 .4l.6 1.1l.4 .9h.6l.2 .2h.8l.4 .1h.6l.2-.2h.8l.2 .2h.8l.2-.3h.8l.2-.5l1-4.8l.2-.5h.8l.2 .8l.6 2.3h.1v1.2h.1l.2 1l.6-2h.1v1.3h.1h.8l.2 .2h.8h.1v-1.2h.1h1.8l.2 .4h.5l.5 .2l.5 1.9h1.3l.4-.1h.6l.4 .1h.3l.5-1.5l.5-1.7h1l.5 1.7l.5 1.5h.3l.2-.2h.8l.2 .2h.8l.4-.1h.6l.4 .1h2.6l.2-.3h.8l.4-.1h.6l.4 .1h.6l.4 .1h.6l.2 .2h.8l.2-.3h.8l.2 .2h1.8l.4 .1h.6l.2-.2h.8l.2-.4l.8-.6l.2 .4l.8-.3l.2-.7l.5-.2h.3l.2 .6l.8 .1l.2-.6l.8 .4l.2 .5l.5 .3l.7 .6h.6l.4 .1h.3l.5-.9h.8l.2 .3h.8l.2-.5h.8l.2 .2h.8l.2 .5h.8l.2-.6h.8l.2 .7h.8l.2-.2h.8l.2 .4h.8l.2-.4h.8l.2 .5h2.8l.2-.3h.8l.4 .1h.6l.2-.2h.8l.2 .4h.8l.2-.4h.8l.2 .2h.8l.4-.1h.6l.4-.1h.6l.2 .2h.8l.2 .2h1.8l.4-.1h1.6l.4 .1h.6l.4-.1h.6l.2-.3h.8l.2 .4h.8l.2-.2h.8l.4 .1h.6l.4 .1h1.6l.4-.1h.6l.2-.2h.8l.4 .1h.6l.2-.2h.8l.2 .2h.8l.2 .2h1.8l.4-.1h1.6l.4 .1h1.6l.4-.1h1.6l.4 .1h.6l.4-.1h.6l.4 .1h2.6l.2-.3h.8l.2 .3h1.8l.2-.2h.8l.2 .2h.8l.4-.1h.6l.4 .1h.6l.2-.2h.8l.4 .1h.6l.4-.1h.6l.4 .1h1.6l.4 .1h.6l.4-.1h.6l.4 .1h.6l.4-.1h.6l.2-.3h.8l.2 .4h2.8l.4-.1h3.6l.4 .1h.3l.3-.3l.7-2.1h1l.7 2.1l.3 .2l1 .1l1-.1l1 .1h1.3l.4-.1h.6l.2-.2h.8l.4-.1h.6l.2 .2h.8l.4-.1h1.6l.4 .1h.6l.4 .1h1.3l.3-.1l.4-.7l.6-.1h.7l.3 .1l.2 .4l.2 .2h.6l.2 .3h.8l.2-.2h.8l.2 .2h3.8l.4-.1h.6l.4 .1h1.3l.3-.2l.2 .1l.8-.4l.2-.4l.8-.5l.2-.4l.8-.5l.2 .8l1.5-.6h.3l.2-.8h.5l.3-.1l.2 .5l.8 .1h.1v-1.1h.1l.8 .3l.2 .9l.8 .3l.2-.3l.8 .5l.2 .4l1 .6l.8 .4l.2-.7l.5 .3l.3 .1l.2-.3l.8 .3l.2 .4h1.8l.4-.1h.6l.2 .4h3.8l.4-.1h.6l.4 .1h1.6l.2-.2h.8l.2 .2h1.8l.4-.1h1.6l.4-.1h1.6l.2 .2h.8l.2-.2h2.8l.4-.1h.6l.2 .3h1.8l.4-.1h.6l.2-.2h.8l.2 .3h.8l.2-.3h.8l.4 .1h.6l.4 .1h.6l.4-.1h.6l.2 .2h.8l.4-.1h.6l.4 .1h1.6l.2-.2h.8l.4 .1h2.6l.4 .1h1.6l.2-.3h.8l.2 .3h1.8l.2-.4h.8l.2 .4h4.8l.2-.4h.8l.2 .4h1.8l.2-.2h.8l.4-.1h.6l.2 .3h2.2l.6-.2l.2-.4l.8-.4l.2 .4l.5-.2h.3l.2-.8l.5-.1l.3 .1l.2 .9l.5 .1l.3 .1l.2-.3l.8 .4h.2l.5 .3l.3 .1l.4-.1h.6l.4 .1h1.6l.2-.2h.8l.4 .1h.6l.4 .1h.6l.4-.1h.6l.4 .1h.6l.2-.4h.8l.2 .3h1.8l.4 .1h.6l.2-.2h.8l.2 .2h.8l.2-.3h1.8l.2 .2h.8l.2-.2h.8l.4 .1h.6l.4 .1h.6l.4 .1h.6l.4-.1h.6l.2-.2h.8l.4-.1h.6l.2 .2h.8l.4-.1h.6l.4 .1h.6l.2 .2h1.8l.4-.1h.6l.4 .1h1.6l.4-.1h2.6l.2-.2h.8l.4 .1h.6l.4 .1h.6l.4-.1h2.6l.2 .2h.8l.4-.1h1.6l.4 .1h.6l.2-.3h1.2l.3-.1l.3-.6l.2 .9h.8l.2-.9h.8l.2 .2h.8l.2 .2h1.8l.4-.1h.6l.2 .5h.8l.2-.2h.8l.2 .2h.8l.2 .2h1.8l.4-.1h.6l.2-.2h.8l.4-.1h.6l.2-.1l.2-.4l.6-.1h.7l.3 .1l.4 .7l.6 .1h1l.4-.1h.6l.4-.1h.6l.2 .3h.8l.2-.2h.8l.2 .2h.8l.4-.1h1.6l.2-.2h.8l.2 .3h1.8l.2-.2h.8l.4 .1h.6l.4 .1h.6l.4-.1h.6l.4 .1h2.6l.4-.1h.6l.4 .1h1.6l.2-.3h.8l.4-.1h.6l.2 .2h.8l.2 .2h.8l.4-.1h.6l.2-.3h.8l.2 .3h2.8l.2-.3h.8l.2 .3h.8l.4 .1h.6l.4-.1h.6l.4 .1h.6l.4-.1h.6l.4 .1h.6l.2-.3h.8l.2 .3h.8l.4-.1h2.6l.4 .1h.6l.2-.4h.8l.2 .4h.8l.4-.1h.6l.4 .1h.6l.2-.2h1.8l.2 .2h.8l.2-.2h.8l.4-.1h.6l.4-.1h.6l.4 .1h.6l.2 .3h1.8l.2-.2h.8l.4 .1h1.6l.4-.1h.6l.2 .2h.8l.4-.1h1.6l.4 .1h.6l.2-.2h.8l.2 .2h.8l.2-.4h1.8l.4 .1h.6l.2 .2h.8l.4 .1h1.6l.2-.2h.8l.2 .2h.8l.4-.1h.6l.4 .1h.6l.2-.2h.8l.4 .1h.6l.4-.1h.3h.1v-1.4h.2l1.2-8l.2-.3h.8l.2 .6l.8 4.8h.1v1.7h.1h.2v1.1h.1h.3l.2 .8h.8l.2-.6h.8l.2-.3l.2 .1l.6 1.5l.4 .1h.6l.4 .1h2.6l.4-.1h1.6l.4 .1h.6l.2-.4h.8l.2 .3l.2-.4l.6-1.7l.4 .1h.6l.2-.9h.8l.2 .5h.8l.2 .5h.8h.1v-1.3h.1h.8l.4 .1h.6h.1v1.6h.1h.8l.2-.6h.8l.2-.8h.8h.1v1.1h.1h.8l.2 .2h.8l.2-.2h.8l.2 .4h.8l.2 .4l.2 .8l.3 .3v3.7l-.5 2l-.2 .8l-.3 .1h-.5l-.2 .4h-.8h-.1v-1.8h-.1h-.8h-.1v1.1h-.1h-1.8l-.2-.8h-.8l-.2 .6h-.8l-.2-.9h-.8l-.2 1h-.8l-.2-.3h-.8l-.2 .6h-.8l-.2 .4h-.8l-.2-.7h-.6l-.4-.1l-.6-1.8l-.2-.6l-.2 .1h-1.6l-.4-.1h-1.8l-.2 .3h-1.8l-.2-.2h-.6l-.4-.1h-.8l-.2 .3l-.6 1.5l-.2 .1l-.2-.9h-1.8l-.2-.2h-.3l-.3 .8l-1 4.8l-.2 .4h-.5l-.5-.1l-1.2-6l-.3-.7h-1.3l-.4 .1h-.6l-.4 .1h-.8l-.2-.2h-.6l-.4 .1h-1.6l-.4-.1h-5.6l-.4 .1h-1.6l-.4-.1h-2.8l-.2 .3h-.8l-.2-.3h-.6l-.4 .1h-.6l-.4-.1h-.8l-.2 .4h-.8l-.2-.4h-.8l-.2 .3h-.8l-.2-.3h-.8l-.2 .2h-.8l-.2-.2h-.8l-.2 .3h-.6l-.4-.1h-.6l-.4-.1h-2.6l-.4-.1h-1.8l-.2 .3h-.6l-.4-.1h-.6l-.4-.1h-.6l-.4-.1h-2.8l-.2 .3h-.8l-.2-.3h-.8l-.2 .3h-.8l-.2-.3h-1.6l-.4 .1h-.6l-.4 .1h-.6l-.4 .1h-.8l-.2-.3h-.8l-.2 .3h-.8l-.2-.3h-2.6l-.4 .1h-.6l-.4-.1h-1.8l-.2 .3h-.8l-.2-.3h-.8l-.2 .2h-1.8l-.2-.2h-.6l-.4 .1h-.8l-.2 .2h-.8l-.2-.3h-3.8l-.2 .4h-.8l-.2-.4h-.6l-.4 .1h-.8l-.2 .2h-.8l-.2-.3h-2.6l-.4 .1h-.6l-.4-.1h-1.6l-.4 .1l-1.3-.1l-.3 .2l-.4 .6l-.3 .1h-.7l-.6-.1l-.2-.3l-.5-.5h-1.5l-.2 .2h-.8l-.2-.2h-1.6l-.4 .1h-.8l-.2 .3h-.8l-.2-.2h-.8l-.2 .8h-.8l-.2-.6h-.8l-.2-.4h-.8l-.2 .6h-.8l-.2-.3h-.8l-.2 .7h-.8l-.2-.6l-.3-.4h-.3l-.4 .1h-1.6l-.4-.1h-2.6l-.4 .1h-1.6l-.4-.1h-.6l-.4 .1h-.6l-.4-.1h-.8l-.2 .2h-.8l-.2-.2h-7.8l-.2 .4h-.8l-.2-.3h-.8l-.2 .2h-.8l-.2-.2h-1.6l-.4-.1h-1.8l-.2 .3h-.8l-.2-.2h-1.6l-.4-.1h-2.6l-.4 .1h-.6l-.4-.1h-.6l-.4 .1h-1.6l-.4 .1h-1.6l-.4 .1h-.6l-.4-.1h-.8l-.2-.2h-.6l-.4 .1h-.6l-.4-.1h-3.8l-.2 .3h-.8l-1 .6l-.2-.4l-.6 .1l-.4 .3h-.3l-1-.1l-.5-.2l-.2 .3l-1.6-.9l-.4 .1h-.6l-.4-.1h-.8l-.2 .2h-.6l-.4-.1h-.6l-.4-.1h-3.6l-.4 .1h-1.6l-.4-.1h-.8l-.2 .2h-.8l-.2-.2h-2.8l-.2 .4h-.8l-.2-.4h-.8l-.2 .3h-.8l-.2-.3h-.8l-.2 .2h-.8l-.2-.2h-.8l-.2 .3h-.8l-.2-.3h-.6l-.4 .1h-.6l-.4-.1h-3.6l-.4 .1h-1.6l-.4-.1h-4.8l-.2 .4h-.8l-.2-.4h-.8l-.2 .2h-.8l-.2-.2h-4.8l-.2 .2h-.8l-.2-.2h-.8l-.2 .2h-.6l-.4-.1h-.8l-.2 .2h-.8l-.2-.3h-.6l-.4 .1h-1.6l-.4-.1h-1.6l-.4 .1h-.6l-.4-.1l-1.3 .1l-1 .1l-1-.1l-.5 .1l-.2 .7l-.3 .1l-.5 .3l-.2-.8l-.3 .1l-.5 .4h-.2l-.8 .5h-.2l-.8 .4l-.5 .4l-.5 .2l-.2-.1l-.3 .1l-.5 .1l-.2-.3l-.3 .1h-.5l-.2 .6l-.6-.1h-.4l-.8-.3l-.2-.7l-.8-.4l-.2 .3l-.8-.4l-.2-.3l-.8-.5l-.2-.4h-.8l-.2-.2h-1.6l-.4 .1h-.6l-.4-.1h-4.6l-.4 .1l-1.3-.1l-.3 .2l-.4 .6l-.3 .1h-.7l-.6-.1l-.2-.3l-.5-.5h-1.5l-.2 .2h-.8l-.2-.2h-1.8l-.2 .3h-.8l-.2-.2h-.6l-.4-.1h-5.8l-.2 .3h-.6l-.2 .6l-.5 1.4h-1l-.7-2.1l-.3-.2h-6.5l-.2 .4h-.8l-.2-.3h-.6l-.4-.1h-3.8l-.2 .2h-.8l-.2-.2h-.6l-.4 .1h-.6l-.4 .1h-.6l-.4 .1h-.8l-.2-.2h-.6l-.4-.1h-3.8l-.2 .2h-.6l-.4-.1h-.6l-.4-.1h-.8l-.2 .2h-.8l-.2-.2h-1.8l-.2 .2h-.8l-.2-.2h-1.6l-.4 .1h-.6l-.4-.1h-6.6l-.4 .1h-.6l-.4-.1h-1.6l-.4 .1h-.6l-.4-.1h-1.8l-.2 .2h-.8l-.2-.2h-.6l-.4 .1h-.6l-.4-.1h-1.6l-.4 .1h-.6l-.4-.1h-3.6l-.4 .1h-.8l-.2 .2h-1.8l-.2-.3h-3.8l-.2 .2h-.8l-.2-.2h-.8l-.2 .2h-.8l-.2-.2l-.3 .1l-.3 .5h-.2l-.2-.5h-.8l-.2 .9h-.8l-.2-.7h-.8l-.2-.2h-1.8l-.2 .4h-.6l-.4-.1h-.8l-.2-.4h-.8l-.2 .3h-.8l-.2 .3h-.8l-.2-.5l-1.3-.1l-.5 .3l-.2-.1l-.8 .4l-.2 .4l-.8 .3l-.2-.1l-.3 .1h-.5l-.2 .7h-.3l-.5-.2l-.2-.5l-.3-.1l-.5-.3h-.2l-.8-.5l-.2-.4h-2.6l-.4 .1h-3.6l-.4-.1h-3.6l-.4 .1h-1.6l-.4-.1h-1.6l-.4 .1h-1.3l-.3 .5l-.2 .9l-.5 1.6h-1l-.3-.8l-.4-1.7l-.3-.6h-.5l-.2 .4h-.8l-.2-.4h-1.3l-.3 .2l-.4 1.3l-.3 .1h-1.5l-.2 1h-.8h-.1v-1.1h-.1h-1.8l-.2 .5l-.3-.8l-.3-.1h-.1v1.4h-.1l-.8 4.5l-.2 .8h-.8l-.2-.6h-.1v-1.4h-.1l-.6-3l-.4-2.8h-.8l-.2 .3h-.8l-.2-.2h-.6l-.4 .1h-.8l-.2-.2h-.6l-.4 .1h-.6l-1 2.2l-.2 .3h-1.2l-.6-1l-.4-1.1l-.3-.4h-.3l-.4-.1h-1.6l-.4 .1h-.6l-.4-.1h-1.8l-.2 .3h-.8l-.2-.3h-1.6l-.4 .1h-.6l-.4 .1h-1.6l-.4 .1h-.6l-.4-.1h-.8l-.2-.2h-4.6l-.4 .1h-.6l-.4-.1h-4.8l-1 1.2l-.2 .1h-1.3l-.5-.1l-.8-.9h-.2l-.2-.3h-.6l-.4 .1h-.6l-.4-.1h-.6l-.4 .1h-.8l-.2 .2h-.8l-.2-.3h-.8l-.2 .3h-.6l-.4 .1h-.8l-.2-.2h-.8l-.2-.2h-2.8l-.2 .4h-.8l-.2-.3h-.8l-.2 .2h-.8l-.2-.2h-1.6l-.4-.1h-5.8l-.2 .3h-.8l-.2-.3h-1.8l-.2 .2h-.6l-.4-.1h-1.6l-.4-.1h-1.8l-.2 .3h-.8l-.2-.3h-1.8l-.2 .2h-.8l-.2 .2h-.8l-.2-.4h-.8l-.2 .3h-.6l-.4 .1h-.8l-.2-.4h-.6l-.4 .1h-.8l-.2 .2h-.8l-.2-.2h-.6l-.4-.1h-.8l-.2 .4h-.8l-.2-.3h-.8l-.2 .3h-.8l-.2-.4h-.8l-.2 .3h-.8l-.2-.2h-.6l-.4-.1h-.6l-.4 .1h-.6l-.4-.1h-1.8l-.2 .2h-.6l-.4-.1h-.6l-.4-.1h-.6l-.4 .1h-.6l-.4-.1h-1.8l-.2 .4h-1.8l-.2-.4h-2.6l-.4 .1h-2.6l-.4-.1h-1.8l-.2 .2h-.6l-.4-.1h-.6l-.4-.1h-.8l-.2 .2h-.6l-.4 .1h-.8l-.2-.3h-2.8l-.2 .4h-.8l-.2-.4h-1.8l-.2 .2h-.8l-.2-.2h-4.8l-.2 .2h-.8l-.2-.2h-.6l-.4 .1h-.6l-.4-.1h-2.6l-.4 .1h-.6l-.4-.1h-.8l-.2 .2h-.8l-.2-.2h-.8l-.2 .2h-.6l-.4-.1h-1.8l-.2 .2h-.8l-.2-.3h-.8l-.2 .4h-.8l-.2-.4h-.8l-.2 .3h-1.8l-.2-.3h-3.6l-.4 .1h-.6l-.4-.1h-.8l-.2 .4h-.6l-.4-.1h-.6l-.4 .1l-.6 .8l-.4 .7h-1.6l-.2-.3l-.5-.8l-.5-.7l-.2-.1h-2.6l-.4 .1h-.6l-.4-.1h-1.6l-.4 .1h-.8l-.2 .2l-.6 1.7l-.2 .1h-.1v1.9h-.1h-.8l-.2-.4h-.8l-.2-.9h-.8l-.2 .4h-.8l-.2-.3h-.8l-.2 .5h-.8l-.2-.6h-.8h-.1v1.4h-.1h-.8l-.2-.6l-.6-2.3l-.2-.9l-.2-.3l-.3 .5l-.3 .7l-.2 .1l-.2-.9h-.8l-.2 .5h-.8l-.2 .4l-.3 .8h-1l-.5-1.6l-.2 .3h-.8l-.2 .4h-.8l-.5 .5h-1l-.3-.7l-.4-.7h-.8l-.2 .7l-.3 .9h-1l-.3-.9l-.2-.1l-.2 .5h-.6l-.4 .1l-.3 .8h-1l-.5-1.7l-.2 .9h-.8l-.2-.3h-.8l-.2 .3l-.3 .6h-1l-.3-.8l-.4-.4h-.8l-.2 .3l-.3 .9h-1l-.3-.9h-1.2l-.2 .4l-.3 .9h-1l-.3-.9l-.2-.1l-.2-1h-.3l-.3 .3l-.2 1l-.2 .3h-.8l-.2-.5l-.3-1l-.3-.2l-.7 2.7h-1l-.5-1.8l-.2-.7h-.3l-.3 1l-.2 .5h-.8l-.2-.3l-.2-1l-.6-.1l-.2 .7l-.2 .9l-.3 .2h-.7l-.6-1.3l-.4 .1l-.3 1h-1l-.3-1l-.4-.1l-.3 .3l-.3 1l-.2 .6h-.8l-.2-.4l-.5-2.1l-.3-.6h-1.4l-.3 .4l-.3 .6l-.2 .1l-.2-.4h-1.8l-.2 .5h-.8l-.2-.4h-.8l-.5 .6l-.7 2.7l-.3 .7h-1l-.3-.7l-.4-1.8l-.6-1.9l-.2-.1l-.2 .1h-.6l-.4 .1h-1.6l-.4 .1h-.6l-.4-.1h-.8l-.2-.3h-.8l-.2 .7h-.8l-.2-.9h-.8l-.2 .3h-.8l-.2 .6h-.8l-.2-.7h-.8l-.2 .7h-.8l-.2-.2h-1.8l-.2-.3h-1.8l-.2 .5h-.8l-.2-.2h-.8l-.2-.4h-.8l-.2 .3h-.8l-.2-.4h-.8l-.2 .2h-.8l-.2 .4h-.8l-.2-.2h-1.8l-.2-.3h-.8l-.2 .5h-.8l-.2-.4h-.8l-.2 .2h-.6l-.4-.1h-.8l-.2-.2h-.8l-.2 .2h-.8l-.2-.4h-.6l-.4 .1l-.3-.2h-.5l-.2 .2h-.6l-.4-.1h-.6l-.4-.1h-.8l-.2 .3h-.8l-.2 .3l-.3 .1h-.7l-.6-.1l-.4-.6h-.8l-.2 .2h-1.6l-.4-.1h-.6l-.4-.1h-.8l-.2 .3h-.6l-.4-.1h-.8l-.2-.2h-.8l-.2 .2h-.8l-.2-.2h-1.8l-.2 .2h-1.6l-.4 .1h-.6l-.4-.1h-.6l-.4-.1h-.6l-.4-.1h-.8l-.2 .3h-.6l-.2 .3l-.5 1.2h-1l-.5-1.2l-.2-.4h-.8l-.2-.2h-1.8l-.2 .3h-.8l-.2-.3h-.6l-.4 .1h-.6l-.4-.1h-2.8l-.2 .3h-.8l-.2-.3h-1.8l-.2 .3h-1.8l-.2-.3h-.8l-.2 .2h-.8l-.2-.2h-3.8l-.2 .3h-.8l-.2-.2h-.6l-.4-.1h-13.8l-.2 .3h-1.8l-.2-.3h-2.6l-.4 .1h-2.6l-.4-.1h-.6l-.4 .1h-.6l-.4 .1h-.6l-.4-.1h-1.6l-.4-.1h-.8l-.2 .3h-.8l-.2-.3h-1.8l-.2 .2h-.8l-.5 .5h-1l-.5-.3l-.2-.3h-.6l-.4-.1h-.8l-.2 .2h-.8l-.2-.2h-.6l-.4 .1h-.8l-.2 .3h-.8l-.2-.4h-.6l-.4 .1h-1.8l-.2 .3h-.8l-.2-.3h-.6l-.4 .1h-.8l-.2-.2h-.6l-.4 .1h-.6l-.4 .1h-.6l-.4-.1h-.8l-.2 .3h-.8l-.2-.4h-2.8l-.2 .2h-.8l-.2-.2h-5l-.3 .4l-.3 .6l-.4 .1h-.8l-.2-.8h-.8l-.2 .9h-.8l-.2-.3h-.8l-.2 .2h-.8l-.2 .2h-.8l-.2 .4l-1 3.6l-.3 .2h-1l-.3-.2l-1-3.6l-.4-1.7l-.3 .1l-.5 1.1l-.5 .9h-1l-.3-.4l-.7-1.6l-.5-.1l-.2 .5l-.6 1.2l-.4 1.3l-.3 .1h-.7l-.6-.1l-.2-.7l-.5-1.2l-.5-1.1l-.2 .3h-.8l-.2-.2h-5.6l-.4 .1h-.6l-.4 .1h-.8l-.2-.2h-.6l-.4-.1h-1.8l-.2 .2h-.6l-.4-.1h-.6l-.4-.1h-3.8l-.2 .2h-1.8l-.2-.2h-.8l-.2 .2h-.8l-.2 .4h-.6l-.4 .1h-.8l-.2 .2h-.8l-.2-.5h-.6l-.4 .1h-.8l-.2 .4h-.8l-.2-.4h-.8l-.2 .2h-1.8l-.2 .2h-.8l-.2-.6l-.3-.2h-1.3l-.4-.1h-1.8l-.2 .4h-.8l-.2-.3h-1l-1.3-.1l-.3 .5l-.7 2.4h-1l-.7-2.4l-.3-.3l-.5 .1l-.8 2.8l-.2 .5h-.8l-.2-.3l-.2-1l-.6-1.8l-.2-.5l-.2 .3h-.8l-.2-.3h-1.8l-.2 .3h-.8l-.2-.3h-1.6l-.4 .1h-.8l-.2 .3h-.3l-.5 .6l-.2 .1h-1.3l-.5-.1l-.5-.6l-.5-.4l-.2 .2h-.8l-.2-.2h-4.8l-.2 .3h-.8l-.2-.2h-.6l-.4-.1h-6.6l-.4 .1h-.8l-.2 .2h-.8l-.2-.3h-2.6l-.4 .1h-.6l-.4-.1l-.3 .2l-.3 .5l-.4 .2h-.8l-.2-.6h-.8l-.2 .8h-.8l-.2 .3h-.6l-.4 .1l-.3 .4h-1l-.3-.4l-.2-.1l-.2-.9h-.6l-.4 .1h-.6l-.4 .1l-.3-.5l-.3-.2h-2l-.4 .1h-1.8l-.2 .3h-.8l-.2-.4h-1.8z"/>
<path fill="#008000" d="M138 543.7h.8l.2 .2h.8l.4-.1h.6l.2-.2h.8l.2 .2h.8l.4 .1h.6l.2-.4h.8l.2 .4h.8l.4-.1h1.6l.4-.1h.6l.4 .1h1.6l.4 .1h.6l.4-.1h.6l.4 .1h.6l.2-.3h.8l.4-.1h.6l.2 .4h.8l.4-.1h.6l.4-.1h.6l.2 .2h.2l.3-.4h1l.3 .3l.4 .1h1.6l.4-.1h5.6l.4 .1h1.6l.4-.1h.6l.2-.3h.8l.2 .4h1.8l.4-.1h.6l.4 .1h.6l.2-.4h.8l.2 .3h.8l.4-.1h.6l.4 .1h.6l.2-.2h.8l.2 .2h.8l.4-.1h1.6l.2 .2h2.8l.2-.4h1.8l.4 .1h.6l.4 .1h.6l.2 .2h.8l.4-.1h.6l.4 .1h.6l.4-.1h.6l.4 .1h.6l.2-.2h.8l.2 .2h.8l.2-.3h.8l.2 .3h.8l.2-.3h.8l.2 .3h.8l.4-.1h1.6l.4 .1h.6l.4-.1h.6l.4 .1h1.6l.4-.1h1.6l.4 .1h.6l.4-.1h.6l.4 .1h.6l.4-.1h.6l.4-.1h.6l.4 .1h.6l.4 .1h.6l.2-.2h.8l.4-.1h.6l.2 .3h.8l.4-.1h.6l.4 .1h.6l.2-.3h1.8l.2 .2h3.8l.4 .1h2.6l.4-.1h.6l.4 .1h.6l.4-.1h.6l.2-.2h.8l.2 .2h.8l.4 .1h.6l.2-.2h.8l.2-.2h.8l.2 .4h.8l.4-.1h.6l.4 .1h.6l.4-.1h.6l.4-.1h.6l.4-.1h.6l.2 .2h.8l.4 .1h.6l.2-.4h.8l.2 .4h1.8l.4-.1h.6l.4 .1h1.6l.2-.4h.8l.2 .3h.8l.2-.3h.8l.2 .4h1.8l.2-.3h.8l.4 .1h.6l.2 .2h.8l.2-.3h.8l.4 .1h.6l.4 .1h.6l.4-.1h.6l.4 .1h.6l.4 .1h1.3l.5-.7l.2-.4l.6-.1h.7l.3 .1l.4 .8l.3 .3h.3l.2-.2h.8l.4 .1h.6l.4 .1h.6l.2-.2h.8l.2 .2h.8l.2-.2h.8l.4-.1h.6l.2 .2h.8l.4 .1h1.6l.2-.2h.5l.3-.4l.2-.7l.2-1l.3-.6h.3l.2-.4h.8l.4 .1h.6h.1v1.2h.1h.8l.2-.6h.8l.2-.5h.8l.2 .9h.8l.2 .5h.8h.1v-1.7h.1h.8h.1v1.6h.1h.8l.4-1.6l.6-2.1l.2-.4h.8l.2 .1l.8 3.3l.2-.7l.2 .1l.6 2.2l.2 .7h.8l.2 .2h.5l.3-.5l.4-1.7l.3-.8h1l.5 1.6l.2 .9l.3 .4h.3l.2-.2h.5l.3-.2l.4-1.7l.3-.8h1l.5 1.6l.2 .9l.3 .5h1.3l.4-.1h1.3l.3-.2l.4-.8l.6-.1h.7l.3 .1l.4 .8l.3 .3h.3l.2-.2h.8l.4-.1h.6l.4-.1h.6l.2 .3h.8l.4-.1h.6l.4 .1h1.6l.4 .1h.3l.3-.5l.4-1.7l.3-.8h1l.5 1.6l.2 .9l.3 .4h1.3l.2-.3h.8l.4 .1h.6l.2 .2h.2l.3-.4l.5-1.5l.2-.7l.3-.5h1l.3 .5l.4 1.4l.3 .8l.3 .5l.2-.3h.8l.2 .2h.8l.4-.1h.6l.2 .2h1.8l.4-.1h.6l.4 .1h.6l.4-.1h2.6l.4 .1h.6l.2-.3h.8l.2 .2h2l.5-.7h1l.5 .6h.8l.4 .1h.6l.2-.3h.8l.2 .4h2.8l.4-.1h1.6l.2-.2h.8l.2 .3h2.8l.4-.1h1.6l.2-.3h.2l.3-.5l1.3-6l.2-.5h1l.2 .5l1.3 6l.3 .7l.2 .2h.8l.2-.4h.8l.2 .4h2.8l.4-.1h.6l.4 .1h.6l.2-.3h.8l.2 .3h.8l.4-.1h.6l.4 .1h.6l.2-.4h.8l.2 .4h.8l.2-.2h.8l.2 .2h3.8l.4-.1h2.6l.4 .1h.6l.4-.1h1.6l.4 .1h1.6l.4-.1h.6l.4-.1h.6l.4-.1h.6l.2 .2h1.8l.4-.1h.6l.2 .2h.8l.4-.2l1-3.4l.3-.6h1l.3 .6l1 3.4l.2 .2h.8l.4-.1h.6l.4-.1h1.6l.2 .2h.8l.4-.1h.6l.2-.3l.2-.1l.3-.3h1l.5 .7h.8l.4 .1h2.6l.2-.2h.8l.2 .2h.8l.2-.4h.8l.2 .4h.8l.2-.2h.8l.2 .2h1.8l.2-.4h.8l.2 .3h1.8l.2-.3h.8l.2 .4h.8l.4-.1h.6l.4 .1h.6l.4-.1h1.6l.4 .1h.6l.2-.2h.8l.2 .2h.8l.4-.1h1.6l.4-.1h.6l.4 .1h1.6l.2-.2h.8l.2 .2h.8l.4 .1h1.6l.2-.4h.8l.2 .4h1.8l.2-.2h.8l.2 .2h1.8l.4-.1h.6l.4 .1h1.6l.2-.3h.8l.2 .2h.8l.4 .1h.6l.2-.4h.8l.2 .2h.8l.4 .1h.6l.2-.2h.8l.2 .3h.8l.2-.4h.8l.4 .1h.6l.2 .3h.8l.2-.3h.8l.2 .2h1.5l.3-.5l.2 .2l.5-.8l.3-.5h.1v-1.1h.1l.5-1l.3-.4l1-.9h.1v-1.1h.1h.2l.8 .7l.5 .9l1 2.3l.5 1.2l.2 .5l.3 .3l1-.1h.3l.2 .4h1.8l.4-.1h.6l.4 .1h1.6l.2-.3h.8l.2 .2h.8l.2-.2h.8l.4 .1h.6l.2 .2h1.8l.2-.2h.8l.4 .1h1.6l.4 .1h1.6l.4-.1h1.6l.4 .1h1.6l.4-.1h.6l.4 .1h.6l.4-.1h.6l.2-.3h.8l.2 .3h1.8l.4-.1h.6l.7-1h1l.5 .7l.2 .5h1.6l.4-.1h.6l.4-.1h1.6l.4-.1h1.6l.2 .2h.8l.4-.1h.6l.2 .2h1.8l.2-.2h.8l.4-.1h.6l.4-.1h.6l.2 .3h.8l.4-.1h.6l.4 .1h.6l.2-.3h.8l.2 .4l.5-.1l.3-.5l.4-.1h.6l.2 .4h.8l.2-.9h.8l.2 .2h.8l.2-.3h.2l.3 .7l.3 .5l.4 .1h1.6l.2-.4h.8l.2 .4h.8l.2-.2h.8l.4 .1h.6l.2-.3h.8l.2 .4h.8l.2-.3h.8l.2 .2h1.8l.4 .1h.6l.2-.3h1.8l.2 .2h1.8l.4 .1h.6l.4-.1h.6l.4-.1h.6l.4-.1h.8l.5-.5h1l.5 .5h.8l.4-.1h.6l.4 .1h.6l.2 .3h.8l.4-.1h.6l.2-.3h.8l.2 .4h1.8l.4-.1h.6l.4-.1h.6l.4 .1h.6l.4-.1h.6l.2 .2h.8l.2-.2h1.8l1-1.4l.2-.1l.5-.6l.3-.2l.2 .7l.8-.3l.2-.2l.5 .1l.5 .1l.8 .6l.2-.5l.5 .6l.3 .4l.2 .8h.8l.4 .1h.6l.4 .1h8.6l.4-.1h.6l.4-.1h.6l.4 .1h1.6l.2 .1l.5-.3l.3-.3l.2-.7l.5-.7l1-1.2l.3-.2l.2 .6l.8-.3l.2-.7h.5l.3 .2l.2 .9l.8 .6l.4 .3l.6 .6l.4 .5l.6 .5l.4-.1h.6l.2 .3h.8l.4-.1h1.6l.4-.1h.6l.4 .1h.6l.4 .1h2.6l1-2.1l.2-.4h1.2l.8 1.5l.2 .6l.3 .2h.3l.2 .2h.8l.2-.2h.8l.2-.2h.8l.2 .4h.8l.4-.1h1.6l.4-.1h1.6l.4 .1h.6l.2-.2h.8l.2 .3h1.8l.2-.4h1.8l.2 .3h.8l.4 .1h2.6l.4-.1h.6l.4 .1h.6l.4-.1h.6l.2-.2h.8l.4-.1h.6l.2 .4h1.8l.4-.1h1.6l.4-.1h.6l.4 .1h1.6l.2-.3h.8l.2 .3h.8l.4-.1h.6l.4-.1h.6l.4 .1h.6l.2 .2h.8l.4-.1h1.6l.4-.1h.6l.2 .2h.8l.4-.1h.6l.4-.1h.6l.4-.1h.6l.2 .2h.8l.4 .1h.6l.2-.2h.8l.2 .2h1.8l.2-.3h.8l.4 .1h2.6l.2 .2h.8l.4-.1h.6l.2-.2h.8l.2 .2h.8l.4-.1h.6l.2-.1l.2-.4l.6-1.1l.2-.2h.8l.2 .1l.8 1.6l.2 .2h1.5l.5-1.1l.2-.6l.3-.4h1l.3 .4l.4 1.2l.3 .4h1.3l.2 .2h.8l.2-.3h.8l.2 .2h.8l.4 .1h3.6l.2-.2h.8l.4-.1h.6l.2 .2h.8l.2-.3h.8l.2 .3h.8l.4 .1h.6l.2-.3h.8l.2 .2h.8l.4-.1h.6l.2 .2h.8l.2-.4h.8l.2 .4h.8l.4-.1h.6l.4 .1h4.6l.2-.3h.8l.4 .1h.6l.2 .2h.8l.4-.1h.6l.4 .1h.3l.3-.2l.4-.7l.6-.1h.7l.3 .1l.4 .7l.6 .1l.4-.1h.6l.4 .1h.6l.4 .1h.6l.4-.1h.6l.4-.1h1.6l.4 .1h.6l.4-.1h.6l.4 .1h2.6l.4-.1h1.6l.2-.2h.8l.2 .3h.8l.4 .1h.6l.2-.2h.8l.2-.2h.8l.2 .3h.8l.4 .1h.6l.2-.2h.8l.4 .1h1.6l.4 .1h2.6l.2-.2h.8l.4 .1h.6l.2-.3h.8l.2 .4h.8l.2-.4h.8l.2 .3h.8l.4 .1h1.6l.4-.1h.6l.4 .1h2.6l.4-.1h.6l.4-.1h1.6l.2 .2h3.8l.4-.1h.6l.4 .1h.6l.2-.4h.8l.4 .1h.6l.4-.1h.6l.2 .4h.8l.4-.1h1.6l.2-.3h.8l.2-.2l.5-1l.3-.4h1.2l.2 .3l.8 1.5l.5 .1h.3l.2-.3h.8l.2 .3h2l.8-.4l.2-.5l.5-.3l.3-.1l.2-.4l.5-.2h.3l.2 .6l.8 .1l.2-.1l.8 .4h.2l.8 .6l.4 .3h.6l.2-.3h.8l.4 .1h.6l.2 .3h.8l.4-.1h.6l.4-.1h.6l.4 .1h.6l.4 .1h1.6l.4-.1h.6l.4 .1h.6l.2-.3h.8l.2 .3h.8l.4-.1h.6l.4 .1h1.6l.4-.1h1.6l.4 .1h3.6l.4-.1h.6l.2-.2h1.8l.2 .2h1.8l.4 .1h.6l.2-.4h.8l.2 .4h1.8l.2-.2h.8l.4 .1h1.6l.2-.3h.8l.2 .4h.8l.4-.1h2.6l.4-.6l.6-.1h.7l.3 .1l.4 .7h1.6l.4-.1h.6l.4 .1h1.6l.4-.1h.6l.4 .1h.6l.4-.1h.6l.4-.1h.6l.2 .2h.8l.4-.1h.6l.2-.3h.8l.2 .2h.8l.2-.2h.8l.2 .3h.8l.4-.1h.6l.2-.2h.8l.2 .2h.8l.2 .2h1.8l.2-.2h.8l.4-.1h.6l.2 .3h.8l.4-.1h1.6l.4 .1h.6l.2-.3h.8l.2 .3h1.8l.2-.3h.8l.4 .1h.6l.4-.1h.6l.2 .3h2.8l.4-.1h1.6l.4 .1h1.6l.2-.2h.8l.2 .2h.8l.4-.1h.6l.2-.2h.5l.3-.4l.7-1.8l.3-.5h1.2l.2 .4l1 2.4l1 .2h.6l.2-.2h.8l.2 .2h.8l.2-.3l.5-1.2l.5-1.4l.5-.1h.5l.2 .2l.8 2.1l.2 .5h.6l.2 .2h4.8l.2-.2h.8l.4 .1h1.6l.4-.1h.6l.2 .2h1.8l.2-.3h.8l.4 .1h.6l.2 .2h.8l.2-.2h.5l.3-.8h.1v-1.8h.1l.2-.7h.8h.1v1.1h.1h.2v1.8h.1l.3 .6h1l.2-.2h.8l.4 .1h.6l.4-.1h1.6l.2 .2l.5-.3l.3-.1l.2-1l.5-.1l.7 .3l.6 .4l.2 .5l.5 .1h.3l.2 .2h.8l.2-.3h.8l.2 .3h.8l.2-.3h.8l.4 .1h.6l.4 .1h.6l.4 .1h.8l.5-1.9h.1v-1.1h.2l.2 1h.8h.1v-2h.1h.8h.1v1.9h.1h.8h.1v-1.7h.1h.5l.3 .6h.1v1.8h.1l.2 1l.3 .2l1-.1h.3l.2 .3h2.8l.4-.1h1.6l.4-.1h.6l.4 .1h.6l.4 .1h.6l.4-.1h.6l.4 .1h.6l.2-.2h.8l.4 .1h.6l.4 .1h.6l.2-.2h.8l.4-.1l.6-.1l.7-1.2l.3-.2h1.2l.2 .1l1 1.6l.6 .1l.4-.1h1.6l.4-.1h.6l.2 .2h.8l.4-.1h1.6l.4 .1h.6l.2-.3h.8l.2 .2h1.8l.4 .1h1.6l.2-.2h.8l.2 .2h.8l.4-.1h.6l.4 .1h3.6l.2-.2h.8l.2-.2h.8l.2 .4h1.8l.2-.2h.8l.4-.1h2.6l.4 .1h1.6l.4-.1h.6l.2 .3h.8l.4-.1h1.6l.2-.2h.8l.4 .1h.6l.2 .2h1.8l.4-.1h1.6l.4-.1h2.6l.4-.1h.6l.4 .1h.6l.2 .2h1.8l.4-.1h.6l.2-.2h1.8l.4-.1h.6l.2 .3h.8l.4 .1h.6l.4-.1h1.6l.4 .1h.6l.4-.1h.6l.4-.1h.6l.2 .2h.8l.2-.4h.8l.2 .3h.8l.4 .1h.6l.2-.4h.8l.4 .1h.6l.2 .2h1.8l.2-.2h1.8l.2 .2h1.8l.4-.1h.6l.2-.2h.5l3-2.4l.3-.1l.2-.3l.8-.3l.2 .4l.5-.1h.3l.2-.2l.5 .1h.3l.2-.6l.2-.9l.3-.2h1l.3 .2l.4 1.7l.3 .8l.3 .2l.2 1h.8l.2-.3h.8l.2 .4h.8l.2 .3h.8l.2 .2h.8l.2-.6h.8l.2 .7h.5l.7 .4h.3v4.1h-.5l-.2 .2h-.6l-.4 .1h-.8l-.2 .2h-.8l-.2 .2h-.8l-.2-.4l-1.3-.1l-.5 .2l-.2 .3l-.8 .6l-.2-.1l-1 3.4l-.3 .3h-1l-.3-.3l-.2-.8l-.2-.2l-.8 .1h-.1v-1.1h-.1h-.3l-.5-.1l-.2 .1l-.8-.3l-.2 .6l-.3-.1l-.5-.4l-.2-.4l-.8-.6l-.2-.5l-.3-.2l-1-.6h-.5l-.2-.2h-2.6l-.4 .1h-.8l-.2 .2h-.8l-.2-.3h-.8l-.2 .2h-.8l-.2-.2h-.6l-.4 .1h-.6l-.4-.1h-.8l-.2 .2h-.8l-.2-.2h-.8l-.2 .3h-.6l-.4-.1h-.8l-.2-.2h-.6l-.4 .1h-1.6l-.4-.1h-.8l-.2 .2h-.8l-.2-.2h-2.6l-.4 .1h-.6l-.4-.1h-1.6l-.4 .1h-.6l-.4-.1h-.8l-.2 .2h-.8l-.2-.2h-.6l-.4 .1h-.8l-.2 .2h-.8l-.2-.3h-.8l-.2 .4h-.8l-.2-.4h-1.8l-.2 .3h-.6l-.4-.1h-1.8l-.2-.2h-.6l-.4 .1h-1.6l-.4-.1h-.8l-.2 .4h-.8l-.2-.2h-1.6l-.4-.1h-.6l-.4-.1h-.6l-.4 .1h-.6l-.4 .1h-.8l-.2-.2h-1.6l-.4 .1h-.6l-.4-.1h-2.8l-.2 .2h-.8l-.2-.2h-.8l-.2 .2h-.8l-.2-.2h-.8l-.2 .2h-.8l-.2-.2h-2.6l-.4 .1h-.6l-.4-.1h-1.6l-.4 .1h-.6l-.4-.1h-3.6l-.2 .5l-.8 1.2l-.2 .1h-1.2l-.3-.2l-.7-1.2l-.3-.2h-.5l-.2-.2h-3.6l-.4 .1h-.6l-.4-.1h-.8l-.2 .2h-1.8l-.2-.2h-2.6l-.4 .1h-1.6l-.4-.1h-1.8l-.2 .3h-.6l-.2 .4l-.2 .8l-.3 .4h-1.5l-.2 .7h-.8l-.2 .3h-.8l-.2-.5l-.6-1.9l-.2-.4h-.8l-.4-.1h-.6l-.4 .1h-.6l-.4 .1h-.6l-.4-.1h-.6l-.4-.1h-.8l-.2 .2h-.3l-1-.1l-1.5 .8l-.2 .4h-.6l-.4-.2l-.8-.6l-.2-.4l-.3-.1h-4.7l-.3 .5h-.1v1.9h-.2h-.1v1.1h-.1h-.8l-.2-.8h-.1v-1.8h-.1l-.3-.6h-.5l-.2-.3h-1.6l-.4 .1h-.6l-.4 .1h-.8l-.2-.2h-4.6l-.4 .1h-.6l-.4 .1h-.8l-.2-.2h-3.6l-1 2.7l-.2 .3h-.5l-.5-.1l-.5-1.4l-.5-1.3l-.2-.2h-.8l-.2 .4h-.8l-.2-.4h-1l-.6 .1l-1 2.5l-.2 .4h-1.2l-1.3-3h-.3l-.4 .1h-.8l-.2 .3h-.8l-.2-.4h-2.6l-.4 .1h-.6l-.4-.1h-2.8l-.2 .3h-1.8l-.2-.3h-3.6l-.4 .1h-.6l-.4-.1h-.8l-.2 .3h-.8l-.2-.3h-.8l-.2 .2h-.6l-.4-.1h-.6l-.4-.1h-1.8l-.2 .2h-.6l-.4-.1h-.6l-.4-.1h-1.6l-.4 .1h-.6l-.4-.1h-.8l-.2 .2h-.8l-.2 .2h-.8l-.2-.4h-.8l-.2 .2h-1.8l-.2-.2h-2.8l-.2 .2h-.8l-.2-.2h-3.6l-.4 .7l-.3 .1h-.7l-.6-.1l-.2-.4l-.2-.2h-.6l-.4 .1h-.8l-.2-.2h-3.8l-.2 .3h-.8l-.2-.2h-.8l-.2 .2h-.6l-.4-.1h-.6l-.4 .1h-.6l-.4-.1h-.6l-.4 .1h-.8l-.2-.3h-.8l-.2 .2h-.8l-.2-.2h-.6l-.4 .1h-.6l-.4-.1h-7.8l-.2 .2h-.8l-.2-.2h-2.6l-.4 .1h-.6l-.4-.1h-3.8l-.2 .2h-.8l-.2-.2h-3l-.8 .6l-.2-.3l-.6 .3l-.4 .5l-.6 .3l-.4 .3l-.8 .2l-.2 .3l-.6-.1l-.7-.4l-1.3-1l-.4-.3l-.3-.3h-3l-.5 .1l-.5 1l-.5 .8h-1.2l-.6-.9l-.4-1l-.6-.1l-.4 .1h-.8l-.2 .2h-.8l-.2-.3h-1.6l-.4 .1h-.6l-.4-.1h-.6l-.4 .1h-.6l-.4-.1h-3.8l-.2 .3h-.8l-.2-.2h-.6l-.4-.1h-1.8l-.2 .2h-.8l-.2-.2h-1.8l-.2 .2h-.6l-.4-.1h-1.8l-.2 .2h-.8l-.2-.2h-.6l-.4-.1h-2.8l-.2 .2h-.8l-.2-.2h-.6l-.4 .1h-.6l-.4-.1h-1.6l-.4 .1h-.6l-.4-.1h-7.6l-.4 .1h-.6l-.4-.1h-2.8l-.2 .2h-.8l-.2-.2h-4.8l-.2 .2h-.8l-.2-.2h-2l-.6 .1l-.4 .8l-.3 .1h-.7l-.6-.1l-.2-.4l-.2-.2h-.8l-.2-.3h-2.6l-.4 .1h-.6l-.4-.1h-.6l-.4 .1h-.6l-.4-.1h-.6l-.4 .1h-1.6l-.4-.1h-4.8l-.2 .3h-.8l-.2-.3h-2.8l-.2 .3h-.8l-.2-.2h-1.6l-.4-.1h-.8l-.2 .3h-.6l-.4-.1h-.6l-.4 .1h-1.8l-.2-.2h-.8l-.2 .2h-1.8l-.2-.2h-.3l-1-.1l-.5 1.2l-.5 1h-1l-.3-.5l-.4-1.1l-.3-.4h-1.3l-.4 .1l-.3 .5l-.5 1.1l-.2 .1h-.8l-.2-.2l-.3-.6l-.5-.9h-1l-.2-.3h-1.8l-.2 .3h-.8l-.2-.3h-4.6l-.4 .1h-2.6l-.4 .1h-.8l-.2-.2h-3.6l-.4 .1h-.8l-.2 .2h-.8l-.2-.2h-1.6l-.4-.1h-2.8l-.2 .2h-.8l-.2-.2h-1.8l-.2 .3h-.8l-.2-.3h-2.8l-.2 .3h-.8l-.2-.3h-3.8l-.2 .2h-.8l-.2-.2h-1.8l-.2 .2h-.8l-.2-.2h-.8l-.2 .2h-.6l-.4 .1h-.8l-.2-.3h-5.6l-.4 .1h-.8l-.2 .2h-.8l-.2-.2h-.6l-.4-.1h-2.6l-.4 .1h-.6l-.4-.1h-1.3l-.3 .4l-1 2.1h-1.2l-.2-.4l-.8-1.6l-.2-.3h-.8l-.2-.2h-.8l-.2 .4h-.6l-.4-.1h-.8l-.2-.3h-4.8l-1 1.4l-.2 .6l-.8 1.1l-.2-.3l-.3 .3l-.5 .4l-.2 .8l-.3 .2l-.5 .1l-.5-.1l-.5-.3l-.2-.6l-.3-.2l-.5-.6l-.2-.1l-1.6-2l-.4-.5h-.6l-.4-.1h-1.6l-.4-.1h-.8l-.2 .4h-.8l-.2-.4h-.6l-.4 .1h-1.6l-.4-.1h-2.3l-1 .1l-1-.1l-1 .1l-1 .1l-.5 .5l-.2-.3l-.8 .7l-.2 1l-.3 .3l-.5 .5h-.1v-1.1h-.1l-.3 .1l-.5 .1l-.2 .6l-.8-.3l-.2-.5l-.6-.4l-1-1l-.2-.1h-.8l-.4 .1h-.8l-.2-.3h-.6l-.4-.1h-.8l-.2 .2h-.8l-.2-.2h-.6l-.4 .1h-1.6l-.4-.1h-2.6l-.4 .1h-1.6l-.4 .1h-1.8l-.5 .6h-1l-.5-.7h-.8l-.4-.1h-1.6l-.4 .1h-.6l-.4-.1h-1.6l-.4 .1h-.6l-.4-.1h-3.8l-.2 .2h-.6l-.4-.1h-.6l-.4 .1h-1.8l-.2-.2h-2.6l-.4 .1h-2.3l-.3 .5l-.2 .1h-1l-.2 .3h-.8l-.2-.6h-.8l-.2 .2h-.8l-.2 .5l-.3-.7l-.3-.4h-1.2l-.2 .4h-.8l-.2-.3h-.6l-.4-.1h-.8l-.2 .4h-.8l-.2-.4h-.6l-.4 .1h-.6l-.4-.1h-1.8l-.2 .3h-.8l-.2-.3h-.6l-.4 .1h-1.6l-.4 .1h-1.6l-.4 .1h-.8l-.2-.2h-.6l-.4-.1h-.6l-.7 1.2h-1l-.7-1.2h-5.6l-.4 .1h-.8l-.2 .2h-.8l-.2-.3h-5.6l-.4 .1h-.6l-.4-.1h-1.6l-.4 .1h-.6l-.4-.1h-.8l-.2 .3h-.8l-.2-.2h-.6l-.4-.1h-2.8l-.2 .2h-.8l-.2-.2h-2.8l-.2 .3h-.3l-.5 .1l-.2 .7l-.8 1.5l-.2 .3l-.3 .5l-.5 .8h-.1v1.5h-.1l-.3 .2l-.5 .3l-.5-.1l-.5-.7h-.1v-1.5h-.1l-.8-1.4h-.2l-.8-1.6l-.5-.7l-.7-.2h-.6l-.4 .1h-.6l-.4-.1h-1.6l-.4 .1h-.8l-.2 .2h-.6l-.4-.1h-1.8l-.2-.2h-2.8l-.2 .2h-.8l-.2-.2h-1.6l-.4 .1h-.6l-.4 .1h-.8l-.2-.2h-.6l-.4 .1h-1.6l-.4-.1h-2.8l-.2 .4h-.8l-.2-.2h-.8l-.2-.2h-6.8l-.2 .2h-.8l-.2-.2h-1.8l-.2 .3h-.8l-.2-.3h-.8l-.2 .2h-1.6l-.4 .1h-.6l-.4-.1h-.6l-.4-.1h-.6l-.4-.1h-.6l-.4 .1h-.6l-.4-.1h-5.8l-.2 .2h-.6l-.4-.1h-.6l-.4-.1h-2.3l-.5 .1l-.5 .7h-1l-.3-.3l-.4-.5h-.8l-.2 .3h-.6l-.4-.1h-1.8l-.2-.2h-.8l-.2 .3h-.6l-.4-.1l-.6 1.7l-.4 1.8l-.3 .7h-1l-.3-.7l-1-3.5l-.2-.2h-2.8l-.4 .1h-.6l-.4-.1h-.8l-.2 .3h-.6l-.4-.1h-1.8l-.2-.2h-4.6l-.4 .1h-3.6l-.4-.1h-1.6l-.4 .1h-.6l-.4-.1h-.6l-.4 .1h-1.6l-.4-.1h-.8l-.2 .3h-.8l-.2-.2h-.6l-.4-.1h-.8l-.2 .2h-.6l-.4-.1h-.6l-.4-.1h-.6l-.4 .1h-.8l-.2 .2h-.8l-.2-.3h-.8l-.5 .1l-.7 2.7l-.6 1.7l-.2 .5h-1l-.2-.5l-.3-.8l-1-3.6h-.5l-.2 .3h-.8l-.2-.2h-.8l-.2-.2h-1.6l-.4 .1h-.6l-.4-.1h-4.8l-.2 .3h-.8l-.2-.3h-.8l-.2 .3h-.8l-.2-.3h-.3l-.5 .1l-.5 .7h-1l-.5-.7l-.2 .1h-1.8l-.2-.2h-.8l-.2 .2h-.8l-.2-.2h-3.8l-.2 .3h-1.8l-.2-.2h-.6l-.4-.1h-2.8l-.5 .5l-.5 1.4l-.5 1.3h-1l-.3-.6l-.7-2.1l-.3-.5l-.4 .1h-2.3l-1-.1l-.3 .5l-.2 .8l-.5 1.7h-1l-.3-.9l-.4-1.6l-.3-.4h-.3l-.4-.1h-1.6l-.4 .1h-.6l-.4-.1h-.8l-.2 .2h-.6l-.4-.1h-.6l-.4-.1h-1.3l-.3 .3l-.4 .8l-.3 .1h-.7l-.6-.1l-.2-.4l-.5-.7h-.5l-.2 .3h-.8l-.2-.3h-.8l-.2 .2h-.3l-.3 .3l-.2 .8l-.5 1.7h-1l-.3-.9l-.4-1.6l-.3-.4l-1 .1l-.3 .3l-.2 .8l-.5 1.7h-1l-.3-.9l-.4-1.6l-.3-.5h-1.5l-.2 .2l-.6 1.6l-.2 .1h-.1v1.4h-.1h-.3l-.3 .6l-.2 1l-.2 .2h-.8l-.2-.4l-.6-1.8h-.2l-.2-.9h-.8l-.2 .5h-.8l-.2-.7h-1.6l-.4-.1h-.8h-.1v1.1h-.1h-.8l-.2 .2h-1.8l-.2-.5h-.8l-.2-.7h-.3l-.3-.4l-.2-.8l-.2-.6h-1.6l-.4 .1h-.6l-.4-.1h-.8l-.2 .3h-.8l-.2-.3h-5.8l-.2 .2l-.6 .1l-.4 .8l-.3 .1h-.7l-.6-.1l-.2-.4l-.5-.7h-2.5l-.2 .2h-.8l-.2-.2h-2.6l-.4 .1h-.6l-.4-.1h-4.6l-.4 .1h-1.6l-.4-.1h-3.6l-.4 .1h-.6l-.4-.1h-4.8l-.2 .3h-.8l-.2-.3h-2.8l-.2 .3h-.8l-.2-.3h-6.6l-.4 .1h-1.6l-.4-.1h-1.8l-.2 .4h-.8l-.2-.2h-.8l-.2-.2h-1.6l-.4 .1h-.8l-.2 .2h-.8l-.2-.3h-.6l-.4 .1h-.6l-.4-.1h-.8l-.2 .2h-.8l-.2-.2h-.6l-.4 .1h-.6l-.4-.1h-.6l-.4 .1h-.6l-.4-.1h-.8l-.2 .2h-.8l-.2-.2h-.6l-.4 .1h-.6l-.4 .1h-.8l-.2-.2h-2.8l-.2 .3h-.6l-.4-.1h-.8l-.2-.2h-2.6l-.4 .1h-.6l-.4-.1h-.6l-.4 .1h-.8l-.2 .2h-.6l-.4 .1h-.8l-.2-.2h-1.8l-.2-.2h-1.6l-.4 .1h-.6l-.4-.1h-2.6l-.4 .1h-.6l-.4 .1h-.8l-.2-.2h-1.6l-.4 .1h-.6l-.4 .1h-.8l-.2-.2h-2.8l-.2 .3h-1.8l-.2-.3h-.6l-.4 .1h-.6l-.4-.1h-.6l-.4 .1h-.6l-.4-.1h-2.8l-.2 .3h-.8l-.2-.3h-2.6l-.4 .1h-.6l-.4-.1h-2.6l-.4 .1h-.8l-.5 .3h-1l-.3-.3l-.4-.1h-1.6l-.4 .1h-.6l-.4-.1h-.8l-.2 .2h-.6l-.4-.1h-.6l-.4-.1h-1.6l-.4 .1h-.8l-.2 .2h-.8l-.2-.3h-.6l-.4 .1h-.6l-.4-.1h-.8l-.2 .2h-.8l-.2-.2h-1.8l-.2 .2h-1.8l-.2-.2h-2.8z"/>
<path fill="#000000" d="M138 575.3h.8l.2 .2h1.8l.4 .1h2.6l.2-.4h.8l.2 .4h.8l.2-.2h.8l.2 .2h1.8l.2-.6h.8l.2 .6h.8l.4-.1h.6l.2-.3h.8l.2 .4h.8l.2-.2h.8l.4 .1h.6l.2-.5h.8l.2 .2h.8l.2 .4h1.8l.2-.6h.8l.2 .6h.8l.2-.2h.8l.2-.3h.8l.2 .5h1.8l.2-.3h.8l.2 .2h.8l.2-.3h.8l.4-.1h.6l.2 .5h.8l.2-.2h.8l.4 .1h.6l.4 .1h.6l.2-.2h1.8l.2-.2h.8l.2 .4h.8l.4-.1h.6l.4 .1h1.6l.2-.2h.8l.2-.4h.8l.2 .4h.8l.2 .2h.8l.2-.4h.8l.2 .3h.8l.4 .1h.6l.4-.1h.6l.4 .1h.6l.4-.1h1.6l.4 .1h1.6l.2-.3h1.8l.2-.3h.8l.2 .2h.8l.4 .1h.6l.2 .3h.8l.2-.6h.8l.2 .5h.8l.4 .1h.6l.2-.2h.8l.2-.1l.5-.7h1l.5 .5h.8l.4 .1h.6l.4 .1h.6l.2 .2h.8l1-2.7l.2-.2h.8l.2 .1l1 2.7l.5 .1h.3l.2-.3h1.8l.2 .3h.8l.2-.3h.8l.2-.2h.8l.4 .1h.6l.2 .5h.8l.4-.1h.6l.2-.2h1.8l.2 .2h.8l.2-.4h.8l.2 .2h1.8l.2 .3h.8l.2-.5h.8l.2 .5h.8l.2-.6h.8l.2 .5h.8l.4 .1h.6l.2-.2h.8l.4-.1h.6l.2 .3h.8l.2-.5h.8l.2 .2h.8l.4-.1h.6l.2 .3h.8l.4 .1h.6l.2-.2h.8l.4 .1h1.6l.2-.2h.8l.2-.3h.8l.2 .6h.8l.2-.3h.8l.4-.1h1.6l.2 .3h.8l.2-.4h.8l.2 .4h.8l.4 .1h1.6l.4-.1h.6l.2-.4h.8l.4 .1h.6l.2 .2h.8l.2-.4h.8l.2 .6h.8l.4-.1h.6l.2-.5h.8l.2 .6h.8l.4-.1h.6l.4 .1h.6l.4-.1h.6l.4 .1h.6l.2-.2h1.8l.2-.4h.8l.2 .5h.8l.4 .1h.6l.2-.5h.8l.2 .5h.8l.2-.2h.8l.2 .2h.8l.4-.1h.6l.4 .1h2l.6-.3l.2-.5l.5-1.4h1l.3 .7l.2 .5h.5l.3 .1l.2-.1l.8 .3l.2 .4l.5 .3l1-.1h2.3l.2-.2h.8l.2 .2h.8l.2-.3h.8l.2 .4h1.8l.2-.2h.8l.2 .2h.8l.2-.3h.8l.2 .2h1l.2-.4l.6-1.8l.4-.1h.6l.4 .1h.6l.2 .2h.8l.2 .3h.8l.2-.3h.8l.2-.4l.2 .1l.3 .9l.3-.3h.1v-1.6h.1h.8l.2-.5h.8h.1v1.9h.1l.5-.1l.5-3.1h1h.1v1.6h.1l.3 .7l.5-.1l.5 .3h.1v-1.2h.2l.2-.1h.1v-1.1h.1h.2v-1.6h.1h1l.5 3.2l.2 .8h.6h.1v-1.5h.1h.2h.2v-1.5h.1h1h.1v1.7h.2l.2-.5h.8l.2-.2h.1v-1.6h.1h.2v-1.9h.1h1l.5 3.7l.2 .3h.2v1.3h.1l.3 1l.2-.2h.8l.2-.5h.8l.2 1h.5l.3 .1l.2 .4l.2 .8l.3 .3l1-.1l1-.1h.3l.2 .2h1.8l.2-.5h.8l.2 .5h.8l.2-.4h.8l.2 .3h.8l.2-.4h.8l.2 .2h.8l.2 .2h1.8l.2-.4h.8l.4 .1h.6l.2 .4h.8l.4-.1h.6l.4-.1h.6l.2 .1l.2-.3l.6-1.6l.2 .2h.8l.2-.2h1.8l.2 .2h.8l.2 .9h.8l.4 .1h.6l.2-.5l.2 .1l.6 1.2l.4-.1h.6l.4-.1h.6l.4 .1h3.6l.4 .1h.6l.2-.4l.5-2.6h.1v-1.2h.2l.4 .1h.6l.2 .6h.8l.2-.7h.8l.2-.9h.8l.4 .1h.6h.1v1.1h.1h.8h.1v1.1h.1h.8h.1v-2.1h.1l.2 .2l.6 2.8h.1v1.7h.1l.2 .2h.6l.2-.2h1.8l.2 .2h.8l.2-.4h.8l.2-.2h.8l.2 .6h.8l.2-.3h.8l.2 .3h1.8l.2-.4h.8l.2 .4h.8l.4-.1l1-1l.6-.6h.1v-1.1h.1l1-1.2l.8-.4l.2 .3l.5 .1l.3 .1l.2 .9l.5 .4l.3 .3l.2-1l.5 .8l.3 .5h.1v1.2h.1l.5 .6l.3 .2l.2-.9l.5 .3l.5 .2h.8l.4 .1h.6l.2 .2h.8l.4-.1h.6l.4-.1h1.6l.2-.2h.8l.2 .5h.8l.4-.1h.6l.2-.3h.8l.2-.2h.8l.2 .5h.8l.2-.2h.8l.2 .2h.8l.2-.5h.8l.2 .5h1.5l.3-.1l.4-.7l.6-.1h.7l.3 .1l.4 .7l.3 .2h.3l.2-.5h.8l.2 .2h.8l.2-.2h.8l.2 .4h1.8l.4-.1h1.6l.4-.1h.6l.4 .1h.6l.4-.1h.6l.2 .2h1.8l.2-.2h.8l.4-.1h.6l.2 .4h.8l.2-.3h.8l.2 .2h.8l.4 .1h.6l.2-.4h1.8l.2 .3h1.8l.4 .1h.6l.4-.1h.6l.2-.2h1.8l.2-.3h.8l.2 .2h.8l.2 .3h.8l.4 .1l.6-.1l1-1.5l.4-.1h1l.3 .2l.7 1.1l.3 .2h.3l.2 .2h1.8l.2-.4h.8l.2 .4h.8l.2-.3h.8l.2 .3h1.8l.2-.2h.8l.4-.5l.6-.1h.7l.3 .1l.4 .6l.6 .1l.4-.1h1.6l.2-.4h.8l.2 .5h.8l.2-.6h.8l.2 .6h1.8l.2-.4h.8l.2 .4h.8l.4-.1h.6l.2-.3h.8l.2 .2h.8l.4 .1h1.6l.2-.3h.8l.2 .4h.8l.2-.3h1.8l.2 .2h.8l.4 .1h.6l.4-.1h1.6l.4-.1h.6l.2 .2h.8l.2-.2h.8l.4 .1h.6l.4 .1h.6l.2-.4h.8l.2-.2h.8l.2 .6h.8l.2-.4h.8l.2 .2h.8l.4 .1h.6l.2-.3h.8l.2 .4h.8l.2-.2h.8l.4 .1h2.6l.4 .1h.6l.2-.3h.8l.2-.2h.8l.2 .5h.8l.2-.2h.8l.2 .2h.8l.2-.5h1.8l.2 .5h.8l.2-.2h1.8l.2 .2h1.8l.2-.5h.8l.2 .5h.8l.2-.2h.8l.2-.6h.8l.2 .2h.8l.2 .4h.8l.2-.7h.8l.4-.1h.6l.4 .1h.6l.2 .5h.8l.2-.3h.8l.2 .6h1.8l.2-.2h1.8l.2 .3h1.8l.4-.1h.6l.2-.2h.8l.2 .2h.8l.4 .1h.6l.2-.4h.8l.2 .2h.8l.2-.2h.8l.2 .4h.8l.2-.4h.8l.2 .3h.8l.2-.5h.8l.2 .5h.8l.4 .1h.6l.4-.1h1.6l.2-.4h.8l.2 .4h.8l.2-.2h.8l.2 .3h.8l.2-.5h.8l.2 .5h.8l.2-.3h.8l.4 .1h1.6l.4 .1h.6l.4-.1h.6l.4-.1h.6l.2 .2h.8l.2-.2h.8l.4-.1h.6l.2 .3h1.8l.2-.2h.8l.2 .2h2.8l.4-.1h1.6l.2-.4h.8l.2 .5h.5l1-.8l.5-.7l.5-.4l.3-.1l.2 .8l1-.2l.8 .3l.2-.5l.5 .4l.3 .3l.2 .7l.5 .1l1-.1h.3l.2 .2h.8l.2-.3h.8l.2 .4h1.8l.2-.3h.8l.4-1l.6-.9h1.2l.5 .8l.5 1l.2 .4h.6l.4-.1h.6l.2-.5h.8l.2 .3h.8l.2 .3h.8l.2-.2h.8l.4 .1h.6l.4 .1h1.6l.2-.4h.8l.2 .3h.8l.2-.4h.8l.2 .5h.8l.4-.1h1.6l.2-.2h.8l.2 .3h2.8l.2-.4h.8l.2 .3h2.8l.4 .1h.6l.2-.3h.8l.2-.3h.8l.2 .6h1.8l.2-.6h.8l.2 .6h.8l.4-.1h1.6l1-1h.2l.5-.4l.3-.1l.2-.7l.5-.3h.7l.6 .2l.2 .8l.8 .5l.2-.4l.5 .6l.3 .2l.2 .5h.8l.4 .1h1.6l.2-.3h.8l.2 .3h.8l.2-.3h.8l.2 .2h.8l.2 .2h1.8l.2-.4h.8l.2 .3h1.2l.6-.8l.4-.9l.3-.2h1l.3 .2l1 1.7l.4 .1h.6l.2-.3h.8l.4 .1h.6l.4 .1l.6-.8l.4-.9l.3-.2h1l.3 .2l1 1.7l.2-.5h.8l.2 .6h.8l.4-.1h.6l.4-.1h.6l.2 .2h2.8l.2-.3h.5l.3-.5l.2 .7h.8l.2-.4h.8l.2 .2h.8l.2-.8h.8l.4 .1h.6l.2 .6h.8l.2-.5h.8l.2 .6h.8l.2-.3h.8l.2 .2h.8l.2-.2h.8l.2-.3h.8l.2 .7l.5 .2h3.3l.2-.3h.8l.2 .3h.8l.4-.1h.6l.4-.1h.6l.4 .1h.6l.2-.5h.8l.2 .6h.8l.2-.5h.8l.2 .4h.8l.4-.1h.6l.4 .1h1.6l.4 .1h.6l.2-.5h.8l.2 .4h.8l.4 .1h.6l.2-.3h.8l.2 .2h1.8l.2-.4h.8l.2 .5h.8l.4-.1h1.6l.2-.2h.8l.2 .3h.8l.2-.6h.8l.2 .5h1.8l.2-.3h.8l.4-.1h.6l.2 .5h.8l.2-.4h.8l.2 .2h.8l.4 .1h2.6l.2-.2h.2l.6-.5l.2-.3l.5-.1h1.3l.2 .1l.8 .9l.2-.4h.8l.2 .5h.8l.4 .1h.6l.4-.1h.6l.4 .1h.6l.2-.2h.8l.2 .2h1.8l.2-.5h.8l.2 .2h.8l.2 .2h.8l.4 .1h1.6l.2-.3h.8l.4 .1h.6l.2-.3h.8l.2 .3h.8l.2-.2h.8l.2 .3h.8l.4 .1h.6l.2-.3h.8l.4-.1h.6l.2 .4h.8l.4-.1h.6l.4-.1h.6l.2 .2h2.8l.2-.4h.8l.2 .3h.8l.2-.4h.8l.2 .2h.8l.2 .3h1.8l.4-.1h1.6l.4 .1h.6l.2-.4h.8l.2 .4h1.8l.2-.2h.8l.2-.3h.8l.2 .4h.8l.2-.3h.8l.2-.2h.8l.2 .6h.8l.4-.1h1.6l.2-.5h.8l.2 .6h.8l.2-.3h.8l.2 .2h.8l.4 .1h.6l.2-.5h.8l.2 .5h2.8l.2-.3h.8l.2 .3h.8l.2-.2h.8l.2-.2h.8l.2 .3h1.8l.4 .1h.6l.4-.1h1.6l.2-.3l.2-.6h.2v-2.1h.1h.1v-6.2h.2h.1v-1.3h.1h1.2h.2v2.5h.1h.1v4.9h.2l.2-.7h.8h.1v1.6h.1h.8l.2-1h.5l.3 .1l.2 .7l.5 2.4l1 .1h.3l.2-.5h.8l.2 .4h.8l.2-.5h.8l.2 .6h.8l.2-.3h.8l.4 .1h.6l.4-.1h.6l.2 .2h.8l.2-.5h.8l.4 .1l.3-.1l.5-1l.2-.4l.3-.2h1l.3 .2l.4 .9l.6 1h1l.2-.3h.5l.3-.2l1-2.1h1.2l.5 .9l.7 1.7h.6l.4 .1h.6l.2-.2h1.8l.4 .1h.6l.2-.4h.8l.2 .5h.8l.4-.1h.6l.4-.1h.6l.2 .2h.8l.4-.1h.6l.2-.5h.8l.2 .5h.8l.4-.1h.6l.2 .2h.8l.2-.3h.8l.2 .3h.8l.2-.4h.8l.2 .3h.8l.4-.1h.6l.2 .2h.8l.4-.1h.6l.4-.1h.6l.2 .2h.8l.2-.2h.8l.2-.2h.8l.4-.3l.3-.3h1l.5 .7h.8l.4 .1h.6l.2-.3h.8l.2 .5h.8l.2-.4h.8l.2 .4h.8l.2-.5h.8l.2 .5h.8l.2-.2h1.8l.4 .1h1.6l.4 .1h.6l.2-.4h.8l.4 .1l.3-.2l.7-1.3l.3-.2h1l.3 .2l1 1.7l.2-.2h.8l.2 .3h.8l.2-.5h.8l.2 .4h.2l.6-.8l.4-.9l.3-.2h1l.3 .2l1 1.8l.2-.4h.8l.2 .4h.8l.4-.1h1.6l.2-.3h.8l.4-.1h1.6l.2 .4h4.5l.3-.6h.1v-1.4h.1h.8h.1v1.4h.1h.8h.1v-1.3h.1h.5l.3-.5l.4-2l.3-.7h1l.3 .7l.4 2l.6 1.9l.2 .5h.8l.2-.2h.8l.2-.2h.8l.2 .5h.2l.3-.9h.1v-1.6h.2h.1v-1.9h.1h.1v-1.7h.1l.3-.2h.3l.2 .9h.8h.1v-1.6h.1h.8l.2 .2h.5l.3 .2h.1v3.7h.1h.1v1.3h.1h.2v1.1h.1h.3l.2 .5h.8l.4-.1h4.6l.2-.2h.8l.2 .2h.8l.4 .1h.6l.2-.5h.8l.4-.1h.6l.2 .6h.8l.4-.1h.6l.4-.1h.6l.2 .2h.8l.4-.1h.6l.2-.2h1.8l.4 .1h.6l.2 .2h.8l.2-.2h1.8l.4 .1h1.6l.4-.1h.6l.4 .1h.6l.2-.4h1.8l.2 .4h.8l.2-.4h.8l.2 .2h.8l.2 .3h.8l.4-.1h.6l.4 .1h2.6l.2-.2h.8l.4 .1h.6l.2-.4h.8l.2 .4h.8l.4-.1h.6l.4-.1h.6l.4 .1h.6l.2 .2h1.8l.4-.1h1.6l.4 .1h.6l.4-.1h.6l.2-.2h.8l.2 .2h.8l.4 .1h.6l.4-.1h1.6l.4-.1h.6l.4 .1h.6l.4 .1h.8l.5-.6l.5-.7l.5-.1h1.3l.2 .1l.8 1l.2-.2h.8l.2 .5h.8l.2-.3h.8l.2 .2h.8l.4 .1h.6l.2-.2h1.8l.4 .1h1.6l.2-.2h.8l.4 .1h.6l.2-.2h.8l.2 .3h.8l.4 .1h.6l.2-.3h.8l.2-.3h.8l.2 .3h.8l.2 .3h1.8l.2-.2h1.8l.2 .2h1.8l.4-.1h.6l.2-.3h.8l.2 .2h.8l.2 .2h.8l.2-.2h.8l.4-.1h.6l.2-.2h.8l.2 .4h1.8l.4-.1h.6l.4 .1h2.6l.2-.2h.8l.4-.1h.6l.4 .1h.6l.2 .3h.8l.4-.1h.6l.2-.4h.8l.2 .3h.8l.4 .1h.6l.4 .1h.6l.2-.3h.8l.4 .1h.6l.4 .1h.6l.4 .1h.6l.2-.4h.8l.2 .3h.8l.4 .1h.6l.2-.4h.8l.4 .1h.6l.2-.3h.8l.2 .3h.8l.2 .2h1.8l.2-.2h.8l.2 .3h.8l.2-.6h.8l.2 .6h.8l.2-.2h.8l.2 .2h.8l.4-.1h.6l.2-.4h.8l.2 .4h.8l.4 .1h.6l.2-.4h.8l.2 .4h.8l.4-.1h.6l.4-.1h.6l.4 .1h.6l.4-.1h.6l.2 .2h.8l.2-.4h.8l.2 .4h.8l.2-.2h.8l.2 .2h.8l.2-.2h.5v3.9h-10.5l-.2 .4h-.8l-.2-.2h-.8l-.2-.2h-.6l-.4 .1h-.6l-.4-.1h-2.6l-.4 .1h-.6l-.4-.1h-1.8l-.2 .3h-.8l-.2-.2h-1.6l-.4-.1h-2.6l-.4 .1h-.6l-.4-.1h-5.6l-.4 .1h-.6l-.4-.1h-3.8l-.2 .3h-.8l-.2-.3h-2.6l-.4 .1h-.8l-.2 .2h-.8l-.2-.3h-1.8l-.2 .2h-.8l-.2-.2h-.8l-.2 .2h-.8l-.2-.2h-.8l-.2 .2h-.8l-.2-.2h-1.8l-.2 .3h-1.8l-.2-.3h-.6l-.4 .1h-.6l-.4 .1h-.6l-.4-.1h-.6l-.4 .1h-.8l-.2-.2h-2.8l-.2 .2h-.8l-.2-.2h-2.8l-.2 .2h-.8l-.2-.2h-1.8l-.2 .6h-.8l-.2-.4h-.8l-.2 .3h-1.8l-.2-.2h-.8l-.2-.3h-.8l-.2 .2h-.6l-.4-.1h-.6l-.4 .1h-.6l-.4 .1l-.8 .9l-.2 .1h-1.3l-.5-.1l-1-1.2l-.2 .1h-.6l-.4 .1h-.8l-.2-.2h-.8l-.2 .3h-.8l-.2-.3h-4.6l-.4 .1h-.6l-.4-.1h-1.8l-.2 .3h-.8l-.2-.3h-.8l-.2 .3h-.8l-.2-.3h-.8l-.2 .5h-.8l-.2-.3h-.8l-.2-.2h-1.6l-.4 .1h-.6l-.4-.1h-1.8l-.2 .3h-1.8l-.2 .2h-.8l-.2-.5h-.8l-.2 .5h-.8l-.2-.5h-.6l-.4 .1h-1.6l-.4 .1h-.8l-.2-.2h-1.8l-.2 .4h-.8l-.2-.3h-.6l-.4 .1h-.8l-.2-.2h-.8l-.2 .5h-.6l-.4-.1h-.8l-.2-.2h-.8l-.2-.2h-2.8l-.2 .5h-.8l-.2-.5h-.8l-.2 .4h-.8l-.2-.4h-2.8l-.2 .3h-.8l-.2-.3h-1.6l-.4 .1h-.6l-.4-.1h-.8l-.2 .5h-.8l-.2-.5h-.8l-.5 1l-.5 3.5h-.1v2.3h-.1l-.3 .2h-.5l-.2 .7h-.6l-.4-.1h-.8h-.1v-2.7h-.1l-.6-.1h-.1v-1.5h-.1l-.2-.7h-.2v-1.7h-.1l-.3-.9h-2.2l-.2 .5h-.6l-.4 .1l-1 4l-.3 .7h-1l-.3-.7l-.7-3l-.5-.1l-.2-.6h-.6l-.4 .1h-.6l-.4-.1l-.3-.5h-.5l-.2-.4h-4.8l-.2 .4h-.8l-.2-.4h-.6l-.4 .1h-.8l-.2 .4h-.8l-.2-.3h-.8l-.2 .3h-.8l-.2-.4l-.3 .3l-.7 1.4l-.3 .1h-.7l-.6-.1l-.7-1.4l-.7-.2h-1.8l-.2-.2h-1l-1 1.8l-.3 .1h-.7l-.6-.1l-.7-1.4l-.3-.2h-.2l-.2-.2h-.6l-.4 .1h-1.8l-.2 .5h-.8l-.2-.6h-3.6l-.4 .1h-.6l-.4-.1h-.8l-.2 .4h-.8l-.2-.4h-2.6l-.2 .2l-.5 .7h-1l-.7-.9h-.6l-.4 .1h-.8l-.2 .5h-.8l-.2-.6h-.8l-.2 .4h-.6l-.4 .1h-.8l-.2-.3h-2.8l-.2-.2h-.8l-.2 .3h-.8l-.2-.3h-.8l-.2 .5h-.8l-.2-.5h-.8l-.2 .3h-.8l-.2-.3h-.8l-.2 .3h-.6l-.4-.1h-.8l-.2-.2h-1.8l-.2 .2h-.8l-.2-.2h-1.8l-.2 .3h-.8l-.2-.3h-1l-.6 .1l-.7 1.6l-.5 .9h-1.2l-1-2.1h-.8l-.2-.5h-.8l-.5 .5l-.7 1.5l-.3 .1h-.7l-.6-.1l-.7-1.5l-.3-.2h-1.2l-.2-.3h-4.6l-.4 .1h-.8l-.2 .4h-1.8l-.2-.5h-.8l-.2 .6h-.3l-.3 .5h-.1v1.2h-.1l-.2-.4l-.3 .1h-.5l-.2 1h-.8l-.2-1h-.8l-.2 .3h-.2v3.8h-.1h-.1v2h-.2h-1.2l-.2-1h-.2v-5h-.1h-.1v-1.7h-.2l-.2-.3h-.8l-.4-.1h-.8l-.2 .2h-.8l-.2 .2h-.8l-.2-.4h-.8l-.2 .3h-.8l-.2-.3h-.8l-.2 .2h-.8l-.2-.2h-.8l-.2 .4h-.8l-.2-.3h-.6l-.4-.1h-.8l-.2 .2h-.8l-.2 .2h-1.8l-.2 .2h-.8l-.2-.4h-.8l-.2-.2h-2.8l-.2 .5h-.8l-.2-.5h-.6l-.4 .1h-.6l-.4-.1h-2.8l-.2 .5h-.8l-.2-.4h-.6l-.4-.1h-.8l-.2 .3h-.6l-.4-.1h-.6l-.4-.1h-.6l-.4-.1h-2.6l-.4 .1h-3.6l-.4 .1h-.8l-.2-.2h-2.8l-.2 .3h-.8l-.2-.2h-.6l-.4-.1h-.8l-.2 .2h-.6l-.4-.1h-.8l-.2 .4h-.6l-.4-.1h-.6l-.4-.1h-.8l-.2-.3h-.6l-.4 .1h-.6l-.4-.1h-.8l-.2 .2h-1.6l-.4 .1h-.8l-.2-.3h-1.8l-.2 .2h-.8l-.2-.2h-.6l-.4 .1h-1.6l-.4-.1h-2.6l-.4 .1l-.8 .9l-.2 .1h-1.3l-.5-.1l-.8-.9l-.2-.1h-2l-.2 .3h-.8l-.2-.2h-.6l-.4 .1h-.6l-.4-.1h-.8l-.2 .3h-.8l-.2-.4h-2.6l-.4 .1h-.6l-.4-.1h-1.8l-.2 .2h-.8l-.2 .3h-.8l-.2-.5h-2.8l-.2 .3h-.8l-.2-.2h-.6l-.4-.1h-1.6l-.4 .1h-.6l-.4-.1h-.6l-.4 .1h-.6l-.4 .1h-.8l-.2-.2h-.8l-.2 .3h-.6l-.4-.1h-1.6l-.4 .1h-.8l-.2-.3h-.6l-.4 .1h-.6l-.4 .1h-.8l-.2-.2h-.8l-.2 .5h-.8l-.2-.2h-.8l-.2-.3h-1.8l-.2 .4h-.3l-.5 .3l-.2-.1h-.8l-.2 .4h-.8l-.2-.6h-.6l-.4 .1h-.8l-.2-.3h-1.8l-.2 .3h-.8l-.2 .2h-.8l-.2 .4h-.8l-.2-.4h-.8l-.2-.3h-.6l-.4 .1h-.8l-.2-.4l-.6-.1l-.4 .1h-.6l-.4 .1h-.8l-.2 .2h-.6l-.4 .1h-1.8l-.2-.4h-.8l-.2 .3h-.6l-.4-.1l-.3 .1l-.7 1.4l-.3 .1h-.7l-.6-.1l-.7-1.4l-.3-.3l-.4-.1h-.6l-.4 .1h-.8l-.2 .2h-.8l-.5 .1l-.7 1.4l-.3 .1h-.7l-.6-.1l-.2-.5l-.5-.8h-.5l-.2-.5h-.8l-.2 .4h-.8l-.2-.4h-1.8l-.2 .4h-.8l-.2-.4h-1.8l-.2 .3h-.8l-.2-.2h-.6l-.4-.1h-.8l-.2 .2h-.8l-.2-.2l-.6 .4l-1.2 .7l-.2 .8l-.8 .2l-.2-.6h-.3l-.5-.2l-.2 .5l-.6-.4l-1-1l-.4-.3h-.6l-.4-.1h-.8l-.2 .5h-.6l-.4-.1h-.6l-.4-.1h-.8l-.2-.3h-.8l-.2 .3h-.8l-.2-.3h-2.8l-.2 .4h-1.8l-.2-.4h-.8l-.2 .4h-.8l-.2-.4h-1.8l-.2 .5h-.8l-.2-.5h-.6l-.4 .1h-.8l-.2 .4h-.8l-.2-.3h-.6l-.4-.1h-.6l-.4 .1h-.8l-.2-.2h-2.6l-.4 .1h-.6l-.4-.1h-2.8l-.2 .5h-.8l-.2-.3h-.3l-.5 .1l-.8 1.5l-.2 .3h-1.2l-.3-.4l-.7-1.5l-.3-.2h-.5l-.2 .5h-.8l-.2-.3h-.8l-.2-.2h-.6l-.4 .1h-.6l-.4 .1h-.8l-.2 .3h-1l-.3 .2l-.5 .3l-.2 .8l-.3 .2l-.5 .2l-.2-.2l-.8-.1l-.2-.5l-1-.6l-.8-.6l-.2 .3h-.8l-.2-.4h-.8l-.2 .2h-.8l-.2 .3h-.8l-.2-.6h-.8l-.2 .5h-.8l-.2-.5h-.8l-.2 .3h-.8l-.2-.3h-1.6l-.4 .1h-.6l-.4-.1h-.8l-.2 .3h-.6l-.4-.1h-.8l-.2-.2h-3.8l-.2 .4h-.8l-.2-.4h-.8l-.2 .2h-.8l-.2-.2h-.8l-.2 .5h-.8l-.2-.4h-.6l-.4-.1h-.8l-.2 .4h-.8l-.2-.3h-.6l-.4-.1h-.8l-.2 .4h-.8l-.2-.4h-2.8l-.2 .4h-.6l-.4-.1h-.8l-.2-.3h-1.6l-.4 .1h-1.6l-.4 .1h-1.6l-.4 .1h-.6l-.4 .1h-.6l-.4-.1h-.8l-.2-.2h-.3l-1-.1l-1 .1l-.3 .4l-.2 .1l-.2-.4h-.8l-.2 .7h-.8l-.2-.9h-.8l-.2 .5h-.8l-.2-.2h-.6l-.4 .1h-.8l-.2 .5h-.8l-.2-.6h-.8l-.2 .5l-.3-.5l-.3-.3l-.4 .1h-.6l-.4 .1h-.8l-.2-.2h-.6l-.4 .1h-.6l-.4-.1h-2.6l-.4 .1h-.6l-.4 .1h-.8l-.2-.2h-2.6l-.4 .1h-.6l-.4-.1h-1.6l-.4 .1h-.6l-.4-.1h-.8l-.2 .2h-.8l-.2-.2h-.8l-.2 .3h-.8l-.2-.3h-2.8l-.2 .4h-.8l-.2-.3h-.8l-.2 .4h-.8l-.2-.5h-1.8l-.2 .6h-.8l-.2-.3h-.8l-.2-.3h-.8l-.2 .5h-.8l-.2-.5h-1.8l-.2 .3h-.6l-.4-.1h-.8l-.2-.2h-.6l-.4 .1h-.8l-.2 .2h-.6l-.4 .1h-.6l-.4 .1h-1.6l-.4-.1h-.8l-.2-.3h-.8l-.2 .2h-.6l-.4-.1h-.8l-.2-.2h-1.8l-.2 .3h-.8l-.2-.3h-.8l-.2 .2h-.8l-.2 .4h-.8l-.2-.4h-1.8l-.2-.2h-.6l-.4 .6l-.3 .1h-.7l-.6-.1l-.4-.6h-.8l-.2 .4h-.8l-.2-.4h-.6l-.4 .1h-.8l-.2 .2h-1.8l-.2-.2h-.6l-.4-.1h-1.3l-.3 .3l-.4 .8l-.6 .5h-1l-.4-.1l-.6-.7l-.4-.5h-.6l-.4-.1h-.6l-.4 .1h-.8l-.2-.2h-.6l-.4-.1h-1.6l-.4 .1h-.6l-.4 .1h-.8l-.2-.2h-3.8l-.2 .3h-.8l-.2-.2h-.8l-.2 .2h-1.8l-.2-.3h-1.6l-.4 .1h-.6l-.4-.1h-2.8l-.2 .2h-.8l-.2-.2h-2.8l-.2 .3h-.8l-.2-.3h-1.8l-.2 .2h-.8l-.2 .3h-.8l-.2 .3l-.3 .1h-.7l-.6-.1l-.4-.7h-.6l-.4-.1h-1.6l-.4 .1h-.6l-.4 .1h-.6l-.4 .1h-.6l-.4 .1h-.6l-.4-.1h-.8l-.2-.3h-.8l-.2 .2h-.8l-.2-.2h-.8l-.2 .5h-.8l-.2-.5h-1.8l-.2 .2h-.8l-.2 .4h-.8l-.2-.5l-.8 .3l-.2-.3l-.8 .3l-.2-.1l-.3 .3l-.5 .8l-.2-.4l-.8 .9h-.1v1.7h-.1l-.3 .4l-.5 .6l-.2-1l-.3 .1l-.5 .1l-.2-.2h-.3l-.5-.4h-.2l-.8-.9l-.5-.8l-1-1.3l-.3-.1h-1l-.4-.1h-.8l-.2 .4h-.8l-.2-.2h-.6l-.4-.1h-1.6l-.4-.1h-.8l-.2 .2h-.8l-.2-.2h-3.8h-.1v1.9h-.1l-.6 2.8l-.2 .2l-.2-1h-.8l-.2-.6h-.8h-.1v1.7h-.1h-.8h-.1v-2.2h-.1h-.8h-.1v1.4h-.1h-.8h-.1v-1.3h-.1h-.8l-.2 .7h-.6l-.4-.1l-.6-2.3l-.2-.9l-.2 .1h-.6l-.4 .1h-.8l-.2-.5h-1.6l-.4 .1h-.6l-.4-.1h-1.8l-.2 .3l-.6 1.6l-.2 .1l-.2-.1h-.8l-.2-.4h-.8l-.2-.7h-.8l-.2 .7h-.8l-.2-.9h-.8h-.1v1.4h-.1h-.8l-.2-.2l-.6-1.6l-.4-.2h-.8l-.2 .4h-.8l-.2-.4h-.8l-.2 .3h-.8l-.2-.3h-.6l-.4 .1h-.6l-.4 .1h-.8l-.2-.2h-6.8l-.2 .4h-.8l-.2-.3h-2.3l-.3 .4l-.4 1.7l-.3 .2h-.5l-.2-.9h-.8l-.2 .7h-.8l-.2-1h-.2v1.2h-.1l-.5 2.3l-.5 3.9h-1l-.5-3.9l-.2-.2h-.8l-.2-.5h-.2v1.6h-.1h-1l-.5-3.3l-.2 .1h-.6h-.1v1.1h-.1l-.5 3.1h-1h-.1v-1.6h-.2l-.4-2.9l-.3-.7l-.3 .9l-.2 .1h-.1v1.3h-.1h-.6h-.1v1.4h-.1h-1h-.1v-1.5h-.1l-.3-.4h-.5l-.2-.4h-.8l-.2 .6h-.8l-.2 .3l-.6-2.4l-.2-.4h-.1v1.6h-.1h-.8l-.2-.7h-.8l-.2-.5h-.8l-.2 .3h-.8l-.2-.5h-.8l-.2 .4l-.6-1.4l-.4-.1h-.8l-.2 .4h-1.8l-.2-.2h-.6l-.4-.1h-.6l-.4-.1h-.8l-.2 .2h-.6l-.4-.1h-.6l-.4-.1h-.6l-.4 .1h-.6l-.4 .1h-.6l-.4-.1h-1l-.8 .5l-.2-.3l-.8 .3h-.5l-.5 .2l-.5 1.3h-1l-.5-1.3l-.2-.2h-.8l-.2-.6h-1.8l-.2 .4h-.6l-.4-.1h-.8l-.2-.3h-.8l-.2 .5h-.6l-.4-.1h-.8l-.2-.4h-.8l-.2 .4h-.8l-.2-.2h-.8l-.2-.2h-.6l-.4 .1h-.6l-.4-.1h-.8l-.2 .3h-.8l-.2 .2h-.8l-.2-.3h-.8l-.2-.2h-.6l-.4 .1h-.6l-.4-.1h-2.6l-.4 .1h-1.8l-.2 .2h-.8l-.2-.2h-.8l-.2 .2h-.8l-.2-.3h-1.8l-.2 .5h-.8l-.2-.2h-.8l-.2-.3h-3.8l-.2 .3h-.8l-.2-.2h-.6l-.4 .1h-.8l-.2-.2h-1.8l-.2 .4h-.8l-.2-.4h-3.8l-.2 .2h-.6l-.4 .1h-.6l-.4 .1h-.8l-.2-.2h-.8l-.2-.2h-2.8l-.2 .6h-.6l-.4-.1h-.8l-.2-.5h-1.8l-.2 .2h-.8l-.2-.2h-.8l-.2 .3h-.8l-.2-.3h-.6l-.4 .1h-.8l-.2 .2h-1.8l-.2 .2h-.8l-.2-.2h-.6l-.4 .1h-.8l-.2-.3h-.6l-.4-.1h-1.6l-.2 .2l-.5 1.3l-.5 1.3l-.2 .1h-.8l-.2-.2l-.8-2l-.2-.4h-.8l-.2-.3h-.8l-.2 .2h-.6l-.4 .1h-.8l-.5 .6h-1l-.5-.7l-.2 .2h-.8l-.2-.3h-.6l-.4-.1h-.8l-.2 .3h-.8l-.2-.3h-2.8l-.2 .2h-.8l-.2-.2h-.8l-.2 .3h-1.8l-.2-.3h-.6l-.4 .1h-.6l-.4-.1h-.8l-.2 .3h-.8l-.2-.3h-3.8l-.2 .3h-.6l-.4 .1h-.8l-.2-.4h-1.6l-.4 .1h-.6l-.4-.1h-1.8l-.2 .5h-.8l-.2-.5h-1.8l-.2 .4h-.8l-.2-.4h-4.8l-.2 .5h-.8l-.2-.5h-4.6l-.4 .1h-1.6l-.4-.1h-.6l-.4 .1h-.6l-.4-.1h-.8l-.2 .4h-.8l-.2-.4h-1.8l-.2 .2h-.8l-.2-.2h-3.8l-.2 .4h-1.8l-.2-.3h-.8l-.2 .4h-.8l-.2-.4h-.6l-.4-.1h-6.8z"/>
<path fill="#ff0000" d="M138 606.9h1.8l.4-.1h.6l.2 .3h.8l.2-.2h.8l.2 .2h1.8l.4-.1h.6l.2-.2h.8l.2 .3h.8l.4-.1h.6l.2-.3h1.8l.2 .3h1.8l.2-.3h.8l.2 .4h1.8l.2-.2h.8l.4 .1h.6l.2-.2h.8l.2 .3h1.8l.4-.1h.6l.4-.1h.6l.4 .1h.6l.2-.2h.8l.2 .3h.8l.2-.2h1.8l.2 .2h.8l.4-.1h.6l.4 .1h.6l.4-.1h.6l.2-.3h2.8l.4 .1h.6l.4 .1h.6l.2 .2h.8l.4-.1h.6l.4 .1h.6l.4-.1h3.6l.4 .1h.6l.2-.4h.8l.4 .1h.6l.4 .1l.6-.5l.2 .3l.8-.6l.2-.7l.5-.4l.3-.3l.2-.7l.5-.5l.3-.2l.2 .3l.8-.5l.2 .8l1-.2l.5 .1h.3h.1v-1.5h.1l.5 .3l.7 .6l.6 .5l.2 .7l.5 .5l.3 .2l.2 .4l.8-1l.2 .7l.5-.6l.3-.2l.2-.6l.8-.8l.2 .5l.8-.5h.1v-1.3h.1l.5-.1h.3l.2-.6l.5 .2l.3 .2l.2 .9l.5 .5l.3 .3l.2 .9l.5 .5l.3 .3l.2-.1l.5 .7l.7 1l.6 .5l.2-.2l.2 .2l.6 .1l.2-.2h.8l.2 .2h.8l.4-.1h.6l.4 .1h.6l.4 .1h.6l.4-.1h.6l.4 .1h.6l.2-.2h.8l.2 .2h.8l.2-.2h.8l.2 .2h2.8l.2-.3h.8l.4 .1h.6l.4 .1h.6l.4 .1h1.6l.2-.2h.8l.2 .2h1.8l.2-.2h.8l.4 .1h.6l.2-.2h.8l.2 .3h1.8l.2-.2h.8l.4-.1h.6l.2 .2h.8l.2-.3h1.8l.2 .3h.8l.4-.1h.6l.4 .1h.6l.2-.2h.8l.2 .3h1.8l.2-.3h.8l.2 .3h.2l.3-.3l.7-1.9l.3-.4h1l.3 .4l.7 1.9l.3 .2h1l.4 .1h.6l.4-.1l.3-.4l.3-.7l.2 .7h.8l.2 .3h.8l.2-.2h.8l.2-.8h.8l.4 .1h.6l.2 .7h1.8l.2-.3h.8l.2-.6h.8l.2 .5h.8l.2-.3h.8l.2 .5h.8l.2 .4h.8l.2-.9h.8l.2 .8h.8l.2-.3h.8l.2-.4h.2l.3-.3l.3-.8l.2 .4h.8l.2-.4h.8l.4-.1h.6l.2 .4l.2 .1l.3 .8h.3l.2 .5l.2 .1l.3 .3h.3l.2-.3h.8l.2 .2h.8l.4 .1h3.6l.2-.3h.8l.2 .2h.8l.2-.2h.8l.2 .2h.8l.2-.3h.8l.2 .3h1.8l.4 .1h.6l.4-.1h.6l.4-.1h.6l.4 .1h.6l.4 .1h.6l.4-.1h.6l.4 .1h.6l.2-.3h.8l.2 .2h.8l.4 .1h.6l.4-.1h.6l.4 .1h1.6l.4-.1h1.6l.4 .1h.6l.2-.2h.8l.2 .2h.8l.2-.2h.8l.2 .2h.8l.2-.2h.8l.2 .2h.8l.4-.1h2.6l.4 .1h.6l.2-.4h.8l.2 .3h.8l.2-.3h.8l.2 .4h.8l.2-.4h.8l.2 .3h.8l.4 .1h2.6l.2-.2h.8l.4-.1h1.6l.2 .3h.8l.2-.2h.8l.2 .2h.8l.2-.2h.8l.2-.2h.8l.2 .4h.8l.4-.1h.6l.4 .1h.6l.2-.2h.8l.4 .1h4.6l.4 .1h.6l.4-.1h1.6l.4 .1h.6l.2-.4h.8l.2 .4h1.8l.4-.1h3.6l.4 .1h.6l.2-.4h1.8l.2 .3h.8l.2-.3h.8l.4 .1h.6l.2 .2h.8l.4 .1h1.6l.2-.4h1.8l.2 .4h2.8l.4-.1h.6l.4-.1h.6l.2 .2h.8l.4-.1h1.6l.2-.2h.8l.2 .2h.8l.4 .1h.6l.2-.4h.8l.2 .3h.8l.2-.2h.8l.2 .2h1.8l.4 .1h1.6l.4-.1h.6l.4 .1h.6l.4-.1h2.6l.4-.1h.6l.4 .1h.6l.2-.2h.8l.2 .3h1.8l.2-.4h.8l.2 .3h1.8l.2-.2h1.8l.2 .2h.8l.4-.1h.6l.4 .1h.6l.2-.2h.8l.2 .2h.8l.4 .1h2.6l.4-.1h.6l.4-.1h.6l.4 .1h2.6l.4-.1h.6l.4 .1h.6l.4 .1h.6l.4-.1h3.6l.4 .1h.6l.4-.1h.6l.4 .1h.6l.2-.2h1.8l.2 .2h1.8l.4-.1h.6l.2-.3h.8l.4 .1h.6l.4-.1h.6l.4 .1h.6l.4 .1h.6l.2 .2h.8l.4-.1h.6l.2-.2h.8l.4-.1h.6l.2 .3h.8l.4 .1h.6l.2-.2h.8l.4 .1h3.6l.4 .1h.6l.2-.3h.8l.4 .1h.6l.4-.1h.6l.4 .1h.6l.4 .1h.6l.2-.2h1.8l.2 .3h1.8l.2-.3h.8l.2 .2h3.2l.3-.1l.5-.9h1l.2 .1l.6 .8l.2 .2h.8l.2-.3h.8l.2 .2h.8l.4 .1h.6l.4-.1h1.6l.4-.1h.6l.4 .1h1.6l.4 .1h2.6l.2-.2h.8l.2 .2h.8l.4-.1h.6l.4-.1h.6l.4-.1h.6l.4 .1h1.6l.2-.2h.8l.2 .3h.8l.4 .1h.6l.4-.1h.6l.2-.3h.8l.2 .3h.8l.4 .1h.6l1-2.1l.2-.6l.2-.4h1.6l.2 .4l.5 1.1l.5 1.1l.2 .2h.6l.2 .2h1.8l.2-.2h.8l.2 .2h1.8l.4 .1h.6l.4-.1h.6l.2-.2h.8l.2 .2h1.8l.4-.1h2.6l.4 .1h.6l.4-.1h1.6l.4-.1h.6l.2 .3h.8l.2-.2h.8l.2-.2h.8l.4 .1h.6l.2 .2h1.8l.4 .1h1.6l.4-.1h.6l.2-.2h.8l.2 .3h.8l.4-.1h.6l.4-.1h.6l.4 .1h2.6l.4-.1h.6l.4 .1h2.6l.2-.2h.8l.4 .1h.6l.4 .1h1.6l.4 .1h.6l.4-.1h7.6l.4-.1h.6l.4 .1h1.6l.4 .1h.6l.2-.2h.8l.4 .1h.6l.4-.1h.6l.4 .1h.6l.4 .1h.6l.4-.1h.6l.4 .1h.6l.4-.1h.6l.4 .1h.6l.2-.2h1.8l.4 .1h.6l.4 .1h.6l.2-.2h.8l.4 .1h.6l.2-.3h.8l.2 .4h.8l.4-.1h.6l.4-.1h.6l.4 .1h.6l.4 .1h.6l.2-.3h.8l.4-.1h.6l.2 .3h.8l.4-.1h.6l.4-.1h.6l.2 .3h.8l.2-.2h.8l.2 .2h.8l.4-.1h.6l.4-.1h.6l.4 .1h1.6l.2-.2h.8l.2 .2h.8l.2-.3h.8l.2 .2h.8l.2 .2h.8l.2-.3h.5l.3-.5l.2 .5h.8l.2-.6h.8l.2 .5h.8l.2-.3h.8l.2 .3h.8l.2-.7h.8l.4-.1h.6l.2 .5h.8l.2 .4h.8l.2-.7l.2 .1l.3 .6l.3 .3l.4-.1h3.6l.2-.2h.8l.2 .3h2.8l.2-.3h.8l.2 .2h.8l.4 .1h1.6l.2-.2h.8l.4 .1h.6l.2-.2h.8l.2 .2h.8l.2-.2h.8l.4 .1h.6l.4 .1h.6l.4 .1h.6l.2-.4h.8l.2 .3h2.8l.4 .1h.6l.4-.1h.6l.4 .1h3.6l.2-.2h.8l.2 .2h1.8l.2-.4h1.8l.2 .4h2.8l.2-.3h1.8l.2 .3h1.8l.2-.4h.8l.4 .1h.6l.2 .3h1.8l.4-.1h.6l.4-.1h.6l.2 .2h.8l.2-.3h.8l.2 .2h.8l.2-.2h1.8l.4 .1h.6l.4-.1h.6l.2 .3h1.8l.2-.3h.8l.2 .2h.8l.2-.3h.8l.2 .3h.8l.2-.2h.8l.2 .2h2.8l.2-.2h.8l.4 .1h.6l.4-.1h.6l.2 .2h.8l.4 .1h.6l.2-.2h.8l.4 .1h.6l.4 .1h.6l.4-.1h.6l.2-.2h.8l.2 .3h2.8l.4-.1h.6l.2-.3h.8l.2 .2h.8l.2-.2h.8l.2 .4h.8l.4-.1h.6l.4 .1h1.6l.4-.1h.6l.4 .1h.6l.2-.2h.8l.4-.1h.6l.2 .3h.8l.2-.4h1.8l.4 .1h.6l.2 .2h5.8l.4 .1h1.6l.2-.2h.8l.4 .1h.6l.4 .1h.6l.4-.1h.6l.2-.2h.8l.2 .3h.8l.2-.2h2.8l.4 .1h.6l.4-.1h.6l.4 .1h.6l.4-.1h.6l.2 .2h1.8l.4-.1h.6l.4-.1h1.6l.4-.1h1.6l.2 .3h1.8l.2-.2h2.8l.2 .2h.8l.4-.1h.6l.4 .1h1.6l.4-.1h.6l.2-.3h.8l.2 .3h3.8l.4 .1h.6l.4-.1h.6l.4-.1h.6l.2 .2h.8l.2-.4h.5l.5-.7h1l.2 .1l.3 .4l.5 .4h.8l.2 .2h.8l.4-.1h2.6l.2-.3h.8l.2 .4h.8l.4-.1h.6l.4-.1h.6l.4 .1h.6l.2-.3h.8l.2 .2h1.8l.4 .1h.6l.4-.1h.6l.2 .2h.8l.2-.2h.8l.4 .1h1.6l.2-.2h.8l.2 .3h.8l.2-.2h.8l.4 .1h.6l.4 .1h1.6l.4-.1h.6l.4 .1h1.6l.4-.1h.6l.4-.1h.6l.2 .2h.8l.2-.2h.8l.4 .1h.6l.4 .1h.6l.2-.2h.8l.2 .2h1.8l.4-.1h1.6l.4-.1h1.6l.2 .2h3.8l.2-.3h.8l.2 .3h4.8l.4-.1h1.6l.4 .1h.6l.2-.2h1.8l.2-.2h.8l.2 .3h1.8l.4-.1h.6l.2 .2h.8l.4-.1h.6l.4-.1h.6l.4 .1h2.6l.2-.2h.8l.4-.1h.6l.2 .4h1.8l.2-.2h.8l.4-.1h.6l.2 .2h.8l.4-.1h.6l.2 .2h3.8l.2-.2h.8l.4 .1h.6l.2-.3h1.8l.2 .2h.8l.2-.2h.8l.2 .2h.8l.4 .1h.6l.2-.3h.8l.2 .2h.8l.4 .1h2.6l.4 .1h.6l.4-.1h.6l.4 .1h.6l.4-.1h1.6l.4 .1h.6l.4-.1h.6l.4 .1h.6l.2-.4h.8l.2 .2h.8l.2 .2h.8l.2-.4h.8l.2 .3h3.8l.4 .1h1.6l.4-.1h.6l.4 .1h.6l.2-.3h.8l.2 .3h.8l.4-.1h.6l.4 .1h.6l.4-.1h2.6l.2-.2h.8l.2 .3h.8l.2-.2h.8l.2 .2h.8l.2-.4h.8l.2 .3h.8l.4 .1h.6l.2-.2h.8l.4 .1h.6l.2-.2h.8l.2 .3h2.8l.2-.4h1.8l.4 .1h.6l.2 .3h.8l.2-.4h.8l.2 .3h.8l.4 .1h.6l.2-.3h.8l.4-.1h.6l.2 .3h.8l.4 .1h1.6l.2-.2h.8l.4 .1h.6l.4-.1h.6l.4 .1h2.6l.2-.3h.8l.2 .4h.8l.2-.3h.8l.2 .2h1.8l.4 .1h.6l.4-.1h.6l.4 .1h.6l.2-.4h.8l.2 .4h.8l.2-.2h.8l.4 .1h.6l.4 .1h1.6l.2-.3h1.8l.2 .3h1.8l.4-.1h1.6l.4-.6l.6-.9l.2-.3h1.2l.6 .8l.4 .9l.3 .2h.3l.2-.4h.8l.2 .3h.8l.4 .1h.6l.2-.2h2.8l.4-.1h.6l.2 .3h.8l.2-.3h.8l.2 .3h1.8l.4-.1h.6l.4 .1h.6l.2-.4h1.8l.2 .2h.8l.4 .1h4.6l.4 .1h.6l.2-.4h.8l.2 .3h.8l.2-.3h1.8l.2 .3h.8l.2-.2h.8l.2 .2h2.8l.4-.1h.6l.4 .1h1.6l.4 .1h1.6l.2-.4h.8l.2 .3h1.8l.4 .1h2.6l.2-.4h.8l.2 .3h.8l.4-.1h.6l.4-.1h1.6l.4-.1h.6l.2 .4h.8l.4-.1h.6l.4-.1h.6l.2 .2h.8l.2-.4h.8l.2 .4h.8l.2-.2h1.8l.2 .2h.8l.4-.1h.6l.4 .1h.6l.4-.1h.6l.4 .1h.6l.2-.2h.8l.4 .1h1.6l.2-.2h2.8l.2 .2h.8l.4 .1h1.6l.4-.1h2.6l.2-.2h.8l.2 .2h.8l.2-.2h.8l.2 .2h1.8l.2-.2h.8l.4-.1h.6l.2 .4h.8l.2-.2h.8l.4-.1h.6l.2 .2h.8l.2-.2h.8l.2 .2h1.8l.4 .1h.6l.2-.3h.8l.2 .3h.8l.2-.2h.8l.2 .2h.8l.4-.1h2.6l.4-.1h.6l.4 .1h.6l.4 .1h1.6l.2-.3h.8l.2 .2h5.5v3.9h-6.5l-.2 .2h-.8l-.2-.2h-2.6l-.4 .1h-.6l-.4-.1h-2.8l-.2 .2h-.8l-.2-.2h-4.6l-.4 .1h-1.8l-.2 .2h-.8l-.2-.3h-.8l-.2 .2h-.8l-.2-.2h-2.8l-.2 .3h-.8l-.2-.2h-1.6l-.4-.1h-.8l-.2 .2h-.8l-.2-.2h-1.6l-.4 .1h-.6l-.4-.1h-.8l-.2 .2h-.8l-.2-.2h-.6l-.4 .1h-.6l-.4-.1h-1.6l-.4 .1h-.6l-.4-.1h-1.8l-.2 .3h-.8l-.2-.3h-.6l-.4 .1h-1.6l-.4-.1h-.8l-.2 .3h-1.8l-.2-.3h-.6l-.4 .1h-.6l-.4-.1h-2.6l-.4 .1h-.6l-.4-.1h-6.6l-.4 .1h-.6l-.4-.1h-8.8l-.2 .3h-.8l-.2-.3h-4.8l-.2 .2h-.8l-.2-.2h-.8l-.2 .2h-3.8l-.2-.2h-.6l-.4 .1h-.6l-.4-.1h-3.6l-.4 .1h-.6l-.4-.1h-1.6l-.4 .1h-.6l-.4-.1h-1.8l-.2 .2h-.8l-.2-.2h-.8l-.2 .2h-.8l-.2 .2h-.8l-.2-.3h-.6l-.4-.1h-1l-.6 .1l-1 1.8h-1.2l-1-1.7l-.2-.1h-.8l-.2 .2h-.8l-.2-.3h-1.8l-.2 .4h-.8l-.2-.4h-2.8l-.2 .3h-1.8l-.2-.2h-1.6l-.4-.1h-.8l-.2 .2h-.8l-.2-.2h-.8l-.2 .3h-.8l-.2-.2h-.6l-.4 .1h-2.8l-.2-.2h-1.6l-.4 .1h-1.6l-.4-.1h-3.8l-.2 .2h-1.6l-.4-.1h-1.6l-.4-.1h-.6l-.4 .1h-.6l-.4-.1h-1.8l-.2 .3h-.8l-.2-.3h-.6l-.4 .1h-.6l-.4-.1h-5.6l-.4 .1h-.6l-.4-.1h-2.8l-.2 .3h-.8l-.2-.3h-6.6l-.4 .1h-.6l-.4 .1h-.6l-.4 .1h-.8l-.2-.3h-.8l-.2 .4h-.8l-.2-.4h-.6l-.4 .1h-.6l-.4-.1h-5.8l-.2 .3h-.8l-.2-.2h-2.6l-.4-.1h-.6l-.4 .1h-1.8l-.2 .2h-.8l-.2-.3h-.8l-.2 .3h-.8l-.2-.3h-.8l-.2 .3h-.8l-.2-.2h-.6l-.4-.1h-.8l-.2 .2h-.6l-.4 .1h-.8l-.2-.3h-2.6l-.4 .1h-.6l-.4-.1h-.6l-.4 .1h-1.6l-.4-.1h-4.6l-.4 .1h-.6l-.4-.1h-.6l-.4 .1h-.6l-.4 .1h-.8l-.2-.2h-2.6l-.4 .1h-.8l-.2 .2h-.6l-.4-.1h-.8l-.2-.2h-2.6l-.4 .1h-.6l-.4 .1h-.8l-.2-.2h-3.8l-.2 .3h-.8l-.2-.3h-.8l-.2 .3h-.8l-.2-.2h-.8l-.2 .2h-.8l-.2-.3h-3.6l-.4 .1h-.6l-.4 .1h-.6l-.4-.1h-.6l-.4 .1h-.8l-.2-.2h-2.8l-.2 .2h-.8l-.2-.2h-2.6l-.4 .1h-.6l-.4-.1h-2.6l-.4 .1h-.6l-.4-.1h-3.8l-.2 .2h-.8l-.2-.2h-.8l-.2 .2h-1.8l-.2-.2h-1.8l-.2 .3h-.8l-.2-.3h-.8l-.2 .3h-.8l-.2-.3h-.8l-.2 .2h-.8l-.2-.2h-.6l-.4 .1h-.6l-.4-.1h-.8l-.2 .2h-.6l-.4 .1h-.8l-.2-.3h-2.8l-.2 .2h-.8l-.2-.2h-1.8l-.2 .2h-.6l-.4-.1l-.6 .8l-.2 .2h-.5l-.5-.1l-.5-.8l-.3-.2h-5.2l-.2 .2h-.6l-.4-.1h-.6l-.4-.1h-1.8l-.2 .3h-.8l-.2-.2h-1.6l-.4-.1h-.8l-.2 .2h-.8l-.2-.2h-1.8l-.2 .2h-.8l-.2-.2h-1.8l-.2 .3h-.8l-.2-.3h-4.8l-.2 .2h-.8l-.2-.2h-3.6l-.4 .1h-1.6l-.4-.1h-2.8l-.2 .2h-.6l-.4 .1h-.8l-.2-.3h-1.6l-.4 .1h-1.6l-.4-.1h-2.8l-.2 .2h-.8l-.2-.2h-10.8l-.2 .3h-.8l-.2-.3h-4.8l-.2 .2h-.8l-.2-.2h-.8l-.2 .2h-.8l-.2-.2h-8.6l-.4 .1h-.6l-.4-.1h-1.6l-.4 .1h-.6l-.4-.1h-.6l-.4 .1h-.6l-.4 .1h-.8l-.2-.2h-.6l-.4 .1h-1.6l-.4-.1h-.6l-.4 .1h-.6l-.4-.1h-4.8l-.2 .3h-.8l-.2-.2h-.6l-.4-.1h-3.6l-.4 .1h-.6l-.4 .1h-.6l-.4-.1h-.6l-.4-.1h-.8l-.2 .3h-.6l-.4-.1h-.8l-.2-.2h-2.6l-.4 .1h-.6l-.4-.1h-.6l-.4 .1h-.6l-.4-.1h-1.6l-.4 .1h-.6l-.4 .1h-.6l-.4-.1h-1.6l-.4-.1h-2.8l-.2 .2h-.8l-.2-.2h-3.8l-.2 .3h-.8l-.2-.3h-9.6l-.4 .1h-.6l-.4 .1h-.8l-.2-.2h-.6l-.4 .1h-.6l-.4 .1h-.8l-.2-.2h-2.3l-.5 .2l-.2 .8h-.8l-.2-.9h-.8l-.2 .3h-1.8l-.2-.3h-.8l-.2 .2h-.8l-.2 .7h-.6l-.4-.1h-.8l-.2-.3h-.8l-.2 .3l-.3-.6l-.3-.3h-.2l-.2 .3h-.8l-.2-.3h-2.6l-.4 .1h-.6l-.4 .1h-.8l-.2-.2h-.6l-.4 .1h-2.6l-.4-.1h-.8l-.2 .2h-.6l-.4 .1h-.6l-.4-.1h-.8l-.2-.2h-4.6l-.4 .1h-1.6l-.4-.1h-3.8l-.2 .2h-.6l-.4-.1h-1.6l-.4-.1h-.8l-.2 .2h-.6l-.4-.1h-.8l-.2 .2h-.6l-.4-.1h-.8l-.2-.2h-.8l-.2 .3h-.8l-.2-.3h-.6l-.4 .1h-1.6l-.4-.1h-.8l-.2 .2h-1.8l-.2-.2h-2.6l-.4 .1h-1.6l-.4-.1h-4.8l-.2 .3h-2.8l-.2-.3h-.8l-.2 .2h-1.6l-.4-.1h-.6l-.4-.1h-.6l-.4 .1h-.6l-.4-.1h-.6l-.4 .1h-.6l-.4-.1h-3.6l-.4 .1h-.6l-.4-.1h-3.8l-.2 .2h-.8l-.2-.2h-1.6l-.4 .1h-3.6l-.4-.1h-7.8l-.2 .3h-.8l-.2-.2h-2.6l-.4-.1h-2.6l-.4 1l-.6 1.1l-.4 1h-1.6l-.2-.5l-.5-1.1l-.7-1.5h-1.6l-.4 .1h-1.6l-.4-.1h-2.6l-.4 .1h-.6l-.4-.1h-.8l-.2 .2h-2.8l-.2-.2h-4.6l-.4 .1h-.6l-.4-.1h-1.8l-.2 .2h-.6l-.4-.1h-.6l-.4-.1h-1.8l-.2 .3h-.8l-.2-.3h-.6l-.4 .1l-.6 .8l-.2 .2h-.5l-.5-.1l-.5-.8l-.3-.2h-.2l-.2 .3h-1.6l-.4-.1h-.8l-.2-.2h-4.6l-.4 .1h-.6l-.4 .1h-1.8l-.2-.2h-.8l-.2 .2h-.8l-.2-.2h-.8l-.2 .3h-.8l-.2-.3h-2.8l-.2 .3h-.8l-.2-.3h-1.6l-.4 .1h-1.6l-.4-.1h-.6l-.4 .1h-.6l-.4-.1h-.8l-.2 .3h-1.8l-.2-.2h-.6l-.4 .1h-.6l-.4-.1h-.6l-.4-.1h-.6l-.4 .1h-.6l-.4-.1h-.6l-.4 .1h-2.6l-.4-.1h-.6l-.4 .1h-.6l-.4 .1h-1.8l-.2-.2h-1.6l-.4 .1h-.8l-.2 .2h-.8l-.2-.3h-3.6l-.4 .1h-.6l-.4-.1h-1.8l-.2 .3h-1.8l-.2-.3h-1.6l-.4 .1h-.6l-.4 .1h-.8l-.2-.2h-2.6l-.4 .1h-.6l-.4-.1h-.8l-.2 .3h-.8l-.2-.3h-.6l-.4 .1h-.6l-.4 .1h-.8l-.2-.2h-.8l-.2 .2h-.8l-.2-.2h-4.6l-.4 .1h-.6l-.4-.1h-.6l-.4 .1h-.6l-.4-.1h-.8l-.2 .3h-.8l-.2-.3h-.6l-.4 .1h-.8l-.2 .2h-1.8l-.2-.2h-.6l-.4 .1h-3.8l-.2-.2h-.8l-.2 .3h-1.8l-.2-.3h-1.8l-.2 .3h-.8l-.2-.3h-.8l-.2 .3h-.8l-.2-.3h-.8l-.2 .3h-.6l-.4-.1h-.8l-.2-.2h-3.8l-.2 .3h-.6l-.4-.1h-.8l-.2-.2h-.8l-.2 .2h-.8l-.2-.2h-.8l-.2 .3h-.8l-.2-.2h-.6l-.4 .1h-.6l-.4 .1h-.8l-.2-.3h-.8l-.2 .3h-.8l-.2-.3h-4.6l-.4 .1h-.6l-.4 .1h-.8l-.2-.2h-1.8l-.2 .2h-.6l-.4-.1h-.6l-.4-.1h-.6l-.4 .1h-.6l-.4-.1h-.8l-.2 .3h-.8l-.2-.3h-3.8l-.2 .3h-.8l-.2-.3h-5.8l-.2 .3h-.8l-.2-.2h-.6l-.4-.1h-6.6l-.4 .1h-.6l-.4-.1h-3.8l-.2 .3h-.8l-.2-.2h-.8l-.2 .2h-.8l-.2-.3h-.8l-.2 .3h-.6l-.4-.1h-.6l-.4 .1h-.8l-.2-.3h-3.8l-.2 .2h-.8l-.2-.2h-2.8l-.2 .3h-.6l-.4-.1h-.6l-.4-.1h-.6l-.4-.1h-3.8l-.2 .2h-.8l-.2-.2h-1.3l-.5 .2l-.2 .5h-.3l-.5 .3l-.2 1h-.8l-.2-.9h-.6l-.4 .1h-.8l-.2 .6l-.3-.8h-.5l-.2-.4h-.8l-.2-.4h-.8l-.2 .3h-.8l-.2 .5h-.8l-.2-.8h-.8l-.2 1h-.6l-.4-.1h-2.8l-.2-.4h-1.8l-.2-.4h-1.8l-.2 .8h-.8l-.2-.9h-.8l-.2 .9h-.8l-.2-.3l-.3-.6l-.3-.2h-.2l-.2 .4h-.8l-.2-.4h-1l-.3 .2l-.5 1.3l-.5 1.1h-1l-.5-1.1l-.5-1.3l-.3-.2h-3.2l-.2 .3h-.8l-.2-.3h-3.8l-.2 .2h-.8l-.2-.2h-.6l-.4 .1h-.6l-.4-.1h-1.6l-.4 .1h-.6l-.4-.1h-2.8l-.2 .3h-.8l-.2-.3h-.8l-.2 .2h-.6l-.4 .1h-.8l-.2-.3h-4.6l-.4 .1h-.8l-.2 .2h-.8l-.2-.3h-.8l-.2 .2h-1.8l-.2-.2h-2.6l-.4 .1h-.8l-.2 .2h-.8l-.2-.3h-1.8l-.2 .2h-.6l-.4-.1l-.3 .2l-.5 .5l-.2 .5l-.6 .7l-.4 .5l-.8 .9h-.1v1.2h-.1l-.8 .9l-.5 .4l-.5 .3h-.1v-1.4h-.1l-.3 .1l-.5-.1h-.1v1.3h-.1l-.3-.1l-.5-.4h-.1v-1.2h-.1l-.3-.2l-.5-.6h-.2l-.8-1l-.2 .1l-.3-.4l-.5-.7l-.5 .7l-.5 .5l-.5 .7l-.5 .4l-.2-1l-.3 .2l-.5 .2l-.2 .7l-.8 .1l-.2 .4h-.3l-.5-.2l-.2 .1l-.8-.5h-.1v-1.6h-.1l-.8-.6l-.2 .5l-.6-.5l-.4-.3l-1.3-1.2h-.3l-.4 .1l-.6-.1l-.4-.2h-1.6l-.4 .1h-1.6l-.4-.1h-.8l-.2 .3h-.8l-.2-.3h-2.8l-.2 .2h-.6l-.4 .1h-.8l-.2-.3h-.8l-.2 .2h-.8l-.2-.2h-1.8l-.2 .2h-1.8l-.2-.2h-.8l-.2 .2h-.6l-.4 .1h-.6l-.4-.1h-.8l-.2-.2h-.6l-.4 .1h-1.6l-.4-.1h-1.6l-.4 .1h-2.8l-.2 .2h-.6l-.4 .1h-.8l-.2-.4h-.8l-.2 .3h-.8l-.2-.3h-.6l-.4 .1h-.6l-.4-.1h-2.6l-.4 .1h-.6l-.4-.1h-1.8l-.2 .3h-.8l-.2-.3h-5.8z"/>
<path fill="#0000ff" d="M138 638.4h.8l.4 .1h.6l.4 .1h.6l.4 .1h1.6l.4-.1h.6l.2-.3h.8l.4 .1h.6l.2 .3h.8l.4-.1h.6l.4 .1h1.6l.4-.1h1.6l.2-.4h.8l.2 .3h.8l.2-.4h.8l.2 .5h.8l.2-.4h.8l.4 .1h.6l.2 .4h.8l.2-.2h1.8l.2 .2h.8l.2-.4h.8l.4-.1h.6l.2 .5h6.8l.2-.2h.8l.4 .1h.6l.4 .1h2.6l.2-.2h.8l.4-.1h.6l.2 .3h3.8l.2-.3h.8l.2-.2h.8l.2 .3h.8l.2 .2h.8l.2-.5h.8l.2 .5h.8l.2-.5h.8l.2 .5h3.8l.4-.1h.6l.4-.1h.6l.4 .1h.6l.4 .1h1.6l.4-.1h.6l.4 .1h.6l.2-.2h.8l.4 .1h.6l.2-.4h.8l.2 .2h1.8l.4-.1h.6l.2 .4h2.8l.2-.2h.8l.2 .2h4.8l.2-.5h1.8l.2 .4h1.8l.4 .1h1.6l.2-.3h.8l.2 .3h.8l.2-.2h.8l.2 .2h.8l.4-.1h.6l.2-.3h.8l.2 .4h5.8l.4-.1h.6l.2-.3h.8l.2 .4h2.8l.2-.2h.8l.2 .2h.8l.2-.2h.8l.4 .1h.6l.4-.1h.6l.2 .2h1.8l.2-.5h.8l.2 .2h.8l.4-.1h.6l.4 .1h.6l.2 .2h.8l.4 .1h3.6l.2-.6h.8l.2 .5h1.8l.4 .1h1.6l.4-.1h.6l.4 .1h.6l.2-.2h.8l.2 .2h1.8l.4-.1h.6l.4 .1h.6l.4-.1h.6l.2-.2h.8l.2 .3h.8l.2-.5h.8l.2 .5h1.8l.2-.4h.8l.2 .4h.8l.2-.5h.8l.2 .5h.8l.2-.2h.8l.2 .2h4.8l.2-.4h.8l.2 .4h.8l.4-.1h1.6l.4 .1h2.6l.4-.1h.6l.4-.1h.6l.4 .1h.6l.2-.5h.8l.2 .6h.8l.2-.5h.8l.2 .5h.8l.2-.4h.8l.4-.1h.6l.2 .3h.8l.4-.1h.6l.2 .3h.8l.2-.4h.8l.2 .4h.8l.2-.2h1.8l.4 .1h1.6l.2-.2h.8l.2 .3h1.8l.2-.4h.8l.2 .4h.8l.4-.1h.6l.4-.1h.6l.2 .2h2.8l.2-.2h.8l.2 .2h.8l.2-.2h.8l.2 .2h1.8l.2-.4h.8l.2 .3h.8l.2-.2h.8l.2 .3h.8l.4-.1h.6l.4 .1h.6l.2-.2h.8l.4 .1h.6l.4 .1h1.6l.2-.3h2.8l.2 .3h1.8l.2-.5h.8l.2 .5h.8l.4-.1h1.6l.2-.4h.8l.2 .3h.8l.2 .2h3.8l.2-.2h.8l.2-.3h.8l.2 .2h.8l.2 .3h2.8l.2-.2h.8l.4-.1h.6l.2 .3h2.8l.2-.5h.8l.2 .5h.8l.2-.4h.8l.2 .3h.8l.4 .1h.6l.4-.1h.6l.4 .1h.6l.2-.6h.8l.2 .5h.8l.2-.2h.8l.2-.2h.8l.2 .4h.8l.4 .1h1.6l.4-.1h.6l.4 .1h.6l.4-.1h.6l.4-.1h1.6l.2 .2h.8l.2-.5h.8l.2 .4h.8l.4-.1h.6l.2-.2h.8l.4-.1h.6l.2 .5h.8l.2-.3h.8l.2 .3h1.8l.2-.6h.8l.2 .2h.8l.2 .4h1.8l.2-.4h.8l.2 .2h.8l.2 .2h1.8l.2-.4h.8l.2 .3h.8l.4-.1h.6l.2 .2h2.8l.2-.3h.8l.2 .2h.8l.4-.1h1.6l.2 .2h.8l.2-.5h.8l.2 .4h.8l.2-.4h.8l.2 .2h.8l.2 .3h.8l.2-.6h.8l.2 .3h.8l.4 .1h.6l.2 .2h1.8l.4-.1h.6l.2-.3h.8l.2 .2h.8l.2 .2h1.8l.2-.4h.8l.4-.1h.6l.2 .3h.8l.4-.1h.6l.4 .1h.6l.4 .1h1.6l.4 .1h.6l.4-.1h.6l.2-.5h.8l.2 .5h.8l.4-.1h.6l.4 .1h.6l.2-.2h.8l.2 .3h.8l.2-.3h.8l.2 .3h.8l.2-.3h.8l.2 .3h1.8l.2-.6h.8l.2 .6h.8l.2-.2h.8l.2 .2h.8l.2-.5h.8l.2 .5h1.8l.2-.5h.8l.2 .4h.8l.4 .1h2.6l.4-.1h.6l.2-.2h.8l.2 .3h.8l.2-.2h.8l.4 .1h.6l.4-.1h.6l.2-.3h.8l.2 .2h.8l.2-.3h.8l.2 .6h.8l.2-.6h.8l.2 .6h.8l.4-.1h.6l.4 .1h1.6l.2-.2h.8l.4 .1h.6l.4 .1h.6l.2-.5h1.8l.2 .5h.8l.4-.1h1.6l.2-.2h.8l.2 .3h2.8l.4-.1h.6l.4-.1h.6l.4 .1h1.6l.2-.3h.8l.2 .4h.8l.2-.2h.8l.4 .1h.6l.4 .1h.6l.2-.5h.8l.2 .4h.8l.4 .1h.6l.2-.4h.8l.4-.1h.6l.2 .5h1.8l.2-.3h.8l.2 .2h.8l.4 .1h1.6l.4-.1h.6l.4 .1h3.6l.2-.6h.8l.2 .6h.8l.2-.3h.8l.4 .1h.6l.2 .2h.8l.2-.2h.8l.2-.3h.8l.2 .5h1.8l.4-.1h.6l.4 .1h.6l.4-.1h.6l.4 .1h2.6l.2-.2h.8l.4 .1h.6l.4 .1h2.6l.4-.1h.6l.2-.3h.8l.2 .4h1.8l.2-.3h.8l.2 .2h.8l.4 .1h3.6l.4-.1h1.6l.4 .1h1.6l.2-.2h.8l.2 .2h.8l.2-.2h.8l.2-.2h.8l.2 .4h.8l.2-.3h.8l.2 .3h.8l.2-.3h.8l.4 .1h.6l.2 .2h.8l.4-.1h.6l.2-.3h.8l.2 .4h1.8l.2-.5h.8l.2 .4h.8l.2-.2h.8l.2 .3h.8l.2-.5h.8l.2 .2h.8l.2 .3h4.8l.2-.5h.8l.2 .5h.8l.4-.1h.6l.4 .1h1.6l.4-.1h.6l.4 .1h2.6l.2-.6h.8l.2 .6h.8l.4-.1h.6l.4-.1h.6l.4 .1h.6l.4-.1h1.6l.2 .2h.8l.4-.1h.6l.4 .1h.6l.2-.4h1.8l.2 .3h.8l.2-.3h.8l.2 .3h.8l.2-.2h.8l.2 .2h.8l.4 .1h1.6l.2-.2h1.8l.2 .2h.8l.2-.2h.8l.4 .1h.6l.4-.1h.6l.2 .2h1.8l.4-.1h.6l.4 .1h.6l.2-.5h.8l.2 .3h.8l.2 .2h.8l.4-.1h1.6l.4 .1h.6l.2-.5h1.8l.2 .3h.8l.2 .2h1.8l.4-.1h.6l.2-.2h.8l.2 .3h3.8l.2-.4h.8l.2 .4h.8l.2-.4h.8l.2 .3h.8l.2-.3h.8l.4-.1h.6l.2 .3h.8l.4 .1h.6l.4 .1h.6l.2-.6h.8l.2 .5h1.8l.4-.1h.6l.2 .2h.8l.2-.6h.8l.2 .6h1.8l.4-.1h.6l.4 .1h.6l.2-.2h.8l.2 .2h.8l.4-.1h.6l.4 .1h.6l.2-.3h.8l.2 .3h1.8l.4-.1h.6l.4 .1h.6l.2-.4h.8l.2 .4h2.8l.4-.1h.6l.4 .1h1.6l.4-.1h1.6l.2-.3h.8l.4 .1h.6l.2 .3h3.8l.2-.3h.8l.4-.1h.6l.2 .4h1.8l.2-.2h.8l.2 .2h.8l.4-.1h.6l.4 .1h5.6l.2-.3h.8l.2 .2h2.8l.4 .1h3.6l.2-.2h.8l.4 .1h.6l.4 .1h.6l.2-.2h.8l.2 .2h3.8l.2-.3h.8l.2-.2h.8l.2 .2h.8l.2 .3h.8l.2-.5h.8l.2 .5h3.8l.2-.4h.8l.2 .4h.8l.4-.1h.6l.4 .1h.6l.2-.2h.8l.2 .2h1.8l.2-.2h.8l.2-.2h.8l.2 .4h.8l.2-.6h.8l.2 .6h.8l.2-.2h.8l.2 .2h.8l.4-.1h.6l.2-.4h.8l.2 .5h.8l.4-.1h.6l.4 .1h5.6l.4-.1h.6l.2-.3h.8l.2 .4h.8l.4-.1h.6l.4 .1h.6l.4-.1h.6l.2-.4h.8l.4 .1h.6l.2 .4h.8l.4-.1h1.6l.4 .1h2.6l.2-.6h.8l.2 .5h.8l.2-.2h.8l.2-.2h.8l.2 .5h.8l.2-.4h.8l.2 .3h.8l.4 .1h1.6l.2-.2h.8l.2 .2h2.8l.4-.1h.6l.4 .1h1.6l.4-.1h.6l.2-.2h.8l.4 .1h.6l.2-.2h.8l.2 .3h.8l.4 .1h.6l.4-.1h.6l.4 .1h.6l.2-.5h.8l.2 .3h.8l.4 .1h.6l.2-.2h.8l.2 .2h.8l.2-.5h.8l.2 .6h.8l.4-.1h.6l.4 .1h.6l.4-.1h.6l.4 .1h1.6l.4-.1h.6l.4 .1h.6l.4-.1h.6l.2-.4h.8l.4 .1h.6l.2 .3h1.8l.4 .1h2.6l.2-.3h.8l.2 .3h.8l.2-.4h.8l.4-.1h.6l.2 .5h1.8l.2-.6h.8l.2 .6h1.8l.2-.2h.8l.4 .1h.6l.4-.1h.6l.4 .1h.6l.2-.3h.8l.2 .2h1.8l.2 .2h.8l.4-.1h1.6l.2-.5h.8l.2 .6h1.8l.2-.3h.8l.2 .2h.8l.2-.2h.8l.2 .3h1.8l.2-.5h.8l.2 .5h1.8l.4-.1h.6l.4 .1h1.6l.4-.1h.6l.2-.4h.8l.2 .2h.8l.2 .3h2.8l.2-.6h.8l.2 .2h.8l.2 .2h.8l.2 .2h.8l.2-.2h.8l.4 .1h.6l.2-.5h.8l.4 .1h.6l.2 .2h1.8l.2 .3h1.8l.2-.2h.8l.2 .2h.8l.4-.1h1.6l.4 .1h1.6l.2-.3h.8l.2 .2h.8l.4-.1h.6l.2 .2h.8l.2-.2h.8l.4 .1h.6l.4 .1h.6l.2-.5h.8l.2 .5h1.8l.2-.2h.8l.2 .2h.8l.2-.3h1.8l.2 .2h.8l.4 .1h.6l.4-.1h.6l.2-.3h.8l.2 .3h.8l.4 .1h.6l.2-.5h.8l.4-.1h.6l.2 .6h.8l.2-.6h1.8l.2 .3h.8l.2-.2h.8l.2 .5h.8l.2-.6h.8l.2 .6h.8l.4-.1h1.6l.4 .1h.6l.2-.3h.8l.4 .1h1.6l.2-.3h.8l.2 .5h.8l.2-.2h.8l.2-.2h.8l.2 .4h.8l.2-.5h.8l.2 .5h1.8l.2-.5h.8l.2 .5h1.8l.2-.2h.8l.2 .2h3.8l.4-.1h2.6l.4 .1h3.6l.2-.2h.8l.2-.3h.8l.2 .5h.8l.2-.3h1.8l.2 .2h3.8l.4-.1h.6l.4 .1h.6l.4 .1h.6l.2-.4h.8l.2 .4h3.8l.4-.1h.6l.4 .1h.6l.4-.1h.6l.4-.1h1.6l.2 .2h.8l.2-.2h.8l.2 .2h.8l.2-.3h.8l.2 .3h.8l.4-.1h.6l.4 .1h5.6l.4-.1h.6l.2-.2h.8l.4-.1h.6l.2 .3h.8l.4-.1h.6l.2-.3h.8l.2 .3h.8l.2 .2h1.8l.2-.5h.8l.2 .4h1.8l.4 .1h1.6l.4-.1h.6l.2-.3h1.8l.4 .1h.6l.4 .1h.6l.2-.3h.8l.2 .5h.8l.4-.1h.6l.4-.1h.6l.2 .2h1.8l.4-.1h.6l.4 .1h.6l.2-.2h.8l.2-.2h.8l.4 .1h.6l.2-.2h.8l.2 .5h2.8l.2-.2h.8l.2-.2h.8l.2 .4h.8l.2-.5h.8l.4 .1h.6l.2 .4h1.8l.2-.2h.8l.2-.3h.8l.2 .3h.8l.2 .2h.8l.2-.6h.8l.2 .4h1.8l.2-.2h2.8l.2 .3h.8l.2-.4h.8l.2 .3h.8l.2 .2h.8l.4-.1h.6l.4-.1h.6l.4-.1h.6l.2 .3h1.8l.2-.2h.8l.2 .2h.8l.4-.1h.6l.2-.3h.8l.2 .3h1.8l.4-.1h.6l.2-.2h.8l.2 .4h2.8l.2-.2h.8l.2 .2h.8l.2-.3h.8l.2 .3h.8l.2-.3h.8l.2 .2h.8l.2-.5h.8l.2 .6h.5v3.6h-.5l-.2 .2h-.8l-.2-.2h-.8l-.2 .2h-.6l-.4 .1h-.8l-.2-.2h-.8l-.2 .2h-.8l-.2-.2h-.6l-.4 .1h-.6l-.4-.1h-1.6l-.4-.1h-.8l-.2 .3h-1.8l-.2-.3h-1.8l-.2 .3h-.8l-.2-.3h-.6l-.4 .1h-.6l-.4-.1h-1.6l-.4 .1h-3.6l-.4 .1h-.8l-.2-.2h-1.6l-.4 .1h-.6l-.4 .1h-.8l-.2-.2h-2.6l-.4 .1h-.8l-.2 .2h-.8l-.2-.3h-.6l-.4 .1h-1.8l-.2 .4h-.8l-.2-.4h-.6l-.4-.1h-.8l-.2 .2h-.8l-.2 .2h-.8l-.2-.4h-3.6l-.4 .1h-2.6l-.4-.1h-4.8l-.2 .3h-.8l-.2-.3h-.6l-.4 .1h-.6l-.4-.1h-1.6l-.4 .1h-.8l-.2 .4h-.8l-.2-.5h-.8l-.2 .2h-.6l-.4-.1h-1.6l-.4-.1h-.8l-.2 .5h-1.6l-.4-.1h-.8l-.2-.2h-.6l-.4-.1h-.6l-.4-.1h-3.6l-.4 .1h-.8l-.2 .5h-.8l-.2-.5h-.6l-.4-.1h-.8l-.2 .3h-.6l-.4-.1h-.8l-.2 .4h-.8l-.2-.3h-.6l-.4-.1h-.8l-.2-.2h-.6l-.4 .1h-.6l-.4 .1h-.8l-.2-.2h-.6l-.4 .1h-.8l-.2 .2h-.8l-.2-.3h-1.8l-.2 .3h-.8l-.2-.2h-.6l-.4-.1h-1.6l-.4 .1h-.6l-.4 .1h-.8l-.2 .3h-.8l-.2-.3h-.6l-.4-.1h-.6l-.4-.1h-2.8l-.2 .3h-.8l-.2-.3h-.8l-.2 .4h-.8l-.2-.4h-.8l-.2 .3h-.6l-.4 .1h-.8l-.2-.4h-.8l-.2 .4h-.8l-.2-.4h-.6l-.4 .1h-.6l-.4-.1h-1.6l-.4 .1h-.6l-.4-.1h-.6l-.4 .1h-.6l-.4-.1h-1.6l-.4 .1h-.6l-.4 .1h-1.8l-.2-.2h-2.8l-.2 .2h-.8l-.2-.2h-1.6l-.4 .1h-2.8l-.2 .2h-.6l-.4-.1h-1.8l-.2 .3h-.8l-.2-.4h-.6l-.4-.1h-1.8l-.2 .3h-.8l-.2-.2h-.8l-.2 .5h-.6l-.4-.1h-.6l-.4 .1h-.8l-.2-.3h-.8l-.2-.3h-.8l-.2 .2h-.8l-.2-.2h-.6l-.4 .1h-.6l-.4-.1h-2.8l-.2 .3h-.8l-.2-.3h-.6l-.4 .1h-.6l-.4-.1h-1.8l-.2 .6h-.8l-.2-.5h-.6l-.4-.1h-.8l-.2 .4h-1.8l-.2-.3h-.8l-.2 .3h-.8l-.2-.4h-1.8l-.2 .2h-.8l-.2-.2h-1.8l-.2 .3h-.8l-.2-.2h-.6l-.4-.1h-.8l-.2 .3h-.8l-.2-.2h-.6l-.4-.1h-3.8l-.2 .6h-.6l-.4-.1h-.8l-.2-.4h-.6l-.4-.1h-.8l-.2 .6h-.8l-.2-.5h-2.6l-.4-.1h-.6l-.4 .1h-.6l-.4-.1h-.8l-.2 .4h-.6l-.4 .1h-.8l-.2-.2h-.6l-.4-.1h-.8l-.2-.2h-.8l-.2 .4h-.8l-.2-.3h-.6l-.4 .1h-.6l-.4-.1h-.6l-.4-.1h-.6l-.4 .1h-1.8l-.2 .5h-.8l-.2-.5h-1.6l-.4-.1h-.8l-.2 .5h-.8l-.2-.3h-.8l-.2 .2h-.8l-.2-.4h-4.6l-.4 .1h-.6l-.4-.1h-1.6l-.4 .1h-.8l-.2 .4h-.8l-.2-.5h-.6l-.4 .1h-.8l-.2 .4h-.8l-.2-.4h-1.6l-.4 .1h-.8l-.2-.2h-3.8l-.2 .4h-1.8l-.2-.3h-.6l-.4-.1h-1.8l-.2 .4h-.6l-.4-.1h-.8l-.2 .3h-.8l-.2-.3h-.8l-.2-.3h-5.8l-.2 .3h-.8l-.2 .3h-.8l-.2-.6h-.8l-.2 .2h-1.6l-.4-.1h-.8l-.2 .2h-1.8l-.2-.3h-.8l-.2 .3h-.8l-.2-.3h-1.8l-.2 .3h-.8l-.2-.3h-1.6l-.4 .1h-.6l-.4 .1h-.8l-.2 .3h-.8l-.2-.4h-.6l-.4-.1h-2.6l-.4 .1h-.6l-.4-.1h-.8l-.2 .6h-.8l-.2-.4h-.6l-.4 .1h-1.8l-.2-.3h-1.8l-.2 .5h-1.8l-.2-.5h-.6l-.4 .1h-.6l-.4-.1h-.6l-.4 .1h-.8l-.2 .4h-.8l-.2-.3h-.8l-.2 .3h-.8l-.2-.2h-.8l-.2-.3h-.8l-.2 .4h-.8l-.2 .2h-.8l-.2-.6h-.6l-.4 .1h-.8l-.2 .2h-1.8l-.2-.3h-.8l-.2 .2h-.6l-.4-.1h-1.8l-.2 .2h-.6l-.4-.1h-.8l-.2-.2h-4.8l-.2 .3h-.8l-.2-.2h-1.6l-.4-.1h-2.8l-.2 .6h-.8l-.2-.6h-2.8l-.2 .4h-.8l-.2-.2h-.8l-.2 .2h-.8l-.2-.3h-1.6l-.4-.1h-.6l-.4 .1h-.6l-.4 .1h-.6l-.4-.1h-.8l-.2 .2h-.8l-.2 .2h-.6l-.4-.1h-.8l-.2-.3h-1.6l-.4-.1h-.8l-.2 .2h-.8l-.2 .3h-.6l-.4 .1h-.8l-.2-.3h-2.8l-.2-.3h-2.8l-.2 .5h-.8l-.2-.2h-.8l-.2-.2h-.6l-.4 .1h-1.8l-.2-.2h-1.6l-.4 .1h-.6l-.4-.1h-2.8l-.2 .2h-.8l-.2 .2h-.8l-.2-.4h-.8l-.2 .3h-.8l-.2-.3h-1.6l-.4 .1h-2.6l-.4-.1h-.8l-.2 .2h-.6l-.4 .1h-.8l-.2-.2h-.8l-.2 .3h-.6l-.4-.1h-.8l-.2 .2h-.8l-.2-.5h-1.6l-.4 .1h-.8l-.2 .2h-1.8l-.2-.3h-.8l-.2 .3h-.8l-.2-.3h-1.8l-.2 .3h-.6l-.4-.1h-.8l-.2-.2h-3.8l-.2 .2h-.8l-.2-.2h-.8l-.2 .2h-.6l-.4 .1h-.8l-.2-.2h-1.6l-.4-.1h-.8l-.2 .6h-.8l-.2-.2h-.6l-.4-.1h-.8l-.2-.3h-.8l-.2 .4h-.8l-.2-.4h-3.8l-.2 .4h-.8l-.2-.4h-5.8l-.2 .2h-.6l-.4 .1h-.6l-.4-.1h-.6l-.4-.1h-.6l-.4-.1h-1.8l-.2 .4h-.8l-.2-.3h-.6l-.4 .1h-.8l-.2-.2h-2.6l-.4 .1h-1.8l-.2 .3h-.8l-.2-.3h-.8l-.2 .3h-.8l-.2-.2h-.8l-.2 .3h-.8l-.2-.4h-.6l-.4-.1h-1.8l-.2 .3h-.6l-.4-.1h-.8l-.2-.2h-.8l-.2 .2h-.6l-.4 .1h-.8l-.2-.3h-1.8l-.2 .5h-.8l-.2-.4h-1.8l-.2 .5h-.8l-.2-.4h-.6l-.4-.1h-.6l-.4-.1h-1.8l-.2 .2h-.6l-.4-.1h-.8l-.2 .3h-.8l-.2-.2h-.8l-.2 .3h-.6l-.4-.1h-.8l-.2-.4h-1.6l-.4 .1h-1.6l-.4-.1h-3.8l-.2 .4h-.8l-.2-.3h-.6l-.4-.1h-.8l-.2 .4h-.8l-.2-.4h-1.8l-.2 .4h-.8l-.2-.3h-.6l-.4-.1h-.8l-.2 .2h-.8l-.2-.2h-.8l-.2 .3h-.8l-.2-.3h-.8l-.2 .5h-.8l-.2-.4h-1.6l-.4 .1h-.8l-.2-.2h-.6l-.4 .1h-.8l-.2 .2h-.8l-.2-.2h-.6l-.4-.1h-.8l-.2 .6h-.8l-.2-.3h-.8l-.2-.3h-.8l-.2 .3h-.6l-.4-.1h-.8l-.2-.2h-4.6l-.4 .1h-.6l-.4-.1h-3.6l-.4 .1h-.6l-.4-.1h-3.8l-.2 .2h-.8l-.2 .3h-.6l-.4-.1h-.8l-.2-.4h-1.8l-.2 .2h-.6l-.4 .1h-.8l-.2-.3h-.8l-.2 .5h-.8l-.2-.5h-.6l-.4 .1h-1.8l-.2 .5h-.8l-.2-.4h-.6l-.4-.1h-.6l-.4-.1h-.8l-.2 .3h-1.8l-.2-.3h-1.8l-.2 .5h-.8l-.2-.3h-.6l-.4-.1h-2.8l-.2 .4h-.8l-.2-.5h-.6l-.4 .1h-1.6l-.4 .1h-.8l-.2-.2h-.8l-.2 .5h-.8l-.2-.5h-.8l-.2 .3h-1.6l-.4 .1h-.8l-.2-.3h-.6l-.4-.1h-.8l-.2 .2h-.6l-.4 .1h-1.8l-.2-.2h-1.6l-.4 .1h-.6l-.4-.1h-.8l-.2 .2h-.8l-.2-.3h-.8l-.2 .2h-.8l-.2-.2h-1.8l-.2 .4h-.8l-.2-.4h-.8l-.2 .5h-.8l-.2-.2h-.6l-.4-.1h-.8l-.2-.2h-.8l-.2 .4h-.8l-.2-.4h-.8l-.2 .3h-.8l-.2-.3h-.8l-.2 .4h-.8l-.2-.4h-.8l-.2 .4h-.8l-.2-.4h-.8l-.2 .5h-.8l-.2-.3h-.6l-.4 .1h-.6l-.4 .1h-.8l-.2-.4h-3.8l-.2 .5h-.8l-.2-.5h-2.8l-.2 .5h-.8l-.2-.3h-.8l-.2-.2h-1.6l-.4 .1h-.6l-.4-.1h-.8l-.2 .4h-1.6l-.4 .1h-.6l-.4 .1h-.8l-.2-.4h-2.8l-.2-.2h-.8l-.2 .2h-1.6l-.4-.1h-.6l-.4-.1h-1.6l-.4 .1h-.6l-.4-.1h-.6l-.4 .1h-.6l-.4 .1h-.6l-.4-.1h-.6l-.4-.1h-.8l-.2 .4h-1.8l-.2-.4h-.8l-.2 .4h-.8l-.2-.2h-.6l-.4-.1h-.6l-.4 .1h-.8l-.2 .2h-1.8l-.2-.4h-.8l-.2 .3h-.8l-.2 .3h-.8l-.2-.4h-.8l-.2-.2h-3.8l-.2 .4h-.6l-.4 .1h-.8l-.2-.5h-.6l-.4 .1h-.8l-.2 .2h-.8l-.2-.3h-.8l-.2 .5h-.8l-.2-.5h-.8l-.2 .6h-.8l-.2-.5h-.6l-.4-.1h-.8l-.2 .3h-.8l-.2-.3h-.6l-.4 .1h-.8l-.2 .4h-1.8l-.2-.5h-.6l-.4 .1h-.6l-.4-.1h-.8l-.2 .4h-.6l-.4-.1h-.8l-.2-.3h-.6l-.4 .1h-1.6l-.4-.1h-1.8l-.2 .5h-1.8l-.2-.5h-2.8l-.2 .3h-.6l-.4 .1h-.8l-.2-.4h-.6l-.4 .1h-.8l-.2 .3h-.8l-.2-.3h-1.6l-.4-.1h-.8l-.2 .3h-.6l-.4 .1h-.8l-.2-.3h-.8l-.2 .4h-.8l-.2-.2h-.8l-.2-.2h-.6l-.4-.1h-2.6l-.4 .1h-.8l-.2 .5h-.8l-.2-.6h-.8l-.2 .2h-1.6l-.4-.1h-1.6l-.4 .1h-.8l-.2 .4h-.8l-.2-.6h-1.6l-.4 .1h-.6l-.4-.1h-.8l-.2 .3h-1.8l-.2-.3h-1.8l-.2 .4h-.8l-.2-.3h-.6l-.4 .1h-1.6l-.4-.1h-.6l-.4 .1h-.8l-.2-.2h-.8l-.2 .5h-.8l-.2-.4h-.6l-.4-.1h-.6l-.4 .1h-.6l-.4-.1h-.8l-.2 .4h-.8l-.2-.4h-.6l-.4 .1h-.6l-.4 .1h-.8l-.2 .2h-.8l-.2-.3h-1.6l-.4-.1h-.8l-.2 .4h-.8l-.2-.4h-.8l-.2 .3h-.8l-.2-.2h-.6l-.4-.1h-.8l-.2 .2h-2.8l-.2 .3h-.8l-.2-.5h-.8l-.2 .3h-.8l-.2 .3h-.8l-.2-.6h-2.8l-.2 .6h-.8l-.2-.6h-1.8l-.2 .4h-.8l-.2-.3h-.8l-.2 .3h-.6l-.4-.1h-.6l-.4 .1h-.8l-.2-.2h-.8l-.2-.2h-.8l-.2 .2h-.8l-.2-.2h-.8l-.2 .6h-.8l-.2-.4h-.6l-.4 .1h-.8l-.2-.3h-.8l-.2 .2h-.8l-.2-.2h-.8l-.2 .3h-.8l-.2-.2h-.6l-.4 .1h-.8l-.2 .4h-.8l-.2-.5h-1.8l-.2 .2h-.8l-.2-.3h-.8l-.2 .6h-.8l-.2-.4h-.6l-.4-.1h-.6l-.4 .1h-1.8l-.2-.2h-.8l-.2 .3h-.8l-.2-.3h-.6l-.4 .1h-.6l-.4-.1h-.8l-.2 .3h-.8l-.2-.3h-.8l-.2 .5h-.8l-.2-.5h-1.6l-.4 .1h-.6l-.4-.1h-1.8l-.2 .4h-.8l-.2-.4h-.8l-.2 .2h-.6l-.4-.1h-.6l-.4-.1h-3.6l-.4 .1h-.6l-.4-.1h-.8l-.2 .3h-.8l-.2-.3h-4.6l-.4 .1h-.6l-.4-.1h-.8l-.2 .3h-.8l-.2 .3h-.8l-.2-.6h-.8l-.2 .2h-.8l-.2-.2h-.8l-.2 .2h-.6l-.4 .1h-.8l-.2-.3h-.8l-.2 .2h-.6l-.4-.1h-1.6l-.4-.1h-.6l-.4 .1h-.8l-.2 .4h-.8l-.2-.5h-.8l-.2 .2h-.6l-.4 .1h-.6l-.4-.1h-1.8l-.2 .3h-.8l-.2-.5h-.8l-.2 .2h-.6l-.4 .1h-.6l-.4-.1h-.8l-.2-.2h-1.6l-.4 .1h-.6l-.4-.1h-.8l-.2 .2h-.6l-.4-.1h-.6l-.4 .1h-.8l-.2-.2h-1.8l-.2 .2h-.8l-.2-.2h-1.8l-.2 .5h-.8l-.2-.4h-.6l-.4 .1h-.8l-.2-.2h-.8l-.2 .6h-.8l-.2-.3h-1.6l-.4-.1h-.8l-.2-.2h-.8l-.2 .5h-.8l-.2-.5h-.6l-.4 .1h-.6l-.4-.1h-.8l-.2 .3h-.8l-.2-.3h-.6l-.4 .1h-.6l-.4 .1h-.8l-.2-.2h-.6l-.4 .1h-.8l-.2 .2h-.6l-.4-.1h-.8l-.2 .3h-.8l-.2-.4h-.8l-.2 .4h-.8l-.2-.5h-.8l-.2 .6h-.8l-.2-.6h-.8l-.2 .4h-.8l-.2-.4h-1.6l-.4 .1h-.6l-.4-.1h-.6l-.4 .1h-.6l-.4 .1h-.8l-.2-.2h-3.6l-.4 .1h-.8l-.2 .4h-.8l-.2-.5h-3.8l-.2 .3h-.8l-.2-.2h-.8l-.2 .3h-.8l-.2-.4h-2.6l-.4 .1h-.6l-.4-.1h-3.8l-.2 .4h-.8l-.2-.3h-.6l-.4-.1h-1.6l-.4 .1h-.8l-.2 .5h-.8l-.2-.6h-.6l-.4 .1h-.8l-.2 .3h-.8z"/>
<path fill="#008000" d="M138 669.9h.8l.4 .1h4.6l.4-.1h1.6l.4 .1h4.6l.2-.2h.8l.4 .1h2.6l.4 .1h.6l.4-.1h1.6l.4 .1h.6l.4-.1h.6l.4 .1h1.6l.2-.2h.8l.2 .2h1.8l.4-.1h.6l.4 .1h3.6l.2-.2h.8l.4 .1h.6l.4 .1h8.6l.4-.1h2.6l.4 .1h3.6l.4-.1h.6l.4 .1h1.6l.4-.1h.6l.4 .1h.6l.4-.1h.6l.4 .1h.6l.4-.1h.6l.4 .1h3.6l.2-.2h.8l.2 .2h9.8l.4-.1h1.6l.4 .1h6.6l.4-.1h.6l.4 .1h.6l.2-.2h.8l.2 .2h2.8l.4-.1h.6l.4 .1h2.6l.4-.1h.6l.4 .1h8.6l.2-.2h.8l.2 .2h2.8l.4-.1h.6l.4 .1h2.6l.4-.1h1.6l.4 .1h5.6l.2-.2h.8l.4 .1h.6l.4 .1h.6l.4-.1h.6l.4 .1h2.6l.4-.1h.6l.4 .1h4.6l.2-.2h.8l.2 .2h11.8l.4-.1h.6l.4 .1h1.6l.2-.2h.8l.4 .1h1.6l.4 .1h5.6l.2-.2h.8l.4 .1h.6l.4 .1h.6l.4-.1h.6l.4 .1h1.6l.4-.1h.6l.4-.1h.6l.2 .2h7.8l.4-.1h.6l.4-.1h.6l.2 .2h1.8l.4-.1h.6l.4 .1h2.6l.4-.1h.6l.4 .1h2.6l.2-.2h.8l.2 .2h4.8l.4-.1h.6l.4 .1h.6l.4-.1h.6l.4 .1h4.6l.4-.1h.6l.4 .1h2.6l.4-.1h.6l.4 .1h2.6l.2-.2h.8l.2 .2h.8l.4-.1h.6l.4 .1h5.6l.4-.1h.6l.4 .1h2.6l.2-.2h.8l.2 .2h10.8l.2-.2h.8l.2 .2h.8l.4-.1h.6l.4 .1h1.6l.2-.2h.8l.4 .1h.6l.4-.1h.6l.2 .2h4.8l.4-.1h.6l.4 .1h.6l.4-.1h.6l.4 .1h.6l.4-.1h1.6l.4 .1h2.6l.4-.1h.6l.4 .1h7.6l.4-.1h.6l.4 .1h1.6l.4-.1h.6l.4 .1h5.6l.4-.1h.6l.4 .1h4.6l.4-.1h.6l.4 .1h2.6l.4-.1h.6l.4 .1h.6l.4-.1h.6l.4 .1h2.6l.4-.1h1.6l.4 .1h1.6l.4-.1h.6l.4 .1h2.6l.4-.1h1.6l.4 .1h1.6l.4-.1h.6l.4 .1h7.6l.2-.2h.8l.4 .1h1.6l.4 .1h3.6l.4-.1h.6l.4 .1h1.6l.4-.1h.6l.4 .1h.6l.4-.1h.6l.4 .1h1.6l.4-.1h.6l.4 .1h8.6l.4-.1h.6l.4 .1h.6l.2-.2h.8l.4 .1h.6l.4-.1h.6l.2 .2h7.8l.2-.2h.8l.2 .2h.8l.2-.2h.8l.2 .2h1.8l.4-.1h.6l.4 .1h.6l.4-.1h.6l.4 .1h.6l.4-.1h.6l.4 .1h6.6l.2-.2h.8l.2 .2h1.8l.4-.1h1.6l.4 .1h12.6l.4-.1h.6l.4 .1h2.6l.4-.1h1.6l.4 .1h1.6l.4-.1h1.6l.4 .1h2.6l.4-.1h.6l.4 .1h2.6l.4-.1h.6l.4 .1h.6l.2-.2h.8l.2 .2h4.8l.4-.1h.6l.4 .1h3.6l.4-.1h.6l.4 .1h4.6l.4-.1h2.6l.4 .1h.6l.4-.1h1.6l.4 .1h1.6l.2-.2h.8l.2 .2h4.8l.4-.1h.6l.4 .1h3.6l.2-.2h.8l.2 .2h2.8l.2-.2h.8l.4 .1h.6l.4 .1h.6l.2-.2h.8l.2 .2h6.8l.4-.1h.6l.4 .1h13.6l.2-.2h.8l.2 .2h4.8l.4-.1h.6l.4 .1h3.6l.4-.1h.6l.4 .1h3.6l.4-.1h.6l.4 .1h10.6l.4-.1h.6l.4 .1h3.6l.4-.1h.6l.4 .1h2.6l.4-.1h1.6l.4 .1h.6l.4-.1h.6l.4 .1h3.6l.2-.2h.8l.2 .2h1.8l.4-.1h.6l.4 .1h3.6l.2-.2h.8l.2 .2h.8l.2-.2h.8l.2 .2h.8l.2-.2h.8l.2 .2h5.8l.4-.1h.6l.4 .1h.6l.4-.1h1.6l.4-.1h1.6l.4 .1h.6l.4 .1h2.6l.2-.2h.8l.2 .2h3.8l.4-.1h.6l.4 .1h.6l.4-.1h.6l.4-.1h.6l.2 .2h.8l.4-.1h.6l.4 .1h.6l.4-.1h.6l.4 .1h2.6l.4-.1h.6l.4 .1h1.6l.4-.1h.6l.4 .1h3.6l.4-.1h.6l.4 .1h2.6l.4-.1h.6l.4 .1h3.6l.2-.2h.8l.2 .2h.8l.4-.1h.6l.4 .1h2.6l.4-.1h.6l.4 .1h2.6l.4-.1h.6l.4 .1h1.6l.4-.1h1.6l.4 .1h2.6l.2-.2h.8l.2 .2h4.8l.4-.1h.6l.4 .1h1.6l.4-.1h.6l.4 .1h3.6l.4-.1h.6l.4 .1h4.6l.2-.2h.8l.2 .2h.8l.4-.1h.6l.4 .1h.6l.4-.1h3.6l.4-.1h.6l.2 .2h6.8l.4-.1h.6l.4-.1h.6l.2 .2h3.8l.4-.1h.6l.4 .1h5.6l.2-.2h.8l.2 .2h5.8l.4-.1h.6l.4 .1h2.6l.4-.1h.6l.4 .1h.6l.4-.1h.6l.4 .1h23.6l.2-.2h.8l.2 .2h9.8l.4-.1h.6l.4 .1h5.6l.4-.1h.6l.4 .1h.6l.2-.2h.8l.2 .2h.8l.4-.1h1.6l.4 .1h2.6l.4-.1h.6l.4 .1h1.6l.4-.1h1.6l.4 .1h8.6l.4-.1h.6l.4 .1h6.6l.4-.1h.6l.4 .1h1.6l.4-.1h.6l.4 .1h.6l.4-.1h.6l.4-.1h1.6l.2 .2h1.8l.4-.1h.6l.4 .1h.6l.4-.1h2.6l.4 .1h9.6l.4-.1h1.6l.4 .1h9.6l.2-.2h.8l.2 .2h6.8l.4-.1h.6l.4 .1h3.6l.4-.1h.6l.4-.1h.6l.2 .2h8.8l.4-.1h.6l.4 .1h3.6l.2-.2h.8l.2 .2h6.8l.4-.1h.6l.4 .1h8.6l.4-.1h.6l.4 .1h1.6l.4-.1h.6l.4 .1h3.6l.4-.1h.6l.4 .1h.6l.2-.2h.8l.4 .1h.6l.4 .1h.6l.4-.1h.6l.4 .1h9.6l.4-.1h.6l.4 .1h.6l.2-.2h.8l.2 .2h3.8l.4-.1h.6l.4 .1h3.6l.4-.1h.6l.4 .1h7.6l.4-.1h.6l.4 .1h2.6l.2-.2h.8l.4 .1h.6l.4-.1h.6l.4 .1h1.6l.4 .1h4.6l.4-.1h.6l.4 .1h1.6l.4-.1h.3v4.2h-2.3l-.4 .1h-.8l-.2-.2h-1.8l-.2 .3h-.8l-.2-.2h-1.6l-.4-.1h-.8l-.2 .3h-.8l-.2-.2h-.6l-.4-.1h-.6l-.4 .1h-.8l-.2 .2h-1.6l-.4-.1h-1.8l-.2-.2h-.8l-.2 .2h-.6l-.4-.1h-.6l-.4 .1h-.8l-.2-.2h-.6l-.4 .1h-1.6l-.4-.1h-.6l-.4 .1h-2.6l-.4 .1h-.8l-.2-.2h-.8l-.2 .2h-.6l-.4-.1h-5.6l-.4-.1h-.6l-.4 .1h-2.6l-.4 .1h-.6l-.4-.1h-.6l-.4 .1h-.6l-.4-.1h-.6l-.4-.1h-.6l-.4 .1h-3.6l-.4 .1h-.6l-.4-.1h-1.6l-.4-.1h-1.6l-.4 .1h-1.6l-.4 .1h-.6l-.4-.1h-.6l-.4-.1h-1.8l-.2 .2h-1.8l-.2-.2h-1.6l-.4 .1h-.6l-.4-.1h-.6l-.4 .1h-2.6l-.4-.1h-.8l-.2 .3h-.6l-.4-.1h-.6l-.4-.1h-1.6l-.4-.1h-.6l-.4 .1h-4.8l-.2 .2h-.8l-.2-.2h-3.6l-.4-.1h-.8l-.2 .3h-.8l-.2-.2h-.6l-.4 .1h-1.6l-.4-.1h-.6l-.4 .1h-.6l-.4-.1h-.6l-.4-.1h-.8l-.2 .2h-.6l-.4-.1h-.8l-.2 .2h-.8l-.2-.2h-.6l-.4 .1h-.8l-.2-.2h-.6l-.4 .1h-6.6l-.4 .1h-.6l-.4-.1h-.6l-.4-.1h-.6l-.4 .1h-1.6l-.4 .1h-.8l-.2-.2h-.6l-.4 .1h-.8l-.2 .2h-.8l-.2-.2h-1.8l-.2 .2h-.6l-.4-.1h-.6l-.4-.1h-2.6l-.4 .1h-.6l-.4-.1h-1.6l-.4-.1h-.6l-.4 .1h-.6l-.4 .1h-1.8l-.2-.2h-.8l-.2 .2h-.8l-.2-.2h-.6l-.4 .1h-11.6l-.4 .1h-.8l-.2-.2h-.8l-.2 .2h-1.6l-.4 .1h-.8l-.2-.2h-1.6l-.4-.1h-.6l-.4 .1h-1.6l-.4-.1h-3.8l-.2 .2h-.6l-.4-.1h-.8l-.2 .2h-.6l-.4-.1h-.6l-.4-.1h-2.8l-.2 .2h-.8l-.2-.2h-.6l-.4-.1h-1.6l-.4 .1h-.6l-.4-.1h-.8l-.2 .2h-.6l-.4-.1h-6.6l-.4 .1h-.8l-.2-.2h-.6l-.4 .1h-3.6l-.4-.1h-.8l-.2 .2h-.6l-.4-.1h-1.6l-.4 .1h-.6l-.4-.1h-.8l-.2 .2h-.6l-.4-.1h-.6l-.4-.1h-6.8l-.2 .2h-.8l-.2-.2h-2.6l-.4-.1h-.6l-.4 .1h-.6l-.4 .1h-.6l-.4-.1h-.8l-.2 .2h-.6l-.4-.1h-1.6l-.4-.1h-2.6l-.4-.1h-1.8l-.2 .2h-.6l-.4-.1h-.6l-.4-.1h-.6l-.4 .1h-.6l-.4 .1h-.6l-.4-.1h-1.6l-.4 .1h-.6l-.4-.1h-.8l-.2 .2h-.8l-.2-.3h-.6l-.4 .1h-.6l-.4-.1h-.6l-.4 .1h-2.8l-.2 .2h-.8l-.2-.2h-2.6l-.4 .1h-.6l-.4-.1h-.6l-.4-.1h-.8l-.2 .2h-.6l-.4-.1h-.6l-.4 .1h-.8l-.2-.2h-1.6l-.4 .1h-1.6l-.4-.1h-2.6l-.4 .1h-1.6l-.4-.1h-.6l-.4 .1h-.6l-.4 .1h-.6l-.4-.1h-7.6l-.4 .1h-.6l-.4-.1h-.6l-.4 .1h-.6l-.4-.1h-1.6l-.4-.1h-.6l-.4 .1h-.6l-.4-.1h-1.8l-.2 .3h-.8l-.2-.3h-.8l-.2 .2h-.8l-.2-.2h-.6l-.4 .1h-5.6l-.4 .1h-.8l-.2-.2h-.8l-.2 .3h-.8l-.2-.2h-.6l-.4 .1h-.6l-.4-.1h-3.6l-.4 .1h-.8l-.2-.2h-.6l-.4 .1h-.6l-.4 .1h-.6l-.4-.1h-.6l-.4-.1h-2.8l-.2 .2h-.6l-.4-.1h-1.6l-.4-.1h-1.6l-.4 .1h-2.6l-.4-.1h-1.6l-.4 .1h-4.6l-.4-.1h-1.8l-.2 .2h-.6l-.4-.1h-.6l-.4-.1h-2.6l-.4 .1h-.6l-.4-.1h-.6l-.4 .1h-.6l-.4 .1h-.6l-.4-.1h-.6l-.4 .1h-1.6l-.4-.1h-3.6l-.4-.1h-1.8l-.2 .2h-.6l-.4-.1h-.6l-.4 .1h-.6l-.4-.1h-1.6l-.4 .1h-.6l-.4-.1h-1.6l-.4 .1h-.6l-.4-.1h-2.6l-.4 .1h-.6l-.4-.1h-.6l-.4 .1h-.6l-.4-.1h-3.6l-.4 .1h-1.6l-.4-.1h-.6l-.4-.1h-.8l-.2 .3h-.8l-.2-.2h-.6l-.4-.1h-.6l-.4 .1h-.8l-.2 .2h-.6l-.4-.1h-.6l-.4-.1h-.6l-.4-.1h-.6l-.4 .1h-2.6l-.4-.1h-.6l-.4 .1h-.6l-.4 .1h-.6l-.4-.1h-.6l-.4 .1h-.6l-.4-.1h-.6l-.4-.1h-.6l-.4 .1h-1.6l-.4 .1h-.6l-.4-.1h-3.6l-.4-.1h-.8l-.2 .2h-.6l-.4-.1h-1.6l-.4-.1h-.6l-.4 .1h-1.6l-.4 .1h-.6l-.4-.1h-.6l-.4-.1h-1.6l-.4 .1h-.6l-.4 .1h-.6l-.4-.1h-.6l-.4 .1h-.6l-.4-.1h-.6l-.4 .1h-.8l-.2-.2h-.8l-.2 .2h-.8l-.2-.2h-.6l-.4 .1h-2.6l-.4 .1h-.6l-.4-.1h-1.6l-.4-.1h-.6l-.4 .1h-1.6l-.4 .1h-.6l-.4-.1h-2.6l-.4 .1h-.6l-.4-.1h-.6l-.4-.1h-.6l-.4 .1h-2.6l-.4 .1h-.6l-.4-.1h-1.6l-.4-.1h-.6l-.4 .1h-.6l-.4-.1h-.6l-.4 .1h-1.6l-.4-.1h-.8l-.2 .2h-.8l-.2-.2h-.6l-.4 .1h-1.6l-.4-.1h-1.6l-.4 .1h-2.6l-.4 .1h-.6l-.4-.1h-1.6l-.4 .1h-.6l-.4 .1h-1.8l-.2-.3h-.6l-.4 .1h-1.6l-.4 .1h-.6l-.4-.1h-2.6l-.4-.1h-1.8l-.2 .2h-.6l-.4-.1h-2.6l-.4-.1h-.8l-.2 .2h-.8l-.2-.2h-.8l-.2 .2h-.6l-.4-.1h-1.6l-.4-.1h-.8l-.2 .2h-.6l-.4-.1h-.6l-.4 .1h-1.6l-.4-.1h-2.6l-.4 .1h-1.6l-.4-.1h-1.6l-.4-.1h-.8l-.2 .3h-.8l-.2-.2h-1.6l-.4-.1h-.6l-.4 .1h-2.8l-.2 .2h-.8l-.2-.2h-3.6l-.4 .1h-1.8l-.2-.2h-.8l-.2 .2h-1.6l-.4-.1h-2.6l-.4-.1h-.8l-.2 .2h-.6l-.4-.1h-2.6l-.4-.1h-.6l-.4 .1h-4.6l-.4-.1h-.6l-.4 .1h-.6l-.4 .1h-.6l-.4-.1h-.8l-.2 .2h-.8l-.2-.2h-.8l-.2 .2h-.8l-.2-.2h-.8l-.2 .2h-.8l-.2-.2h-2.6l-.4-.1h-2.6l-.4 .1h-5.6l-.4 .1h-.8l-.2-.2h-.6l-.4 .1h-.6l-.4 .1h-.6l-.4-.1h-2.6l-.4 .1h-.8l-.2-.2h-.8l-.2 .2h-.6l-.4-.1h-1.6l-.4 .1h-.6l-.4-.1h-.6l-.4 .1h-.6l-.4-.1h-.6l-.4 .1h-.6l-.4-.1h-.6l-.4 .1h-.6l-.4-.1h-.6l-.4-.1h-.6l-.4 .1h-.6l-.4-.1h-.6l-.4 .1h-.6l-.4 .1h-.6l-.4-.1h-.6l-.4 .1h-.6l-.4-.1h-.6l-.4-.1h-.6l-.4 .1h-1.6l-.4-.1h-.6l-.4 .1h-.6l-.4 .1h-.6l-.4-.1h-2.6l-.4 .1h-.6l-.4-.1h-.6l-.4-.1h-.8l-.2 .3h-.8l-.2-.3h-.6l-.4 .1h-2.6l-.4 .1h-.6l-.4-.1h-4.8l-.2 .2h-.8l-.2-.2h-.6l-.4 .1h-.6l-.4-.1h-2.6l-.4-.1h-.6l-.4 .1h-4.6l-.4 .1h-.6l-.4-.1h-2.6l-.4 .1h-.6l-.4-.1h-1.6l-.4-.1h-1.6l-.4 .1h-2.6l-.4 .1h-.6l-.4-.1h-.6l-.4-.1h-.6l-.4 .1h-1.6l-.4 .1h-.6l-.4-.1h-.6l-.4-.1h-.8l-.2 .2h-.6l-.4-.1h-4.6l-.4 .1h-1.6l-.4-.1h-4.6l-.4-.1h-.6l-.4 .1h-.6l-.4 .1h-.6l-.4 .1h-1.8l-.2-.3h-.8l-.2 .2h-1.6l-.4-.1h-.6l-.4-.1h-.6l-.4 .1h-6.6l-.4 .1h-1.8l-.2-.2h-.8l-.2 .2h-.8l-.2-.2h-1.8l-.2 .2h-.6l-.4-.1h-5.6l-.4-.1h-.8l-.2 .2h-.6l-.4-.1h-.8l-.2 .2h-.6l-.4-.1h-.8l-.2-.2h-.6l-.4 .1h-2.6l-.4 .1h-.6l-.4-.1h-2.6l-.4 .1h-1.6l-.4-.1h-.6l-.4-.1h-.6l-.4 .1h-1.6l-.4-.1h-.6l-.4 .1h-3.6l-.4-.1h-1.6l-.4 .1h-1.8l-.2 .2h-.6l-.4-.1h-.8l-.2-.2h-.8l-.2 .2h-.6l-.4-.1h-3.6l-.4 .1h-.6l-.4-.1h-1.6l-.4 .1h-1.6l-.4-.1h-1.8l-.2 .2h-.6l-.4-.1h-.8l-.2-.2h-.8l-.2 .2h-.6l-.4-.1h-.6l-.4-.1h-.8l-.2 .2h-.6l-.4-.1h-2.8l-.2 .2h-.8l-.2-.2h-1.6l-.4 .1h-.8l-.2-.2h-.6l-.4 .1h-.6l-.4-.1h-.8l-.2 .2h-1.6l-.4 .1h-.8l-.2-.2h-2.6l-.4 .1h-.8l-.2-.2h-.6l-.4 .1h-.6l-.4 .1h-.6l-.4-.1h-.6l-.4-.1h-1.6l-.4 .1h-1.8l-.2 .2h-.8l-.2-.2h-1.6l-.4-.1h-.8l-.2 .2h-.6l-.4-.1h-2.8l-.2 .2h-.8l-.2-.2h-.6l-.4-.1h-.6l-.4 .1h-.6l-.4-.1h-.6l-.4 .1h-1.6l-.4-.1h-1.6l-.4 .1h-2.8l-.2 .2h-.8l-.2-.2h-2.6l-.4-.1h-.8l-.2 .2h-.6l-.4 .1h-.8l-.2-.3h-.6l-.4 .1h-.6l-.4-.1h-1.6l-.4 .1h-.6l-.4 .1h-.6l-.4-.1h-5.6l-.4 .1h-1.6l-.4-.1h-.6l-.4-.1h-.6l-.4 .1h-.6l-.4-.1h-.6l-.4 .1h-7.8l-.2 .2h-.8l-.2-.2h-5.6l-.4 .1h-.6l-.4-.1h-1.6l-.4 .1h-1.8l-.2-.2h-.6l-.4 .1h-.6l-.4 .1h-.8l-.2-.2h-.6l-.4 .1h-.6l-.4-.1h-.6l-.4 .1h-.8l-.2 .2h-.6l-.4-.1h-1.6l-.4 .1h-.8l-.2-.2h-.6l-.4 .1h-.6l-.4-.1h-1.6l-.4-.1h-1.6l-.4 .1h-2.6l-.4-.1h-2.6l-.4 .1h-.6l-.4 .1h-.6l-.4-.1h-.6l-.4 .1h-.6l-.4-.1h-.6l-.4-.1h-.6l-.4 .1h-.6l-.4-.1h-.8l-.2 .2h-.8l-.2-.2h-.6l-.4 .1h-1.6l-.4 .1h-.8l-.2-.2h-.8l-.2 .2h-1.6l-.4-.1h-1.6l-.4-.1h-.6l-.4 .1h-.6l-.4 .1h-.8l-.2-.2h-.6l-.4 .1h-.6l-.4-.1h-.6l-.4 .1h-.6l-.4-.1h-.6l-.4 .1h-.8l-.2 .2h-.6l-.4-.1h-.6l-.4-.1h-1.6l-.4 .1h-1.6l-.4-.1h-3.6l-.4-.1h-.8l-.2 .2h-.6l-.4-.1h-.6l-.4-.1h-1.6l-.4 .1h-.6l-.4-.1h-.8l-.2 .2h-.8l-.2-.2h-.6l-.4 .1h-.6l-.4 .1h-.6l-.4 .1h-.8l-.2-.3h-.6l-.4 .1h-.6l-.4-.1h-.6l-.4 .1h-1.6l-.4-.1h-.8z"/>
<path fill="#000000" d="M138 701.7h.8l.2-.2h.8l.4 .1h.6l.2 .2h2.8l.2-.2h.8l.4-.1h.6l.2 .3h1.8l.4-.1h1.6l.2-.2h.8l.2 .3h4.8l.2-.2h.8l.2 .2h1.8l.4-.1h3.6l.4 .1h3.6l.2-.2h.8l.2 .2h.8l.2-.3h.8l.2 .3h2.8l.4-.1h.6l.2-.2h.8l.2 .3h1.8l.4-.1h.6l.4 .1h1.6l.4-.1h.6l.4-.1h.6l.2 .2h2.8l.4-.1h.6l.4 .1h6.6l.4-.1h1.6l.2-.2h.8l.2 .3h.8l.4-.1h.6l.2-.3h.8l.2 .2h.8l.2 .2h1.8l.2-.3h.8l.4 .1h.6l.2 .2h2.8l.4-.1h.6l.4-.1h.6l.2-.2h.8l.2 .4h1.8l.2-.4h.8l.2 .4h3.8l.2-.2h.8l.2 .2h1.8l.4-.1h.6l.2-.2h.8l.2 .3h.8l.4-.1h.6l.4 .1h2.6l.4-.1h.6l.4-.1h.6l.2 .2h6.8l.2-.3h.8l.2 .3h2.8l.2-.2h1.8l.2 .2h1.8l.4-.1h1.6l.2-.3h1.8l.2 .4h.8l.4-.1h.6l.4 .1h.6l.2-.4h.8l.2 .4h1.8l.2-.4h1.8l.2 .3h.8l.4 .1h.6l.2-.4h.8l.2 .4h.8l.2-.3h.8l.2 .3h1.8l.4-.1h.6l.2-.2h.8l.2 .2h.8l.2-.4h.8l.2 .5h.8l.4-.1h.6l.4 .1h2.6l.4-.1h.6l.4-.1h1.6l.2-.3h.8l.2 .5h1.8l.2-.3h1.8l.2 .2h.8l.4 .1h.6l.2-.3h.8l.4 .1h.6l.2 .2h1.8l.4-.1h1.6l.4 .1h1.6l.4-.1h.6l.4-.1h.6l.2 .2h3.8l.2-.2h.8l.4-.1h.6l.2 .3h1.8l.4-.1h.6l.2-.3h.8l.2 .2h.8l.4 .1h1.6l.4-.1h.6l.2-.2h1.8l.2 .3h.8l.4 .1h.6l.2-.4h.8l.2 .4h.8l.2-.4h.8l.2 .4h3.8l.2-.3h.8l.2 .3h4.8l.4-.1h.6l.4-.1h.6l.2-.2h.8l.2 .4h2.8l.2-.4h.8l.2 .4h.8l.2-.2h.8l.2 .2h.8l.4-.1h.6l.4 .1h.6l.2-.2h.8l.2 .2h.8l.4-.1h.6l.2-.3h.8l.2 .4h1.8l.4-.1h.6l.4 .1h.6l.2-.2h.8l.2 .2h.8l.2-.2h.8l.4-.1h.6l.2 .2h.8l.4 .1h1.6l.2-.3h.8l.4-.1h.6l.2 .4h2.8l.2-.2h.8l.4 .1h.6l.2-.4h.8l.4 .1h.6l.2 .4h3.8l.4-.1h.6l.4 .1h1.6l.2-.4h.8l.2 .3h.8l.2-.3h.8l.2 .2h.8l.2 .2h.8l.4-.1h2.6l.4 .1h.6l.2-.3h.8l.2 .3h1.8l.2-.2h.8l.2 .2h2.8l.4-.1h.6l.4 .1h.6l.4-.1h.6l.2-.3h.8l.2 .3h.8l.4 .1h2.6l.4-.1h.6l.4 .1h5.6l.4-.1h.6l.4 .1h1.6l.2-.2h.8l.2 .2h1.8l.4-.1h.6l.4 .1h1.6l.2-.2h.8l.2-.2h.8l.2 .4h2.8l.4-.1h1.6l.4 .1h.6l.2-.4h.8l.2 .4h4.8l.4-.1h.6l.4 .1h8.6l.4-.1h.6l.4-.1h.6l.4 .1h.6l.2-.3h.8l.2 .4h.8l.2-.3h.8l.2 .3h.8l.4-.1h.6l.4 .1h1.6l.4-.1h.6l.4 .1h.6l.4-.1h.6l.4 .1h.6l.4-.1h.6l.2-.2h.8l.4-.1h.6l.2 .4h4.8l.4-.1h.6l.4 .1h.6l.2-.2h.8l.2 .2h.8l.4-.1h.6l.4-.1h.6l.2 .2h.8l.2-.2h.8l.2 .2h4.8l.2-.5h.8l.2 .5h2.8l.2-.4h.8l.4 .1h.6l.2 .3h1.8l.2-.3h.8l.2 .2h.8l.4 .1h.6l.2-.2h.8l.4 .1h.6l.2-.3h.8l.2 .4h5.8l.2-.2h.8l.2 .2h.8l.4-.1h1.6l.4-.1h.6l.2 .2h1.8l.2-.2h1.8l.2 .2h.8l.2-.3h.8l.2 .3h.8l.4-.1h.6l.4 .1h1.6l.4-.1h.6l.4 .1h3.6l.2-.2h.8l.2-.2h.8l.4 .1h.6l.4 .1h.6l.2-.2h.8l.2 .4h1.8l.2-.4h.8l.2 .4h2.8l.2-.4h.8l.2 .3h.8l.2-.3h.8l.2 .4h.8l.4-.1h1.6l.2-.2h.8l.4 .1h1.6l.4-.1h.6l.2 .3h2.8l.4-.1h.6l.4 .1h1.6l.2-.4h.8l.2 .4h.8l.4-.1h.6l.2-.2h.8l.4 .1h.6l.2 .2h.8l.2-.2h.8l.4 .1h.6l.4 .1h5.6l.2-.4h.8l.2 .3h.8l.4 .1h2.6l.2-.3h.8l.2 .3h7.8l.4-.1h1.6l.4 .1h1.6l.2-.4h.8l.2 .4h.8l.2-.3h.8l.2 .3h2.8l.4-.1h1.6l.2-.2h.8l.2 .3h.8l.2-.3h.8l.2 .3h2.8l.2-.4h.8l.2 .4h1.8l.2-.2h.8l.4 .1h.6l.4 .1h1.6l.2-.2h1.8l.2 .2h1.8l.4-.1h.6l.4-.1h.6l.2 .2h3.8l.4-.1h.6l.4 .1h.6l.4-.1h.6l.4 .1h1.6l.2-.3h.8l.2 .3h.8l.4-.1h.6l.4 .1h1.6l.2-.4h.8l.2 .4h.8l.2-.2h.8l.4 .1h2.6l.4-.1h.6l.4 .1h.6l.4 .1h2.6l.4-.1h.6l.4 .1h2.6l.2-.3h.8l.2 .3h.8l.2-.3h.8l.2 .2h.8l.4 .1h.6l.4-.1h.6l.4 .1h.6l.2-.2h.8l.4 .1h2.6l.4 .1h.6l.2-.2h.8l.2 .2h2.8l.2-.4h.8l.2 .4h.8l.2-.2h.8l.4-.1h.6l.2 .3h2.8l.4-.1h1.6l.4 .1h.6l.2-.3h.8l.2 .3h1.8l.2-.3h1.8l.2 .2h2.8l.4 .1h.6l.4-.1h2.6l.4-.1h.6l.2 .2h3.8l.2-.2h.8l.2 .2h2.8l.2-.3h.8l.2 .3h1.8l.4-.1h1.6l.4 .1h.6l.2-.2h.8l.2 .2h2.8l.2-.3h.8l.2 .2h.8l.4 .1h1.6l.2-.2h1.8l.4 .1h.6l.4 .1h4.6l.4-.1h.6l.4 .1h4.6l.2-.4h.8l.2 .2h.8l.2 .2h.8l.2-.2h.8l.2 .2h.8l.2-.3h.8l.2 .2h1.8l.4 .1h2.6l.2-.3h.8l.2 .3h2.8l.2-.4h.8l.2 .3h.8l.4 .1h2.6l.4-.1h1.6l.4 .1h.6l.2-.3h.8l.4-.1h.6l.2 .4h1.8l.2-.5h.8l.2 .3h.8l.2 .2h.8l.2-.4h.8l.2 .4h1.8l.2-.4h.8l.2 .4h2.8l.4-.1h.6l.4 .1h2.6l.2-.2h.8l.4-.1h.6l.2 .3h.8l.2-.3h.8l.4 .1h.6l.2 .2h2.8l.2-.2h1.8l.2 .2h.8l.4-.1h.6l.4 .1h1.6l.2-.3h.8l.2 .3h1.8l.4-.1h.6l.4 .1h1.6l.2-.2h1.8l.2 .2h1.8l.2-.2h1.8l.2 .2h2.8l.4-.1h1.6l.4-.1h.6l.2 .2h.8l.4-.1h.6l.2-.2h.8l.2 .3h1.8l.4-.1h.6l.4-.1h.6l.2 .2h1.8l.2-.4h.8l.2 .3h.8l.2-.2h.8l.4-.1h.6l.2 .4h.8l.2-.3h.8l.2 .2h.8l.2-.2h.8l.2 .3h.8l.2-.3h.8l.2 .3h.8l.4-.1h.6l.4 .1h.6l.2-.2h.8l.2 .2h4.8l.2-.2h.8l.2 .2h.8l.2-.3h.8l.2 .2h.8l.4 .1h.6l.2-.4h.8l.2 .4h5.8l.4-.1h.6l.2-.3h.8l.2 .3h.8l.4 .1h.6l.4-.1h.6l.4 .1h2.6l.4-.1h.6l.4 .1h2.6l.2-.2h1.8l.2 .2h.8l.2-.2h.8l.2 .2h1.8l.2-.2h.8l.2 .2h1.8l.2-.3h.8l.2 .3h.8l.2-.2h1.8l.2 .2h1.8l.2-.3h.8l.2 .3h1.8l.2-.3h.8l.2 .3h2.8l.2-.3h.8l.4 .1h.6l.4 .1h.6l.4 .1h.6l.4-.1h.6l.4 .1h2.6l.2-.2h.8l.2 .2h.8l.4-.1h.6l.4-.1h.6l.2 .2h.8l.2-.3h.8l.2 .3h.8l.2-.3h.8l.2 .3h.8l.2-.2h.8l.2 .2h8.8l.2-.4h.8l.2 .4h6.8l.2-.2h.8l.2 .2h.8l.2-.4h.8l.2 .4h4.8l.2-.4h1.8l.2 .4h2.8l.2-.2h.8l.2 .2h.8l.2-.3h.8l.2 .2h.8l.2-.2h.8l.2 .3h.8l.2-.3h.8l.2 .3h.8l.2-.4h.8l.2 .4h.8l.4-.1h.6l.2-.2h1.8l.2 .2h.8l.2-.3h.8l.2 .4h.8l.2-.3h.8l.2 .3h1.8l.4-.1h.6l.4 .1h.6l.2-.2h.8l.2 .2h5.8l.2-.3h.8l.2 .2h.8l.2-.2h.8l.4 .1h.6l.2 .2h4.8l.2-.4h.8l.2 .4h.8l.4-.1h1.6l.4 .1h1.6l.2-.3h.8l.2 .2h.8l.4 .1h.6l.2-.3h.8l.2 .3h1.8l.4-.1h.6l.4 .1h.6l.4-.1h.6l.4 .1h1.6l.4-.1h.6l.4 .1h.6l.2-.2h.8l.2 .2h3.8l.2-.4h.8l.2 .4h.8l.2-.4h.8l.2 .4h.8l.2-.3h.8l.2 .3h.8l.2-.2h.8l.4 .1h.6l.2-.2h.8l.2 .3h.8l.2-.2h.8l.2 .2h.8l.4-.1h.6l.2-.3h.8l.2 .4h.8l.2-.2h.8l.2 .2h2.8l.2-.3h.8l.2 .2h.8l.2-.2h.8l.2 .2h1.8l.2-.3h.8l.2 .4h.8l.4-.1h.6l.4-.1h.6l.4 .1h.6l.2-.3h.8l.2 .4h.8l.2-.2h.8l.2 .2h1.8l.2-.4h.8l.2 .4h1.8l.4-.1h.6l.4 .1h.6l.2-.4h1.8l.2 .4h.8l.2-.2h.8l.4 .1h.6l.4 .1h.6l.4-.1h.6l.4 .1h1.6l.4-.1h.6l.2-.3h.8l.2 .4h.8l.4-.1h.6l.4 .1h.6l.4-.1h.6l.4 .1h5.6l.2-.2h.8l.2 .2h.5v3.5h-.3l-.4 .1h-2.6l-.4-.1h-1.6l-.4 .1h-.6l-.4 .1h-.6l-.4-.1h-.6l-.4 .1h-.8l-.2-.2h-.8l-.2 .2h-.8l-.2-.2h-.6l-.4 .1h-.6l-.4-.1h-.6l-.4 .1h-.6l-.4-.1h-.8l-.2 .2h-1.8l-.2 .2h-.6l-.4-.1h-.8l-.2-.3h-1.6l-.4 .1h-.6l-.4 .1h-.8l-.2-.2h-1.6l-.4 .1h-.6l-.4-.1h-1.8l-.2 .2h-.6l-.4-.1h-1.6l-.4 .1h-.8l-.2-.2h-.8l-.2 .4h-.6l-.4-.1h-.8l-.2-.3h-.6l-.4 .1h-.8l-.2 .3h-.8l-.2-.2h-.6l-.4-.1h-.8l-.2 .2h-.6l-.4-.1h-.6l-.4-.1h-1.6l-.4 .1h-.6l-.4 .1h-.8l-.2-.2h-1.8l-.2 .3h-.8l-.2-.3h-2.8l-.2 .3h-.8l-.2-.3h-1.6l-.4 .1h-.6l-.4 .1h-.8l-.2-.2h-1.6l-.4 .1h-.8l-.2-.2h-.6l-.4 .1h-1.6l-.4 .1h-.6l-.4-.1h-.6l-.4 .1h-.8l-.2-.2h-1.8l-.2 .5h-1.8l-.2-.5h-2.8l-.2 .3h-.8l-.2-.2h-.6l-.4 .1h-1.8l-.2-.2h-.8l-.2 .2h-.8l-.2-.2h-.6l-.4 .1h-.6l-.4-.1h-.8l-.2 .4h-.8l-.2-.2h-.8l-.2-.2h-1.8l-.2 .2h-.6l-.4-.1h-.8l-.2 .2h-.6l-.4-.1h-.8l-.2 .2h-1.6l-.4-.1h-2.6l-.4 .1h-.8l-.2-.4h-.6l-.4 .1h-1.6l-.4-.1h-.8l-.2 .3h-.6l-.4-.1h-.8l-.2-.2h-.8l-.2 .5h-.8l-.2-.2h-.8l-.2-.3h-.6l-.4 .1h-2.8l-.2 .3h-.8l-.2-.4h-.6l-.4 .1h-1.6l-.4 .1h-.8l-.2-.2h-.6l-.4 .1h-.6l-.4-.1h-.6l-.4 .1h-3.6l-.4-.1h-.8l-.2 .2h-.6l-.4-.1h-.6l-.4-.1h-.6l-.4 .1h-.6l-.4-.1h-.6l-.4 .1h-2.8l-.2 .2h-.8l-.2 .2h-.8l-.2-.5h-1.8l-.2 .2h-1.6l-.4 .1h-1.6l-.4-.1h-.8l-.2-.2h-.8l-.2 .2h-.8l-.2-.2h-2.8l-.2 .2h-.8l-.2-.2h-.8l-.2 .4h-.6l-.4-.1h-.6l-.4 .1h-.8l-.2-.3h-.8l-.2 .2h-.6l-.4-.1h-.6l-.4-.1h-.8l-.2 .3h-.8l-.2-.4h-.8l-.2 .5h-.8l-.2-.3h-.8l-.2 .2h-.8l-.2-.4h-.8l-.2 .5h-.8l-.2-.4h-1.6l-.4-.1h-.8l-.2 .5h-.8l-.2-.4h-.6l-.4 .1h-.6l-.4-.1h-1.6l-.4-.1h-1.6l-.4 .1h-.8l-.2 .2h-.6l-.4 .1h-.8l-.2-.3h-.6l-.4-.1h-.6l-.4 .1h-.8l-.2 .2h-.8l-.2-.2h-.6l-.4-.1h-.8l-.2 .2h-1.6l-.4-.1h-.6l-.4 .1h-.8l-.2 .2h-1.6l-.4 .1h-.8l-.2-.3h-.8l-.2-.2h-.6l-.4 .1h-2.6l-.4-.1h-.6l-.4 .1h-1.6l-.4-.1h-.6l-.4 .1h-.6l-.4 .1h-.6l-.4 .1h-.8l-.2-.2h-.8l-.2 .4h-.8l-.2-.5h-.6l-.4 .1h-.6l-.4 .1h-.6l-.4 .1h-.8l-.2-.2h-.6l-.4-.1h-.6l-.4 .1h-1.6l-.4-.1h-.8l-.2 .4h-.8l-.2-.3h-.6l-.4 .1h-.8l-.2-.2h-.8l-.2 .3h-.6l-.4 .1h-.8l-.2-.2h-1.8l-.2-.2h-2.6l-.4 .1h-.6l-.4-.1h-.8l-.2 .2h-.8l-.2 .2h-.8l-.2-.4h-2.8l-.2 .5h-.8l-.2-.4h-1.8l-.2 .4h-.8l-.2-.3h-.6l-.4-.1h-1.6l-.4 .1h-.6l-.4-.1h-.8l-.2 .2h-.6l-.4-.1h-.6l-.4-.1h-.6l-.4-.1h-.6l-.4 .1h-2.8l-.2 .2h-.8l-.2-.2h-.8l-.2 .3h-.8l-.2-.2h-.8l-.2-.2h-.8l-.2 .2h-.8l-.2-.2h-.6l-.4 .1h-.6l-.4-.1h-1.8l-.2 .4h-.8l-.2-.2h-.6l-.4-.1h-2.6l-.4 .1h-.6l-.4-.1h-.6l-.4 .1h-.6l-.4-.1h-.8l-.2 .4h-.8l-.2-.3h-.6l-.4 .1h-.6l-.4-.1h-.8l-.2 .3h-.8l-.2-.5h-.8l-.2 .2h-.8l-.2-.2h-.6l-.4 .1h-.6l-.4-.1h-.6l-.4 .1h-.6l-.4-.1h-.8l-.2 .4h-.8l-.2-.3h-.8l-.2 .3h-.8l-.2-.2h-.8l-.2-.2h-1.8l-.2 .5h-.8l-.2-.2h-.8l-.2-.2h-.6l-.4 .1h-.8l-.2-.2h-.6l-.4 .1h-.6l-.4-.1h-.8l-.2 .4h-.6l-.4-.1h-.8l-.2 .2h-.8l-.2-.4h-.8l-.2 .4h-.8l-.2-.5h-.6l-.4 .1h-.6l-.4 .1h-.6l-.4-.1h-.6l-.4-.1h-1.6l-.4 .1h-1.8l-.2 .2h-.8l-.2-.3h-.6l-.4 .1h-.8l-.2 .3h-.8l-.2-.3h-.8l-.2 .4h-.8l-.2-.4h-1.6l-.4 .1h-.6l-.4-.1h-.6l-.4 .1h-.6l-.4-.1h-.6l-.4 .1h-.8l-.2 .2h-.8l-.2-.3h-3.6l-.4-.1h-.6l-.4 .1h-.8l-.2 .2h-1.8l-.2-.2h-1.6l-.4-.1h-.8l-.2 .4h-.8l-.2-.3h-.6l-.4-.1h-.6l-.4 .1h-1.6l-.4-.1h-1.8l-.2 .4h-.6l-.4-.1h-1.6l-.4 .1h-.8l-.2-.3h-.8l-.2 .2h-.8l-.2-.3h-.6l-.4 .1h-.6l-.4-.1h-.6l-.4 .1h-.8l-.2 .3h-.8l-.2-.3h-.6l-.4-.1h-.8l-.2 .5h-.8l-.2-.5h-.6l-.4 .1h-1.8l-.2 .4h-.8l-.2-.5h-.6l-.4 .1h-.6l-.4-.1h-.8l-.2 .3h-.8l-.2-.2h-1.6l-.4-.1h-.6l-.4 .1h-.6l-.4 .1h-.6l-.4-.1h-.6l-.4-.1h-.8l-.2 .5h-.8l-.2-.4h-3.6l-.4 .1h-.8l-.2-.2h-1.8l-.2 .3h-1.8l-.2-.2h-.8l-.2 .3h-1.8l-.2-.4h-.6l-.4 .1h-.8l-.2 .3h-.6l-.4 .1h-.8l-.2-.4h-1.6l-.4-.1h-1.6l-.4 .1h-.6l-.4 .1h-.6l-.4-.1h-.8l-.2 .2h-.8l-.2-.2h-.6l-.4 .1h-.8l-.2-.2h-.8l-.2 .4h-.8l-.2-.2h-1.6l-.4-.1h-.6l-.4 .1h-.6l-.4-.1h-1.6l-.4-.1h-.8l-.2 .4h-.8l-.2-.4h-.8l-.2 .4h-.8l-.2-.4h-.6l-.4 .1h-2.8l-.2 .2h-.8l-.2 .2h-.6l-.4-.1h-.8l-.2-.3h-.6l-.4-.1h-.6l-.4 .1h-.6l-.4 .1h-.6l-.4-.1h-2.6l-.4-.1h-1.8l-.2 .2h-1.8l-.2-.2h-.6l-.4 .1h-1.6l-.4-.1h-.6l-.4 .1h-.6l-.4-.1h-.6l-.4 .1h-.8l-.2 .2h-.8l-.2 .2h-.6l-.4-.1h-.8l-.2-.4h-2.6l-.4 .1h-.8l-.2 .2h-.8l-.2-.2h-.6l-.4 .1h-.6l-.4-.1h-.6l-.4-.1h-.8l-.2 .5h-.8l-.2-.4h-.8l-.2 .3h-.8l-.2-.3h-.8l-.2 .2h-.8l-.2-.2h-.8l-.2 .3h-.6l-.4-.1h-.8l-.2-.3h-.6l-.4 .1h-1.6l-.4-.1h-.6l-.4 .1h-.6l-.4-.1h-.8l-.2 .3h-.6l-.4-.1h-.6l-.4-.1h-.6l-.4-.1h-.8l-.2 .4h-1.8l-.2-.2h-.8l-.2 .2h-.6l-.4 .1h-.8l-.2-.4h-1.6l-.4 .1h-.8l-.2-.2h-.8l-.2 .4h-.6l-.4-.1h-.8l-.2-.2h-1.8l-.2 .4h-.6l-.4-.1h-.8l-.2-.3h-1.6l-.4-.1h-.8l-.2 .2h-.6l-.4-.1h-1.8l-.2 .2h-.6l-.4 .1h-.8l-.2-.3h-1.8l-.2 .4h-.8l-.2-.4h-1.8l-.2 .2h-.6l-.4-.1h-.6l-.4-.1h-2.8l-.2 .4h-.8l-.2-.3h-3.8l-.2 .2h-.6l-.4 .1h-.8l-.2-.5h-.8l-.2 .2h-.6l-.4-.1h-2.8l-.2 .2h-.6l-.4-.1h-.6l-.4 .1h-.8l-.2-.2h-2.6l-.4 .1h-.6l-.4-.1h-.6l-.4-.1h-.6l-.4 .1h-.6l-.4-.1h-.8l-.2 .4h-.8l-.2-.3h-.6l-.4 .1h-.8l-.2 .2h-.8l-.2-.3h-2.8l-.2 .3h-.8l-.2-.3h-.8l-.2 .2h-.8l-.2-.3h-1.8l-.2 .3h-.8l-.2 .2h-.8l-.2-.5h-.6l-.4 .1h-.6l-.4-.1h-.8l-.2 .2h-.8l-.2-.2h-.6l-.4 .1h-.6l-.4-.1h-2.8l-.2 .5h-.8l-.2-.4h-.6l-.4-.1h-.6l-.4 .1h-1.8l-.2 .3h-.8l-.2-.4h-.6l-.4 .1h-.6l-.4-.1h-.8l-.2 .2h-.8l-.2-.2h-1.6l-.4 .1h-1.6l-.4 .1h-.6l-.4-.1h-.6l-.4-.1h-.8l-.2 .5h-.8l-.2-.4h-.6l-.4-.1h-.8l-.2 .3h-.8l-.2-.3h-.8l-.2 .4h-.8l-.2-.3h-1.8l-.2 .2h-.6l-.4-.1h-.8l-.2 .3h-.8l-.2-.5h-.8l-.2 .4h-.8l-.2-.2h-.6l-.4-.1h-.8l-.2 .2h-.8l-.2 .2h-.8l-.2-.4h-.8l-.2 .2h-.6l-.4-.1h-.8l-.2 .2h-.6l-.4-.1h-.6l-.4 .1h-4.6l-.4 .1h-.8l-.2-.5h-.6l-.4 .1h-.8l-.2 .3h-.8l-.2-.3h-.8l-.2 .2h-1.8l-.2-.2h-.6l-.4-.1h-.6l-.4 .1h-.8l-.2 .4h-1.8l-.2-.5h-.6l-.4 .1h-1.8l-.2 .2h-.8l-.2-.3h-.8l-.2 .2h-.6l-.4-.1h-.6l-.4-.1h-2.8l-.2 .3h-.6l-.4 .1h-.6l-.4-.1h-.8l-.2-.2h-1.8l-.2 .3h-.8l-.2-.4h-.6l-.4 .1h-.6l-.4-.1h-.8l-.2 .2h-.6l-.4-.1h-1.6l-.4 .1h-.8l-.2-.2h-4.8l-.2 .3h-.8l-.2-.3h-2.8l-.2 .4h-.8l-.2-.2h-.8l-.2-.2h-2.8l-.2 .5h-.8l-.2-.4h-.6l-.4-.1h-1.8l-.2 .2h-.8l-.2 .2h-.8l-.2-.3h-1.8l-.2 .2h-.6l-.4 .1h-1.8l-.2-.3h-.8l-.2 .3h-.6l-.4-.1h-1.6l-.4 .1h-1.8l-.2-.2h-.8l-.2 .3h-.8l-.2-.2h-.8l-.2-.2h-.6l-.4 .1h-.8l-.2-.2h-.6l-.4 .1h-2.6l-.4-.1h-3.6l-.4 .1h-.6l-.4-.1h-.8l-.2 .5h-2.8l-.2-.4h-.8l-.2 .4h-1.8l-.2-.5h-1.8l-.2 .5h-.8l-.2-.4h-.6l-.4-.1h-.6l-.4 .1h-1.8l-.2 .2h-.6l-.4 .1h-.8l-.2-.2h-.6l-.4-.1h-.6l-.4 .1h-.6l-.4-.1h-.8l-.2 .3h-.8l-.2-.4h-1.8l-.2 .5h-.8l-.2-.4h-.8l-.2 .2h-.8l-.2-.3h-.8l-.2 .5h-.8l-.2-.2h-.8l-.2-.3h-3.8l-.2 .2h-.8l-.2-.2h-.6l-.4 .1h-1.6l-.4-.1h-.6l-.4 .1h-.6l-.4 .1h-.6l-.4-.1h-.6l-.4-.1h-.8l-.2 .3h-.6l-.4-.1h-.8l-.2-.2h-.6l-.4 .1h-.8l-.2 .2h-.8l-.2 .2h-.8l-.2-.3h-.8l-.2-.2h-.6l-.4 .1h-.6l-.4 .1h-.6l-.4 .1h-.6l-.4 .1h-.8l-.2-.3h-.6l-.4-.1h-.6l-.4 .1h-.6l-.4-.1h-.6l-.4 .1h-2.6l-.4 .1h-.6l-.4-.1h-.6l-.4 .1h-.6l-.4-.1h-1.6l-.4 .1h-.8l-.2 .2h-1.8l-.2-.3h-4.8l-.2 .2h-.8l-.2-.3h-.8l-.2 .4h-.8l-.2-.4h-1.8l-.2 .3h-.8l-.2-.3h-.6l-.4 .1h-.6l-.4-.1h-.6l-.4 .1h-.8l-.2 .4h-.8l-.2-.4h-.6l-.4-.1h-.6l-.4 .1h-.6l-.4 .1h-.6l-.4-.1h-.8l-.2 .2h-.8l-.2-.2h-.6l-.4 .1h-1.8l-.2 .3h-.8l-.2-.4h-.6l-.4 .1h-.6l-.4-.1h-.6l-.4-.1h-.6l-.4 .1h-.6l-.4 .1h-.6l-.4-.1h-2.6l-.4 .1h-.8l-.2 .2h-.8l-.2-.3h-.6l-.4-.1h-.8l-.2 .4h-.8l-.2-.4h-.6l-.4 .1h-2.6l-.4-.1h-2.6l-.4 .1h-.6l-.4 .1h-1.6l-.4-.1h-1.6l-.4-.1h-.8l-.2 .5h-.8l-.2-.3h-.8l-.2-.2h-1.6l-.4 .1h-1.6l-.4 .1h-1.6l-.4-.1h-.6l-.4-.1h-1.8l-.2 .2h-.6l-.4 .1h-.8l-.2-.3h-.8l-.2 .3h-.8l-.2-.2h-4.8l-.2 .4h-.8l-.2-.2h-.6l-.4-.1h-.6l-.4-.1h-.6l-.4-.1h-.8l-.2 .3h-.8l-.2-.3h-.6l-.4 .1h-.8l-.2 .2h-.6l-.4-.1h-.8l-.2 .3h-.8l-.2-.4h-.8l-.2 .4h-.8l-.2-.4h-1.6l-.4 .1h-.8l-.2 .3h-.8l-.2-.4h-1.6l-.4-.1h-.8l-.2 .3h-.8l-.2-.2h-.6l-.4 .1h-.6l-.4-.1h-.6l-.4-.1h-.6l-.4 .1h-1.6l-.4-.1h-.6l-.4 .1h-1.6l-.4 .1h-.6l-.4-.1h-.6l-.4-.1h-.8l-.2 .4h-.8l-.2-.4h-.6l-.4 .1h-1.6l-.4 .1h-.6l-.4 .1h-.8l-.2-.2h-.8l-.2 .2h-.8l-.2-.3h-.6l-.4 .1h-.6l-.4-.1h-.6l-.4 .1h-.6l-.4 .1h-.6l-.4-.1h-.8l-.2 .2h-.8l-.2-.2h-.6l-.4 .1h-.8l-.2-.2h-.6l-.4 .1h-.6l-.4-.1h-1.8l-.2 .2h-.8l-.2 .3h-.8l-.2-.4h-.8l-.2 .4h-1.8l-.2-.3h-.8l-.2-.2h-1.6l-.4 .1h-1.6l-.4 .1h-.8l-.2-.2h-1.6l-.4 .1h-.6l-.4-.1h-.8l-.2 .2h-.8l-.2-.2h-.6l-.4 .1h-.6l-.4 .1h-.8z"/>
<path fill="#ff0000" d="M138 732.9h.8l.2 .2h2.8l.2-.2h.8l.2 .2h.8l.4-.1h.6l.4 .1h.6l.2-.2h1.8l.2 .2h.8l.4-.1h1.6l.4 .1h3.6l.4-.1h.6l.4 .1h.6l.4-.1h.6l.4 .1h.6l.4-.1h.6l.4 .1h1l.3-.5l.5-2h1l.5 2l.3 .4l.4 .1h.6l.2-.2h.8l.4 .1h1.6l.4 .1h1.6l.4-.1h1.6l.4 .1h1.6l.4-.1h1.6l.4-.1h1.6l.2 .2h3.8l.4-.1h1.6l.4 .1h.6l.4-.1h.6l.4 .1h3.6l.4-.1h1.6l.4-.1h.6l.2 .2h.8l.2-.2h.8l.2 .2h.8l.4-.1h.6l.4 .1h.6l.4-.1h.6l.4 .1h.6l.4-.1h1.6l.4 .1h1.6l.4-.1h.6l.4-.1h.6l.2 .2h5.8l.2-.2h.8l.4 .1h.6l.4 .1h.6l.4-.1h.6l.4 .1h4.6l.2-.2h.8l.4 .1h.6l.4-.1h1.6l.2 .2h2.8l.4-.1h.6l.4 .1h.6l.2-.2h.8l.2 .2h.8l.2-.2h.8l.2 .2h.8l.4-.1h.6l.4-.1h.6l.2 .2h.8l.4-.1h.6l.4 .1h1.6l.4-.1h.6l.4 .1h4.6l.4-.1h.6l.4 .1h.6l.4-.1h1.6l.4 .1h.6l.4-.1h.6l.4 .1h.6l.4-.1h.6l.4 .1h.6l.4-.1h.6l.4 .1h1.6l.4-.1h2.6l.4 .1h.6l.4-.1h2.6l.4-.1h1.6l.2 .2h.8l.4-.1h.6l.4 .1h1.6l.4-.1h.6l.4 .1h1.6l.2-.2h.8l.2 .2h.8l.2-.2h.8l.4 .1h.6l.4 .1h.6l.4-.1h.6l.4 .1h.6l.4-.1h1.6l.4 .1h.6l.4-.1h1.6l.4 .1h.6l.4-.1h.6l.4-.1h.6l.2 .2h.8l.4-.1h.6l.4 .1h.6l.2-.2h.8l.2 .2h.8l.4-.1h1.6l.4-.1h.6l.2 .2h.8l.2-.2h.8l.4 .1h1.6l.4 .1h.6l.4-.1h.6l.4 .1h1.6l.4-.1h1.6l.4 .1h.6l.4-.1h1.6l.4 .1h.6l.4-.1h.6l.4 .1h2.6l.4-.1h.6l.4 .1h2.6l.2-.3h.8l.2 .3h.8l.4-.1h.6l.4 .1h2.6l.4-.1h.6l.4 .1h1.6l.4-.1h.6l.4-.1h.6l.4 .1h.6l.4 .1h1.6l.4-.1h.6l.4 .1h1.6l.4-.1h.6l.4 .1h3.6l.4-.1h.6l.4-.1h.6l.4 .1h1.6l.4 .1h.6l.4-.1h.6l.4-.1h.6l.2 .2h1.8l.4-.1h1.6l.4 .1h1.6l.4-.1h.6l.4 .1h.6l.4-.1h.6l.4 .1h.6l.4-.1h1.6l.4 .1h.6l.4-.1h.6l.4 .1h3.6l.4-.1h.6l.4-.1h.6l.2 .2h.8l.4-.1h.6l.4-.1h1.6l.4 .1h.6l.4 .1h.6l.4-.1h.6l.4 .1h.6l.4-.1h1.6l.4-.1h.6l.2 .2h1.8l.4-.1h1.6l.4 .1h1.6l.2-.2h.8l.4 .1h.6l.4 .1h4.6l.2-.2h.8l.4 .1h.6l.4-.1h.6l.4 .1h.6l.4 .1h.6l.4-.1h1.6l.4 .1h1.6l.2-.2h1.8l.4 .1h.6l.4-.1h.6l.2 .2h3.8l.4-.1h.6l.4 .1h1.6l.4-.1h.6l.4-.1h.6l.2 .2h2.8l.2-.2h.8l.2 .2h1.8l.4-.1h.6l.4-.1h.6l.4 .1h2.6l.4 .1h.6l.4-.1h.6l.4 .1h.6l.4-.1h.6l.4-.1h.6l.2 .2h.8l.4-.1h.6l.2-.2h.8l.2 .2h.8l.4-.1h.6l.2 .2h.8l.2-.2h.8l.4 .1h.6l.4 .1h.6l.4-.1h2.6l.4 .1h2.6l.4-.1h.6l.4-.1h.6l.4 .1h.6l.4 .1h.6l.4-.1h.6l.4 .1h.6l.4-.1h3.6l.4-.1h.6l.4 .1h.6l.4 .1h3.6l.4-.1h.6l.4 .1h2.6l.4-.1h1.6l.4 .1h.6l.4-.1h.6l.4 .1h.6l.4-.1h1.6l.4 .1h.6l.4-.1h2.6l.4 .1h.6l.4-.1h.6l.4 .1h1.6l.2-.2h.8l.2 .2h1.8l.4-.1h.6l.4 .1h.6l.4-.1h.6l.4 .1h.6l.4-.1h1.6l.4 .1h1.6l.4-.1h.6l.4 .1h.6l.2-.2h.8l.4-.1h.6l.2 .3h1.8l.2-.2h.8l.4 .1h.6l.4 .1h2.6l.2-.2h.8l.4 .1h.6l.4 .1h1.6l.2-.2h.8l.2 .2h2.8l.4-.1h.6l.4 .1h.6l.4-.1h.6l.4 .1h4.6l.2-.2h.8l.2 .2h.8l.4-.1h.6l.4-.1h.6l.4 .1h1.6l.4 .1h.6l.4-.1h.6l.4 .1h1.6l.2-.2h1.8l.2 .2h1.8l.4-.1h.6l.4-.1h.6l.4 .1h4.6l.4 .1h5.6l.4-.1h.6l.4 .1h.6l.4-.1h.6l.4 .1h.6l.4-.1h.6l.4 .1h.6l.4-.1h.6l.4 .1h3.6l.4-.1h.6l.4 .1h1.6l.4-.1h.6l.4 .1h.6l.4-.1h.6l.4-.1h.6l.4 .1h.6l.4-.1h.6l.4 .1h1.6l.4 .1h5.6l.4-.1h.6l.4 .1h.6l.4-.1h.6l.4 .1h1.6l.2-.2h.8l.2 .2h.8l.4-.1h.6l.4 .1h4.6l.4-.1h.6l.4 .1h5.6l.4-.1h.6l.4 .1h.6l.2-.2h.8l.4 .1h.6l.4-.1h.6l.2 .2h.8l.4-.1h.6l.4-.1h.6l.4 .1h.6l.4 .1h1.6l.4-.1h1.6l.4 .1h4.6l.4-.1h.6l.4 .1h.6l.4-.1h.6l.4 .1h.6l.4-.1h.6l.4-.1h.6l.2 .2h3.8l.4-.1h.6l.4 .1h.6l.4-.1h.6l.4-.1h.6l.2 .2h.8l.4-.1h1.6l.4 .1h1.6l.4-.1h.6l.4-.1h.6l.2 .2h.8l.4-.1h.6l.4 .1h3.6l.4-.1h.6l.4 .1h3.6l.4-.1h.6l.4 .1h5.6l.4-.1h1.6l.4 .1h.6l.2-.2h1.8l.2 .2h5.8l.4-.1h.6l.4 .1h4.6l.4-.1h1.6l.4 .1h2.6l.2-.2h.8l.2 .2h1.8l.4-.1h.6l.4-.1h.6l.4 .1h2.6l.4 .1h.6l.4-.1h1.6l.4 .1h1.6l.4-.1h.6l.4 .1h.6l.2-.2h.8l.4 .1h.6l.4 .1h.6l.4-.1h.6l.4 .1h.6l.4-.1h1.6l.4 .1h.6l.2-.3h.8l.2 .3h5.8l.4-.1h3.6l.4-.1h1.6l.2 .2h.8l.4-.1h2.6l.4 .1h1.6l.4-.1h2.6l.4-.1h1.6l.2 .2h.8l.2-.2h.8l.4 .1h.6l.4-.1h.6l.2 .2h5.8l.4-.1h.6l.4-.1h.6l.4 .1h.6l.4 .1h.6l.4-.1h1.6l.2-.2h.8l.2 .3h.8l.4-.1h.6l.4 .1h1.6l.2-.2h.8l.2 .2h.8l.4-.1h2.6l.4 .1h.6l.2-.3h.8l.4 .1h.6l.2 .2h1.8l.4-.1h1.6l.4-.1h1.6l.4 .1h.6l.4 .1h3.6l.4-.1h.6l.4 .1h2.6l.2-.2h.8l.2 .2h.8l.4-.1h.6l.4 .1h.6l.4-.1h1.6l.4 .1h2.6l.4-.1h.6l.4 .1h.6l.2-.2h.8l.4 .1h1.6l.4 .1h2.6l.4-.1h1.6l.4-.1h.6l.4 .1h.6l.4 .1h.6l.2-.2h.8l.2 .2h.8l.4-.1h.6l.4-.1h.6l.2 .2h1.8l.2-.2h.8l.2 .2h3.8l.4-.1h2.6l.4 .1h1.6l.4-.1h.6l.4 .1h.6l.2-.2h1.8l.2 .2h1.8l.4-.1h.6l.4 .1h.6l.4-.1h1.6l.4-.1h1.6l.4 .1h.6l.4 .1h.6l.2-.2h.8l.2 .2h1.8l.4-.1h1.6l.4 .1h.6l.2-.2h1.8l.2 .2h.8l.4-.1h.6l.4 .1h2.6l.2-.2h.8l.2 .2h.8l.4-.1h.6l.4-.1h1.6l.2 .2h.8l.4-.1h3.6l.4 .1h1.6l.2-.2h.8l.2 .2h.8l.4-.1h.6l.4-.1h.6l.2 .2h.8l.4-.1h2.6l.4 .1h1.6l.2-.2h.8l.4 .1h.6l.4 .1h.6l.2-.2h.8l.2 .2h7.8l.4-.1h1.6l.4 .1h2.6l.4-.1h.6l.4 .1h.6l.2-.2h.8l.4 .1h.6l.4 .1h3.6l.2-.2h.8l.4 .1h.6l.4-.1h.6l.2 .2h.8l.2-.2h.8l.2 .2h1.8l.4-.1h.6l.4 .1h1.6l.2-.2h.8l.2 .2h.8l.4-.1h2.6l.4 .1h.6l.4-.1h3.6l.4-.1h.6l.4 .1h3.6l.4 .1h.6l.2-.2h.8l.4 .1h.6l.4 .1h1.6l.4-.1h.6l.4 .1h10.6l.2-.2h.8l.4 .1h.6l.4 .1h2.6l.4-.1h1.6l.4 .1h.6l.4-.1h1.6l.4 .1h2.6l.4-.1h.6l.4-.1h.6l.4 .1h1.6l.4 .1h1.6l.4-.1h.6l.4 .1h.6l.2-.2h.8l.2 .2h1.8l.4-.1h.6l.4-.1h2.6l.2 .2h.8l.4-.1h.6l.4-.1h1.6l.4 .1h.6l.4-.1h2.6l.4-.1h.6l.4 .1h.6l.2 .2h3.8l.2-.2h.8l.2 .2h.8l.4-.1h.6l.4 .1h.6l.4-.1h3.6l.4 .1h.6l.4-.1h.6l.4 .1h1.6l.4-.1h.6l.4 .1h.6l.4-.1h.6l.4 .1h.6l.2-.2h.8l.2 .2h.8l.4-.1h1.6l.4 .1h.6l.2-.2h1.8l.2 .2h1.8l.4-.1h1.6l.4-.1h.6l.2 .2h.8l.4-.1h1.6l.4-.1h.6l.2 .2h2.8l.4-.1h.6l.4 .1h.6l.4-.1h.6l.4 .1h.6l.4-.1h2.6l.4 .1h2.6l.2-.2h2.8l.2 .2h.8l.4-.1h.6l.4 .1h.6l.4-.1h1.6l.4-.1h.3v4.3h-1.5l-.2 .2h-.6l-.4-.1h-.6l-.4-.1h-10.6l-.4 .1h-.6l-.4-.1h-.8l-.2 .2h-.8l-.2-.2h-2.6l-.4 .1h-.6l-.4-.1h-2.6l-.4 .1h-.6l-.4 .1h-.6l-.4-.1h-.6l-.4 .1h-.8l-.2-.2h-1.6l-.4 .1h-.6l-.4 .1h-.8l-.2-.2h-2.6l-.4 .1h-.6l-.4-.1h-3.6l-.4 .1h-.6l-.4-.1h-.6l-.4 .1h-.6l-.4-.1h-1.6l-.4 .1h-.6l-.4-.1h-2.8l-.2 .2h-.6l-.4-.1h-.6l-.4-.1h-1.6l-.4 .1h-.6l-.4-.1h-.6l-.4 .1h-.6l-.4 .1h-.8l-.2-.2h-.6l-.4 .1h-1.6l-.4-.1h-3.8l-.2 .2h-.8l-.2-.2h-.8l-.2 .2h-.6l-.4-.1h-.6l-.4 .1h-.8l-.2-.2h-3.8l-.2 .2h-.8l-.2-.2h-3.6l-.4 .1h-1.6l-.4-.1h-.8l-.2 .2h-.8l-.2-.2h-12.6l-.4 .1h-.6l-.4-.1h-.6l-.4 .1h-.6l-.4-.1h-4.8l-.2 .2h-.8l-.2-.2h-11.6l-.4 .1h-.6l-.4-.1h-4.6l-.4 .1h-.6l-.4-.1h-4.8l-.2 .2h-.8l-.2-.2h-.8l-.2 .2h-.6l-.4-.1h-.6l-.4-.1h-.8l-.2 .2h-.8l-.2-.2h-1.6l-.4 .1h-.6l-.4-.1h-6.8l-.2 .2h-.8l-.2-.2h-.6l-.4 .1h-.6l-.4 .1h-.6l-.4-.1h-.6l-.4 .1h-.8l-.2-.2h-1.6l-.4 .1h-.6l-.4 .1h-1.8l-.2-.2h-1.6l-.4 .1h-1.6l-.4-.1h-1.6l-.4 .1h-.6l-.4 .1h-.8l-.2-.2h-1.6l-.4 .1h-.6l-.4-.1h-3.6l-.4 .1h-2.6l-.4-.1h-1.6l-.4 .1h-1.6l-.4-.1h-14.6l-.4 .1h-1.6l-.4-.1h-3.6l-.4 .1h-.6l-.4-.1h-.6l-.4 .1h-.6l-.4 .1h-.8l-.2-.2h-.8l-.2 .2h-.8l-.2-.2h-1.6l-.4 .1h-.6l-.4-.1h-1.6l-.4 .1h-.6l-.4-.1h-1.8l-.2 .2h-.6l-.4-.1h-1.6l-.4-.1h-.6l-.4 .1h-.6l-.4-.1h-.6l-.4 .1h-.6l-.4-.1h-2.6l-.4 .1h-.6l-.4 .1h-.6l-.4-.1h-.6l-.4-.1h-.8l-.2 .2h-.8l-.2-.2h-2.6l-.4 .1h-1.6l-.4 .1h-.8l-.2-.2h-1.6l-.4 .1h-.6l-.4-.1h-.6l-.4 .1h-.6l-.4-.1h-6.8l-.2 .2h-.6l-.4-.1h-.6l-.4-.1h-1.8l-.2 .2h-.8l-.2-.2h-.6l-.4 .1h-1.6l-.4-.1h-.6l-.4 .1h-2.6l-.4-.1h-.6l-.4 .1h-1.6l-.4-.1h-5.8l-.2 .2h-.6l-.4-.1h-.6l-.4-.1h-2.8l-.2 .2h-.8l-.2-.2h-.6l-.4 .1h-.6l-.4-.1h-.6l-.4 .1h-.6l-.4-.1h-1.6l-.4 .1h-.6l-.4-.1h-1.6l-.4 .1h-1.6l-.4-.1h-.8l-.2 .2h-.8l-.2-.2h-.6l-.4 .1h-1.6l-.4 .1h-.8l-.2-.2h-.6l-.4 .1h-.6l-.4 .1h-1.8l-.2-.2h-.6l-.4 .1h-.6l-.4-.1h-1.8l-.2 .2h-.8l-.2-.2h-2.6l-.4 .1h-.6l-.4-.1h-2.8l-.2 .2h-.8l-.2-.2h-1.8l-.2 .2h-.8l-.2-.2h-1.6l-.4 .1h-.6l-.4-.1h-.6l-.4 .1h-.6l-.4-.1h-8.6l-.4 .1h-1.6l-.4-.1h-.8l-.2 .2h-.8l-.2-.2h-.6l-.4 .1h-.6l-.4-.1h-.6l-.4 .1h-.6l-.4-.1h-11.6l-.4 .1h-.6l-.4-.1h-1.6l-.4 .1h-.6l-.4-.1h-2.6l-.4 .1h-.6l-.4-.1h-3.6l-.4 .1h-1.6l-.4-.1h-1.6l-.4 .1h-2.6l-.4-.1h-.6l-.4 .1h-.6l-.4-.1h-.8l-.2 .2h-.8l-.2-.2h-2.6l-.4 .1h-.6l-.4-.1h-1.6l-.4 .1h-1.6l-.4 .1h-.8l-.2-.2h-1.6l-.4 .1h-.6l-.4-.1h-3.6l-.4 .1h-.6l-.4-.1h-3.8l-.2 .2h-.6l-.4-.1h-.6l-.4-.1h-.6l-.4 .1h-.6l-.4 .1h-.8l-.2-.2h-3.8l-.2 .2h-.8l-.2-.2h-.8l-.2 .2h-.8l-.2-.2h-1.6l-.4 .1h-.6l-.4-.1h-2.8l-.2 .2h-.8l-.2-.2h-1.6l-.4 .1h-.6l-.4-.1h-1.6l-.4 .1h-.6l-.4-.1h-.6l-.4 .1h-.6l-.4-.1h-2.6l-.4 .1h-1.6l-.4-.1h-3.6l-.4 .1h-.6l-.4-.1h-.8l-.2 .2h-.8l-.2-.2h-2.6l-.4 .1h-.6l-.4-.1h-.6l-.4 .1h-.6l-.4-.1h-3.6l-.4 .1h-1.6l-.4-.1h-4.8l-.2 .2h-.8l-.2-.2h-.6l-.4 .1h-.6l-.4-.1h-1.8l-.2 .2h-.8l-.2-.2h-3.6l-.4 .1h-.6l-.4-.1h-1.8l-.2 .2h-.8l-.2-.2h-.6l-.4 .1h-.6l-.4-.1h-2.6l-.4 .1h-1.6l-.4 .1h-2.8l-.2-.2h-.8l-.2 .2h-.8l-.2-.2h-2.6l-.4 .1h-.6l-.4 .1h-.6l-.4-.1h-.6l-.4 .1h-.8l-.2-.2h-.6l-.4 .1h-1.6l-.4 .1h-.8l-.2-.2h-1.6l-.4 .1h-1.6l-.4-.1h-.6l-.4 .1h-.6l-.4-.1h-5.6l-.4 .1h-.6l-.4-.1h-6.6l-.4 .1h-1.6l-.4-.1h-1.6l-.4 .1h-.6l-.4 .1h-.8l-.2-.2h-5.6l-.4 .1h-.6l-.4-.1h-1.6l-.4 .1h-.6l-.4-.1h-2.6l-.4 .1h-2.6l-.4-.1h-2.8l-.2 .2h-.8l-.2-.2h-1.6l-.4 .1h-.6l-.4-.1h-1.8l-.2 .2h-.8l-.2-.2h-.6l-.4 .1h-.6l-.4-.1h-2.8l-.2 .2h-.8l-.2-.2h-.6l-.4 .1h-.6l-.4-.1h-2.6l-.4 .1h-.6l-.4-.1h-.6l-.4 .1h-.6l-.4-.1h-.6l-.4 .1h-3.6l-.4 .1h-.8l-.2-.2h-1.6l-.4 .1h-.6l-.4-.1h-.6l-.4 .1h-.6l-.4 .1h-.8l-.2-.2h-6.6l-.4 .1h-1.6l-.4-.1h-3.6l-.4 .1h-.6l-.4-.1h-1.6l-.4 .1h-.6l-.4-.1h-4.6l-.4 .1h-.6l-.4-.1h-6.6l-.4 .1h-1.6l-.4-.1h-2.6l-.4 .1h-.6l-.4-.1h-1.6l-.4 .1h-.6l-.4-.1h-.6l-.4 .1h-.6l-.4-.1h-2.8l-.2 .2h-1.6l-.4-.1h-1.6l-.4-.1h-1.6l-.4 .1h-.6l-.4-.1h-1.6l-.4 .1h-.6l-.4 .1h-.8l-.2-.2h-.6l-.4 .1h-.6l-.4-.1h-.6l-.4 .1h-.6l-.4 .1h-.8l-.2-.2h-8.6l-.4 .1h-2.6l-.4 .1h-.8l-.2-.2h-4.6l-.4 .1h-1.6l-.4 .1h-.8l-.2-.2h-.6l-.4 .1h-.6l-.4-.1h-4.6l-.4 .1h-.6l-.4-.1h-1.8l-.2 .2h-.8l-.2-.2h-1.6l-.4 .1h-.6l-.4-.1h-1.8l-.2 .2h-.6l-.4-.1h-1.6l-.4 .1h-.8l-.2-.2h-.8l-.2 .2h-.8l-.2-.2h-.8l-.2 .2h-.8l-.2-.2h-4.8l-.2 .2h-.8l-.2-.2h-2.8l-.2 .2h-.8l-.2-.2h-.6l-.4 .1h-1.6l-.4-.1h-4.8l-.2 .2h-.8l-.2-.2h-1.6l-.4 .1h-.6l-.4-.1h-2.8l-.2 .2h-.8l-.2-.2h-.8l-.2 .2h-.6l-.4-.1h-.6l-.4-.1h-.8l-.2 .2h-1.6l-.4-.1h-2.6l-.4-.1h-.8l-.2 .2h-.8l-.2-.2h-.6l-.4 .1h-1.6l-.4-.1h-1.8l-.2 .2h-.6l-.4-.1h-.6l-.4-.1h-1.6l-.4 .1h-.6l-.4-.1h-1.6l-.4 .1h-.6l-.4-.1h-4.6l-.4 .1h-.6l-.4-.1h-2.8l-.2 .2h-.8l-.2-.2h-1.8l-.2 .2h-.8l-.2-.2h-.6l-.4 .1h-.6l-.4-.1h-4.6l-.4 .1h-.6l-.4 .1h-.8l-.2-.2h-4.8l-.2 .2h-.8l-.2-.2h-3.6l-.4 .1h-.6l-.4-.1h-2.6l-.4 .1h-.6l-.4 .1h-.8l-.2-.2h-1.8l-.2 .2h-.8l-.2-.2h-.6l-.4 .1h-2.6l-.4 .1h-.8l-.2-.2h-5.6l-.4 .1h-.6l-.4-.1h-1.6l-.4 .1h-.6l-.4-.1h-4.8l-.2 .2h-.8l-.2-.2h-.6l-.4 .1h-.6l-.4-.1h-1.6l-.4 .1h-.6l-.4-.1h-2.6l-.4 .1h-.6l-.4-.1h-2.8l-.2 .2h-.6l-.4-.1h-.6l-.4-.1h-2.8l-.2 .2h-.8l-.2-.2h-1.8l-.2 .2h-.8l-.2-.2h-.8l-.2 .2h-.6l-.4-.1h-1.6l-.4-.1h-1.6l-.4 .1h-.6l-.4-.1h-.8l-.2 .2h-.8l-.2-.2h-2.6l-.4 .1h-1.6l-.4-.1h-1.6l-.4 .1h-1.6l-.4-.1h-.6l-.4 .1h-.6l-.4-.1h-1.6l-.4 .1h-.6l-.4-.1h-1.6l-.4 .1h-.6l-.4-.1h-1.6l-.4 .1h-1.6l-.4-.1h-1.6l-.4 .1h-.6l-.4-.1h-2.6l-.4 .1h-.6l-.4-.1h-1.6l-.4 .1h-1.6l-.4-.1h-6.6l-.4 .1h-.6l-.4-.1h-.6l-.4 .1h-1.6l-.4-.1l-.3 .7l-.5 2.2h-1l-.5-2.2l-.3-.6l-.4-.1h-1.8l-.2 .2h-.6l-.4-.1h-.6l-.4 .1h-.8l-.2-.2h-6.6l-.4 .1h-1.6l-.4 .1h-.8l-.2-.2h-1.6l-.4 .1h-2.6l-.4-.1h-1.6l-.4 .1h-.8z"/>
<path fill="#0000ff" d="M138 765h.8l.2-.2h.8l.4 .1h.6l.4 .1h3.6l.4-.1h1.6l.4-.1h.6l.4 .1h.6l.4 .1h.6l.4-.1h.6l.2-.4h.8l.4 .1h.6l.2 .3h.8l.4 .1h.6l.2-.3h.8l.4 .1h.6l.2 .2h1.8l.2-.2h.8l.4-.1h.6l.2 .3h.8l.2-.2h.8l.2-.3h.8l.2 .4h.8l.2-.2h.8l.2 .2h.8l.2-.4h.8l.2 .4h1.8l.4 .1h1.6l.2-.3h.8l.2 .3h1.8l.4-.1h2.6l.4 .1h.6l.2-.5h.8l.2 .5h.8l.2-.3h.8l.2-.2h.8l.2 .5h.8l.2-.3h1.8l.2 .3h.8l.4-.1h.6l.4-.1h.6l.2-.2h.8l.2 .3h.8l.2-.3h.8l.4 .1h.6l.2 .2h1.8l.2-.3h.8l.2 .3h.8l.2-.2h.8l.4 .1h.6l.2 .2h.8l.2-.4h.8l.4 .1h.6l.2 .3h1.8l.4-.1h.6l.4 .1h.6l.2-.4h.8l.2 .4h1.8l.2-.5h.8l.2 .2h.8l.2 .3h.8l.2-.3h.8l.2 .2h.8l.4 .1h3.6l.4-.1h.6l.2-.2h1.8l.2 .3h.8l.2-.2h.8l.4 .1h1.6l.2-.3h.8l.4-.1h1.6l.2 .3h.8l.2-.3h1.8l.2 .3h.8l.4 .1h.6l.4 .1h1.6l.2-.3h.8l.2 .3h1.8l.2-.2h.8l.2-.3h.8l.2 .4h.8l.4 .1h.6l.2-.2h1.8l.4-.1h.6l.2 .3h1.8l.2-.2h.8l.2 .2h.8l.4-.1h.6l.2-.3h.8l.2 .3h2.8l.2-.2h.8l.2 .3h1.8l.4-.1h.6l.2-.2h.8l.2 .3h.8l.4-.1h.6l.4 .1h1.6l.2-.2h.8l.4 .1h.6l.4-.1h.6l.2-.3h.8l.2 .4h.8l.2-.2h.8l.2 .2h.8l.4-.1h1.6l.4 .1h.6l.4 .1h1.6l.4-.1h1.6l.2-.2h.8l.2 .2h2.8l.4 .1h6.6l.2-.3h.8l.2 .2h1.8l.4 .1h1.6l.2-.3h.8l.4-.1h.6l.2 .3h2.8l.4 .1h.6l.4-.1h1.6l.4 .1h.6l.4-.1h.6l.4 .1h.6l.2-.5h.8l.2 .3h.8l.2 .2h1.8l.4-.1h.6l.4 .1h.6l.2-.3h.8l.2-.2h.8l.2 .4h1.8l.4-.1h.6l.2 .2h1.8l.4-.1h1.6l.2-.2h.8l.2 .3h.8l.2-.4h.8l.2 .4h.8l.2-.2h1.8l.4-.1h.6l.4 .1h.6l.4 .1h.6l.2-.3h1.8l.4-.1h.6l.2 .4h.8l.4-.1h.6l.2 .2h1.8l.4-.1h.6l.2-.2h.8l.2 .3h1.8l.2-.2h.8l.4 .1h.6l.2-.2h.8l.4 .1h.6l.2 .2h2.8l.4-.1h1.6l.4 .1h1.6l.2-.4h.8l.2 .4h.8l.2-.5h.8l.2 .4h.8l.4-.1h1.6l.2 .2h2.8l.2-.4h.8l.2 .4h.8l.4-.1h.6l.2-.4h.8l.2 .3h.8l.2 .2h.8l.4-.1h.6l.4-.1h.6l.4-.1h1.6l.2 .2h.8l.4 .1h.6l.2-.3h.8l.2 .3h.8l.4-.1h.6l.4 .1h1.6l.2-.4h.8l.2 .3h1.8l.2-.2h.8l.2 .3h.8l.4-.1h.8l.8-.3l.2 .1l.5-.1h1l.7 .3h2.6l.4 .1h.6l.2-.5h.8l.2 .4h.8l.4-.1h1.6l.2-.3h.8l.2 .3h.8l.2 .2h.8l.2-.5h.8l.2 .2h.8l.4-.1h.6l.2 .4h1.8l.4-.1h.6l.2-.3h.8l.2 .4h.8l.2-.3h.8l.2 .2h1.8l.4 .1h.6l.2-.2h.8l.2 .2h.8l.2-.2h2.8l.2 .2h.8l.4-.1h.6l.2-.3h.8l.2 .3h.8l.4-.1h1.6l.2 .2h2.8l.2-.2h.8l.4 .1h1.6l.2-.3h.8l.2 .3h.8l.4-.1h.6l.2 .2h3.8l.4-.1h.6l.2-.3h.8l.2 .3h.8l.2-.3h.8l.2 .4h.8l.2-.4h.8l.2 .4h.8l.4-.1h.6l.4 .1h.6l.2-.4h.8l.2 .4h.8l.4-.1h.6l.2-.3h.8l.2 .4h.8l.2-.4h.8l.2 .4h.8l.4-.1h.6l.2-.2h.8l.2 .3h.8l.2-.4h.8l.2 .4h.8l.2-.4h.8l.2 .4h4.8l.4-.1h1.6l.2-.3h.8l.2 .3h.8l.4 .1h.6l.4-.1h.6l.4 .1h.6l.2-.2h.8l.4 .1h.6l.4 .1h.6l.4-.1h.6l.4 .1h.6l.2-.2h.8l.2 .2h1.8l.4-.1h1.6l.4-.1h.6l.2 .2h1.8l.4-.1h.6l.4 .1h1.6l.4-.1h.6l.4 .1h.6l.2-.2h.8l.2 .2h.8l.2-.2h1.8l.4 .1h.6l.4 .1h.6l.4-.1h.6l.2-.4h.8l.2 .5h.8l.4-.1h2.6l.2-.3h.8l.2 .4h.8l.2-.3h.8l.2 .2h.8l.4 .1h.6l.2-.3h1.8l.2 .2h.8l.4 .1h.6l.2-.2h.8l.4-.1h.6l.2 .3h.8l.2-.3h.8l.2 .2h.8l.4-.1h.6l.2-.2h.8l.2 .4h.8l.4-.1h.6l.2-.4h.8l.2 .5h.8l.4-.1h.6l.4 .1h2.6l.4-.1h.6l.4-.1h.6l.4 .1h.6l.2-.2h.8l.4 .1h.6l.4-.1h.6l.2 .3h.8l.2-.3h1.8l.2 .2h.8l.2-.4h.8l.4 .1h.6l.2 .2h.8l.4 .1h.6l.4-.1h.6l.2 .2h.8l.4-.1h1.6l.4 .1h2.6l.4-.1h.6l.2-.3h.8l.4 .1h.6l.2-.2h.8l.2 .4h.8l.4 .1h.6l.4-.1h.6l.2-.4h.8l.2 .3h.8l.2 .2h.8l.4-.1h2.6l.4 .1h.6l.2-.2h.8l.4 .1h1.6l.4 .1h.6l.2-.4h.8l.2 .3h.8l.4 .1h.6l.4-.1h1.6l.4 .1h.6l.4-.1h1.6l.4 .1h1.6l.2-.3h.8l.4 .1h.6l.2-.2h.8l.2 .2h.8l.4-.1h1.6l.2 .2h.8l.4 .1h.6l.2-.2h.8l.2 .2h1.8l.2-.4h.8l.2 .3h.8l.4 .1h.6l.2-.2h.8l.4-.1h.6l.2 .3h.8l.2-.3h1.8l.4 .1h.6l.4 .1h.6l.2-.3h.8l.2 .4h.8l.4-.1h.6l.2-.2h.8l.2 .2h.8l.4 .1h.6l.2-.5h.8l.2 .2h.8l.4 .1h.6l.4-.1h.6l.2-.2h.8l.2 .5h.8l.2-.3h.8l.2 .2h.8l.4-.1h.6l.2-.2h.8l.2 .4h.8l.4-.1h.6l.2-.2h.8l.2 .3h1.8l.2-.2h.8l.2 .2h.8l.2-.3h.8l.2 .3h.8l.4-.1h.6l.4 .1h.6l.2-.4h.8l.2 .3h2.8l.2-.3h.8l.2 .3h2.8l.2-.4h.8l.2 .2h.8l.2 .2h.8l.4 .1h2.6l.2-.3h1.8l.2-.2h.8l.2 .5h.8l.2-.3h.8l.2 .3h.8l.2-.5h.8l.2 .2h.8l.2 .3h1.8l.2-.4h.8l.2 .4h.8l.2-.4h1.8l.2 .3h.8l.4-.1h.6l.4-.1h.6l.2 .2h.8l.2-.2h.8l.4 .1h1.6l.4-.1h.6l.2 .3h2.8l.2-.2h.8l.2 .2h.8l.2-.2h.8l.4 .1h.6l.4 .1h.6l.4-.1h.6l.4-.1h.6l.2 .2h3.8l.2-.2h.8l.2 .2h5.8l.4-.1h.6l.2-.3h.8l.2 .3h1.8l.4 .1h2.6l.4-.1h.6l.2-.3h.8l.2 .4h4.8l.2-.3h.8l.4-.1h.6l.2 .4h.8l.4-.1h1.6l.2-.4h.8l.2 .4h.8l.4 .1h2.6l.2-.2h.8l.4 .1h.6l.4-.1h1.6l.4 .1h.6l.4 .1h1.6l.2-.2h.8l.4-.1h.6l.2 .3h2.8l.2-.4h.8l.2 .3h.8l.4 .1h.6l.2-.2h.8l.2 .2h.8l.2-.2h.8l.2 .2h1.8l.4-.1h.6l.4 .1h.6l.2-.4h.8l.4 .1h.6l.2 .3h.8l.2-.4h1.8l.2 .4h.8l.4-.1h.6l.4 .1h1.6l.2-.4h.8l.2 .3h1.8l.2-.2h.8l.2 .3h1.8l.4-.1h.6l.2-.2h.8l.4-.1h.6l.2 .3h.8l.4 .1h.6l.2-.3h.8l.4 .1h.6l.4 .1h1.6l.4 .1h3.6l.2-.5h.8l.2 .3h.8l.2 .2h1.8l.2-.3h.8l.2 .3h.8l.2-.2h.8l.4-.1h.6l.2 .3h.8l.2-.2h.8l.4 .1h.6l.4-.1h.6l.4 .1h.6l.4 .1h1.6l.2-.5h.8l.2 .2h.8l.2 .3h.8l.4-.1h.6l.4 .1h.6l.4-.1h.6l.4 .1h.6l.2-.2h.8l.2 .2h.8l.2-.2h.8l.2 .2h1.8l.4-.1h.6l.2-.3h.8l.2 .4h.8l.2-.2h.8l.2 .2h.8l.2-.2h.8l.4 .1h.6l.4 .1h.6l.2-.2h.8l.2-.2h.8l.2 .4h1.8l.2-.5h.8l.2 .4h1.8l.4 .1h.6l.2-.4h.8l.2 .3h2.8l.4 .1h3.6l.4-.1h.6l.2-.3h.8l.4 .1h.6l.2 .2h1.8l.4 .1h.6l.4-.1h.6l.2-.2h.8l.2 .3h.8l.2-.2h.8l.2-.2h.8l.2 .3h.8l.2-.4h.8l.2 .2h.8l.2 .2h.8l.4 .1h1.6l.2-.2h.8l.2 .2h2.8l.2-.2h.8l.4 .1h2.6l.4 .1h.6l.2-.3h.8l.2 .3h.8l.2-.2h.8l.2 .2h1.8l.2-.4h.8l.2 .4h.8l.2-.4h1.8l.4 .1h.6l.4-.1h.6l.2 .4h2.8l.2-.4h.8l.2 .4h.8l.2-.2h.8l.2 .2h4.8l.2-.2h.8l.4-.1h.6l.4 .1h.6l.2 .2h.8l.4-.1h.6l.4 .1h.6l.2-.4h.8l.2 .3h.8l.2-.2h.8l.2 .3h.8l.4-.1h.6l.2-.2h.8l.2 .2h.8l.4 .1h.6l.2-.2h.8l.4 .1h.6l.4 .1h1.6l.2-.2h.8l.4 .1h.6l.4 .1h1.6l.4-.1h.6l.2-.3h.8l.2 .3h.8l.4-.1h.6l.2-.2h.8l.4 .1h.6l.2 .3h.8l.2-.2h.8l.2 .2h.8l.2-.3h.8l.2 .3h1.8l.2-.5h.8l.2 .5h1.8l.2-.3h.8l.4 .1h.6l.4-.1h.6l.2 .3h.8l.2-.4h.8l.2 .4h.8l.2-.3h.8l.4-.1h1.6l.2 .4h.8l.2-.4h.8l.2 .4h.8l.2-.3h.8l.2 .2h1.8l.4 .1h2.6l.2-.5h.8l.2 .4h.8l.4-.1h.6l.2 .2h.8l.2-.3h.8l.2 .3h.8l.4-.1h4.6l.4 .1h.6l.2-.3h.8l.4-.1h.6l.2 .2h.8l.4 .1h1.6l.2-.3h.8l.2 .3h.8l.4 .1h.6l.2-.4h.8l.4 .1h.6l.2 .3h.8l.2-.5h.8l.4 .1h.6l.2 .4h.8l.2-.5h.8l.2 .4h.8l.4 .1h.6l.2-.2h1.8l.4 .1h.6l.4 .1h.6l.2-.3h.8l.2 .3h.8l.2-.3h.8l.4-.1h1.6l.2 .4h.8l.4-.1h.6l.2-.4h.8l.4 .1h.6l.2 .2h.8l.4 .1h.6l.4 .1h1.6l.4-.1h.6l.2-.4h.8l.2 .3h.8l.2-.2h.8l.2 .3h.8l.2-.2h.8l.2 .3h.8l.2-.2h.8l.4 .1h.6l.2-.2h.8l.4-.1h.6l.2 .4h1.8l.4-.1h.6l.4 .1h.6l.2-.2h.8l.4 .1h.6l.2-.4h2.8l.2 .3h.8l.4 .1h.6l.4 .1h1.6l.4-.1h.6l.4 .1h.6l.2-.2h.8l.4 .1h.6l.4-.1h.6l.2-.2h.8l.2 .4h.8l.4-.1h.6l.4 .1h1.6l.4-.1h.6l.2-.4h.8l.2 .4h.8l.4-.1h.6l.4 .1h.6l.2-.3h.8l.2 .3h.8l.2-.4h.8l.2 .2h.8l.2 .2h1.8l.4 .1h.6l.4-.1h.6l.4 .1h.6l.2-.4h.8l.4 .1h.6l.2 .2h1.8l.2-.2h.8l.4 .1h.6l.4 .1h.6l.4 .1h.6l.2-.5h.8l.2 .4h1.8l.4 .1h1.6l.4-.1h.6l.2-.4h.8l.2 .4h1.5v3.5h-1.5l-.2 .3h-.8l-.2-.2h-.8l-.2 .3h-.8l-.2-.4h-1.8l-.2 .3h-.8l-.2-.3h-.8l-.2 .2h-.8l-.2 .3h-.8l-.2-.5h-.8l-.2 .4h-.8l-.2-.3h-.6l-.4-.1h-.8l-.2 .4h-.8l-.2-.2h-.8l-.2-.2h-1.6l-.4 .1h-.6l-.4 .1h-.8l-.2-.2h-6.6l-.4 .1h-.6l-.4-.1h-3.8l-.2 .2h-.8l-.2-.2h-3.8l-.2 .2h-.8l-.2 .3h-.8l-.2-.5h-1.6l-.4 .1h-.6l-.4-.1h-1.8l-.2 .4h-.8l-.2-.3h-.6l-.4-.1h-3.8l-.2 .4h-.8l-.2-.4h-.8l-.2 .3h-1.6l-.4 .1h-.8l-.2-.3h-.6l-.4-.1h-.8l-.2 .4h-.8l-.2-.3h-.8l-.2 .2h-1.8l-.2-.3h-.6l-.4 .1h-.6l-.4-.1h-2.8l-.2 .3h-.8l-.2-.3h-1.8l-.2 .4h-.8l-.2-.4h-.6l-.4 .1h-.8l-.2 .3h-.8l-.2-.4h-.6l-.4 .1h-.6l-.4-.1h-.8l-.2 .3h-.6l-.4 .1h-.8l-.2-.4h-4.6l-.4 .1h-.8l-.2 .4h-.8l-.2-.5h-1.6l-.4 .1h-1.6l-.4 .1h-.8l-.2-.2h-.6l-.4 .1h-.8l-.2 .2h-.6l-.4-.1h-.8l-.2-.2h-.6l-.4 .1h-1.6l-.4-.1h-1.6l-.4 .1h-.6l-.4-.1h-2.8l-.2 .2h-.8l-.2-.2h-1.8l-.2 .3h-1.8l-.2-.3h-.6l-.4 .1h-.6l-.4-.1h-2.8l-.2 .4h-.8l-.2-.4h-.8l-.2 .3h-.8l-.2-.2h-1.8l-.2 .2h-.6l-.4-.1h-.8l-.2-.2h-4.8l-.2 .3h-.8l-.2-.3h-5.8l-.2 .3h-.6l-.4-.1h-.8l-.2-.2h-.8l-.2 .2h-.8l-.2-.2h-1.8l-.2 .3h-1.8l-.2-.3h-1.8l-.2 .2h-1.8l-.2-.2h-.8l-.2 .3h-.8l-.2-.3h-.8l-.2 .5h-.8l-.2-.3h-.8l-.2-.2h-.6l-.4 .1h-1.6l-.4-.1h-.8l-.2 .2h-.6l-.4 .1h-.8l-.2-.3h-5.6l-.4 .1h-.8l-.2 .2h-.8l-.2-.3h-2.6l-.4 .1h-.8l-.2 .3h-.8l-.2-.3h-.6l-.4-.1h-2.8l-.2 .3h-.8l-.2-.2h-1.6l-.4-.1h-1.6l-.4 .1h-.6l-.4-.1h-3.8l-.2 .3h-.8l-.2-.3h-2.6l-.4 .1h-.6l-.4 .1h-.8l-.2 .2h-1.8l-.2-.4h-.6l-.4 .1h-.6l-.4-.1h-4.8l-.2 .4h-.8l-.2-.4h-.8l-.2 .4h-.8l-.2-.3h-2.6l-.4-.1h-.6l-.4 .1h-.6l-.4-.1h-.6l-.4 .1h-.6l-.4-.1h-.6l-.4 .1h-.8l-.2 .2h-.8l-.2-.2h-.6l-.4 .1h-1.8l-.2-.2h-1.8l-.2 .3h-.8l-.2-.3h-.8l-.2 .4h-.8l-.2-.3h-1.8l-.2 .2h-.8l-.2-.3h-.8l-.2 .5h-.8l-.2-.5h-2.8l-.2 .4h-.8l-.2-.3h-.6l-.4-.1h-3.8l-.2 .5h-.8l-.2-.4h-.6l-.4-.1h-1.6l-.4 .1h-.6l-.4-.1h-1.8l-.2 .2h-.8l-.2-.2h-5.6l-.4 .1h-.6l-.4-.1h-2.6l-.4 .1h-.6l-.4-.1h-3.6l-.4 .1h-.6l-.4-.1h-4.8l-.2 .5h-.8l-.2-.2h-2.8l-.2-.3h-.6l-.4 .1h-.8l-.2 .4h-.6l-.4-.1h-.8l-.2-.2h-.8l-.2-.2h-2.8l-.2 .5h-.8l-.2-.5h-.6l-.4 .1h-.8l-.2 .2h-.8l-.2-.3h-1.8l-.2 .3h-1.8l-.2-.3h-3.6l-.4 .1h-.6l-.4-.1h-.8l-.2 .2h-1.6l-.4 .1h-.8l-.2-.3h-4.8l-.2 .2h-.8l-.2-.2h-.6l-.4 .1h-.6l-.4-.1h-3.8l-.2 .2h-.8l-.2 .2h-.8l-.2-.4h-3.8l-.2 .3h-.6l-.4 .1h-.8l-.2-.4h-.6l-.4 .1h-1.6l-.4 .1h-.8l-.2-.2h-.8l-.2 .4h-.8l-.2-.3h-1.6l-.4-.1h-.6l-.4 .1h-.6l-.4-.1h-.6l-.4 .1h-.8l-.2 .3h-.8l-.2-.3h-.6l-.4 .1h-.6l-.4 .1h-.8l-.2-.3h-1.6l-.4 .1h-.6l-.4-.1h-.6l-.4 .1h-1.6l-.4-.1h-.8l-.2 .4h-.8l-.2-.4h-2.6l-.4 .1h-1.6l-.4-.1h-1.8l-.2 .4h-.8l-.2-.4h-1.6l-.4 .1h-.6l-.4-.1h-.6l-.4 .1h-.6l-.4-.1h-.8l-.2 .2h-.8l-.2-.2h-.8l-.2 .4h-.8l-.2-.3h-.6l-.4-.1h-.8l-.2 .3h-.8l-.2-.3h-.8l-.2 .3h-.8l-.2-.2h-1.6l-.4 .1h-1.6l-.4-.1h-.6l-.4-.1h-.8l-.2 .4h-1.8l-.2-.4h-1.8l-.2 .4h-.8l-.2-.4h-.8l-.2 .4h-.8l-.2-.4h-.6l-.4 .1h-.6l-.4-.1h-.6l-.4 .1h-.6l-.4-.1h-3.8l-.2 .2h-.8l-.2-.2h-4.6l-.4 .1h-.6l-.4-.1h-1.8l-.2 .3h-.6l-.4-.1h-.8l-.2-.2h-6.6l-.4 .1h-.6l-.4-.1h-2.8l-.2 .2h-.8l-.2-.2h-.8l-.2 .2h-.8l-.2-.2h-.8l-.2 .5h-.8l-.2-.2h-.6l-.4 .1h-.8l-.2-.4h-2.6l-.4 .1h-.6l-.4-.1h-3.8l-.2 .2h-.8l-.2-.2h-1.6l-.4 .1h-.8l-.2 .2h-1.8l-.2-.3h-7.8l-.2 .3h-.8l-.2-.2h-.6l-.4-.1h-.6l-.4 .1h-1.6l-.4-.1h-.8l-.2 .2h-.6l-.4 .1h-.8l-.2-.2h-.6l-.4-.1h-.6l-.4 .1h-.6l-.4-.1h-5.8l-.2 .2h-.8l-.2-.2h-3.8l-.2 .2h-.8l-.2-.2h-1.6l-.4 .1h-.6l-.4-.1h-1.8l-.2 .2h-.8l-.2-.2h-2.8l-.2 .3h-.8l-.2-.3h-1.8l-.2 .2h-.8l-.2-.2h-2.8l-.2 .3h-.8l-.2-.3h-.6l-.4 .1h-.6l-.4 .1h-.8l-.2-.2h-.6l-.4 .1h-.8l-.2 .2h-.6l-.4 .1h-.8l-.2-.4h-2.8l-.2 .3h-.8l-.2-.3h-3.8l-.2 .2h-.8l-.2-.2h-1.8l-.2 .5h-.8l-.2-.3h-.8l-.2-.2h-.6l-.4 .1h-.6l-.4-.1h-1.6l-.4 .1h-2.6l-.4-.1h-.6l-.4 .1h-1.6l-.4-.1h-.8l-.2 .2h-1.8l-.2-.2h-5.8l-.2 .4h-.8l-.2-.4h-.8l-.2 .3h-.8l-.2-.2h-.6l-.4-.1h-.8l-.2 .4h-.8l-.2-.4h-5.8l-.2 .3h-.8l-.2-.3h-3.6l-.4 .1h-3.8l-.2 .3h-.8l-.2-.4h-.8l-.2 .2h-.8l-.2-.2h-1.8l-.2 .4h-.8l-.2-.3h-.8l-.2 .2h-.8l-.2-.3h-.8l-.2 .2h-.8l-.2-.2h-.8l-.2 .3h-.8l-.2-.2h-.6l-.4-.1h-.8l-.2 .4h-.8l-.2-.4h-1.6l-.4 .1h-.8l-.2 .4h-.8l-.2-.2h-.8l-.2-.3h-1.6l-.4 .1h-.6l-.4-.1h-.6l-.4 .1h-1.6l-.4-.1h-.6l-.4 .1h-.6l-.4-.1h-.8l-.2 .2h-.8l-.2-.2h-.8l-.2 .3h-.8l-.2-.2h-.6l-.4-.1h-2.8l-.2 .2h-.6l-.4-.1h-.6l-.4-.1h-.6l-.4 .1h-.6l-.4-.1h-2.8l-.2 .3h-.6l-.4-.1h-1.8l-.2-.2h-.6l-.4 .1h-1.8l-.2 .2h-.8l-.2-.2h-.6l-.4-.1h-1.8l-.2 .3h-.8l-.2-.3h-1.8l-.2 .3h-.6l-.4-.1h-.8l-.2-.2h-.8l-.2 .3h-1.8l-.2-.3h-5.6l-.4 .1h-.8l-.2 .2h-.8l-.2-.3h-.8l-.2 .2h-.8l-.2 .3h-.8l-.2-.3h-.6l-.4-.1h-.6l-.4-.1h-.6l-.4 .1h-.8l-.2 .2h-.8l-.2-.3h-.8l-.2 .2h-.8l-.2-.2h-.8l-.2 .2h-.8l-.2-.2h-1.6l-.4 .1h-.6l-.4-.1h-.8l-.2 .2h-.8l-.2-.2h-1.6l-.4 .1h-.6l-.4-.1h-.6l-.4 .1h-.6l-.4-.1h-1.8l-.2 .3h-.6l-.4-.1h-.8l-.2-.2h-1.6l-.4 .1h-.6l-.4-.1h-.8l-.2 .3h-.8l-1-.1l-.2-.2h-.6l-.4 .1h-.6l-.4-.1h-1.6l-.4 .1h-1.6l-.4-.1h-2.6l-.4 .1h-.6l-.4-.1h-2.8l-.2 .2h-.8l-.2-.2h-.6l-.4 .1h-3.6l-.4-.1h-1.8l-.2 .2h-.8l-.2-.2h-3.8l-.2 .5h-.8l-.2-.2h-.8l-.2-.2h-.6l-.4-.1h-1.8l-.2 .3h-.8l-.2-.3h-4.8l-.2 .2h-.8l-.2-.2h-1.8l-.2 .4h-.8l-.2-.2h-.6l-.4 .1h-.8l-.2-.3h-.6l-.4 .1h-.8l-.2 .2h-1.8l-.2-.3h-.8l-.2 .2h-.8l-.2-.2h-.8l-.2 .3h-.8l-.2-.3h-.8l-.2 .3h-.8l-.2-.2h-1.8l-.2 .3h-.8l-.2-.4h-1.8l-.2 .5h-.8l-.2-.5h-.6l-.4 .1h-.6l-.4-.1h-.8l-.2 .3h-.8l-.2-.3h-1.6l-.4 .1h-.6l-.4-.1h-.8l-.2 .3h-.8l-.2-.3h-1.8l-.2 .4h-.8l-.2-.3h-.6l-.4-.1h-3.8l-.2 .2h-.8l-.2-.2h-1.6l-.4 .1h-.6l-.4-.1h-.8l-.2 .4h-.8l-.2-.3h-.6l-.4-.1h-3.6l-.4 .1h-.8l-.2 .3h-.8l-.2-.4h-4.8l-.2 .2h-.6l-.4-.1h-.6l-.4-.1h-.8l-.2 .2h-.8l-.2 .2h-.8l-.2-.4h-.8l-.2 .4h-.8l-.2-.4h-.8l-.2 .2h-.8l-.2-.2h-1.8l-.2 .2h-.8l-.2-.2h-.8l-.2 .3h-.6l-.4-.1h-.6l-.4-.1h-.6l-.4-.1h-2.6l-.4 .1h-.6l-.4-.1h-5.6l-.4 .1h-.8l-.2 .3h-.8l-.2-.4h-4.6l-.4 .1h-.6l-.4-.1h-2.8l-.2 .3h-.8l-.2-.3h-1.8l-.2 .5h-.8l-.2-.5h-3.8l-.2 .4h-.8l-.2-.3h-.6l-.4-.1h-1.8l-.2 .3h-.8l-.2-.3h-2.8l-.2 .2h-1.6l-.4 .1h-.8l-.2 .2h-.8l-.2-.5h-.8l-.2 .3h-.8l-.2-.3h-1.8l-.2 .2h-1.8l-.2-.2h-4.8l-.2 .2h-.6l-.4 .1h-.6l-.4-.1h-.6l-.4-.1h-.6l-.4 .1h-.8l-.2-.2h-1.8l-.2 .5h-.8l-.2-.4h-.6l-.4-.1h-3.8l-.2 .2h-.8l-.2-.2h-.8l-.2 .2h-.8l-.2-.2h-3.8l-.2 .3h-.8l-.2-.3h-.8l-.2 .3h-.6l-.4 .1h-.6l-.4-.1h-.8l-.2-.2h-.8l-.2 .2h-.8l-.2-.3h-.6l-.4 .1h-.6l-.4-.1h-.8l-.2 .3h-.8l-.2-.3h-1.6l-.4 .1h-.6l-.4-.1h-.6l-.4 .1h-.6l-.4-.1h-2.6l-.4 .1h-.6l-.4-.1h-1.8l-.2 .5h-.8l-.2-.5h-1.6l-.4 .1h-.6l-.4-.1h-.6l-.4 .1h-.6l-.4 .1h-.8l-.2-.2h-4.8l-.2 .3h-.8l-.2-.3h-.6l-.4 .1h-.6l-.4 .1h-1.6l-.4-.1h-.6l-.4-.1h-.8l-.2 .3h-.6l-.4-.1h-.8l-.2-.2h-1.8l-.2 .2h-.8l-.2-.2h-3.8l-.2 .4h-1.8l-.2-.4h-.6l-.4 .1h-.6l-.4-.1h-1.8l-.2 .3h-.8l-.2-.3h-.8l-.2 .3h-.8l-.2-.3h-.8l-.2 .4h-.8l-.2-.4h-1.8z"/>
<path fill="#008000" d="M138 796.3h.8l.2-.2h.8l.2 .3h.8l.2-.2h.8l.2 .2h.8l.4-.1h.6l.4 .1h1.6l.2-.4h.8l.2 .4h.8l.4-.1h1.6l.4 .1h.6l.2-.3h.8l.2 .2h7.8l.4 .1h3.6l.4-.1h.6l.2-.2h.8l.2 .2h.8l.4 .1h1.6l.2-.4h.8l.2 .2h.8l.4 .1h1.6l.4 .1h.6l.4-.1h2.6l.4 .1h.6l.4-.1h.6l.4 .1h.6l.4-.1h.6l.2-.2h.8l.2 .3h.8l.4-.1h.6l.4 .1h.6l.4-.1h.6l.4 .1h.6l.2-.2h1.8l.4 .1h.6l.2-.3h.8l.2 .4h.8l.4-.1h.6l.2-.2h.8l.2 .3h.8l.4-.1h.6l.4-.1h.6l.4 .1h.6l.4 .1h1.6l.2-.2h.8l.2 .2h.8l.2-.2h.8l.4 .1h.6l.4 .1h.6l.4-.1h.6l.4-.1h.6l.2 .2h.8l.2-.2h.8l.4 .1h1.6l.2-.3h.8l.2 .2h1.8l.2 .2h.8l.2-.2h.8l.2 .2h.8l.2-.2h.8l.4 .1h1.6l.2-.2h.8l.4-.1h.6l.2 .4h1.8l.2-.3h1.8l.2 .2h.8l.4 .1h.6l.4-.1h.6l.4 .1h4.6l.2-.2h.8l.4 .1h.6l.2-.2h.8l.4 .1h.6l.2 .2h1.8l.4-.1h.6l.4-.1h.6l.2 .2h.8l.2-.2h.8l.4 .1h.6l.2-.2h.8l.2 .2h.8l.4 .1h.6l.4-.1h.6l.4-.1h.6l.4-.1h.6l.2 .2h.8l.2-.2h.8l.2 .2h.8l.2-.2h.8l.4 .1h.6l.4 .1h1.6l.4-.1h.6l.4-.1h.6l.4 .1h.6l.4 .1h1.6l.4 .1h.6l.4-.1h1.6l.2-.2h1.8l.2 .2h.8l.4-.1h.6l.4 .1h1.6l.4-.1h.6l.4 .1h.6l.4 .1h.6l.2-.3h.8l.2 .3h1.8l.4-.1h1.6l.4 .1h.6l.2-.3h1.8l.2 .3h2.8l.2-.4h.8l.2 .4h1.8l.2-.2h.8l.4 .1h.6l.4 .1h1.6l.4-.1h.6l.2-.2h.8l.4 .1h.6l.4 .1h.6l.4 .1h.6l.2-.2h.8l.2 .2h.8l.4-.1h.6l.4 .1h1.6l.2-.2h.8l.2 .2h2.8l.4-.1h.6l.4 .1h.6l.4-.1h.6l.2-.3h.8l.2 .4h1.8l.2-.2h.8l.2-.2h.8l.2 .4h2.8l.4-.1h.6l.2-.3h.8l.2 .2h.8l.4-.1h.6l.2 .3h1.8l.2-.2h.8l.2 .2h.8l.4-.1h.6l.4 .1h.6l.4-.1h.6l.4 .1h.6l.2-.2h.8l.4 .1h.6l.4-.1h.6l.2 .2h.8l.4-.1h3.6l.4 .1h1.6l.4-.1h.6l.4 .1h.6l.2-.2h.8l.2-.2h.8l.2 .4h.8l.2-.2h.8l.4-.1h.6l.2 .3h1.8l.4-.1h1.6l.4 .1h.6l.2-.2h.8l.2 .2h3.8l.2-.2h1.8l.2-.2h.8l.2 .2h.8l.4-.1h.6l.4 .1h.6l.4-.1h.6l.2 .2h.8l.2-.3h.8l.2 .3h.8l.4 .1h.6l.4-.1h2.6l.4 .1h.6l.2-.2h.8l.4 .1h.6l.4 .1h.6l.2-.2h.8l.4 .1h.6l.4 .1h2.6l.4-.1h3.6l.2-.3h.8l.4 .1h.6l.2 .3h3.8l.2-.3h.8l.2 .3h1.8l.2-.2h.8l.4-.1h.6l.2 .3h.8l.4-.1h2.6l.4 .1h1.6l.4-.1h1.6l.4 .1h.6l.2-.2h.8l.4 .1h.6l.4 .1h1.6l.2-.2h.8l.4 .1h.6l.2-.2h1.8l.2 .2h3.8l.4-.1h.6l.2-.2h1.8l.2 .4h1.8l.2-.3h1.8l.4 .1h.6l.4-.1h.6l.2 .2h.8l.4 .1h.6l.2-.4h.8l.2 .3h4.8l.4-.1h.6l.2 .2h.8l.2-.4h.8l.2 .4h2.8l.4-.1h.6l.4-.1h.6l.2-.2h.8l.2 .4h.8l.4-.1h.6l.2-.3h.8l.2 .3h3.8l.4-.1h.6l.2 .2h3.8l.2-.2h.8l.4 .1h2.6l.4 .1h.6l.2-.2h1.8l.2-.2h.8l.2 .3h.8l.4 .1h.6l.2-.2h.8l.2 .2h.8l.4-.1h.6l.4-.1h.6l.4 .1h.6l.4-.1h.6l.2 .2h1.8l.2-.2h.8l.2 .2h.8l.4-.1h.6l.4 .1h.6l.2-.3h.8l.2 .3h.8l.2-.3h.8l.2 .3h.8l.2-.2h.8l.4 .1h.6l.2-.2h.8l.2 .2h.8l.4-.1h.6l.4 .1h.6l.4 .1h.6l.4-.1h1.6l.4-.1h.6l.2 .2h3.8l.2-.4h.8l.2 .3h.8l.4-.1h.6l.2-.2h.8l.2 .4h.8l.4-.1h.6l.4 .1h.6l.2-.2h.8l.2 .2h.8l.2-.2h.8l.4 .1h1.6l.4 .1h.6l.2-.3h.8l.2 .3h1.8l.2-.2h.8l.4-.1h.6l.4 .1h.6l.2 .2h1.8l.4-.1h1.6l.4 .1h1.6l.2-.2h.8l.4-.1h.6l.2 .3h.8l.2-.2h.8l.2-.2h.8l.2 .4h.8l.4-.1h.6l.4 .1h1.6l.2-.3h.8l.4 .1h.6l.2 .2h.8l.2-.4h.8l.4 .1h.6l.4 .1h.6l.2 .2h.8l.2-.3h.8l.2 .3h2.8l.2-.3h.8l.2 .2h1.8l.4-.1h1.6l.2 .2h.8l.4-.1h.6l.4 .1h2.6l.2-.4h.8l.2 .2h1.8l.2 .2h1.8l.2-.2h1.8l.2 .2h3.8l.4-.1h.6l.4 .1h2.6l.2-.3h.8l.4 .1h.6l.2 .2h1.8l.2-.3h.8l.2 .3h.8l.4-.1h.6l.4 .1h.6l.4-.1h.6l.4 .1h.6l.2-.2h.8l.2 .2h.8l.4-.1h.6l.4 .1h.6l.2-.4h.8l.2 .2h.8l.2 .2h1.8l.2-.3h.8l.2 .3h.8l.4-.1h.6l.4 .1h1.6l.4-.1h.6l.2-.2h.8l.2 .2h2.8l.4 .1h1.6l.4-.1h2.6l.4-.1h.6l.4-.1h.6l.2 .2h.8l.4 .1h.6l.2-.4h.8l.2 .4h.8l.4-.1h.6l.4 .1h1.6l.4-.1h4.6l.4 .1h.6l.2-.4h.8l.2 .4h1.8l.2-.3h.8l.2 .3h.8l.4-.1h.6l.4 .1h.6l.4-.1h.6l.4 .1h.6l.4-.1h.6l.4 .1h.6l.4-.1h2.6l.2-.3h.8l.4 .1h.6l.2 .3h.8l.2-.4h.8l.2 .4h.8l.2-.2h.8l.2 .2h.8l.4-.1h2.6l.2-.2h.8l.4 .1h1.6l.4 .1h2.6l.4 .1h3.6l.2-.2h1.8l.4-.1h.6l.2 .2h.8l.4 .1h.6l.4-.1h.6l.4 .1h1.6l.2-.4h.8l.2 .3h.8l.2-.2h.8l.4-.1h.6l.2 .4h.8l.4-.1h2.6l.4 .1h.6l.2-.3h.8l.4-.1h.6l.2 .3h.8l.4 .1h.6l.2-.2h.8l.2 .2h.8l.2-.4h.8l.2 .3h4.8l.2-.2h.8l.2 .2h1.8l.4-.1h1.6l.2 .2h.8l.2-.3h.8l.2 .2h1.8l.2-.3h.8l.2 .4h.8l.2-.2h.8l.2 .2h.8l.2-.2h.8l.2-.2h.8l.2 .3h1.8l.4 .1h.6l.4-.1h.6l.4-.1h.6l.2 .2h.8l.2-.2h.8l.4 .1h.6l.4 .1h1.6l.4-.1h1.6l.2-.2h.8l.2 .3h2.8l.4-.1h.6l.4-.1h.6l.2 .2h.8l.2-.4h.8l.2 .3h.8l.4 .1h.6l.2-.2h1.8l.2 .2h.8l.4-.1h.6l.4 .1h.6l.4-.1h.6l.4 .1h.6l.2-.3h1.8l.4 .1h.6l.4-.1h1.6l.2 .2h1.8l.4-.1h.6l.2 .2h1.8l.2-.2h.8l.2 .2h.8l.4-.1h.6l.4 .1h1.6l.2-.3h.8l.2 .3h.8l.4-.1h2.6l.4 .1h.6l.2-.3h.8l.2 .3h.8l.2-.2h.8l.4-.1h1.6l.2 .3h.8l.2-.4h.8l.2 .4h.8l.2-.3h1.8l.2 .2h1.8l.4 .1h.6l.2-.2h.8l.2 .2h.8l.2-.3h1.8l.2 .2h1.8l.4 .1h2.6l.4-.1h.6l.4 .1h.6l.2-.2h.8l.4 .1h3.6l.4-.1h.6l.4 .1h1.6l.4 .1h1.6l.2-.3h.8l.2 .3h.8l.2-.2h.8l.4 .1h.6l.4 .1h1.6l.2-.2h.8l.2 .2h.8l.2-.2h.8l.2 .2h1.8l.4-.1h.6l.4 .1h2.6l.2-.2h.8l.4 .1h.6l.4-.1h.6l.4 .1h3.6l.2-.3h.8l.2 .3h2.8l.2-.2h1.8l.2 .2h.8l.2-.3h.8l.2 .3h2.8l.4-.1h1.6l.2 .2h.8l.2-.3h.8l.4 .1h.6l.2 .2h2.8l.2-.2h.8l.4 .1h.6l.4 .1h.6l.2-.4h.8l.4 .1h1.6l.4-.1h.6l.2 .3h2.8l.4 .1h.6l.2-.3h.8l.2 .2h.8l.2-.3h.8l.4 .1h.6l.2 .2h.8l.4 .1h.6l.4-.1h1.6l.4-.1h.6l.4 .1h.6l.4 .1h.6l.2-.4h.8l.2 .4h1.8l.2-.3h.8l.4-.1h.6l.2 .4h1.8l.4-.1h.6l.4 .1h.6l.4-.1h.6l.2-.2h.8l.2 .3h4.8l.2-.3h.8l.4 .1h.6l.2 .2h.8l.4-.1h.6l.4 .1h.6l.2-.3h.8l.2 .2h.8l.4 .1h4.6l.4-.1h.6l.4 .1h.6l.4-.1h.6l.4-.1h.6l.2 .2h1.8l.2-.3h.8l.4 .1h.6l.2-.2h.8l.2 .4h1.8l.2-.4h.8l.2 .4h.8l.2-.2h1.8l.2 .2h.8l.2-.2h.8l.4 .1h.6l.4 .1h1.6l.4-.1h.6l.4-.1h.6l.4 .1h.6l.4 .1h1.6l.4-.1h.6l.4-.1h.6l.4-.1h.6l.2 .3h.8l.2-.3h1.8l.2 .2h.8l.4-.1h.6l.2-.2h.8l.2 .3h1.8l.4 .1h1.6l.2-.2h.8l.2 .2h.8l.2-.2h.8l.2 .2h2.8l.2-.3h1.8l.2 .3h.8l.4-.1h.6l.2-.2h.8l.2 .2h.8l.2-.3h.8l.4 .1h.6l.4 .1h.6l.4 .1h.6l.4-.1h.6l.2 .2h.8l.2-.4h.8l.4 .1h.6l.4-.1h.6l.2 .4h.8l.4-.1h.6l.4 .1h.6l.2-.4h.8l.2 .2h.8l.2 .2h1.8l.4-.1h.6l.4 .1h.6l.2-.3h.8l.2 .3h1.8l.2-.3h.8l.4-.1h.6l.2 .4h.8l.4-.1h.6l.2-.2h.8l.4-.1h.6l.2 .4h.8l.4-.1h.6l.2-.2h.8l.4 .1h.6l.4 .1h2.6l.4-.1h.6l.4-.1h.6l.4 .1h.6l.2 .2h.8l.2-.3h.8l.2 .3h.8l.2-.4h.8l.2 .4h2.8l.4-.1h.6l.4 .1h.6l.4-.1h.6l.4-.1h.6l.2 .2h1.8l.2-.2h.8l.4 .1h.6l.4-.1h1.6l.4-.1h.6l.2 .2l.5-.1h1.3l.4-.1h.6l.4 .1l.6-.1h1l.4-.1h3.6l.4-.1h.6l.4 .1h1.6l.4-.1h1.6l.4-.1l1.3-.1h.3l.2 .2h.8l.2-.2h.8l.2-.2h.8l.4 .1h.6l.2 .2l.8-.1l.4 .1h.6l.2-.2h1.8l.4 .1h3.6l.4-.1h3.6l.2-.2h.8l.2 .2l.5-.1h.3l.2-.3h.8l.4 .1l.6-.1l.2 .2h.8l.4-.1h.6l.4 .1h.6l.2-.3h.8l.2 .3h.8l.2-.2h.8l.4 .1h.3v3.8h-.3l-.4 .1h-.8l-.2 .2h-.8l-.2-.3h-.6l-.4 .1h-1.8l-.2 .3h-.8l-.2-.3h-1.8l-.5 .1h-1.5l-.2 .2l-.6 .1l-.4-.1h-.8l-.2-.2h-.8l-.2 .4l-.8 .1l-.2-.4h-1l-.6 .1h-3l-.4 .1h-.6l-.4 .1h-.6l-.4-.1h-2.6l-.4 .1h-1.3l-1-.1l-.5 .1h-4l-.2 .2h-.6l-.4-.1h-1.6l-.4 .1h-.6l-.4-.1h-.8l-.2 .2h-.8l-.2 .2h-.8l-.2-.3h-.6l-.4 .1h-.6l-.4-.1h-.6l-.4 .1h-2.8l-.2 .2h-.6l-.4-.1h-1.8l-.2 .3h-.8l-.2-.3h-5.8l-.2 .4h-.8l-.2-.4h-2.8l-.2 .2h-.8l-.2-.2h-.8l-.2 .2h-2.8l-.2-.2h-1.8l-.2 .3h-.6l-.4-.1h-.8l-.2-.2h-2.8l-.2 .2h-.6l-.4 .1h-.8l-.2-.2h-.6l-.4-.1h-.8l-.2 .3h-.8l-.2-.2h-.6l-.4-.1h-.6l-.4 .1h-.6l-.4 .1h-1.6l-.4 .1h-1.8l-.2-.3h-5.6l-.4 .1h-.6l-.4-.1h-1.6l-.4 .1h-.6l-.4-.1h-2.8l-.2 .2h-.8l-.2-.2h-2.6l-.4 .1h-1.6l-.4-.1h-.8l-.2 .2h-.8l-.2-.2h-.6l-.4 .1h-.6l-.4-.1h-2.6l-.4 .1h-.6l-.4 .1h-.8l-.2-.2h-2.8l-.2 .3h-.8l-.2-.3h-.8l-.2 .2h-.6l-.4 .1h-.8l-.2-.3h-8.8l-.2 .3h-.8l-.2-.3h-.6l-.4 .1h-.8l-.2 .3h-.8l-.2-.4h-.6l-.4 .1h-1.6l-.4-.1h-.6l-.4 .1h-.6l-.4-.1h-.6l-.4 .1h-.8l-.2 .2h-1.8l-.2-.3h-2.6l-.4 .1h-.6l-.4-.1h-4.8l-.2 .3h-.8l-.2-.3h-1.8l-.2 .2h-1.8l-.2-.2h-2.6l-.4 .1h-.6l-.4-.1h-4.6l-.4 .1h-.6l-.4 .1h-.8l-.2 .2h-.8l-.2-.4h-.8l-.2 .3h-1.8l-.2-.3h-6.8l-.2 .2h-.6l-.4-.1h-.6l-.4-.1h-.6l-.4 .1h-.6l-.4-.1h-2.6l-.4 .1h-.6l-.4-.1h-3.8l-.2 .3h-.8l-.2-.3h-2.6l-.4 .1h-.6l-.4-.1h-3.6l-.4 .1h-.6l-.4 .1h-.8l-.2-.2h-2.6l-.4 .1h-.6l-.4-.1h-.6l-.4 .1h-.6l-.4-.1h-.6l-.4 .1h-.6l-.4 .1h-.8l-.2-.2h-1.8l-.2 .3h-.8l-.2-.2h-.6l-.4 .1h-.8l-.2-.2h-1.6l-.4 .1h-1.6l-.4 .1h-.8l-.2-.2h-.6l-.4 .1h-.6l-.4-.1h-1.8l-.2 .2h-.8l-.2-.2h-2.8l-.2 .2h-1.8l-.2-.2h-.8l-.2 .3h-.8l-.2-.2h-.6l-.4-.1h-3.6l-.4 .1h-1.6l-.4-.1h-.6l-.4 .1h-1.6l-.4-.1h-.6l-.4 .1h-.6l-.4-.1h-1.6l-.4 .1h-.6l-.4 .1h-.8l-.2-.2h-.6l-.4 .1h-.6l-.4-.1h-.8l-.2 .2h-.8l-.2-.2h-1.8l-.2 .2h-.8l-.2-.2h-.6l-.4 .1h-.6l-.4 .1h-.8l-.2-.2h-2.6l-.4 .1h-.6l-.4-.1h-7.8l-.2 .2h-.8l-.2-.2h-3.6l-.4 .1h-.6l-.4-.1h-.8l-.2 .2h-.8l-.2-.2h-2.8l-.2 .2h-.6l-.4 .1h-.8l-.2-.2h-.6l-.4-.1h-4.6l-.4 .1h-.8l-.2 .3h-.8l-.2-.4h-3.6l-.4 .1h-.6l-.4-.1h-2.6l-.4 .1h-.6l-.4-.1h-.6l-.4 .1h-.6l-.4-.1h-1.8l-.2 .3h-.8l-.2-.3h-.6l-.4 .1h-.6l-.4-.1h-.8l-.2 .3h-.8l-.2-.3h-7.6l-.4 .1h-.6l-.4-.1h-2.8l-.2 .2h-.6l-.4-.1h-.6l-.4-.1h-.8l-.2 .3h-.8l-.2-.3h-.6l-.4 .1h-.6l-.4 .1h-.8l-.2-.2h-.8l-.2 .2h-.8l-.2-.2h-6.8l-.2 .3h-.8l-.2-.2h-.6l-.4 .1h-.6l-.4-.1h-.6l-.4-.1h-1.6l-.4 .1h-.6l-.4 .1h-.8l-.2-.2h-6.8l-.2 .2h-.8l-.2-.2h-.8l-.2 .2h-.6l-.4-.1h-.6l-.4-.1h-1.8l-.2 .2h-.8l-.2-.2h-3.8l-.2 .2h-.8l-.2-.2h-.6l-.4 .1h-5.6l-.4-.1h-1.8l-.2 .2h-.8l-.2 .2h-.6l-.4-.1h-.8l-.2-.3h-4.8l-.2 .2h-1.8l-.2-.2h-1.8l-.2 .2h-.8l-.2-.2h-5.6l-.4 .1h-.8l-.2 .2h-.8l-.2-.2h-1.6l-.4-.1h-2.8l-.2 .3h-.8l-.2-.3h-.6l-.4 .1h-.6l-.4-.1h-.6l-.4 .1h-.6l-.4-.1h-.6l-.4 .1h-.8l-.2 .2h-.8l-.2-.2h-.6l-.4-.1h-2.8l-.2 .2h-.6l-.4 .1h-.8l-.2-.3h-3.8l-.2 .3h-.8l-.2-.2h-.6l-.4-.1h-3.8l-.2 .3h-.8l-.2-.3h-.6l-.4 .1h-.6l-.4-.1h-3.6l-.4 .1h-.6l-.4-.1h-1.8l-.2 .3h-.8l-.2-.3h-.6l-.4 .1h-.6l-.4-.1h-1.8l-.2 .3h-.8l-.2-.3h-2.8l-.2 .2h-.6l-.4-.1h-.6l-.4-.1h-.6l-.4 .1h-1.6l-.4-.1h-7.8l-.2 .3h-.8l-.2-.3h-1.6l-.4 .1h-1.6l-.4-.1h-.8l-.2 .2h-.8l-.2-.2h-2.6l-.4 .1h-2.8l-.2 .2h-.8l-.2-.3h-.8l-.2 .3h-1.8l-.2-.3h-.8l-.2 .4h-.6l-.4-.1h-.8l-.2-.3h-1.8l-.2 .2h-.8l-.2-.2h-6.8l-.2 .2h-.8l-.2-.2h-.6l-.4 .1h-.6l-.4-.1h-2.8l-.2 .3h-.8l-.2-.2h-.6l-.4 .1h-.8l-.2-.2h-1.8l-.2 .2h-.8l-.2-.2h-1.6l-.4 .1h-.8l-.2 .2h-.8l-.2-.3h-.8l-.2 .2h-.6l-.4 .1h-.8l-.2-.3h-2.6l-.4 .1h-.6l-.4-.1h-1.8l-.2 .2h-.6l-.4 .1h-2.8l-.2-.3h-.6l-.4 .1h-.6l-.4-.1h-.6l-.4 .1h-2.6l-.4-.1h-1.8l-.2 .3h-.8l-.2-.3h-1.8l-.2 .2h-.6l-.4-.1h-.6l-.4-.1h-5.6l-.4 .1h-.8l-.2 .2h-.8l-.2-.2h-.6l-.4-.1h-1.8l-.2 .2h-.6l-.4-.1h-.6l-.4-.1h-5.8l-.2 .3h-.8l-.2-.2h-1.6l-.4-.1h-1.8l-.2 .3h-.8l-.2-.3h-1.8l-.2 .3h-.8l-.2-.3h-.6l-.4 .1h-2.6l-.4-.1h-.8l-.2 .2h-.6l-.4 .1h-.8l-.2-.3h-.8l-.2 .3h-.8l-.2-.3h-1.8l-.2 .3h-3.8l-.2-.2h-.6l-.4-.1h-3.8l-.2 .2h-.6l-.4-.1h-.6l-.4-.1h-10.8l-.2 .4h-.8l-.2-.2h-.8l-.2-.2h-.6l-.4 .1h-1.8l-.2 .2h-.8l-.2-.3h-2.8l-.2 .3h-.6l-.4-.1h-.8l-.2-.2h-.8l-.2 .3h-.8l-.2-.3h-3.8l-.2 .2h-.6l-.4-.1h-.6l-.4-.1h-1.6l-.4 .1h-.6l-.4-.1h-.6l-.4 .1h-.6l-.4-.1h-2.8l-.2 .2h-.6l-.4 .1h-.8l-.2-.3h-1.8l-.2 .3h-.8l-.2-.3h-.8l-.2 .3h-.8l-.2-.2h-2.6l-.4 .1h-.8l-.2-.2h-.8l-.2 .3h-.8l-.2-.3h-1.8l-.2 .3h-.8l-.2-.3h-1.8l-.2 .2h-2.8l-.2-.2h-1.8l-.2 .3h-.8l-.2-.3h-1.8l-.2 .2h-.8l-.2-.2h-.6l-.4 .1h-.6l-.4-.1h-1.8l-.2 .3h-.8l-.2-.2h-.6l-.4 .1h-.8l-.2-.2h-1.6l-.4 .1h-.6l-.4-.1h-3.6l-.4 .1h-.6l-.4 .1h-.8l-.2-.2h-.8l-.2 .3h-.8l-.2-.3h-1.8l-.2 .3h-.8l-.2-.3h-.8l-.2 .3h-.8l-.2-.3h-1.8l-.2 .2h-.8l-.2-.2h-1.6l-.4 .1h-.6l-.4-.1h-.6l-.4 .1h-.8l-.2 .2h-.8l-.2-.2h-1.6l-.4-.1h-2.6l-.4 .1h-.6l-.4-.1h-.6l-.4 .1h-.6l-.4-.1h-.8l-.2 .3h-.8l-.2-.3h-1.8l-.2 .3h-.8l-.2-.3h-.6l-.4 .1h-1.6l-.4-.1h-1.6l-.4 .1h-.6l-.4-.1h-4.8l-.2 .2h-.6l-.4-.1h-.6l-.4-.1h-.8l-.2 .4h-.8l-.2-.4h-1.6l-.4 .1h-.6l-.4-.1h-.6l-.4 .1h-.8l-.2 .2h-1.8l-.2-.3h-1.6l-.4 .1h-.6l-.4-.1h-.8l-.2 .2h-.8l-.2-.2h-3.8l-.2 .4h-.8l-.2-.2h-.8l-.2-.2h-1.8l-.2 .2h-.8l-.2-.2h-2.6l-.4 .1h-.6l-.4-.1h-4.6l-.4 .1h-.6l-.4-.1h-.8l-.2 .4h-.8l-.2-.4h-.6l-.4 .1h-.8l-.2 .2h-.8l-.2-.3h-2.8l-.2 .2h-.6l-.4-.1h-.6l-.4-.1h-2.6l-.4 .1h-.6l-.4-.1h-2.8l-.2 .2h-.8l-.2-.2h-3.6l-.4 .1h-.6l-.4-.1h-.8l-.2 .2h-.8l-.2-.2h-.8l-.2 .2h-.8l-.2-.2h-1.6l-.4 .1h-.6l-.4-.1h-1.8l-.2 .3h-.8l-.2-.3h-4.6l-.4 .1h-.6l-.4 .1h-1.6l-.4 .1h-.8l-.2-.3h-5.6l-.4 .1h-.6l-.4-.1h-.8l-.2 .2h-.8l-.2-.2h-.6l-.4 .1h-1.6l-.4-.1h-.6l-.4 .1h-.6l-.4-.1h-.6l-.4 .1h-.6l-.4-.1h-1.8l-.2 .2h-.6l-.4-.1h-.6l-.4-.1h-1.6l-.4 .1h-.6l-.4-.1h-5.8l-.2 .4h-.8l-.2-.2h-.6l-.4-.1h-.6l-.4-.1h-1.6l-.4 .1h-.6l-.4-.1h-4.6l-.4 .1h-.6l-.4-.1h-.8l-.2 .2h-.8l-.2-.2h-1.6l-.4 .1h-1.6l-.4-.1h-1.8l-.2 .2h-.8l-.2-.2h-2.6l-.4 .1h-.8l-.2 .2h-.8l-.2-.3h-.6l-.4 .1h-.6l-.4-.1h-2.8l-.2 .3h-.8l-.2-.2h-.6l-.4-.1h-1.8l-.2 .3h-.8l-.2-.3h-1.6l-.4 .1h-.6l-.4-.1h-4.8l-.2 .3h-.8l-.2-.3h-.8l-.2 .3h-.8l-.2-.3h-1.6l-.4 .1h-1.6l-.4-.1h-2.6l-.4 .1h-.6l-.4-.1h-.8l-.2 .2h-.8l-.2-.2h-.6l-.4 .1h-.6l-.4 .1h-.8l-.2-.2h-1.6l-.4 .1h-.6l-.4-.1h-2.8l-.2 .2h-1.8l-.2-.2h-.6l-.4 .1h-.6l-.4-.1h-.6l-.4 .1h-.6l-.4-.1h-.8z"/>
<path fill="#000000" d="M138 827.1l1-.1h1.8l.4-.1h3.6l.4-.1h1.6l.4-.1h.6l.4 .1h.6l.4-.1h3.6l.4-.1h2.6l.4-.1l.6-.1l.4 .1h.6l.4-.2h.6l.4 .1h.6l.4-.1h.6l.4 .1h2.3l.5-.1h2.2l.6-.1l.2 .1l.5-.1h1.3l.4-.1l.6-.1l.4 .1h1.6l1-.2h.7v3.7h-1.5l-.2 .2h-.6l-.4-.1h-2.8l-.2 .2h-.6l-.4-.1h-1.6l-.4 .1h-.6l-.4-.1l-.3 .1h-3.3l-.4 .2h-.6l-.4-.1h-1.6l-.4 .2h-1.3l-.5 .1l-.2-.1h-.6l-.4-.1h-.6l-.4 .1h-1l-.6 .1h-.4l-1.3-.1l-.5 .1h-2l-.2 .2h-.8l-.2-.2l-.3 .1h-2.5l-.2 .2h-.6l-.4-.1h-.6l-.4 .1h-2.8z"/>
<circle cx="173.3" cy="827.85" r="1.85" fill="#000"/>
<rect x="138.5" y="48.5" width="874.0" height="807.0" fill="none" stroke="#000" stroke-width="1.5"/>
<g stroke="#000" stroke-width="1.2" fill="none">
<path d="M138.5 73.5h-6.2M1012.5 73.5h6.2M138.5 104.5h-6.2M1012.5 104.5h6.2M138.5 136.5h-6.2M1012.5 136.5h6.2M138.5 167.5h-6.2M1012.5 167.5h6.2M138.5 199.5h-6.2M1012.5 199.5h6.2M138.5 230.5h-6.2M1012.5 230.5h6.2M138.5 262.5h-6.2M1012.5 262.5h6.2M138.5 294.5h-6.2M1012.5 294.5h6.2M138.5 325.5h-6.2M1012.5 325.5h6.2M138.5 357.5h-6.2M1012.5 357.5h6.2M138.5 388.5h-6.2M1012.5 388.5h6.2M138.5 420.5h-6.2M1012.5 420.5h6.2M138.5 451.5h-6.2M1012.5 451.5h6.2M138.5 483.5h-6.2M1012.5 483.5h6.2M138.5 514.5h-6.2M1012.5 514.5h6.2M138.5 546.5h-6.2M1012.5 546.5h6.2M138.5 577.5h-6.2M1012.5 577.5h6.2M138.5 609.5h-6.2M1012.5 609.5h6.2M138.5 641.5h-6.2M1012.5 641.5h6.2M138.5 672.5h-6.2M1012.5 672.5h6.2M138.5 704.5h-6.2M1012.5 704.5h6.2M138.5 735.5h-6.2M1012.5 735.5h6.2M138.5 767.5h-6.2M1012.5 767.5h6.2M138.5 798.5h-6.2M1012.5 798.5h6.2M138.5 830.5h-6.2M1012.5 830.5h6.2M138.5 855.5v6.2M357.5 855.5v6.2M575.5 855.5v6.2M794.5 855.5v6.2M1012.5 855.5v6.2"/>
</g>
<g class="t g">
<text transform="translate(126.1 78.15) scale(1 0.91)" text-anchor="end" font-size="13.15">07:00:00</text><text transform="translate(1024.6 78.15) scale(1 0.91)" font-size="13.15">08:00:00</text>
<text transform="translate(126.1 109.15) scale(1 0.91)" text-anchor="end" font-size="13.15">08:00:00</text><text transform="translate(1024.6 109.15) scale(1 0.91)" font-size="13.15">09:00:00</text>
<text transform="translate(126.1 141.15) scale(1 0.91)" text-anchor="end" font-size="13.15">09:00:00</text><text transform="translate(1024.6 141.15) scale(1 0.91)" font-size="13.15">10:00:00</text>
<text transform="translate(126.1 172.15) scale(1 0.91)" text-anchor="end" font-size="13.15">10:00:00</text><text transform="translate(1024.6 172.15) scale(1 0.91)" font-size="13.15">11:00:00</text>
<text transform="translate(126.1 204.15) scale(1 0.91)" text-anchor="end" font-size="13.15">11:00:00</text><text transform="translate(1024.6 204.15) scale(1 0.91)" font-size="13.15">12:00:00</text>
<text transform="translate(126.1 235.15) scale(1 0.91)" text-anchor="end" font-size="13.15">12:00:00</text><text transform="translate(1024.6 235.15) scale(1 0.91)" font-size="13.15">13:00:00</text>
<text transform="translate(126.1 267.15) scale(1 0.91)" text-anchor="end" font-size="13.15">13:00:00</text><text transform="translate(1024.6 267.15) scale(1 0.91)" font-size="13.15">14:00:00</text>
<text transform="translate(126.1 299.15) scale(1 0.91)" text-anchor="end" font-size="13.15">14:00:00</text><text transform="translate(1024.6 299.15) scale(1 0.91)" font-size="13.15">15:00:00</text>
<text transform="translate(126.1 330.15) scale(1 0.91)" text-anchor="end" font-size="13.15">15:00:00</text><text transform="translate(1024.6 330.15) scale(1 0.91)" font-size="13.15">16:00:00</text>
<text transform="translate(126.1 362.15) scale(1 0.91)" text-anchor="end" font-size="13.15">16:00:00</text><text transform="translate(1024.6 362.15) scale(1 0.91)" font-size="13.15">17:00:00</text>
<text transform="translate(126.1 393.15) scale(1 0.91)" text-anchor="end" font-size="13.15">17:00:00</text><text transform="translate(1024.6 393.15) scale(1 0.91)" font-size="13.15">18:00:00</text>
<text transform="translate(126.1 425.15) scale(1 0.91)" text-anchor="end" font-size="13.15">18:00:00</text><text transform="translate(1024.6 425.15) scale(1 0.91)" font-size="13.15">19:00:00</text>
<text transform="translate(126.1 456.15) scale(1 0.91)" text-anchor="end" font-size="13.15">19:00:00</text><text transform="translate(1024.6 456.15) scale(1 0.91)" font-size="13.15">20:00:00</text>
<text transform="translate(126.1 488.15) scale(1 0.91)" text-anchor="end" font-size="13.15">20:00:00</text><text transform="translate(1024.6 488.15) scale(1 0.91)" font-size="13.15">21:00:00</text>
<text transform="translate(126.1 519.15) scale(1 0.91)" text-anchor="end" font-size="13.15">21:00:00</text><text transform="translate(1024.6 519.15) scale(1 0.91)" font-size="13.15">22:00:00</text>
<text transform="translate(126.1 551.15) scale(1 0.91)" text-anchor="end" font-size="13.15">22:00:00</text><text transform="translate(1024.6 551.15) scale(1 0.91)" font-size="13.15">23:00:00</text>
<text transform="translate(126.1 582.15) scale(1 0.91)" text-anchor="end" font-size="13.15">23:00:00</text><text transform="translate(1024.6 582.15) scale(1 0.91)" font-size="13.15">00:00:00</text>
<text transform="translate(126.1 614.15) scale(1 0.91)" text-anchor="end" font-size="13.15">00:00:00</text><text transform="translate(1024.6 614.15) scale(1 0.91)" font-size="13.15">01:00:00</text>
<text transform="translate(126.1 646.15) scale(1 0.91)" text-anchor="end" font-size="13.15">01:00:00</text><text transform="translate(1024.6 646.15) scale(1 0.91)" font-size="13.15">02:00:00</text>
<text transform="translate(126.1 677.15) scale(1 0.91)" text-anchor="end" font-size="13.15">02:00:00</text><text transform="translate(1024.6 677.15) scale(1 0.91)" font-size="13.15">03:00:00</text>
<text transform="translate(126.1 709.15) scale(1 0.91)" text-anchor="end" font-size="13.15">03:00:00</text><text transform="translate(1024.6 709.15) scale(1 0.91)" font-size="13.15">04:00:00</text>
<text transform="translate(126.1 740.15) scale(1 0.91)" text-anchor="end" font-size="13.15">04:00:00</text><text transform="translate(1024.6 740.15) scale(1 0.91)" font-size="13.15">05:00:00</text>
<text transform="translate(126.1 772.15) scale(1 0.91)" text-anchor="end" font-size="13.15">05:00:00</text><text transform="translate(1024.6 772.15) scale(1 0.91)" font-size="13.15">06:00:00</text>
<text transform="translate(126.1 803.15) scale(1 0.91)" text-anchor="end" font-size="13.15">06:00:00</text><text transform="translate(1024.6 803.15) scale(1 0.91)" font-size="13.15">07:00:00</text>
<text transform="translate(126.1 835.15) scale(1 0.91)" text-anchor="end" font-size="13.15">07:00:00</text><text transform="translate(1024.6 835.15) scale(1 0.91)" font-size="13.15">08:00:00</text>
<text transform="translate(139.1 876.9) scale(1 .9)" text-anchor="middle" letter-spacing="-.45">0</text><text transform="translate(355.7 876.9) scale(1 .9)" text-anchor="middle" letter-spacing="-.45">15</text><text transform="translate(575.3 876.9) scale(1 .9)" text-anchor="middle" letter-spacing="-.45">30</text><text transform="translate(793.85 876.9) scale(1 .9)" text-anchor="middle" letter-spacing="-.45">45</text><text transform="translate(1012.05 876.9) scale(1 .9)" text-anchor="middle" letter-spacing="-.45">60</text>
<text transform="translate(574.7 895.7) scale(1 .92)" text-anchor="middle" font-size="13.47">time in minutes</text>
</g>
<g class="g">
<text x="574.9" y="34.4" text-anchor="middle" font-size="20">2026-04-19 BK.DRYC.00.HNE</text>
<text transform="translate(53.9 452.3) rotate(-90) scale(1 1.07)" text-anchor="middle" font-size="16.67">UTC (local time = UTC - 07:00)</text>
</g>
</svg>
</body></html>
